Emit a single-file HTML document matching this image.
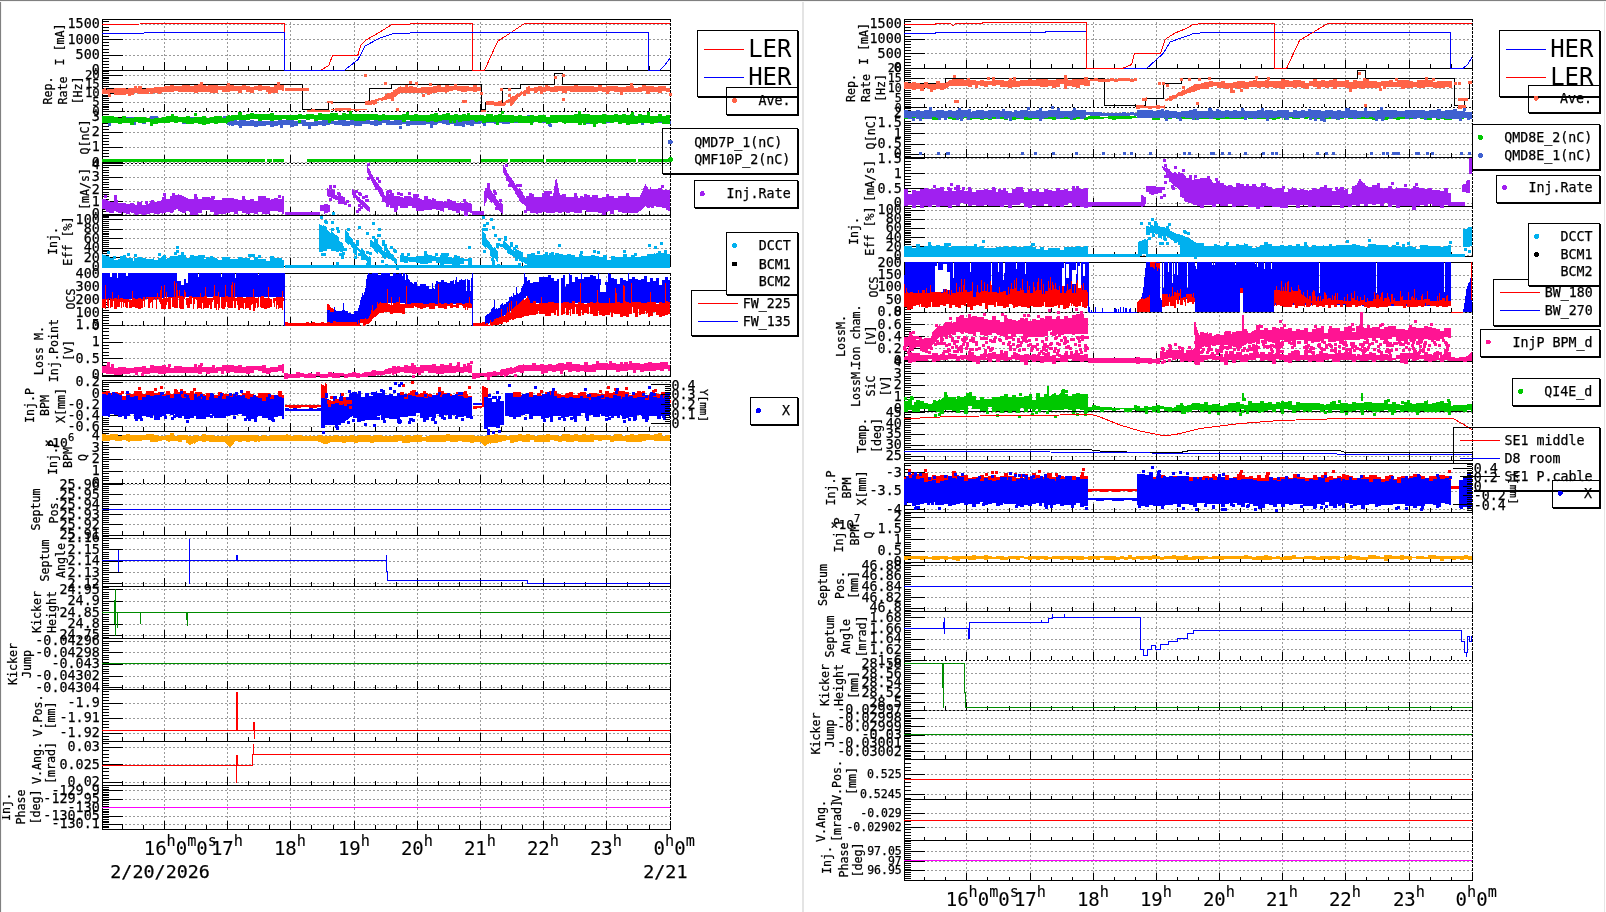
<!DOCTYPE html><html><head><meta charset="utf-8"><title>Injection monitor</title><style>html,body{margin:0;padding:0;background:#fff;overflow:hidden}svg{display:block}text{shape-rendering:auto;stroke:#000;stroke-width:0.25px}</style></head><body><svg width="1606" height="912" viewBox="0 0 1606 912" shape-rendering="crispEdges" style="will-change:transform"><rect width="1606" height="912" fill="#fff"/>
<path d="M103 24.5H670M103 39.5H670M103 55.5H670M164.5 20V70M227.5 20V70M290.5 20V70M354.5 20V70M417.5 20V70M480.5 20V70M543.5 20V70M606.5 20V70" stroke="#9a9a9a" stroke-dasharray="2 2" stroke-dashoffset="2" fill="none"/>
<path d="M103 75.5H670M103 84.5H670M103 93.5H670M103 102.5H670M164.5 71V111M227.5 71V111M290.5 71V111M354.5 71V111M417.5 71V111M480.5 71V111M543.5 71V111M606.5 71V111" stroke="#9a9a9a" stroke-dasharray="2 2" stroke-dashoffset="2" fill="none"/>
<path d="M103 117.5H670M103 132.5H670M103 147.5H670M103 162.5H670M164.5 112V163M227.5 112V163M290.5 112V163M354.5 112V163M417.5 112V163M480.5 112V163M543.5 112V163M606.5 112V163" stroke="#9a9a9a" stroke-dasharray="2 2" stroke-dashoffset="2" fill="none"/>
<path d="M103 165.5H670M103 177.5H670M103 189.5H670M103 201.5H670M103 214.5H670M164.5 164V215M227.5 164V215M290.5 164V215M354.5 164V215M417.5 164V215M480.5 164V215M543.5 164V215M606.5 164V215" stroke="#9a9a9a" stroke-dasharray="2 2" stroke-dashoffset="2" fill="none"/>
<path d="M103 219.5H670M103 229.5H670M103 238.5H670M103 248.5H670M103 257.5H670M164.5 216V266M227.5 216V266M290.5 216V266M354.5 216V266M417.5 216V266M480.5 216V266M543.5 216V266M606.5 216V266" stroke="#9a9a9a" stroke-dasharray="2 2" stroke-dashoffset="2" fill="none"/>
<path d="M103 273.5H670M103 286.5H670M103 299.5H670M103 312.5H670M164.5 274V325M227.5 274V325M290.5 274V325M354.5 274V325M417.5 274V325M480.5 274V325M543.5 274V325M606.5 274V325" stroke="#9a9a9a" stroke-dasharray="2 2" stroke-dashoffset="2" fill="none"/>
<path d="M103 325.5H670M103 342.5H670M103 358.5H670M103 375.5H670M164.5 326V376M227.5 326V376M290.5 326V376M354.5 326V376M417.5 326V376M480.5 326V376M543.5 326V376M606.5 326V376" stroke="#9a9a9a" stroke-dasharray="2 2" stroke-dashoffset="2" fill="none"/>
<path d="M103 382.5H670M103 393.5H670M103 404.5H670M103 415.5H670M103 426.5H670M164.5 381V431M227.5 381V431M290.5 381V431M354.5 381V431M417.5 381V431M480.5 381V431M543.5 381V431M606.5 381V431" stroke="#9a9a9a" stroke-dasharray="2 2" stroke-dashoffset="2" fill="none"/>
<path d="M103 435.5H670M103 447.5H670M103 459.5H670M103 471.5H670M164.5 432V483M227.5 432V483M290.5 432V483M354.5 432V483M417.5 432V483M480.5 432V483M543.5 432V483M606.5 432V483" stroke="#9a9a9a" stroke-dasharray="2 2" stroke-dashoffset="2" fill="none"/>
<path d="M103 484.5H670M103 494.5H670M103 504.5H670M103 514.5H670M103 524.5H670M164.5 484V535M227.5 484V535M290.5 484V535M354.5 484V535M417.5 484V535M480.5 484V535M543.5 484V535M606.5 484V535" stroke="#9a9a9a" stroke-dasharray="2 2" stroke-dashoffset="2" fill="none"/>
<path d="M103 538.5H670M103 549.5H670M103 561.5H670M103 572.5H670M103 583.5H670M164.5 536V586M227.5 536V586M290.5 536V586M354.5 536V586M417.5 536V586M480.5 536V586M543.5 536V586M606.5 536V586" stroke="#9a9a9a" stroke-dasharray="2 2" stroke-dashoffset="2" fill="none"/>
<path d="M103 589.5H670M103 601.5H670M103 612.5H670M103 624.5H670M103 635.5H670M164.5 587V638M227.5 587V638M290.5 587V638M354.5 587V638M417.5 587V638M480.5 587V638M543.5 587V638M606.5 587V638" stroke="#9a9a9a" stroke-dasharray="2 2" stroke-dashoffset="2" fill="none"/>
<path d="M103 641.5H670M103 652.5H670M103 664.5H670M103 676.5H670M103 687.5H670M164.5 639V689M227.5 639V689M290.5 639V689M354.5 639V689M417.5 639V689M480.5 639V689M543.5 639V689M606.5 639V689" stroke="#9a9a9a" stroke-dasharray="2 2" stroke-dashoffset="2" fill="none"/>
<path d="M103 703.5H670M103 718.5H670M103 733.5H670M164.5 690V741M227.5 690V741M290.5 690V741M354.5 690V741M417.5 690V741M480.5 690V741M543.5 690V741M606.5 690V741" stroke="#9a9a9a" stroke-dasharray="2 2" stroke-dashoffset="2" fill="none"/>
<path d="M103 747.5H670M103 764.5H670M103 782.5H670M164.5 742V785M227.5 742V785M290.5 742V785M354.5 742V785M417.5 742V785M480.5 742V785M543.5 742V785M606.5 742V785" stroke="#9a9a9a" stroke-dasharray="2 2" stroke-dashoffset="2" fill="none"/>
<path d="M103 790.5H670M103 799.5H670M103 807.5H670M103 816.5H670M103 824.5H670M164.5 786V829M227.5 786V829M290.5 786V829M354.5 786V829M417.5 786V829M480.5 786V829M543.5 786V829M606.5 786V829" stroke="#9a9a9a" stroke-dasharray="2 2" stroke-dashoffset="2" fill="none"/>
<path d="M905 24.5H1472M905 39.5H1472M905 53.5H1472M966.5 20V68M1030.5 20V68M1093.5 20V68M1156.5 20V68M1219.5 20V68M1282.5 20V68M1345.5 20V68M1409.5 20V68" stroke="#9a9a9a" stroke-dasharray="2 2" stroke-dashoffset="2" fill="none"/>
<path d="M905 68.5H1472M905 78.5H1472M905 88.5H1472M905 98.5H1472M966.5 69V107M1030.5 69V107M1093.5 69V107M1156.5 69V107M1219.5 69V107M1282.5 69V107M1345.5 69V107M1409.5 69V107" stroke="#9a9a9a" stroke-dasharray="2 2" stroke-dashoffset="2" fill="none"/>
<path d="M905 112.5H1472M905 123.5H1472M905 133.5H1472M905 144.5H1472M905 154.5H1472M966.5 108V157M1030.5 108V157M1093.5 108V157M1156.5 108V157M1219.5 108V157M1282.5 108V157M1345.5 108V157M1409.5 108V157" stroke="#9a9a9a" stroke-dasharray="2 2" stroke-dashoffset="2" fill="none"/>
<path d="M905 158.5H1472M905 173.5H1472M905 188.5H1472M905 203.5H1472M966.5 158V206M1030.5 158V206M1093.5 158V206M1156.5 158V206M1219.5 158V206M1282.5 158V206M1345.5 158V206M1409.5 158V206" stroke="#9a9a9a" stroke-dasharray="2 2" stroke-dashoffset="2" fill="none"/>
<path d="M905 210.5H1472M905 219.5H1472M905 228.5H1472M905 237.5H1472M905 246.5H1472M905 255.5H1472M966.5 207V256M1030.5 207V256M1093.5 207V256M1156.5 207V256M1219.5 207V256M1282.5 207V256M1345.5 207V256M1409.5 207V256" stroke="#9a9a9a" stroke-dasharray="2 2" stroke-dashoffset="2" fill="none"/>
<path d="M905 262.5H1472M905 275.5H1472M905 287.5H1472M905 299.5H1472M966.5 263V312M1030.5 263V312M1093.5 263V312M1156.5 263V312M1219.5 263V312M1282.5 263V312M1345.5 263V312M1409.5 263V312" stroke="#9a9a9a" stroke-dasharray="2 2" stroke-dashoffset="2" fill="none"/>
<path d="M905 312.5H1472M905 324.5H1472M905 336.5H1472M905 348.5H1472M905 360.5H1472M966.5 313V361M1030.5 313V361M1093.5 313V361M1156.5 313V361M1219.5 313V361M1282.5 313V361M1345.5 313V361M1409.5 313V361" stroke="#9a9a9a" stroke-dasharray="2 2" stroke-dashoffset="2" fill="none"/>
<path d="M905 361.5H1472M905 373.5H1472M905 385.5H1472M905 397.5H1472M905 408.5H1472M966.5 362V411M1030.5 362V411M1093.5 362V411M1156.5 362V411M1219.5 362V411M1282.5 362V411M1345.5 362V411M1409.5 362V411" stroke="#9a9a9a" stroke-dasharray="2 2" stroke-dashoffset="2" fill="none"/>
<path d="M905 412.5H1472M905 423.5H1472M905 434.5H1472M905 445.5H1472M905 456.5H1472M966.5 412V460M1030.5 412V460M1093.5 412V460M1156.5 412V460M1219.5 412V460M1282.5 412V460M1345.5 412V460M1409.5 412V460" stroke="#9a9a9a" stroke-dasharray="2 2" stroke-dashoffset="2" fill="none"/>
<path d="M905 472.5H1472M905 491.5H1472M905 509.5H1472M966.5 464V512M1030.5 464V512M1093.5 464V512M1156.5 464V512M1219.5 464V512M1282.5 464V512M1345.5 464V512M1409.5 464V512" stroke="#9a9a9a" stroke-dasharray="2 2" stroke-dashoffset="2" fill="none"/>
<path d="M905 517.5H1472M905 528.5H1472M905 539.5H1472M905 551.5H1472M966.5 513V562M1030.5 513V562M1093.5 513V562M1156.5 513V562M1219.5 513V562M1282.5 513V562M1345.5 513V562M1409.5 513V562" stroke="#9a9a9a" stroke-dasharray="2 2" stroke-dashoffset="2" fill="none"/>
<path d="M905 565.5H1472M905 576.5H1472M905 586.5H1472M905 597.5H1472M905 608.5H1472M966.5 563V611M1030.5 563V611M1093.5 563V611M1156.5 563V611M1219.5 563V611M1282.5 563V611M1345.5 563V611M1409.5 563V611" stroke="#9a9a9a" stroke-dasharray="2 2" stroke-dashoffset="2" fill="none"/>
<path d="M905 617.5H1472M905 628.5H1472M905 639.5H1472M905 649.5H1472M966.5 612V660M1030.5 612V660M1093.5 612V660M1156.5 612V660M1219.5 612V660M1282.5 612V660M1345.5 612V660M1409.5 612V660" stroke="#9a9a9a" stroke-dasharray="2 2" stroke-dashoffset="2" fill="none"/>
<path d="M905 663.5H1472M905 673.5H1472M905 683.5H1472M905 693.5H1472M905 702.5H1472M966.5 661V710M1030.5 661V710M1093.5 661V710M1156.5 661V710M1219.5 661V710M1282.5 661V710M1345.5 661V710M1409.5 661V710" stroke="#9a9a9a" stroke-dasharray="2 2" stroke-dashoffset="2" fill="none"/>
<path d="M905 710.5H1472M905 718.5H1472M905 726.5H1472M905 735.5H1472M905 743.5H1472M905 751.5H1472M966.5 711V759M1030.5 711V759M1093.5 711V759M1156.5 711V759M1219.5 711V759M1282.5 711V759M1345.5 711V759M1409.5 711V759" stroke="#9a9a9a" stroke-dasharray="2 2" stroke-dashoffset="2" fill="none"/>
<path d="M905 774.5H1472M905 794.5H1472M966.5 760V799M1030.5 760V799M1093.5 760V799M1156.5 760V799M1219.5 760V799M1282.5 760V799M1345.5 760V799M1409.5 760V799" stroke="#9a9a9a" stroke-dasharray="2 2" stroke-dashoffset="2" fill="none"/>
<path d="M905 813.5H1472M905 827.5H1472M966.5 800V840M1030.5 800V840M1093.5 800V840M1156.5 800V840M1219.5 800V840M1282.5 800V840M1345.5 800V840M1409.5 800V840" stroke="#9a9a9a" stroke-dasharray="2 2" stroke-dashoffset="2" fill="none"/>
<path d="M905 851.5H1472M905 861.5H1472M905 870.5H1472M966.5 841V880M1030.5 841V880M1093.5 841V880M1156.5 841V880M1219.5 841V880M1282.5 841V880M1345.5 841V880M1409.5 841V880" stroke="#9a9a9a" stroke-dasharray="2 2" stroke-dashoffset="2" fill="none"/>
<path d="M102.5 19V71M102 19.5H671M103 24.5h20M103 39.5h20M103 55.5h20M103 70.5h20M103 70.5h6M103 67.5h6M103 64.5h6M103 61.5h6M103 58.5h6M103 55.5h6M103 52.5h6M103 49.5h6M103 45.5h6M103 42.5h6M103 39.5h6M103 36.5h6M103 33.5h6M103 30.5h6M103 27.5h6M103 24.5h6M103 21.5h6M122.5 70v-4M143.5 70v-4M164.5 70v-8M185.5 70v-4M206.5 70v-4M227.5 70v-8M248.5 70v-4M269.5 70v-4M290.5 70v-8M311.5 70v-4M333.5 70v-4M354.5 70v-8M375.5 70v-4M396.5 70v-4M417.5 70v-8M438.5 70v-4M459.5 70v-4M480.5 70v-8M501.5 70v-4M522.5 70v-4M543.5 70v-8M564.5 70v-4M585.5 70v-4M606.5 70v-8M627.5 70v-4M649.5 70v-4M670.5 70v-8" stroke="#000" fill="none"/>
<path d="M102 70.5H671" stroke="#000" fill="none"/>
<path d="M670.5 19V71" stroke="#000" stroke-dasharray="3 1" fill="none"/>
<g font-family="'DejaVu Sans Mono','Liberation Mono',monospace" font-size="13.4" text-anchor="end"><text x="99.8" y="28.4">1500</text><text x="99.8" y="43.7">1000</text><text x="99.8" y="59.1">500</text><text x="99.8" y="74.4">0</text></g>
<g font-family="'DejaVu Sans Mono','Liberation Mono',monospace" font-size="11.7" text-anchor="middle"><text transform="translate(64.3 44.5) rotate(-90)">I [mA]</text></g>
<path d="M102.5 70V112M102 70.5H671M103 75.5h20M103 84.5h20M103 93.5h20M103 102.5h20M103 111.5h20M103 111.5h6M103 109.5h6M103 107.5h6M103 106.5h6M103 104.5h6M103 102.5h6M103 100.5h6M103 98.5h6M103 96.5h6M103 95.5h6M103 93.5h6M103 91.5h6M103 89.5h6M103 88.5h6M103 86.5h6M103 84.5h6M103 82.5h6M103 80.5h6M103 78.5h6M103 77.5h6M103 75.5h6M103 73.5h6M103 71.5h6M103 70.5h6M122.5 111v-3M143.5 111v-3M164.5 111v-7M185.5 111v-3M206.5 111v-3M227.5 111v-7M248.5 111v-3M269.5 111v-3M290.5 111v-7M311.5 111v-3M333.5 111v-3M354.5 111v-7M375.5 111v-3M396.5 111v-3M417.5 111v-7M438.5 111v-3M459.5 111v-3M480.5 111v-7M501.5 111v-3M522.5 111v-3M543.5 111v-7M564.5 111v-3M585.5 111v-3M606.5 111v-7M627.5 111v-3M649.5 111v-3M670.5 111v-7" stroke="#000" fill="none"/>
<path d="M103 111.5H671" stroke="#000" stroke-dasharray="2 2" fill="none"/>
<path d="M102 111.5H123" stroke="#000" fill="none"/>
<path d="M670.5 70V112" stroke="#000" stroke-dasharray="3 1" fill="none"/>
<g font-family="'DejaVu Sans Mono','Liberation Mono',monospace" font-size="12.4" text-anchor="end"><text x="99.8" y="79.0">20</text><text x="99.8" y="88.0">15</text><text x="99.8" y="97.0">10</text><text x="99.8" y="106.0">5</text><text x="99.8" y="115.0">0</text></g>
<g font-family="'DejaVu Sans Mono','Liberation Mono',monospace" font-size="11.7" text-anchor="middle"><text transform="translate(52.3 90.5) rotate(-90)">Rep.</text><text transform="translate(67.3 90.5) rotate(-90)">Rate</text><text transform="translate(82.0 90.5) rotate(-90)">[Hz]</text></g>
<path d="M102.5 111V164M103 117.5h20M103 132.5h20M103 147.5h20M103 162.5h20M103 162.5h6M103 159.5h6M103 156.5h6M103 153.5h6M103 150.5h6M103 147.5h6M103 144.5h6M103 141.5h6M103 138.5h6M103 135.5h6M103 132.5h6M103 129.5h6M103 126.5h6M103 123.5h6M103 120.5h6M103 117.5h6M103 114.5h6M103 111.5h6M122.5 163v-4M143.5 163v-4M164.5 163v-8M185.5 163v-4M206.5 163v-4M227.5 163v-8M248.5 163v-4M269.5 163v-4M290.5 163v-8M311.5 163v-4M333.5 163v-4M354.5 163v-8M375.5 163v-4M396.5 163v-4M417.5 163v-8M438.5 163v-4M459.5 163v-4M480.5 163v-8M501.5 163v-4M522.5 163v-4M543.5 163v-8M564.5 163v-4M585.5 163v-4M606.5 163v-8M627.5 163v-4M649.5 163v-4M670.5 163v-8" stroke="#000" fill="none"/>
<path d="M103 163.5H671" stroke="#000" stroke-dasharray="2 2" fill="none"/>
<path d="M102 163.5H123" stroke="#000" fill="none"/>
<path d="M670.5 111V164" stroke="#000" stroke-dasharray="3 1" fill="none"/>
<g font-family="'DejaVu Sans Mono','Liberation Mono',monospace" font-size="13.4" text-anchor="end"><text x="99.8" y="121.2">3</text><text x="99.8" y="136.3">2</text><text x="99.8" y="151.4">1</text><text x="99.8" y="166.5">0</text></g>
<g font-family="'DejaVu Sans Mono','Liberation Mono',monospace" font-size="11.7" text-anchor="middle"><text transform="translate(88.5 137.0) rotate(-90)">Q[nC]</text></g>
<path d="M102.5 163V216M103 165.5h20M103 177.5h20M103 189.5h20M103 201.5h20M103 214.5h20M103 214.5h6M103 211.5h6M103 209.5h6M103 206.5h6M103 204.5h6M103 201.5h6M103 199.5h6M103 196.5h6M103 194.5h6M103 192.5h6M103 189.5h6M103 187.5h6M103 184.5h6M103 182.5h6M103 179.5h6M103 177.5h6M103 175.5h6M103 172.5h6M103 170.5h6M103 167.5h6M103 165.5h6M122.5 215v-4M143.5 215v-4M164.5 215v-8M185.5 215v-4M206.5 215v-4M227.5 215v-8M248.5 215v-4M269.5 215v-4M290.5 215v-8M311.5 215v-4M333.5 215v-4M354.5 215v-8M375.5 215v-4M396.5 215v-4M417.5 215v-8M438.5 215v-4M459.5 215v-4M480.5 215v-8M501.5 215v-4M522.5 215v-4M543.5 215v-8M564.5 215v-4M585.5 215v-4M606.5 215v-8M627.5 215v-4M649.5 215v-4M670.5 215v-8" stroke="#000" fill="none"/>
<path d="M102 215.5H671" stroke="#000" fill="none"/>
<path d="M670.5 163V216" stroke="#000" stroke-dasharray="3 1" fill="none"/>
<g font-family="'DejaVu Sans Mono','Liberation Mono',monospace" font-size="13.4" text-anchor="end"><text x="99.8" y="169.2">4</text><text x="99.8" y="181.4">3</text><text x="99.8" y="193.6">2</text><text x="99.8" y="205.7">1</text><text x="99.8" y="217.9">0</text></g>
<g font-family="'DejaVu Sans Mono','Liberation Mono',monospace" font-size="11.7" text-anchor="middle"><text transform="translate(88.5 189.0) rotate(-90)">[mA/s]</text></g>
<path d="M102.5 215V267M102 215.5H671M103 219.5h20M103 229.5h20M103 238.5h20M103 248.5h20M103 257.5h20M103 266.5h20M103 266.5h6M103 265.5h6M103 263.5h6M103 261.5h6M103 259.5h6M103 257.5h6M103 255.5h6M103 253.5h6M103 251.5h6M103 250.5h6M103 248.5h6M103 246.5h6M103 244.5h6M103 242.5h6M103 240.5h6M103 238.5h6M103 236.5h6M103 234.5h6M103 233.5h6M103 231.5h6M103 229.5h6M103 227.5h6M103 225.5h6M103 223.5h6M103 221.5h6M103 219.5h6M103 217.5h6M103 216.5h6M122.5 266v-4M143.5 266v-4M164.5 266v-8M185.5 266v-4M206.5 266v-4M227.5 266v-8M248.5 266v-4M269.5 266v-4M290.5 266v-8M311.5 266v-4M333.5 266v-4M354.5 266v-8M375.5 266v-4M396.5 266v-4M417.5 266v-8M438.5 266v-4M459.5 266v-4M480.5 266v-8M501.5 266v-4M522.5 266v-4M543.5 266v-8M564.5 266v-4M585.5 266v-4M606.5 266v-8M627.5 266v-4M649.5 266v-4M670.5 266v-8" stroke="#000" fill="none"/>
<path d="M102 266.5H671" stroke="#000" fill="none"/>
<path d="M670.5 215V267" stroke="#000" stroke-dasharray="3 1" fill="none"/>
<g font-family="'DejaVu Sans Mono','Liberation Mono',monospace" font-size="13.4" text-anchor="end"><text x="99.8" y="223.7">100</text><text x="99.8" y="233.1">80</text><text x="99.8" y="242.6">60</text><text x="99.8" y="252.0">40</text><text x="99.8" y="261.5">20</text><text x="99.8" y="270.9">0</text></g>
<g font-family="'DejaVu Sans Mono','Liberation Mono',monospace" font-size="11.7" text-anchor="middle"><text transform="translate(57.0 241.0) rotate(-90)">Inj.</text><text transform="translate(72.0 241.0) rotate(-90)">Eff [%]</text></g>
<path d="M102.5 273V326M102 273.5H671M103 273.5h20M103 286.5h20M103 299.5h20M103 312.5h20M103 325.5h20M103 325.5h6M103 323.5h6M103 320.5h6M103 317.5h6M103 315.5h6M103 312.5h6M103 310.5h6M103 307.5h6M103 304.5h6M103 302.5h6M103 299.5h6M103 297.5h6M103 294.5h6M103 291.5h6M103 289.5h6M103 286.5h6M103 284.5h6M103 281.5h6M103 278.5h6M103 276.5h6M103 273.5h6M122.5 325v-4M143.5 325v-4M164.5 325v-8M185.5 325v-4M206.5 325v-4M227.5 325v-8M248.5 325v-4M269.5 325v-4M290.5 325v-8M311.5 325v-4M333.5 325v-4M354.5 325v-8M375.5 325v-4M396.5 325v-4M417.5 325v-8M438.5 325v-4M459.5 325v-4M480.5 325v-8M501.5 325v-4M522.5 325v-4M543.5 325v-8M564.5 325v-4M585.5 325v-4M606.5 325v-8M627.5 325v-4M649.5 325v-4M670.5 325v-8" stroke="#000" fill="none"/>
<path d="M103 325.5H671" stroke="#000" stroke-dasharray="2 2" fill="none"/>
<path d="M102 325.5H123" stroke="#000" fill="none"/>
<path d="M670.5 273V326" stroke="#000" stroke-dasharray="3 1" fill="none"/>
<g font-family="'DejaVu Sans Mono','Liberation Mono',monospace" font-size="13.4" text-anchor="end"><text x="99.8" y="277.7">400</text><text x="99.8" y="290.7">300</text><text x="99.8" y="303.6">200</text><text x="99.8" y="316.6">100</text><text x="99.8" y="329.6">0</text></g>
<g font-family="'DejaVu Sans Mono','Liberation Mono',monospace" font-size="11.7" text-anchor="middle"><text transform="translate(75.0 299.0) rotate(-90)">OCS</text></g>
<path d="M102.5 325V377M103 325.5h20M103 342.5h20M103 358.5h20M103 375.5h20M103 375.5h6M103 372.5h6M103 368.5h6M103 365.5h6M103 362.5h6M103 358.5h6M103 355.5h6M103 352.5h6M103 348.5h6M103 345.5h6M103 342.5h6M103 338.5h6M103 335.5h6M103 331.5h6M103 328.5h6M103 325.5h6M122.5 376v-4M143.5 376v-4M164.5 376v-8M185.5 376v-4M206.5 376v-4M227.5 376v-8M248.5 376v-4M269.5 376v-4M290.5 376v-8M311.5 376v-4M333.5 376v-4M354.5 376v-8M375.5 376v-4M396.5 376v-4M417.5 376v-8M438.5 376v-4M459.5 376v-4M480.5 376v-8M501.5 376v-4M522.5 376v-4M543.5 376v-8M564.5 376v-4M585.5 376v-4M606.5 376v-8M627.5 376v-4M649.5 376v-4M670.5 376v-8" stroke="#000" fill="none"/>
<path d="M102 376.5H671" stroke="#000" fill="none"/>
<path d="M670.5 325V377" stroke="#000" stroke-dasharray="3 1" fill="none"/>
<g font-family="'DejaVu Sans Mono','Liberation Mono',monospace" font-size="13.4" text-anchor="end"><text x="99.8" y="329.1">1.5</text><text x="99.8" y="345.9">1</text><text x="99.8" y="362.6">0.5</text><text x="99.8" y="379.4">0</text></g>
<g font-family="'DejaVu Sans Mono','Liberation Mono',monospace" font-size="11.7" text-anchor="middle"><text transform="translate(42.5 350.5) rotate(-90)">Loss M.</text><text transform="translate(57.5 350.5) rotate(-90)">Inj.Point</text><text transform="translate(72.5 350.5) rotate(-90)">[V]</text></g>
<path d="M102.5 380V432M102 380.5H671M103 382.5h20M103 393.5h20M103 404.5h20M103 415.5h20M103 426.5h20M103 431.5h6M103 429.5h6M103 426.5h6M103 424.5h6M103 422.5h6M103 420.5h6M103 418.5h6M103 415.5h6M103 413.5h6M103 411.5h6M103 409.5h6M103 406.5h6M103 404.5h6M103 402.5h6M103 400.5h6M103 398.5h6M103 395.5h6M103 393.5h6M103 391.5h6M103 389.5h6M103 386.5h6M103 384.5h6M103 382.5h6M103 380.5h6M122.5 431v-4M143.5 431v-4M164.5 431v-8M185.5 431v-4M206.5 431v-4M227.5 431v-8M248.5 431v-4M269.5 431v-4M290.5 431v-8M311.5 431v-4M333.5 431v-4M354.5 431v-8M375.5 431v-4M396.5 431v-4M417.5 431v-8M438.5 431v-4M459.5 431v-4M480.5 431v-8M501.5 431v-4M522.5 431v-4M543.5 431v-8M564.5 431v-4M585.5 431v-4M606.5 431v-8M627.5 431v-4M649.5 431v-4M670.5 431v-8" stroke="#000" fill="none"/>
<path d="M102 431.5H671" stroke="#000" fill="none"/>
<path d="M670.5 380V432" stroke="#000" stroke-dasharray="3 1" fill="none"/>
<g font-family="'DejaVu Sans Mono','Liberation Mono',monospace" font-size="13.4" text-anchor="end"><text x="99.8" y="386.4">0.2</text><text x="99.8" y="397.5">0</text><text x="99.8" y="408.6">-0.2</text><text x="99.8" y="419.7">-0.4</text><text x="99.8" y="430.8">-0.6</text></g>
<g font-family="'DejaVu Sans Mono','Liberation Mono',monospace" font-size="11.7" text-anchor="middle"><text transform="translate(33.8 405.5) rotate(-90)">Inj.P</text><text transform="translate(49.3 405.5) rotate(-90)">BPM</text><text transform="translate(64.8 405.5) rotate(-90)">X[mm]</text></g>
<path d="M102.5 431V484M102 431.5H671M103 435.5h20M103 447.5h20M103 459.5h20M103 471.5h20M103 483.5h20M103 483.5h6M103 480.5h6M103 478.5h6M103 476.5h6M103 473.5h6M103 471.5h6M103 468.5h6M103 466.5h6M103 464.5h6M103 461.5h6M103 459.5h6M103 457.5h6M103 454.5h6M103 452.5h6M103 449.5h6M103 447.5h6M103 445.5h6M103 442.5h6M103 440.5h6M103 438.5h6M103 435.5h6M103 433.5h6M122.5 483v-4M143.5 483v-4M164.5 483v-8M185.5 483v-4M206.5 483v-4M227.5 483v-8M248.5 483v-4M269.5 483v-4M290.5 483v-8M311.5 483v-4M333.5 483v-4M354.5 483v-8M375.5 483v-4M396.5 483v-4M417.5 483v-8M438.5 483v-4M459.5 483v-4M480.5 483v-8M501.5 483v-4M522.5 483v-4M543.5 483v-8M564.5 483v-4M585.5 483v-4M606.5 483v-8M627.5 483v-4M649.5 483v-4M670.5 483v-8" stroke="#000" fill="none"/>
<path d="M103 483.5H671" stroke="#000" stroke-dasharray="2 2" fill="none"/>
<path d="M102 483.5H123" stroke="#000" fill="none"/>
<path d="M670.5 431V484" stroke="#000" stroke-dasharray="3 1" fill="none"/>
<g font-family="'DejaVu Sans Mono','Liberation Mono',monospace" font-size="13.4" text-anchor="end"><text x="99.8" y="439.6">4</text><text x="99.8" y="451.5">3</text><text x="99.8" y="463.4">2</text><text x="99.8" y="475.2">1</text><text x="99.8" y="487.1">0</text></g>
<g font-family="'DejaVu Sans Mono','Liberation Mono',monospace" font-size="11.7" text-anchor="middle"><text transform="translate(56.5 457.5) rotate(-90)">Inj.P</text><text transform="translate(72.3 457.5) rotate(-90)">BPM</text><text transform="translate(87.0 457.5) rotate(-90)">Q</text></g>
<path d="M102.5 483V536M103 484.5h20M103 494.5h20M103 504.5h20M103 514.5h20M103 524.5h20M103 535.5h20M103 535.5h6M103 533.5h6M103 531.5h6M103 529.5h6M103 527.5h6M103 524.5h6M103 522.5h6M103 520.5h6M103 518.5h6M103 516.5h6M103 514.5h6M103 512.5h6M103 510.5h6M103 508.5h6M103 506.5h6M103 504.5h6M103 502.5h6M103 500.5h6M103 498.5h6M103 496.5h6M103 494.5h6M103 492.5h6M103 490.5h6M103 488.5h6M103 486.5h6M103 484.5h6M122.5 535v-4M143.5 535v-4M164.5 535v-8M185.5 535v-4M206.5 535v-4M227.5 535v-8M248.5 535v-4M269.5 535v-4M290.5 535v-8M311.5 535v-4M333.5 535v-4M354.5 535v-8M375.5 535v-4M396.5 535v-4M417.5 535v-8M438.5 535v-4M459.5 535v-4M480.5 535v-8M501.5 535v-4M522.5 535v-4M543.5 535v-8M564.5 535v-4M585.5 535v-4M606.5 535v-8M627.5 535v-4M649.5 535v-4M670.5 535v-8" stroke="#000" fill="none"/>
<path d="M102 535.5H671" stroke="#000" fill="none"/>
<path d="M670.5 483V536" stroke="#000" stroke-dasharray="3 1" fill="none"/>
<g font-family="'DejaVu Sans Mono','Liberation Mono',monospace" font-size="13.4" text-anchor="end"><text x="99.8" y="488.5">25.96</text><text x="99.8" y="498.6">25.95</text><text x="99.8" y="508.7">25.94</text><text x="99.8" y="518.8">25.93</text><text x="99.8" y="528.9">25.92</text><text x="99.8" y="539.0">25.91</text></g>
<g font-family="'DejaVu Sans Mono','Liberation Mono',monospace" font-size="11.7" text-anchor="middle"><text transform="translate(40.0 509.5) rotate(-90)">Septum</text><text transform="translate(57.5 509.5) rotate(-90)">Pos.</text></g>
<path d="M102.5 535V587M102 535.5H671M103 538.5h20M103 549.5h20M103 561.5h20M103 572.5h20M103 583.5h20M103 586.5h6M103 583.5h6M103 581.5h6M103 579.5h6M103 577.5h6M103 574.5h6M103 572.5h6M103 570.5h6M103 568.5h6M103 565.5h6M103 563.5h6M103 561.5h6M103 558.5h6M103 556.5h6M103 554.5h6M103 552.5h6M103 549.5h6M103 547.5h6M103 545.5h6M103 543.5h6M103 540.5h6M103 538.5h6M103 536.5h6M122.5 586v-4M143.5 586v-4M164.5 586v-8M185.5 586v-4M206.5 586v-4M227.5 586v-8M248.5 586v-4M269.5 586v-4M290.5 586v-8M311.5 586v-4M333.5 586v-4M354.5 586v-8M375.5 586v-4M396.5 586v-4M417.5 586v-8M438.5 586v-4M459.5 586v-4M480.5 586v-8M501.5 586v-4M522.5 586v-4M543.5 586v-8M564.5 586v-4M585.5 586v-4M606.5 586v-8M627.5 586v-4M649.5 586v-4M670.5 586v-8" stroke="#000" fill="none"/>
<path d="M102 586.5H671" stroke="#000" fill="none"/>
<path d="M670.5 535V587" stroke="#000" stroke-dasharray="3 1" fill="none"/>
<g font-family="'DejaVu Sans Mono','Liberation Mono',monospace" font-size="13.4" text-anchor="end"><text x="99.8" y="542.4">2.16</text><text x="99.8" y="553.8">2.15</text><text x="99.8" y="565.1">2.14</text><text x="99.8" y="576.5">2.13</text><text x="99.8" y="587.8">2.12</text></g>
<g font-family="'DejaVu Sans Mono','Liberation Mono',monospace" font-size="11.7" text-anchor="middle"><text transform="translate(48.5 560.5) rotate(-90)">Septum</text><text transform="translate(64.5 560.5) rotate(-90)">Angle</text></g>
<path d="M102.5 586V639M102 586.5H671M103 589.5h20M103 601.5h20M103 612.5h20M103 624.5h20M103 635.5h20M103 637.5h6M103 635.5h6M103 633.5h6M103 630.5h6M103 628.5h6M103 626.5h6M103 624.5h6M103 621.5h6M103 619.5h6M103 617.5h6M103 614.5h6M103 612.5h6M103 610.5h6M103 608.5h6M103 605.5h6M103 603.5h6M103 601.5h6M103 598.5h6M103 596.5h6M103 594.5h6M103 592.5h6M103 589.5h6M103 587.5h6M122.5 638v-4M143.5 638v-4M164.5 638v-8M185.5 638v-4M206.5 638v-4M227.5 638v-8M248.5 638v-4M269.5 638v-4M290.5 638v-8M311.5 638v-4M333.5 638v-4M354.5 638v-8M375.5 638v-4M396.5 638v-4M417.5 638v-8M438.5 638v-4M459.5 638v-4M480.5 638v-8M501.5 638v-4M522.5 638v-4M543.5 638v-8M564.5 638v-4M585.5 638v-4M606.5 638v-8M627.5 638v-4M649.5 638v-4M670.5 638v-8" stroke="#000" fill="none"/>
<path d="M102 638.5H671" stroke="#000" fill="none"/>
<path d="M670.5 586V639" stroke="#000" stroke-dasharray="3 1" fill="none"/>
<g font-family="'DejaVu Sans Mono','Liberation Mono',monospace" font-size="13.4" text-anchor="end"><text x="99.8" y="593.7">24.95</text><text x="99.8" y="605.1">24.9</text><text x="99.8" y="616.5">24.85</text><text x="99.8" y="627.9">24.8</text><text x="99.8" y="639.3">24.75</text></g>
<g font-family="'DejaVu Sans Mono','Liberation Mono',monospace" font-size="11.7" text-anchor="middle"><text transform="translate(41.3 612.0) rotate(-90)">Kicker</text><text transform="translate(56.0 612.0) rotate(-90)">Height</text></g>
<path d="M102.5 638V690M102 638.5H671M103 641.5h20M103 652.5h20M103 664.5h20M103 676.5h20M103 687.5h20M103 687.5h6M103 685.5h6M103 683.5h6M103 680.5h6M103 678.5h6M103 676.5h6M103 673.5h6M103 671.5h6M103 669.5h6M103 666.5h6M103 664.5h6M103 662.5h6M103 659.5h6M103 657.5h6M103 655.5h6M103 652.5h6M103 650.5h6M103 648.5h6M103 645.5h6M103 643.5h6M103 641.5h6M103 638.5h6M122.5 689v-4M143.5 689v-4M164.5 689v-8M185.5 689v-4M206.5 689v-4M227.5 689v-8M248.5 689v-4M269.5 689v-4M290.5 689v-8M311.5 689v-4M333.5 689v-4M354.5 689v-8M375.5 689v-4M396.5 689v-4M417.5 689v-8M438.5 689v-4M459.5 689v-4M480.5 689v-8M501.5 689v-4M522.5 689v-4M543.5 689v-8M564.5 689v-4M585.5 689v-4M606.5 689v-8M627.5 689v-4M649.5 689v-4M670.5 689v-8" stroke="#000" fill="none"/>
<path d="M102 689.5H671" stroke="#000" fill="none"/>
<path d="M670.5 638V690" stroke="#000" stroke-dasharray="3 1" fill="none"/>
<g font-family="'DejaVu Sans Mono','Liberation Mono',monospace" font-size="13.4" text-anchor="end"><text x="99.8" y="645.0">-0.04296</text><text x="99.8" y="656.7">-0.04298</text><text x="99.8" y="668.3">-0.043</text><text x="99.8" y="680.0">-0.04302</text><text x="99.8" y="691.7">-0.04304</text></g>
<g font-family="'DejaVu Sans Mono','Liberation Mono',monospace" font-size="11.7" text-anchor="middle"><text transform="translate(17.2 664.0) rotate(-90)">Kicker</text><text transform="translate(30.5 664.0) rotate(-90)">Jump</text></g>
<path d="M102.5 689V742M102 689.5H671M103 703.5h20M103 718.5h20M103 733.5h20M103 739.5h6M103 736.5h6M103 733.5h6M103 730.5h6M103 727.5h6M103 724.5h6M103 721.5h6M103 718.5h6M103 715.5h6M103 712.5h6M103 709.5h6M103 706.5h6M103 703.5h6M103 700.5h6M103 697.5h6M103 694.5h6M103 691.5h6M122.5 741v-4M143.5 741v-4M164.5 741v-8M185.5 741v-4M206.5 741v-4M227.5 741v-8M248.5 741v-4M269.5 741v-4M290.5 741v-8M311.5 741v-4M333.5 741v-4M354.5 741v-8M375.5 741v-4M396.5 741v-4M417.5 741v-8M438.5 741v-4M459.5 741v-4M480.5 741v-8M501.5 741v-4M522.5 741v-4M543.5 741v-8M564.5 741v-4M585.5 741v-4M606.5 741v-8M627.5 741v-4M649.5 741v-4M670.5 741v-8" stroke="#000" fill="none"/>
<path d="M102 741.5H671" stroke="#000" fill="none"/>
<path d="M670.5 689V742" stroke="#000" stroke-dasharray="3 1" fill="none"/>
<g font-family="'DejaVu Sans Mono','Liberation Mono',monospace" font-size="13.4" text-anchor="end"><text x="99.8" y="707.3">-1.9</text><text x="99.8" y="722.1">-1.91</text><text x="99.8" y="737.0">-1.92</text></g>
<g font-family="'DejaVu Sans Mono','Liberation Mono',monospace" font-size="11.7" text-anchor="middle"><text transform="translate(41.8 715.5) rotate(-90)">V.Pos.</text><text transform="translate(55.3 715.5) rotate(-90)">[mm]</text></g>
<path d="M102.5 741V786M102 741.5H671M103 747.5h20M103 764.5h20M103 782.5h20M103 785.5h6M103 782.5h6M103 778.5h6M103 775.5h6M103 771.5h6M103 768.5h6M103 764.5h6M103 761.5h6M103 757.5h6M103 754.5h6M103 750.5h6M103 747.5h6M103 743.5h6M122.5 785v-4M143.5 785v-4M164.5 785v-8M185.5 785v-4M206.5 785v-4M227.5 785v-8M248.5 785v-4M269.5 785v-4M290.5 785v-8M311.5 785v-4M333.5 785v-4M354.5 785v-8M375.5 785v-4M396.5 785v-4M417.5 785v-8M438.5 785v-4M459.5 785v-4M480.5 785v-8M501.5 785v-4M522.5 785v-4M543.5 785v-8M564.5 785v-4M585.5 785v-4M606.5 785v-8M627.5 785v-4M649.5 785v-4M670.5 785v-8" stroke="#000" fill="none"/>
<path d="M102 785.5H671" stroke="#000" fill="none"/>
<path d="M670.5 741V786" stroke="#000" stroke-dasharray="3 1" fill="none"/>
<g font-family="'DejaVu Sans Mono','Liberation Mono',monospace" font-size="13.4" text-anchor="end"><text x="99.8" y="751.2">0.03</text><text x="99.8" y="768.7">0.025</text><text x="99.8" y="786.2">0.02</text></g>
<g font-family="'DejaVu Sans Mono','Liberation Mono',monospace" font-size="11.7" text-anchor="middle"><text transform="translate(40.5 763.0) rotate(-90)">V.Ang.</text><text transform="translate(55.3 763.0) rotate(-90)">[mrad]</text></g>
<path d="M102.5 785V830M102 785.5H671M103 790.5h20M103 799.5h20M103 807.5h20M103 816.5h20M103 824.5h20M103 829.5h6M103 827.5h6M103 826.5h6M103 824.5h6M103 822.5h6M103 821.5h6M103 819.5h6M103 817.5h6M103 816.5h6M103 814.5h6M103 812.5h6M103 811.5h6M103 809.5h6M103 807.5h6M103 806.5h6M103 804.5h6M103 802.5h6M103 800.5h6M103 799.5h6M103 797.5h6M103 795.5h6M103 794.5h6M103 792.5h6M103 790.5h6M103 789.5h6M103 787.5h6M103 785.5h6M122.5 829v-4M143.5 829v-4M164.5 829v-8M185.5 829v-4M206.5 829v-4M227.5 829v-8M248.5 829v-4M269.5 829v-4M290.5 829v-8M311.5 829v-4M333.5 829v-4M354.5 829v-8M375.5 829v-4M396.5 829v-4M417.5 829v-8M438.5 829v-4M459.5 829v-4M480.5 829v-8M501.5 829v-4M522.5 829v-4M543.5 829v-8M564.5 829v-4M585.5 829v-4M606.5 829v-8M627.5 829v-4M649.5 829v-4M670.5 829v-8" stroke="#000" fill="none"/>
<path d="M102 829.5H671" stroke="#000" fill="none"/>
<path d="M670.5 785V830" stroke="#000" stroke-dasharray="3 1" fill="none"/>
<g font-family="'DejaVu Sans Mono','Liberation Mono',monospace" font-size="13.4" text-anchor="end"><text x="99.8" y="794.8">-129.9</text><text x="99.8" y="803.2">-129.95</text><text x="99.8" y="811.6">-130</text><text x="99.8" y="820.0">-130.05</text><text x="99.8" y="828.4">-130.1</text></g>
<g font-family="'DejaVu Sans Mono','Liberation Mono',monospace" font-size="11.7" text-anchor="middle"><text transform="translate(10.0 807.0) rotate(-90)">Inj.</text><text transform="translate(25.3 807.0) rotate(-90)">Phase</text><text transform="translate(40.0 807.0) rotate(-90)">[deg]</text></g>
<path d="M904.5 19V69M904 19.5H1473M905 24.5h20M905 39.5h20M905 53.5h20M905 68.5h20M905 68.5h6M905 65.5h6M905 62.5h6M905 59.5h6M905 56.5h6M905 53.5h6M905 50.5h6M905 47.5h6M905 44.5h6M905 41.5h6M905 39.5h6M905 36.5h6M905 33.5h6M905 30.5h6M905 27.5h6M905 24.5h6M905 21.5h6M924.5 68v-4M945.5 68v-4M966.5 68v-8M987.5 68v-4M1009.5 68v-4M1030.5 68v-8M1051.5 68v-4M1072.5 68v-4M1093.5 68v-8M1114.5 68v-4M1135.5 68v-4M1156.5 68v-8M1177.5 68v-4M1198.5 68v-4M1219.5 68v-8M1240.5 68v-4M1261.5 68v-4M1282.5 68v-8M1303.5 68v-4M1324.5 68v-4M1345.5 68v-8M1366.5 68v-4M1388.5 68v-4M1409.5 68v-8M1430.5 68v-4M1451.5 68v-4M1472.5 68v-8" stroke="#000" fill="none"/>
<path d="M904 68.5H1473" stroke="#000" fill="none"/>
<path d="M1472.5 19V69" stroke="#000" stroke-dasharray="3 1" fill="none"/>
<g font-family="'DejaVu Sans Mono','Liberation Mono',monospace" font-size="13.4" text-anchor="end"><text x="901.8" y="28.2">1500</text><text x="901.8" y="42.9">1000</text><text x="901.8" y="57.7">500</text><text x="901.8" y="72.4">0</text></g>
<g font-family="'DejaVu Sans Mono','Liberation Mono',monospace" font-size="11.7" text-anchor="middle"><text transform="translate(867.5 44.0) rotate(-90)">I [mA]</text></g>
<path d="M904.5 68V108M904 68.5H1473M905 68.5h20M905 78.5h20M905 88.5h20M905 98.5h20M905 106.5h6M905 104.5h6M905 102.5h6M905 100.5h6M905 98.5h6M905 96.5h6M905 94.5h6M905 92.5h6M905 90.5h6M905 88.5h6M905 86.5h6M905 84.5h6M905 82.5h6M905 80.5h6M905 78.5h6M905 76.5h6M905 74.5h6M905 72.5h6M905 70.5h6M905 68.5h6M924.5 107v-3M945.5 107v-3M966.5 107v-7M987.5 107v-3M1009.5 107v-3M1030.5 107v-7M1051.5 107v-3M1072.5 107v-3M1093.5 107v-7M1114.5 107v-3M1135.5 107v-3M1156.5 107v-7M1177.5 107v-3M1198.5 107v-3M1219.5 107v-7M1240.5 107v-3M1261.5 107v-3M1282.5 107v-7M1303.5 107v-3M1324.5 107v-3M1345.5 107v-7M1366.5 107v-3M1388.5 107v-3M1409.5 107v-7M1430.5 107v-3M1451.5 107v-3M1472.5 107v-7" stroke="#000" fill="none"/>
<path d="M905 107.5H1473" stroke="#000" stroke-dasharray="2 2" fill="none"/>
<path d="M904 107.5H925" stroke="#000" fill="none"/>
<path d="M1472.5 68V108" stroke="#000" stroke-dasharray="3 1" fill="none"/>
<g font-family="'DejaVu Sans Mono','Liberation Mono',monospace" font-size="11.6" text-anchor="end"><text x="901.8" y="72.3">20</text><text x="901.8" y="82.2">15</text><text x="901.8" y="92.0">10</text><text x="901.8" y="101.9">5</text><text x="901.8" y="111.8">0</text></g>
<g font-family="'DejaVu Sans Mono','Liberation Mono',monospace" font-size="11.7" text-anchor="middle"><text transform="translate(854.8 88.0) rotate(-90)">Rep.</text><text transform="translate(869.8 88.0) rotate(-90)">Rate</text><text transform="translate(884.8 88.0) rotate(-90)">[Hz]</text></g>
<path d="M904.5 107V158M905 112.5h20M905 123.5h20M905 133.5h20M905 144.5h20M905 154.5h20M905 156.5h6M905 154.5h6M905 152.5h6M905 150.5h6M905 148.5h6M905 146.5h6M905 144.5h6M905 141.5h6M905 139.5h6M905 137.5h6M905 135.5h6M905 133.5h6M905 131.5h6M905 129.5h6M905 127.5h6M905 125.5h6M905 123.5h6M905 121.5h6M905 118.5h6M905 116.5h6M905 114.5h6M905 112.5h6M905 110.5h6M905 108.5h6M924.5 157v-4M945.5 157v-4M966.5 157v-8M987.5 157v-4M1009.5 157v-4M1030.5 157v-8M1051.5 157v-4M1072.5 157v-4M1093.5 157v-8M1114.5 157v-4M1135.5 157v-4M1156.5 157v-8M1177.5 157v-4M1198.5 157v-4M1219.5 157v-8M1240.5 157v-4M1261.5 157v-4M1282.5 157v-8M1303.5 157v-4M1324.5 157v-4M1345.5 157v-8M1366.5 157v-4M1388.5 157v-4M1409.5 157v-8M1430.5 157v-4M1451.5 157v-4M1472.5 157v-8" stroke="#000" fill="none"/>
<path d="M904 157.5H1473" stroke="#000" fill="none"/>
<path d="M1472.5 107V158" stroke="#000" stroke-dasharray="3 1" fill="none"/>
<g font-family="'DejaVu Sans Mono','Liberation Mono',monospace" font-size="13.4" text-anchor="end"><text x="901.8" y="116.6">2</text><text x="901.8" y="127.0">1.5</text><text x="901.8" y="137.5">1</text><text x="901.8" y="148.0">0.5</text><text x="901.8" y="158.4">0</text></g>
<g font-family="'DejaVu Sans Mono','Liberation Mono',monospace" font-size="11.7" text-anchor="middle"><text transform="translate(875.0 131.8) rotate(-90)">Q[nC]</text></g>
<path d="M904.5 157V207M904 157.5H1473M905 158.5h20M905 173.5h20M905 188.5h20M905 203.5h20M905 206.5h6M905 203.5h6M905 200.5h6M905 197.5h6M905 194.5h6M905 191.5h6M905 188.5h6M905 185.5h6M905 182.5h6M905 179.5h6M905 176.5h6M905 173.5h6M905 170.5h6M905 167.5h6M905 164.5h6M905 161.5h6M905 158.5h6M924.5 206v-4M945.5 206v-4M966.5 206v-8M987.5 206v-4M1009.5 206v-4M1030.5 206v-8M1051.5 206v-4M1072.5 206v-4M1093.5 206v-8M1114.5 206v-4M1135.5 206v-4M1156.5 206v-8M1177.5 206v-4M1198.5 206v-4M1219.5 206v-8M1240.5 206v-4M1261.5 206v-4M1282.5 206v-8M1303.5 206v-4M1324.5 206v-4M1345.5 206v-8M1366.5 206v-4M1388.5 206v-4M1409.5 206v-8M1430.5 206v-4M1451.5 206v-4M1472.5 206v-8" stroke="#000" fill="none"/>
<path d="M904 206.5H1473" stroke="#000" fill="none"/>
<path d="M1472.5 157V207" stroke="#000" stroke-dasharray="3 1" fill="none"/>
<g font-family="'DejaVu Sans Mono','Liberation Mono',monospace" font-size="13.4" text-anchor="end"><text x="901.8" y="162.7">1.5</text><text x="901.8" y="177.6">1</text><text x="901.8" y="192.5">0.5</text><text x="901.8" y="207.4">0</text></g>
<g font-family="'DejaVu Sans Mono','Liberation Mono',monospace" font-size="11.7" text-anchor="middle"><text transform="translate(873.8 181.0) rotate(-90)">[mA/s]</text></g>
<path d="M904.5 206V257M904 206.5H1473M905 210.5h20M905 219.5h20M905 228.5h20M905 237.5h20M905 246.5h20M905 255.5h20M905 255.5h6M905 253.5h6M905 251.5h6M905 250.5h6M905 248.5h6M905 246.5h6M905 244.5h6M905 242.5h6M905 241.5h6M905 239.5h6M905 237.5h6M905 235.5h6M905 233.5h6M905 232.5h6M905 230.5h6M905 228.5h6M905 226.5h6M905 224.5h6M905 223.5h6M905 221.5h6M905 219.5h6M905 217.5h6M905 215.5h6M905 214.5h6M905 212.5h6M905 210.5h6M905 208.5h6M905 206.5h6M924.5 256v-4M945.5 256v-4M966.5 256v-8M987.5 256v-4M1009.5 256v-4M1030.5 256v-8M1051.5 256v-4M1072.5 256v-4M1093.5 256v-8M1114.5 256v-4M1135.5 256v-4M1156.5 256v-8M1177.5 256v-4M1198.5 256v-4M1219.5 256v-8M1240.5 256v-4M1261.5 256v-4M1282.5 256v-8M1303.5 256v-4M1324.5 256v-4M1345.5 256v-8M1366.5 256v-4M1388.5 256v-4M1409.5 256v-8M1430.5 256v-4M1451.5 256v-4M1472.5 256v-8" stroke="#000" fill="none"/>
<path d="M904 256.5H1473" stroke="#000" fill="none"/>
<path d="M1472.5 206V257" stroke="#000" stroke-dasharray="3 1" fill="none"/>
<g font-family="'DejaVu Sans Mono','Liberation Mono',monospace" font-size="13.4" text-anchor="end"><text x="901.8" y="214.4">100</text><text x="901.8" y="223.4">80</text><text x="901.8" y="232.4">60</text><text x="901.8" y="241.5">40</text><text x="901.8" y="250.5">20</text><text x="901.8" y="259.5">0</text></g>
<g font-family="'DejaVu Sans Mono','Liberation Mono',monospace" font-size="11.7" text-anchor="middle"><text transform="translate(858.0 231.0) rotate(-90)">Inj.</text><text transform="translate(874.0 231.0) rotate(-90)">Eff [%]</text></g>
<path d="M904.5 262V313M904 262.5H1473M905 262.5h20M905 275.5h20M905 287.5h20M905 299.5h20M905 312.5h20M905 312.5h6M905 309.5h6M905 307.5h6M905 304.5h6M905 302.5h6M905 299.5h6M905 297.5h6M905 294.5h6M905 292.5h6M905 289.5h6M905 287.5h6M905 284.5h6M905 282.5h6M905 280.5h6M905 277.5h6M905 275.5h6M905 272.5h6M905 270.5h6M905 267.5h6M905 265.5h6M905 262.5h6M924.5 312v-4M945.5 312v-4M966.5 312v-8M987.5 312v-4M1009.5 312v-4M1030.5 312v-8M1051.5 312v-4M1072.5 312v-4M1093.5 312v-8M1114.5 312v-4M1135.5 312v-4M1156.5 312v-8M1177.5 312v-4M1198.5 312v-4M1219.5 312v-8M1240.5 312v-4M1261.5 312v-4M1282.5 312v-8M1303.5 312v-4M1324.5 312v-4M1345.5 312v-8M1366.5 312v-4M1388.5 312v-4M1409.5 312v-8M1430.5 312v-4M1451.5 312v-4M1472.5 312v-8" stroke="#000" fill="none"/>
<path d="M905 312.5H1473" stroke="#000" stroke-dasharray="2 2" fill="none"/>
<path d="M904 312.5H925" stroke="#000" fill="none"/>
<path d="M1472.5 262V313" stroke="#000" stroke-dasharray="3 1" fill="none"/>
<g font-family="'DejaVu Sans Mono','Liberation Mono',monospace" font-size="13.4" text-anchor="end"><text x="901.8" y="266.7">200</text><text x="901.8" y="279.0">150</text><text x="901.8" y="291.3">100</text><text x="901.8" y="303.6">50</text><text x="901.8" y="315.9">0</text></g>
<g font-family="'DejaVu Sans Mono','Liberation Mono',monospace" font-size="11.7" text-anchor="middle"><text transform="translate(877.5 287.0) rotate(-90)">OCS</text></g>
<path d="M904.5 312V362M905 312.5h20M905 324.5h20M905 336.5h20M905 348.5h20M905 360.5h20M905 360.5h6M905 358.5h6M905 356.5h6M905 353.5h6M905 351.5h6M905 348.5h6M905 346.5h6M905 344.5h6M905 341.5h6M905 339.5h6M905 336.5h6M905 334.5h6M905 331.5h6M905 329.5h6M905 327.5h6M905 324.5h6M905 322.5h6M905 319.5h6M905 317.5h6M905 314.5h6M905 312.5h6M924.5 361v-4M945.5 361v-4M966.5 361v-8M987.5 361v-4M1009.5 361v-4M1030.5 361v-8M1051.5 361v-4M1072.5 361v-4M1093.5 361v-8M1114.5 361v-4M1135.5 361v-4M1156.5 361v-8M1177.5 361v-4M1198.5 361v-4M1219.5 361v-8M1240.5 361v-4M1261.5 361v-4M1282.5 361v-8M1303.5 361v-4M1324.5 361v-4M1345.5 361v-8M1366.5 361v-4M1388.5 361v-4M1409.5 361v-8M1430.5 361v-4M1451.5 361v-4M1472.5 361v-8" stroke="#000" fill="none"/>
<path d="M904 361.5H1473" stroke="#000" fill="none"/>
<path d="M1472.5 312V362" stroke="#000" stroke-dasharray="3 1" fill="none"/>
<g font-family="'DejaVu Sans Mono','Liberation Mono',monospace" font-size="13.4" text-anchor="end"><text x="901.8" y="316.4">0.8</text><text x="901.8" y="328.5">0.6</text><text x="901.8" y="340.6">0.4</text><text x="901.8" y="352.8">0.2</text><text x="901.8" y="364.9">0</text></g>
<g font-family="'DejaVu Sans Mono','Liberation Mono',monospace" font-size="11.7" text-anchor="middle"><text transform="translate(845.3 336.0) rotate(-90)">LossM.</text><text transform="translate(860.3 336.0) rotate(-90)">Ion cham.</text><text transform="translate(874.5 336.0) rotate(-90)">[V]</text></g>
<path d="M904.5 361V412M904 361.5H1473M905 361.5h20M905 373.5h20M905 385.5h20M905 397.5h20M905 408.5h20M905 411.5h6M905 408.5h6M905 406.5h6M905 404.5h6M905 401.5h6M905 399.5h6M905 397.5h6M905 394.5h6M905 392.5h6M905 390.5h6M905 387.5h6M905 385.5h6M905 383.5h6M905 380.5h6M905 378.5h6M905 376.5h6M905 373.5h6M905 371.5h6M905 368.5h6M905 366.5h6M905 364.5h6M905 361.5h6M924.5 411v-4M945.5 411v-4M966.5 411v-8M987.5 411v-4M1009.5 411v-4M1030.5 411v-8M1051.5 411v-4M1072.5 411v-4M1093.5 411v-8M1114.5 411v-4M1135.5 411v-4M1156.5 411v-8M1177.5 411v-4M1198.5 411v-4M1219.5 411v-8M1240.5 411v-4M1261.5 411v-4M1282.5 411v-8M1303.5 411v-4M1324.5 411v-4M1345.5 411v-8M1366.5 411v-4M1388.5 411v-4M1409.5 411v-8M1430.5 411v-4M1451.5 411v-4M1472.5 411v-8" stroke="#000" fill="none"/>
<path d="M904 411.5H1473" stroke="#000" fill="none"/>
<path d="M1472.5 361V412" stroke="#000" stroke-dasharray="3 1" fill="none"/>
<g font-family="'DejaVu Sans Mono','Liberation Mono',monospace" font-size="13.4" text-anchor="end"><text x="901.8" y="365.8">4</text><text x="901.8" y="377.6">3</text><text x="901.8" y="389.4">2</text><text x="901.8" y="401.1">1</text><text x="901.8" y="412.9">0</text></g>
<g font-family="'DejaVu Sans Mono','Liberation Mono',monospace" font-size="11.7" text-anchor="middle"><text transform="translate(860.3 386.0) rotate(-90)">LossM.</text><text transform="translate(875.3 386.0) rotate(-90)">SiC</text><text transform="translate(890.3 386.0) rotate(-90)">[V]</text></g>
<path d="M904.5 411V461M904 411.5H1473M905 412.5h20M905 423.5h20M905 434.5h20M905 445.5h20M905 456.5h20M905 460.5h6M905 458.5h6M905 456.5h6M905 454.5h6M905 451.5h6M905 449.5h6M905 447.5h6M905 445.5h6M905 443.5h6M905 440.5h6M905 438.5h6M905 436.5h6M905 434.5h6M905 432.5h6M905 430.5h6M905 427.5h6M905 425.5h6M905 423.5h6M905 421.5h6M905 419.5h6M905 417.5h6M905 414.5h6M905 412.5h6M924.5 460v-4M945.5 460v-4M966.5 460v-8M987.5 460v-4M1009.5 460v-4M1030.5 460v-8M1051.5 460v-4M1072.5 460v-4M1093.5 460v-8M1114.5 460v-4M1135.5 460v-4M1156.5 460v-8M1177.5 460v-4M1198.5 460v-4M1219.5 460v-8M1240.5 460v-4M1261.5 460v-4M1282.5 460v-8M1303.5 460v-4M1324.5 460v-4M1345.5 460v-8M1366.5 460v-4M1388.5 460v-4M1409.5 460v-8M1430.5 460v-4M1451.5 460v-4M1472.5 460v-8" stroke="#000" fill="none"/>
<path d="M904 460.5H1473" stroke="#000" fill="none"/>
<path d="M1472.5 411V461" stroke="#000" stroke-dasharray="3 1" fill="none"/>
<g font-family="'DejaVu Sans Mono','Liberation Mono',monospace" font-size="13.4" text-anchor="end"><text x="901.8" y="416.6">45</text><text x="901.8" y="427.5">40</text><text x="901.8" y="438.4">35</text><text x="901.8" y="449.2">30</text><text x="901.8" y="460.1">25</text></g>
<g font-family="'DejaVu Sans Mono','Liberation Mono',monospace" font-size="11.7" text-anchor="middle"><text transform="translate(865.5 435.5) rotate(-90)">Temp.</text><text transform="translate(880.8 435.5) rotate(-90)">[deg]</text></g>
<path d="M904.5 463V513M904 463.5H1473M905 472.5h20M905 491.5h20M905 509.5h20M905 509.5h6M905 505.5h6M905 502.5h6M905 498.5h6M905 494.5h6M905 491.5h6M905 487.5h6M905 483.5h6M905 480.5h6M905 476.5h6M905 472.5h6M905 469.5h6M905 465.5h6M924.5 512v-4M945.5 512v-4M966.5 512v-8M987.5 512v-4M1009.5 512v-4M1030.5 512v-8M1051.5 512v-4M1072.5 512v-4M1093.5 512v-8M1114.5 512v-4M1135.5 512v-4M1156.5 512v-8M1177.5 512v-4M1198.5 512v-4M1219.5 512v-8M1240.5 512v-4M1261.5 512v-4M1282.5 512v-8M1303.5 512v-4M1324.5 512v-4M1345.5 512v-8M1366.5 512v-4M1388.5 512v-4M1409.5 512v-8M1430.5 512v-4M1451.5 512v-4M1472.5 512v-8" stroke="#000" fill="none"/>
<path d="M904 512.5H1473" stroke="#000" fill="none"/>
<path d="M1472.5 463V513" stroke="#000" stroke-dasharray="3 1" fill="none"/>
<g font-family="'DejaVu Sans Mono','Liberation Mono',monospace" font-size="13.4" text-anchor="end"><text x="901.8" y="476.7">-3</text><text x="901.8" y="495.1">-3.5</text><text x="901.8" y="513.5">-4</text></g>
<g font-family="'DejaVu Sans Mono','Liberation Mono',monospace" font-size="11.7" text-anchor="middle"><text transform="translate(835.0 488.0) rotate(-90)">Inj.P</text><text transform="translate(850.5 488.0) rotate(-90)">BPM</text><text transform="translate(866.0 488.0) rotate(-90)">X[mm]</text></g>
<path d="M904.5 512V563M904 512.5H1473M905 517.5h20M905 528.5h20M905 539.5h20M905 551.5h20M905 562.5h20M905 562.5h6M905 559.5h6M905 557.5h6M905 555.5h6M905 553.5h6M905 551.5h6M905 548.5h6M905 546.5h6M905 544.5h6M905 542.5h6M905 539.5h6M905 537.5h6M905 535.5h6M905 533.5h6M905 530.5h6M905 528.5h6M905 526.5h6M905 524.5h6M905 521.5h6M905 519.5h6M905 517.5h6M905 515.5h6M905 513.5h6M924.5 562v-4M945.5 562v-4M966.5 562v-8M987.5 562v-4M1009.5 562v-4M1030.5 562v-8M1051.5 562v-4M1072.5 562v-4M1093.5 562v-8M1114.5 562v-4M1135.5 562v-4M1156.5 562v-8M1177.5 562v-4M1198.5 562v-4M1219.5 562v-8M1240.5 562v-4M1261.5 562v-4M1282.5 562v-8M1303.5 562v-4M1324.5 562v-4M1345.5 562v-8M1366.5 562v-4M1388.5 562v-4M1409.5 562v-8M1430.5 562v-4M1451.5 562v-4M1472.5 562v-8" stroke="#000" fill="none"/>
<path d="M904 562.5H1473" stroke="#000" fill="none"/>
<path d="M1472.5 512V563" stroke="#000" stroke-dasharray="3 1" fill="none"/>
<g font-family="'DejaVu Sans Mono','Liberation Mono',monospace" font-size="13.4" text-anchor="end"><text x="901.8" y="521.4">2</text><text x="901.8" y="532.6">1.5</text><text x="901.8" y="543.8">1</text><text x="901.8" y="554.9">0.5</text><text x="901.8" y="566.1">0</text></g>
<g font-family="'DejaVu Sans Mono','Liberation Mono',monospace" font-size="11.7" text-anchor="middle"><text transform="translate(842.5 535.0) rotate(-90)">Inj.P</text><text transform="translate(858.5 535.0) rotate(-90)">BPM</text><text transform="translate(873.0 535.0) rotate(-90)">Q</text></g>
<path d="M904.5 562V612M904 562.5H1473M905 565.5h20M905 576.5h20M905 586.5h20M905 597.5h20M905 608.5h20M905 610.5h6M905 608.5h6M905 606.5h6M905 604.5h6M905 601.5h6M905 599.5h6M905 597.5h6M905 595.5h6M905 593.5h6M905 591.5h6M905 589.5h6M905 586.5h6M905 584.5h6M905 582.5h6M905 580.5h6M905 578.5h6M905 576.5h6M905 574.5h6M905 572.5h6M905 569.5h6M905 567.5h6M905 565.5h6M905 563.5h6M924.5 611v-4M945.5 611v-4M966.5 611v-8M987.5 611v-4M1009.5 611v-4M1030.5 611v-8M1051.5 611v-4M1072.5 611v-4M1093.5 611v-8M1114.5 611v-4M1135.5 611v-4M1156.5 611v-8M1177.5 611v-4M1198.5 611v-4M1219.5 611v-8M1240.5 611v-4M1261.5 611v-4M1282.5 611v-8M1303.5 611v-4M1324.5 611v-4M1345.5 611v-8M1366.5 611v-4M1388.5 611v-4M1409.5 611v-8M1430.5 611v-4M1451.5 611v-4M1472.5 611v-8" stroke="#000" fill="none"/>
<path d="M904 611.5H1473" stroke="#000" fill="none"/>
<path d="M1472.5 562V612" stroke="#000" stroke-dasharray="3 1" fill="none"/>
<g font-family="'DejaVu Sans Mono','Liberation Mono',monospace" font-size="13.4" text-anchor="end"><text x="901.8" y="569.5">46.88</text><text x="901.8" y="580.2">46.86</text><text x="901.8" y="590.9">46.84</text><text x="901.8" y="601.6">46.82</text><text x="901.8" y="612.3">46.8</text></g>
<g font-family="'DejaVu Sans Mono','Liberation Mono',monospace" font-size="11.7" text-anchor="middle"><text transform="translate(827.0 585.0) rotate(-90)">Septum</text><text transform="translate(843.5 585.0) rotate(-90)">Pos.</text><text transform="translate(858.0 585.0) rotate(-90)">[mm]</text></g>
<path d="M904.5 611V661M904 611.5H1473M905 617.5h20M905 628.5h20M905 639.5h20M905 649.5h20M905 660.5h20M905 660.5h6M905 658.5h6M905 656.5h6M905 654.5h6M905 652.5h6M905 649.5h6M905 647.5h6M905 645.5h6M905 643.5h6M905 641.5h6M905 639.5h6M905 637.5h6M905 634.5h6M905 632.5h6M905 630.5h6M905 628.5h6M905 626.5h6M905 624.5h6M905 622.5h6M905 620.5h6M905 617.5h6M905 615.5h6M905 613.5h6M905 611.5h6M924.5 660v-4M945.5 660v-4M966.5 660v-8M987.5 660v-4M1009.5 660v-4M1030.5 660v-8M1051.5 660v-4M1072.5 660v-4M1093.5 660v-8M1114.5 660v-4M1135.5 660v-4M1156.5 660v-8M1177.5 660v-4M1198.5 660v-4M1219.5 660v-8M1240.5 660v-4M1261.5 660v-4M1282.5 660v-8M1303.5 660v-4M1324.5 660v-4M1345.5 660v-8M1366.5 660v-4M1388.5 660v-4M1409.5 660v-8M1430.5 660v-4M1451.5 660v-4M1472.5 660v-8" stroke="#000" fill="none"/>
<path d="M905 660.5H1473" stroke="#000" stroke-dasharray="2 2" fill="none"/>
<path d="M904 660.5H925" stroke="#000" fill="none"/>
<path d="M1472.5 611V661" stroke="#000" stroke-dasharray="3 1" fill="none"/>
<g font-family="'DejaVu Sans Mono','Liberation Mono',monospace" font-size="13.4" text-anchor="end"><text x="901.8" y="621.8">1.68</text><text x="901.8" y="632.5">1.66</text><text x="901.8" y="643.1">1.64</text><text x="901.8" y="653.8">1.62</text><text x="901.8" y="664.5">1.6</text></g>
<g font-family="'DejaVu Sans Mono','Liberation Mono',monospace" font-size="11.7" text-anchor="middle"><text transform="translate(834.0 636.5) rotate(-90)">Septum</text><text transform="translate(849.8 636.5) rotate(-90)">Angle</text><text transform="translate(866.0 636.5) rotate(-90)">[mrad]</text></g>
<path d="M904.5 660V711M905 663.5h20M905 673.5h20M905 683.5h20M905 693.5h20M905 702.5h20M905 710.5h6M905 708.5h6M905 706.5h6M905 704.5h6M905 702.5h6M905 700.5h6M905 698.5h6M905 696.5h6M905 695.5h6M905 693.5h6M905 691.5h6M905 689.5h6M905 687.5h6M905 685.5h6M905 683.5h6M905 681.5h6M905 679.5h6M905 677.5h6M905 675.5h6M905 673.5h6M905 671.5h6M905 669.5h6M905 667.5h6M905 665.5h6M905 663.5h6M905 661.5h6M905 660.5h6M924.5 710v-4M945.5 710v-4M966.5 710v-8M987.5 710v-4M1009.5 710v-4M1030.5 710v-8M1051.5 710v-4M1072.5 710v-4M1093.5 710v-8M1114.5 710v-4M1135.5 710v-4M1156.5 710v-8M1177.5 710v-4M1198.5 710v-4M1219.5 710v-8M1240.5 710v-4M1261.5 710v-4M1282.5 710v-8M1303.5 710v-4M1324.5 710v-4M1345.5 710v-8M1366.5 710v-4M1388.5 710v-4M1409.5 710v-8M1430.5 710v-4M1451.5 710v-4M1472.5 710v-8" stroke="#000" fill="none"/>
<path d="M905 710.5H1473" stroke="#000" stroke-dasharray="2 2" fill="none"/>
<path d="M904 710.5H925" stroke="#000" fill="none"/>
<path d="M1472.5 660V711" stroke="#000" stroke-dasharray="3 1" fill="none"/>
<g font-family="'DejaVu Sans Mono','Liberation Mono',monospace" font-size="13.4" text-anchor="end"><text x="901.8" y="667.8">28.58</text><text x="901.8" y="677.5">28.56</text><text x="901.8" y="687.2">28.54</text><text x="901.8" y="697.0">28.52</text><text x="901.8" y="706.7">28.5</text></g>
<g font-family="'DejaVu Sans Mono','Liberation Mono',monospace" font-size="11.7" text-anchor="middle"><text transform="translate(828.8 685.0) rotate(-90)">Kicker</text><text transform="translate(842.5 685.0) rotate(-90)">Height</text><text transform="translate(858.0 685.0) rotate(-90)">[mm]</text></g>
<path d="M904.5 710V760M905 710.5h20M905 718.5h20M905 726.5h20M905 735.5h20M905 743.5h20M905 751.5h20M905 759.5h6M905 758.5h6M905 756.5h6M905 755.5h6M905 753.5h6M905 751.5h6M905 750.5h6M905 748.5h6M905 746.5h6M905 745.5h6M905 743.5h6M905 741.5h6M905 740.5h6M905 738.5h6M905 736.5h6M905 735.5h6M905 733.5h6M905 731.5h6M905 730.5h6M905 728.5h6M905 726.5h6M905 725.5h6M905 723.5h6M905 721.5h6M905 720.5h6M905 718.5h6M905 716.5h6M905 715.5h6M905 713.5h6M905 711.5h6M905 710.5h6M924.5 759v-4M945.5 759v-4M966.5 759v-8M987.5 759v-4M1009.5 759v-4M1030.5 759v-8M1051.5 759v-4M1072.5 759v-4M1093.5 759v-8M1114.5 759v-4M1135.5 759v-4M1156.5 759v-8M1177.5 759v-4M1198.5 759v-4M1219.5 759v-8M1240.5 759v-4M1261.5 759v-4M1282.5 759v-8M1303.5 759v-4M1324.5 759v-4M1345.5 759v-8M1366.5 759v-4M1388.5 759v-4M1409.5 759v-8M1430.5 759v-4M1451.5 759v-4M1472.5 759v-8" stroke="#000" fill="none"/>
<path d="M904 759.5H1473" stroke="#000" fill="none"/>
<path d="M1472.5 710V760" stroke="#000" stroke-dasharray="3 1" fill="none"/>
<g font-family="'DejaVu Sans Mono','Liberation Mono',monospace" font-size="13.4" text-anchor="end"><text x="901.8" y="714.1">-0.02997</text><text x="901.8" y="722.4">-0.02998</text><text x="901.8" y="730.7">-0.02999</text><text x="901.8" y="739.0">-0.03</text><text x="901.8" y="747.3">-0.03001</text><text x="901.8" y="755.6">-0.03002</text></g>
<g font-family="'DejaVu Sans Mono','Liberation Mono',monospace" font-size="11.7" text-anchor="middle"><text transform="translate(820.0 733.5) rotate(-90)">Kicker</text><text transform="translate(833.5 733.5) rotate(-90)">Jump</text></g>
<path d="M904.5 759V800M904 759.5H1473M905 774.5h20M905 794.5h20M905 798.5h6M905 794.5h6M905 790.5h6M905 786.5h6M905 782.5h6M905 778.5h6M905 774.5h6M905 770.5h6M905 767.5h6M905 763.5h6M905 759.5h6M924.5 799v-3M945.5 799v-3M966.5 799v-7M987.5 799v-3M1009.5 799v-3M1030.5 799v-7M1051.5 799v-3M1072.5 799v-3M1093.5 799v-7M1114.5 799v-3M1135.5 799v-3M1156.5 799v-7M1177.5 799v-3M1198.5 799v-3M1219.5 799v-7M1240.5 799v-3M1261.5 799v-3M1282.5 799v-7M1303.5 799v-3M1324.5 799v-3M1345.5 799v-7M1366.5 799v-3M1388.5 799v-3M1409.5 799v-7M1430.5 799v-3M1451.5 799v-3M1472.5 799v-7" stroke="#000" fill="none"/>
<path d="M904 799.5H1473" stroke="#000" fill="none"/>
<path d="M1472.5 759V800" stroke="#000" stroke-dasharray="3 1" fill="none"/>
<g font-family="'DejaVu Sans Mono','Liberation Mono',monospace" font-size="11.6" text-anchor="end"><text x="901.8" y="778.3">0.525</text><text x="901.8" y="797.9">0.5245</text></g>
<g font-family="'DejaVu Sans Mono','Liberation Mono',monospace" font-size="11.7" text-anchor="middle"><text transform="translate(840.5 781.0) rotate(-90)">V.Pos.</text><text transform="translate(856.0 781.0) rotate(-90)">[mm]</text></g>
<path d="M904.5 799V841M904 799.5H1473M905 813.5h20M905 827.5h20M905 838.5h6M905 835.5h6M905 832.5h6M905 829.5h6M905 827.5h6M905 824.5h6M905 821.5h6M905 818.5h6M905 815.5h6M905 813.5h6M905 810.5h6M905 807.5h6M905 804.5h6M905 801.5h6M905 799.5h6M924.5 840v-3M945.5 840v-3M966.5 840v-7M987.5 840v-3M1009.5 840v-3M1030.5 840v-7M1051.5 840v-3M1072.5 840v-3M1093.5 840v-7M1114.5 840v-3M1135.5 840v-3M1156.5 840v-7M1177.5 840v-3M1198.5 840v-3M1219.5 840v-7M1240.5 840v-3M1261.5 840v-3M1282.5 840v-7M1303.5 840v-3M1324.5 840v-3M1345.5 840v-7M1366.5 840v-3M1388.5 840v-3M1409.5 840v-7M1430.5 840v-3M1451.5 840v-3M1472.5 840v-7" stroke="#000" fill="none"/>
<path d="M904 840.5H1473" stroke="#000" fill="none"/>
<path d="M1472.5 799V841" stroke="#000" stroke-dasharray="3 1" fill="none"/>
<g font-family="'DejaVu Sans Mono','Liberation Mono',monospace" font-size="11.5" text-anchor="end"><text x="901.8" y="816.5">-0.029</text><text x="901.8" y="830.5">-0.02902</text></g>
<g font-family="'DejaVu Sans Mono','Liberation Mono',monospace" font-size="11.7" text-anchor="middle"><text transform="translate(825.0 821.0) rotate(-90)">V.Ang.</text><text transform="translate(841.0 821.0) rotate(-90)">[mrad]</text></g>
<path d="M904.5 840V881M904 840.5H1473M905 851.5h20M905 861.5h20M905 870.5h20M905 880.5h6M905 878.5h6M905 876.5h6M905 874.5h6M905 872.5h6M905 870.5h6M905 869.5h6M905 867.5h6M905 865.5h6M905 863.5h6M905 861.5h6M905 859.5h6M905 857.5h6M905 855.5h6M905 853.5h6M905 851.5h6M905 849.5h6M905 847.5h6M905 845.5h6M905 843.5h6M905 841.5h6M924.5 880v-3M945.5 880v-3M966.5 880v-7M987.5 880v-3M1009.5 880v-3M1030.5 880v-7M1051.5 880v-3M1072.5 880v-3M1093.5 880v-7M1114.5 880v-3M1135.5 880v-3M1156.5 880v-7M1177.5 880v-3M1198.5 880v-3M1219.5 880v-7M1240.5 880v-3M1261.5 880v-3M1282.5 880v-7M1303.5 880v-3M1324.5 880v-3M1345.5 880v-7M1366.5 880v-3M1388.5 880v-3M1409.5 880v-7M1430.5 880v-3M1451.5 880v-3M1472.5 880v-7" stroke="#000" fill="none"/>
<path d="M904 880.5H1473" stroke="#000" fill="none"/>
<path d="M1472.5 840V881" stroke="#000" stroke-dasharray="3 1" fill="none"/>
<g font-family="'DejaVu Sans Mono','Liberation Mono',monospace" font-size="11.5" text-anchor="end"><text x="901.8" y="854.7">97.05</text><text x="901.8" y="864.5">97</text><text x="901.8" y="874.3">96.95</text></g>
<g font-family="'DejaVu Sans Mono','Liberation Mono',monospace" font-size="11.7" text-anchor="middle"><text transform="translate(831.0 860.0) rotate(-90)">Inj.</text><text transform="translate(847.5 860.0) rotate(-90)">Phase</text><text transform="translate(862.0 860.0) rotate(-90)">[deg]</text></g>
<path d="M102.0 24.5 115.0 24.3 140.0 24.0 175.0 23.8 182.0 23.5 284.5 23.5 284.5 70.0 321.4 70.0 328.8 65.4 332.6 55.2 357.8 55.2 361.0 45.0 366.0 40.0 372.0 36.5 380.0 32.0 391.4 24.8 395.0 24.2 436.0 23.7 472.5 23.5 472.5 70.0 484.6 70.0 497.7 41.2 510.8 32.7 523.8 24.0 530.0 23.5 670.0 23.5" stroke="#ff0000" stroke-width="1" fill="none"/>
<path d="M102.0 33.7 140.0 33.5 145.0 32.9 160.0 32.5 284.5 32.5 284.5 70.0 344.7 70.0 357.8 59.8 365.3 45.8 380.0 38.0 393.3 33.7 400.0 33.2 436.0 32.5 648.4 32.5 648.4 70.0 660.2 70.0 665.0 65.0 670.0 58.0" stroke="#0000ff" stroke-width="1" fill="none"/>
<path d="M102.0 88.5 164.5 88.5 164.5 84.5 302.3 84.5 302.3 109.5 328.3 109.5 328.3 102.5 369.0 102.5 369.0 88.5 391.0 88.5 391.0 84.5 481.7 84.5 481.7 109.5 485.4 109.5 485.4 102.5 502.2 102.5 502.2 88.5 520.9 88.5 520.9 84.5 554.5 84.5 554.5 73.5 562.0 73.5 562.0 84.5 670.0 84.5" stroke="#000" stroke-width="1" fill="none"/>
<path d="M102.5 89V94M103.5 89V94M104.5 88V94M105.5 88V94M106.5 90V94M107.5 89V94M108.5 89V94M109.5 89V94M110.5 89V93M111.5 89V93M112.5 89V93M113.5 89V93M114.5 88V95M115.5 88V95M116.5 88V95M117.5 88V95M118.5 88V95M119.5 88V95M120.5 88V95M121.5 88V95M122.5 88V95M123.5 88V95M124.5 88V95M125.5 88V95M126.5 89V94M127.5 89V94M128.5 88V94M129.5 88V94M130.5 88V95M131.5 88V95M132.5 88V95M133.5 88V95M134.5 89V93M135.5 89V93M136.5 88V93M137.5 88V93M138.5 86V94M139.5 86V94M140.5 86V94M141.5 86V94M142.5 89V94M143.5 89V94M144.5 89V94M145.5 89V94M146.5 88V92M147.5 88V92M148.5 88V92M149.5 88V92M150.5 88V94M151.5 88V94M152.5 88V94M153.5 88V93M154.5 87V93M155.5 87V93M156.5 87V93M157.5 87V93M158.5 87V94M159.5 87V94M160.5 87V94M161.5 87V93M162.5 87V92M163.5 87V92M164.5 86V92M165.5 86V92M166.5 86V92M167.5 86V92M168.5 86V92M169.5 86V92M170.5 85V92M171.5 85V92M172.5 85V92M173.5 85V92M174.5 86V91M175.5 86V91M176.5 86V91M177.5 86V91M178.5 86V92M179.5 86V92M180.5 86V92M181.5 86V92M182.5 85V92M183.5 85V92M184.5 85V92M185.5 85V92M186.5 85V92M187.5 85V92M188.5 85V92M189.5 85V92M190.5 86V92M191.5 86V92M192.5 86V92M193.5 86V92M194.5 85V93M195.5 85V93M196.5 85V93M197.5 85V93M198.5 84V92M199.5 84V92M200.5 84V92M201.5 84V92M202.5 85V92M203.5 85V92M204.5 85V92M205.5 85V92M206.5 86V92M207.5 86V92M208.5 85V92M209.5 85V92M210.5 85V93M211.5 85V93M212.5 85V93M213.5 85V93M214.5 85V93M215.5 85V93M216.5 85V93M217.5 85V93M218.5 86V90M219.5 86V90M220.5 86V90M221.5 86V90M222.5 86V92M223.5 86V92M224.5 86V92M225.5 86V92M226.5 85V92M227.5 85V92M228.5 85V92M229.5 85V92M230.5 85V91M231.5 85V91M232.5 85V91M233.5 85V91M234.5 86V91M235.5 86V91M236.5 86V91M237.5 86V91M238.5 86V93M239.5 86V93M240.5 86V93M241.5 86V93M242.5 85V90M243.5 85V90M244.5 85V90M245.5 85V90M246.5 86V92M247.5 86V92M248.5 86V92M249.5 86V92M250.5 87V93M251.5 87V93M252.5 87V93M253.5 87V93M254.5 86V90M255.5 86V90M256.5 86V90M257.5 86V90M258.5 85V91M259.5 85V91M260.5 85V91M261.5 85V91M262.5 86V90M263.5 86V90M264.5 86V90M265.5 86V90M266.5 86V92M267.5 86V92M268.5 86V92M269.5 86V92M270.5 87V93M271.5 87V93M272.5 87V93M273.5 87V93M274.5 85V93M275.5 85V93M276.5 85V93M277.5 85V93M278.5 85V90M279.5 85V90M280.5 85V90M281.5 85V90M282.5 85V91M283.5 85V91" stroke="#ff6347" fill="none"/>
<path d="M268 91h3v3h-3zM227 83h3v3h-3zM134 86h3v3h-3zM128 93h3v3h-3zM200 82h3v3h-3zM108 94h3v3h-3zM277 82h3v3h-3zM146 91h3v3h-3z" fill="#ff6347"/>
<path d="M285.5 88V91M286.5 88V91M287.5 88V91M288.5 88V91M289.5 88V91M290.5 88V91M291.5 88V91M292.5 88V91M293.5 88V91M294.5 88V91M295.5 88V91M296.5 88V91M297.5 88V91M298.5 88V91M299.5 88V91M300.5 88V91M301.5 88V91M302.5 88V91M303.5 88V91M304.5 88V91M305.5 88V91M306.5 88V91M307.5 88V91M308.5 88V91" stroke="#ff6347" fill="none"/>
<path d="M307.5 110V112M308.5 110V112M309.5 110V112M310.5 110V112M311.5 109V112M312.5 109V112M313.5 109V112M314.5 109V112M315.5 110V112M316.5 110V112M317.5 110V112M318.5 110V112M319.5 110V112M320.5 110V112M321.5 110V112M322.5 110V112M323.5 110V112M324.5 110V112M325.5 110V112M326.5 110V112M327.5 110V112M328.5 110V112M329.5 110V112" stroke="#ff6347" fill="none"/>
<path d="M331.5 109V110M332.5 109V110M333.5 109V110M334.5 109V110M335.5 108V111M336.5 108V111M337.5 108V111M338.5 108V111M339.5 108V111M340.5 108V111M341.5 108V111M342.5 108V111M343.5 108V110M344.5 108V110M345.5 108V110M346.5 108V110M347.5 108V111M348.5 108V111M349.5 108V111M350.5 108V111M351.5 109V110M352.5 109V110M353.5 109V110M354.5 109V110M355.5 109V111M356.5 109V111M357.5 109V111M358.5 109V111M359.5 109V110M360.5 109V110M361.5 109V110M362.5 109V110M363.5 109V110M364.5 109V110M365.5 109V110M366.5 109V110" stroke="#ff6347" fill="none"/>
<path d="M327.5 101V103M328.5 101V103M329.5 101V103M330.5 101V103M331.5 101V104M332.5 101V104" stroke="#ff6347" fill="none"/>
<path d="M365.5 101V105M366.5 101V105M367.5 101V105M368.5 100V105M369.5 101V105M370.5 101V105M371.5 100V105M372.5 100V104M373.5 100V105M374.5 100V105M375.5 99V104M376.5 99V104M377.5 99V101M378.5 98V101M379.5 98V100M380.5 98V100M381.5 98V101M382.5 97V101M383.5 97V100M384.5 96V100M385.5 94V100M386.5 94V100M387.5 93V99M388.5 93V99M389.5 93V99M390.5 93V99M391.5 92V98M392.5 92V98M393.5 90V98M394.5 90V97M395.5 89V97M396.5 89V96M397.5 88V95M398.5 87V94M399.5 87V94M400.5 86V93M401.5 87V93M402.5 87V93M403.5 87V93M404.5 87V93M405.5 87V93M406.5 87V93M407.5 87V93M408.5 87V93M409.5 86V93M410.5 86V93M411.5 86V93M412.5 86V93M413.5 87V93M414.5 87V93M415.5 87V93M416.5 87V93M417.5 88V93M418.5 88V93M419.5 88V93M420.5 88V93M421.5 87V93M422.5 87V93M423.5 87V93M424.5 87V93M425.5 87V93M426.5 87V93M427.5 87V93M428.5 87V93M429.5 87V94M430.5 87V94M431.5 87V94M432.5 87V93M433.5 86V93M434.5 86V93M435.5 86V93M436.5 86V93M437.5 85V92M438.5 85V92M439.5 85V92M440.5 85V92M441.5 87V92M442.5 87V92M443.5 87V92M444.5 87V92M445.5 85V93M446.5 85V93M447.5 85V92M448.5 85V92M449.5 86V91M450.5 86V91M451.5 86V91M452.5 86V91M453.5 86V90M454.5 86V90M455.5 86V90M456.5 86V90M457.5 86V91M458.5 86V91M459.5 86V91M460.5 86V91M461.5 86V92M462.5 86V92M463.5 86V92M464.5 86V92M465.5 86V92M466.5 86V92M467.5 86V91M468.5 86V91M469.5 87V91M470.5 87V91M471.5 87V91M472.5 87V91M473.5 85V92M474.5 85V92M475.5 85V92M476.5 85V92M477.5 87V91M478.5 87V91M479.5 87V91M480.5 87V91" stroke="#ff6347" fill="none"/>
<path d="M422 94h3v3h-3zM454 84h3v3h-3zM391 98h3v3h-3zM405 85h3v3h-3zM409 81h3v3h-3zM415 82h3v3h-3zM422 94h3v3h-3zM427 92h3v3h-3zM429 83h3v3h-3zM480 92h3v3h-3z" fill="#ff6347"/>
<path d="M481.5 110V112M482.5 110V112M483.5 110V112M484.5 110V112M485.5 110V112" stroke="#ff6347" fill="none"/>
<path d="M486.5 101V105M487.5 101V105M488.5 101V105M489.5 101V105M490.5 101V105M491.5 101V105M492.5 101V105M493.5 101V105M494.5 102V106M495.5 102V106M496.5 102V106M497.5 102V106M498.5 101V106M499.5 101V106M500.5 101V106M501.5 100V106M502.5 103V106M503.5 102V106M504.5 102V106M505.5 101V105M506.5 100V103M507.5 100V103M508.5 99V103M509.5 99V102M510.5 97V106M511.5 97V106M512.5 96V105M513.5 96V104M514.5 96V102M515.5 95V101M516.5 94V100M517.5 93V99M518.5 94V97M519.5 93V97M520.5 92V96M521.5 91V95M522.5 92V94M523.5 91V94M524.5 90V93M525.5 90V93M526.5 87V93M527.5 87V92M528.5 86V92M529.5 86V92M530.5 88V91M531.5 88V91M532.5 88V91M533.5 88V91M534.5 87V93M535.5 87V93M536.5 87V93M537.5 87V92M538.5 86V91M539.5 86V91M540.5 86V91M541.5 86V91M542.5 87V92M543.5 87V92M544.5 87V92M545.5 87V92M546.5 86V91M547.5 86V91M548.5 86V91M549.5 86V91M550.5 87V92M551.5 87V92M552.5 87V92M553.5 87V92M554.5 86V92M555.5 86V92M556.5 86V92M557.5 86V92M558.5 86V91M559.5 86V91M560.5 86V91M561.5 86V91M562.5 86V93M563.5 86V93M564.5 86V93M565.5 86V93M566.5 86V91M567.5 86V91M568.5 86V91M569.5 86V91M570.5 86V92M571.5 86V92M572.5 86V92M573.5 86V92M574.5 85V92M575.5 85V92M576.5 85V92M577.5 85V92M578.5 86V92M579.5 86V92M580.5 86V92M581.5 86V92M582.5 86V92M583.5 86V92M584.5 86V92M585.5 86V92M586.5 86V92M587.5 86V92M588.5 86V92M589.5 86V92M590.5 86V92M591.5 86V92M592.5 86V92M593.5 86V92M594.5 87V92M595.5 87V92M596.5 87V92M597.5 87V92M598.5 85V91M599.5 85V91M600.5 85V91M601.5 85V91M602.5 87V92M603.5 87V92M604.5 87V92M605.5 87V92M606.5 86V92M607.5 86V92M608.5 86V92M609.5 86V92M610.5 86V91M611.5 86V91M612.5 86V91M613.5 86V91M614.5 86V92M615.5 86V92M616.5 86V92M617.5 86V92M618.5 87V92M619.5 87V92M620.5 87V92M621.5 87V92M622.5 87V92M623.5 87V92M624.5 87V92M625.5 87V92M626.5 86V92M627.5 86V92M628.5 86V92M629.5 86V92M630.5 86V92M631.5 86V92M632.5 86V92M633.5 86V92M634.5 88V92M635.5 88V92M636.5 88V92M637.5 88V92M638.5 87V92M639.5 87V92M640.5 87V92M641.5 87V92M642.5 85V91M643.5 85V91M644.5 85V91M645.5 85V91M646.5 86V94M647.5 86V94M648.5 86V94M649.5 86V94M650.5 86V92M651.5 86V92M652.5 86V92M653.5 86V92M654.5 87V92M655.5 87V92M656.5 87V92M657.5 87V92M658.5 86V93M659.5 86V93M660.5 86V93M661.5 86V93M662.5 86V91M663.5 86V91M664.5 86V91M665.5 86V91M666.5 88V92M667.5 88V92M668.5 88V92M669.5 88V92" stroke="#ff6347" fill="none"/>
<path d="M630 83h3v3h-3zM527 91h3v3h-3zM620 91h3v3h-3zM545 85h3v3h-3zM508 94h3v3h-3zM606 91h3v3h-3zM669 93h3v3h-3zM540 91h3v3h-3zM620 92h3v3h-3zM523 93h3v3h-3z" fill="#ff6347"/>
<path d="M554 76h3v3h-3zM562 74h3v3h-3zM564 90h3v3h-3zM562 98h3v3h-3zM500 88h3v3h-3zM508 88h3v3h-3zM462 100h3v3h-3zM464 100h3v3h-3zM364 74h3v3h-3zM384 82h3v3h-3zM396 108h3v3h-3z" fill="#ff6347"/>
<path d="M102.5 118V123M103.5 118V123M104.5 118V123M105.5 118V123M106.5 119V123M107.5 119V123M108.5 119V123M109.5 119V123M110.5 116V122M111.5 116V122M112.5 116V122M113.5 116V122M114.5 119V121M115.5 119V121M116.5 119V121M117.5 119V121M118.5 118V122M119.5 118V122M120.5 118V122M121.5 118V122M122.5 117V122M123.5 117V122M124.5 117V122M125.5 117V122M126.5 117V123M127.5 117V123M128.5 117V123M129.5 117V123M130.5 117V122M131.5 117V122M132.5 117V122M133.5 117V122M134.5 117V122M135.5 117V122M136.5 117V122M137.5 117V122M138.5 118V123M139.5 118V123M140.5 118V123M141.5 118V123M142.5 118V124M143.5 118V124M144.5 118V124M145.5 118V124M146.5 118V122M147.5 118V122M148.5 118V122M149.5 118V122M150.5 116V124M151.5 116V124M152.5 116V124M153.5 116V124M154.5 116V122M155.5 116V122M156.5 116V122M157.5 116V122M158.5 119V122M159.5 119V122M160.5 119V122M161.5 119V122M162.5 119V123M163.5 119V123M164.5 119V123M165.5 119V123M166.5 120V123M167.5 120V123M168.5 120V123M169.5 120V123M170.5 119V122M171.5 119V122M172.5 119V122M173.5 119V122M174.5 117V123M175.5 117V123M176.5 117V123M177.5 117V123M178.5 119V122M179.5 119V122M180.5 119V122M181.5 119V122M182.5 118V124M183.5 118V124M184.5 118V124M185.5 118V124M186.5 118V123M187.5 118V123M188.5 118V123M189.5 118V123M190.5 117V122M191.5 117V122M192.5 117V122M193.5 117V122M194.5 118V123M195.5 118V123M196.5 118V123M197.5 118V123M198.5 118V123M199.5 118V123M200.5 118V123M201.5 118V123M202.5 119V123M203.5 119V123M204.5 119V123M205.5 119V123M206.5 118V123M207.5 118V123M208.5 118V123M209.5 118V123M210.5 119V122M211.5 119V122M212.5 119V122M213.5 119V122M214.5 117V123M215.5 117V123M216.5 117V123M217.5 117V123M218.5 118V123M219.5 118V123M220.5 118V123M221.5 118V123M222.5 118V123M223.5 118V123M224.5 118V123M225.5 118V123M226.5 118V124M227.5 118V125M228.5 118V125M229.5 119V126M230.5 119V125M231.5 119V126M232.5 120V126M233.5 120V126M234.5 121V125M235.5 121V125M236.5 121V125M237.5 121V125M238.5 121V126M239.5 121V126M240.5 121V126M241.5 121V126M242.5 120V126M243.5 120V126M244.5 120V126M245.5 120V126M246.5 121V126M247.5 121V126M248.5 121V126M249.5 121V126M250.5 120V126M251.5 120V126M252.5 120V126M253.5 120V126M254.5 121V127M255.5 121V127M256.5 121V127M257.5 121V127M258.5 120V126M259.5 120V126M260.5 120V126M261.5 120V126M262.5 121V126M263.5 121V126M264.5 121V126M265.5 121V126M266.5 121V125M267.5 121V125M268.5 121V125M269.5 121V125M270.5 120V127M271.5 120V127M272.5 120V127M273.5 120V127M274.5 121V126M275.5 121V126M276.5 121V126M277.5 121V126M278.5 120V125M279.5 120V125M280.5 120V125M281.5 120V125M282.5 120V125M283.5 120V125M284.5 120V125M285.5 120V125M286.5 119V125M287.5 119V125M288.5 119V125M289.5 119V125M290.5 120V127M291.5 120V127M292.5 120V127M293.5 120V127M294.5 121V126M295.5 121V126M296.5 121V126M297.5 121V126M298.5 120V124M299.5 120V124M300.5 120V124M301.5 120V124M302.5 120V126M303.5 120V126M304.5 120V126M305.5 120V126M306.5 122V126M307.5 122V126M308.5 122V126M309.5 122V126M310.5 122V126M311.5 122V126M312.5 122V126M313.5 122V126M314.5 120V126M315.5 120V126M316.5 120V126M317.5 120V126M318.5 121V125M319.5 121V125M320.5 121V125M321.5 121V125M322.5 119V126M323.5 119V126M324.5 119V126M325.5 119V126M326.5 120V125M327.5 120V125M328.5 120V125M329.5 120V125M330.5 120V124M331.5 120V124M332.5 120V124M333.5 120V124M334.5 121V125M335.5 121V125M336.5 121V125M337.5 121V125M338.5 120V125M339.5 120V125M340.5 120V125M341.5 120V125M342.5 120V126M343.5 120V126M344.5 120V126M345.5 120V126M346.5 121V126M347.5 121V126M348.5 121V126M349.5 121V126M350.5 120V125M351.5 120V125M352.5 120V125M353.5 120V125M354.5 120V126M355.5 120V126M356.5 120V126M357.5 120V126M358.5 121V126M359.5 121V126M360.5 121V126M361.5 121V126M362.5 121V124M363.5 121V124M364.5 121V124M365.5 121V124M366.5 120V124M367.5 120V124M368.5 120V124M369.5 120V124M370.5 121V125M371.5 121V125M372.5 121V125M373.5 121V125M374.5 120V126M375.5 120V126M376.5 120V126M377.5 120V126M378.5 120V125M379.5 120V125M380.5 120V125M381.5 120V125M382.5 120V123M383.5 120V123M384.5 120V123M385.5 120V123M386.5 120V125M387.5 120V125M388.5 120V125M389.5 120V125M390.5 121V125M391.5 121V125M392.5 121V125M393.5 121V125M394.5 120V125M395.5 120V125M396.5 120V125M397.5 120V125M398.5 120V125M399.5 120V125M400.5 120V125M401.5 120V125M402.5 120V124M403.5 120V124M404.5 120V124M405.5 120V124M406.5 121V126M407.5 121V126M408.5 121V126M409.5 121V126M410.5 121V125M411.5 121V125M412.5 121V125M413.5 121V125M414.5 120V125M415.5 120V125M416.5 120V125M417.5 120V125M418.5 120V125M419.5 120V125M420.5 120V125M421.5 120V125M422.5 120V125M423.5 120V125M424.5 120V125M425.5 120V125M426.5 119V124M427.5 119V124M428.5 119V124M429.5 119V124M430.5 121V125M431.5 121V125M432.5 121V125M433.5 121V125M434.5 121V125M435.5 121V125M436.5 121V125M437.5 121V124M438.5 120V123M439.5 120V123M440.5 120V123M441.5 120V123M442.5 120V124M443.5 120V124M444.5 120V124M445.5 120V124M446.5 120V125M447.5 120V125M448.5 120V125M449.5 120V125M450.5 121V124M451.5 121V124M452.5 121V124M453.5 121V124M454.5 120V126M455.5 120V126M456.5 120V126M457.5 120V126M458.5 119V126M459.5 119V126M460.5 119V126M461.5 119V126M462.5 118V124M463.5 118V124M464.5 118V124M465.5 118V124M466.5 120V125M467.5 120V125M468.5 120V125M469.5 120V125M470.5 119V126M471.5 119V126M472.5 119V126M473.5 119V126M474.5 119V124M475.5 119V124M476.5 119V124M477.5 119V124M478.5 120V124M479.5 120V124M480.5 120V124M481.5 120V123M482.5 120V124M483.5 120V124M484.5 120V124M485.5 120V124M486.5 118V123M487.5 118V123M488.5 118V123M489.5 118V123M490.5 119V123M491.5 119V123M492.5 119V123M493.5 119V123M494.5 119V124M495.5 119V124M496.5 119V124M497.5 119V124M498.5 120V123M499.5 120V123M500.5 120V123M501.5 120V123M502.5 118V124M503.5 118V124M504.5 118V124M505.5 118V124M506.5 119V124M507.5 119V124M508.5 119V124M509.5 119V124M510.5 119V123M511.5 119V123M512.5 119V123M513.5 119V123M514.5 120V123M515.5 120V123M516.5 119V123M517.5 119V123M518.5 117V122M519.5 117V122M520.5 117V122M521.5 117V122M522.5 116V122M523.5 116V122M524.5 116V122M525.5 116V122M526.5 117V122M527.5 117V122M528.5 117V122M529.5 117V122M530.5 118V123M531.5 118V123M532.5 118V123M533.5 118V123M534.5 119V122M535.5 119V122M536.5 119V122M537.5 119V122M538.5 119V123M539.5 119V123M540.5 119V123M541.5 119V123M542.5 118V123M543.5 118V123M544.5 118V123M545.5 118V123M546.5 117V123M547.5 117V123M548.5 117V123M549.5 117V123M550.5 119V122M551.5 119V122M552.5 119V122M553.5 119V122M554.5 118V122M555.5 118V122M556.5 118V122M557.5 118V122M558.5 118V122M559.5 118V122M560.5 118V122M561.5 118V122M562.5 118V123M563.5 118V123M564.5 118V123M565.5 118V123M566.5 119V123M567.5 119V123M568.5 119V123M569.5 119V123M570.5 117V122M571.5 117V122M572.5 117V122M573.5 117V122M574.5 117V122M575.5 117V122M576.5 117V122M577.5 117V122M578.5 118V123M579.5 118V123M580.5 118V123M581.5 118V123M582.5 118V123M583.5 118V123M584.5 118V123M585.5 118V123M586.5 117V124M587.5 117V124M588.5 117V124M589.5 117V124M590.5 117V122M591.5 117V122M592.5 117V122M593.5 117V122M594.5 118V122M595.5 118V122M596.5 118V122M597.5 118V122M598.5 119V122M599.5 119V122M600.5 119V122M601.5 119V122M602.5 119V123M603.5 119V123M604.5 119V123M605.5 119V123M606.5 119V123M607.5 119V123M608.5 119V123M609.5 119V123M610.5 119V122M611.5 119V122M612.5 119V122M613.5 119V122M614.5 116V122M615.5 116V122M616.5 116V122M617.5 116V122M618.5 117V123M619.5 117V123M620.5 117V123M621.5 117V123M622.5 117V123M623.5 117V123M624.5 117V123M625.5 117V123M626.5 117V122M627.5 117V122M628.5 117V122M629.5 117V122M630.5 117V122M631.5 117V122M632.5 117V122M633.5 117V122M634.5 118V123M635.5 118V123M636.5 118V123M637.5 118V123M638.5 117V123M639.5 117V123M640.5 117V123M641.5 117V123M642.5 118V123M643.5 118V123M644.5 118V123M645.5 118V123M646.5 116V122M647.5 116V122M648.5 116V122M649.5 116V122M650.5 117V122M651.5 117V122M652.5 117V122M653.5 117V122M654.5 119V121M655.5 119V121M656.5 119V121M657.5 119V121M658.5 118V123M659.5 118V123M660.5 118V123M661.5 118V123M662.5 118V123M663.5 118V123M664.5 118V123M665.5 118V123M666.5 119V121M667.5 119V121M668.5 119V121M669.5 119V121" stroke="#3f60d0" fill="none"/>
<path d="M430 125h3v3h-3zM549 124h3v3h-3zM483 123h3v3h-3zM548 123h3v3h-3zM668 121h3v3h-3zM641 122h3v3h-3zM239 119h3v3h-3zM108 123h3v3h-3zM578 116h3v3h-3zM600 116h3v3h-3zM171 115h3v3h-3zM308 126h3v3h-3zM428 116h3v3h-3zM482 117h3v3h-3zM133 122h3v3h-3zM632 115h3v3h-3zM527 115h3v3h-3zM234 119h3v3h-3zM280 125h3v3h-3zM239 125h3v3h-3zM462 124h3v3h-3zM223 116h3v3h-3zM619 115h3v3h-3zM399 126h3v3h-3zM636 116h3v3h-3z" fill="#3f60d0"/>
<path d="M102.5 116V123M103.5 116V123M104.5 116V123M105.5 116V123M106.5 116V123M107.5 116V123M108.5 116V123M109.5 116V123M110.5 116V123M111.5 116V123M112.5 116V123M113.5 116V123M114.5 117V123M115.5 117V123M116.5 117V123M117.5 117V123M118.5 118V124M119.5 118V124M120.5 118V124M121.5 118V124M122.5 116V123M123.5 116V123M124.5 116V123M125.5 116V123M126.5 118V123M127.5 118V123M128.5 118V123M129.5 118V123M130.5 118V125M131.5 118V125M132.5 118V125M133.5 118V125M134.5 117V122M135.5 117V122M136.5 117V122M137.5 117V122M138.5 117V123M139.5 117V123M140.5 117V123M141.5 117V123M142.5 117V123M143.5 117V123M144.5 117V123M145.5 117V123M146.5 118V122M147.5 118V122M148.5 118V122M149.5 118V122M150.5 119V124M151.5 119V124M152.5 119V124M153.5 119V124M154.5 118V124M155.5 118V124M156.5 118V124M157.5 118V124M158.5 118V123M159.5 118V123M160.5 118V123M161.5 118V123M162.5 117V123M163.5 117V123M164.5 117V123M165.5 117V123M166.5 116V123M167.5 116V123M168.5 116V123M169.5 116V123M170.5 116V122M171.5 116V122M172.5 116V122M173.5 116V122M174.5 116V123M175.5 116V123M176.5 116V123M177.5 116V123M178.5 117V122M179.5 117V122M180.5 117V122M181.5 117V122M182.5 117V123M183.5 117V123M184.5 117V123M185.5 117V123M186.5 116V124M187.5 116V124M188.5 116V124M189.5 116V124M190.5 118V124M191.5 118V124M192.5 118V124M193.5 118V124M194.5 117V123M195.5 117V123M196.5 117V123M197.5 117V123M198.5 117V124M199.5 117V124M200.5 117V124M201.5 117V124M202.5 116V125M203.5 116V125M204.5 116V125M205.5 116V125M206.5 118V124M207.5 118V124M208.5 118V124M209.5 118V124M210.5 117V123M211.5 117V123M212.5 117V123M213.5 117V123M214.5 116V124M215.5 116V124M216.5 116V124M217.5 116V124M218.5 116V123M219.5 116V123M220.5 116V123M221.5 116V123M222.5 118V123M223.5 118V123M224.5 118V123M225.5 118V123M226.5 116V124M227.5 116V123M228.5 115V122M229.5 115V122M230.5 116V121M231.5 115V121M232.5 115V121M233.5 115V121M234.5 115V120M235.5 115V120M236.5 115V120M237.5 115V120M238.5 112V120M239.5 112V120M240.5 112V120M241.5 112V120M242.5 115V120M243.5 115V120M244.5 115V120M245.5 115V120M246.5 114V120M247.5 114V120M248.5 114V120M249.5 114V120M250.5 113V119M251.5 113V119M252.5 113V119M253.5 113V119M254.5 114V119M255.5 114V119M256.5 114V119M257.5 114V119M258.5 114V121M259.5 114V121M260.5 114V121M261.5 114V121M262.5 114V120M263.5 114V120M264.5 114V120M265.5 114V120M266.5 114V120M267.5 114V120M268.5 114V120M269.5 114V120M270.5 113V121M271.5 113V121M272.5 113V121M273.5 113V121M274.5 115V120M275.5 115V120M276.5 115V120M277.5 115V120M278.5 115V120M279.5 115V120M280.5 115V120M281.5 115V120M282.5 115V119M283.5 115V119M284.5 115V119M285.5 115V119M286.5 115V120M287.5 115V120M288.5 115V120M289.5 115V120M290.5 115V120M291.5 115V120M292.5 115V120M293.5 115V120M294.5 115V120M295.5 115V120M296.5 115V120M297.5 115V120M298.5 114V119M299.5 114V119M300.5 114V119M301.5 114V119M302.5 115V119M303.5 115V119M304.5 115V119M305.5 115V119M306.5 114V120M307.5 114V120M308.5 114V120M309.5 114V120M310.5 114V119M311.5 114V119M312.5 114V119M313.5 114V119M314.5 115V121M315.5 115V121M316.5 115V121M317.5 115V121M318.5 113V120M319.5 113V120M320.5 113V120M321.5 113V120M322.5 114V120M323.5 114V120M324.5 114V120M325.5 114V120M326.5 114V120M327.5 114V120M328.5 114V120M329.5 114V120M330.5 113V121M331.5 113V121M332.5 113V121M333.5 113V121M334.5 113V120M335.5 113V120M336.5 113V120M337.5 113V120M338.5 115V120M339.5 115V120M340.5 115V120M341.5 115V120M342.5 113V120M343.5 113V120M344.5 113V120M345.5 113V120M346.5 114V120M347.5 114V120M348.5 114V120M349.5 114V120M350.5 114V120M351.5 114V120M352.5 114V120M353.5 114V120M354.5 114V121M355.5 114V121M356.5 114V121M357.5 114V121M358.5 114V121M359.5 114V121M360.5 114V121M361.5 114V121M362.5 114V121M363.5 114V121M364.5 114V121M365.5 114V121M366.5 114V120M367.5 114V120M368.5 114V120M369.5 114V120M370.5 114V120M371.5 114V120M372.5 114V120M373.5 114V120M374.5 114V120M375.5 114V120M376.5 114V120M377.5 114V120M378.5 115V121M379.5 115V121M380.5 115V121M381.5 115V121M382.5 114V120M383.5 114V120M384.5 114V120M385.5 115V120M386.5 115V120M387.5 115V120M388.5 115V120M389.5 115V120M390.5 115V120M391.5 115V120M392.5 115V120M393.5 115V120M394.5 115V120M395.5 115V120M396.5 115V120M397.5 115V120M398.5 115V120M399.5 115V120M400.5 115V120M401.5 115V120M402.5 114V122M403.5 114V122M404.5 114V122M405.5 114V122M406.5 115V120M407.5 115V120M408.5 115V120M409.5 115V120M410.5 115V121M411.5 115V121M412.5 115V121M413.5 115V121M414.5 114V121M415.5 114V121M416.5 114V121M417.5 114V121M418.5 115V121M419.5 115V121M420.5 115V121M421.5 115V121M422.5 115V121M423.5 115V121M424.5 115V121M425.5 115V121M426.5 115V122M427.5 115V122M428.5 115V122M429.5 115V122M430.5 114V121M431.5 114V121M432.5 114V121M433.5 114V121M434.5 113V122M435.5 113V122M436.5 113V122M437.5 113V122M438.5 115V121M439.5 115V121M440.5 115V121M441.5 115V121M442.5 114V120M443.5 114V120M444.5 114V120M445.5 114V120M446.5 113V120M447.5 113V120M448.5 113V120M449.5 113V120M450.5 115V121M451.5 115V121M452.5 115V121M453.5 115V121M454.5 114V120M455.5 114V120M456.5 114V120M457.5 114V120M458.5 115V122M459.5 115V122M460.5 115V122M461.5 115V122M462.5 114V121M463.5 114V121M464.5 114V121M465.5 114V121M466.5 115V121M467.5 115V121M468.5 115V121M469.5 115V121M470.5 115V120M471.5 115V120M472.5 115V120M473.5 115V120M474.5 115V121M475.5 115V122M476.5 115V122M477.5 115V122M478.5 115V121M479.5 115V121M480.5 115V121M481.5 115V121M482.5 115V123M483.5 115V123M484.5 116V123M485.5 116V123M486.5 114V122M487.5 114V122M488.5 114V122M489.5 114V122M490.5 116V122M491.5 116V122M492.5 116V122M493.5 116V122M494.5 115V122M495.5 115V122M496.5 115V122M497.5 115V122M498.5 114V122M499.5 114V122M500.5 114V122M501.5 114V122M502.5 115V122M503.5 115V122M504.5 115V122M505.5 115V122M506.5 115V122M507.5 115V122M508.5 115V122M509.5 115V122M510.5 115V123M511.5 115V123M512.5 115V123M513.5 115V123M514.5 116V122M515.5 116V122M516.5 116V122M517.5 116V122M518.5 115V123M519.5 115V123M520.5 115V123M521.5 115V123M522.5 116V123M523.5 116V123M524.5 116V123M525.5 116V123M526.5 116V123M527.5 116V123M528.5 116V123M529.5 116V123M530.5 115V122M531.5 115V122M532.5 115V122M533.5 115V122M534.5 116V122M535.5 116V122M536.5 116V122M537.5 116V122M538.5 115V123M539.5 115V123M540.5 115V123M541.5 115V123M542.5 115V122M543.5 115V122M544.5 115V122M545.5 115V122M546.5 117V124M547.5 117V124M548.5 117V124M549.5 117V124M550.5 115V123M551.5 115V123M552.5 115V123M553.5 115V123M554.5 115V123M555.5 115V123M556.5 115V123M557.5 115V123M558.5 115V122M559.5 115V122M560.5 115V122M561.5 115V122M562.5 115V123M563.5 115V123M564.5 115V124M565.5 115V124M566.5 115V123M567.5 115V123M568.5 115V123M569.5 115V123M570.5 115V123M571.5 115V123M572.5 115V123M573.5 115V123M574.5 114V123M575.5 114V123M576.5 114V123M577.5 114V123M578.5 114V125M579.5 114V125M580.5 114V125M581.5 114V125M582.5 114V123M583.5 114V123M584.5 114V123M585.5 114V123M586.5 114V123M587.5 114V123M588.5 114V123M589.5 114V123M590.5 115V124M591.5 115V124M592.5 115V124M593.5 115V124M594.5 115V124M595.5 115V124M596.5 115V124M597.5 115V124M598.5 115V123M599.5 115V123M600.5 115V123M601.5 115V123M602.5 114V124M603.5 114V124M604.5 114V124M605.5 114V124M606.5 115V122M607.5 115V122M608.5 115V122M609.5 115V122M610.5 115V123M611.5 115V123M612.5 115V123M613.5 115V123M614.5 114V122M615.5 114V122M616.5 114V122M617.5 114V122M618.5 115V124M619.5 115V124M620.5 115V124M621.5 115V124M622.5 114V123M623.5 114V123M624.5 114V123M625.5 114V123M626.5 115V125M627.5 115V125M628.5 115V125M629.5 115V125M630.5 114V124M631.5 114V124M632.5 114V124M633.5 114V124M634.5 116V124M635.5 116V124M636.5 116V124M637.5 116V124M638.5 114V123M639.5 114V123M640.5 114V123M641.5 114V123M642.5 115V123M643.5 115V123M644.5 115V123M645.5 115V123M646.5 115V123M647.5 115V123M648.5 115V123M649.5 115V123M650.5 116V124M651.5 116V124M652.5 116V124M653.5 116V124M654.5 116V123M655.5 116V123M656.5 116V123M657.5 116V123M658.5 114V122M659.5 114V122M660.5 114V122M661.5 114V122M662.5 116V124M663.5 116V124M664.5 116V124M665.5 116V124M666.5 115V124M667.5 115V124M668.5 115V124M669.5 115V124" stroke="#00c800" fill="none"/>
<path d="M501 111h3v3h-3zM593 124h3v3h-3zM647 112h3v3h-3zM453 120h3v3h-3zM449 120h3v3h-3zM150 123h3v3h-3zM349 111h3v3h-3zM583 122h3v3h-3zM298 120h3v3h-3zM496 122h3v3h-3zM171 114h3v3h-3zM631 112h3v3h-3zM406 112h3v3h-3zM194 113h3v3h-3zM328 120h3v3h-3zM490 114h3v3h-3zM578 111h3v3h-3zM467 113h3v3h-3zM530 122h3v3h-3zM349 111h3v3h-3z" fill="#00c800"/>
<path d="M102.5 159V162M103.5 159V162M104.5 159V162M105.5 159V162M106.5 159V162M107.5 159V162M108.5 159V162M109.5 159V162M110.5 159V162M111.5 159V162M112.5 159V162M113.5 159V162M114.5 159V162M115.5 159V162M116.5 159V162M117.5 159V162M118.5 159V162M119.5 159V162M120.5 159V162M121.5 159V162M122.5 159V162M123.5 159V162M124.5 159V162M125.5 159V162M126.5 159V162M127.5 159V162M128.5 159V162M129.5 159V162M130.5 159V162M131.5 159V162M132.5 159V162M133.5 159V162M134.5 159V162M135.5 159V162M136.5 159V162M137.5 159V162M138.5 159V162M139.5 159V162M140.5 159V162M141.5 159V162M142.5 159V162M143.5 159V162M144.5 159V162M145.5 159V162M146.5 159V162M147.5 159V162M148.5 159V162M149.5 159V162M150.5 159V162M151.5 159V162M152.5 159V162M153.5 159V162M154.5 159V162M155.5 159V162M156.5 159V162M157.5 159V162M158.5 159V162M159.5 159V162M160.5 159V162M161.5 159V162M162.5 159V162M163.5 159V162M164.5 159V162M165.5 159V162M166.5 159V162M167.5 159V162M168.5 159V162M169.5 159V162M170.5 159V162M171.5 159V162M172.5 159V162M173.5 159V162M174.5 159V162M175.5 159V162M176.5 159V162M177.5 159V162M178.5 159V162M179.5 159V162M180.5 159V162M181.5 159V162M182.5 159V162M183.5 159V162M184.5 159V162M185.5 159V162M186.5 159V162M187.5 159V162M188.5 159V162M189.5 159V162M190.5 159V162M191.5 159V162M192.5 159V162M193.5 159V162M194.5 159V162M195.5 159V162M196.5 159V162M197.5 159V162M198.5 159V162M199.5 159V162M200.5 159V162M201.5 159V162M202.5 159V162M203.5 159V162M204.5 159V162M205.5 159V162M206.5 159V162M207.5 159V162M208.5 159V162M209.5 159V162M210.5 159V162M211.5 159V162M212.5 159V162M213.5 159V162M214.5 159V162M215.5 159V162M216.5 159V162M217.5 159V162M218.5 159V162M219.5 159V162M220.5 159V162M221.5 159V162M222.5 159V162M223.5 159V162M224.5 159V162M225.5 159V162M226.5 159V162M227.5 159V162M228.5 159V162M229.5 159V162M230.5 159V162M231.5 159V162M232.5 159V162M233.5 159V162M234.5 159V162M235.5 159V162M236.5 159V162M237.5 159V162M238.5 159V162M239.5 159V162M240.5 159V162M241.5 159V162M242.5 159V162M243.5 159V162M244.5 159V162M245.5 159V162M246.5 159V162M247.5 159V162M248.5 159V162M249.5 159V162M250.5 159V162M251.5 159V162M252.5 159V162M253.5 159V162M254.5 159V162M255.5 159V162M256.5 159V162M257.5 159V162M258.5 159V162M259.5 159V162M260.5 159V162M261.5 159V162M262.5 159V162M263.5 159V162M264.5 159V162" stroke="#00c800" fill="none"/>
<path d="M267.5 159V162M268.5 159V162M269.5 159V162M270.5 159V162M271.5 159V162" stroke="#00c800" fill="none"/>
<path d="M273.5 159V162M274.5 159V162M275.5 159V162M276.5 159V162M277.5 159V162M278.5 159V162M279.5 159V162M280.5 159V162M281.5 159V162M282.5 159V162M283.5 159V162" stroke="#00c800" fill="none"/>
<path d="M307.5 159V162M308.5 159V162M309.5 159V162M310.5 159V162M311.5 159V162M312.5 159V162M313.5 159V162M314.5 159V162M315.5 159V162M316.5 159V162M317.5 159V162M318.5 159V162M319.5 159V162M320.5 159V162M321.5 159V162M322.5 159V162M323.5 159V162M324.5 159V162M325.5 159V162M326.5 159V162M327.5 159V162M328.5 159V162M329.5 159V162M330.5 159V162M331.5 159V162M332.5 159V162M333.5 159V162M334.5 159V162M335.5 159V162M336.5 159V162M337.5 159V162M338.5 159V162M339.5 159V162M340.5 159V162M341.5 159V162M342.5 159V162M343.5 159V162M344.5 159V162M345.5 159V162M346.5 159V162M347.5 159V162M348.5 159V162M349.5 159V162M350.5 159V162M351.5 159V162M352.5 159V162M353.5 159V162M354.5 159V162M355.5 159V162M356.5 159V162M357.5 159V162M358.5 159V162M359.5 159V162M360.5 159V162M361.5 159V162M362.5 159V162M363.5 159V162M364.5 159V162M365.5 159V162M366.5 159V162M367.5 159V162M368.5 159V162M369.5 159V162M370.5 159V162M371.5 159V162M372.5 159V162M373.5 159V162M374.5 159V162M375.5 159V162M376.5 159V162M377.5 159V162M378.5 159V162M379.5 159V162M380.5 159V162M381.5 159V162M382.5 159V162M383.5 159V162M384.5 159V162M385.5 159V162M386.5 159V162M387.5 159V162M388.5 159V162M389.5 159V162M390.5 159V162M391.5 159V162M392.5 159V162M393.5 159V162M394.5 159V162M395.5 159V162M396.5 159V162M397.5 159V162M398.5 159V162M399.5 159V162M400.5 159V162M401.5 159V162M402.5 159V162M403.5 159V162M404.5 159V162M405.5 159V162M406.5 159V162M407.5 159V162M408.5 159V162M409.5 159V162M410.5 159V162M411.5 159V162M412.5 159V162M413.5 159V162M414.5 159V162M415.5 159V162M416.5 159V162M417.5 159V162M418.5 159V162M419.5 159V162M420.5 159V162M421.5 159V162M422.5 159V162M423.5 159V162M424.5 159V162M425.5 159V162M426.5 159V162M427.5 159V162M428.5 159V162M429.5 159V162M430.5 159V162M431.5 159V162M432.5 159V162M433.5 159V162M434.5 159V162M435.5 159V162M436.5 159V162M437.5 159V162M438.5 159V162M439.5 159V162M440.5 159V162M441.5 159V162M442.5 159V162M443.5 159V162M444.5 159V162M445.5 159V162M446.5 159V162M447.5 159V162M448.5 159V162M449.5 159V162M450.5 159V162M451.5 159V162M452.5 159V162M453.5 159V162M454.5 159V162M455.5 159V162M456.5 159V162M457.5 159V162M458.5 159V162M459.5 159V162M460.5 159V162M461.5 159V162M462.5 159V162M463.5 159V162M464.5 159V162M465.5 159V162M466.5 159V162M467.5 159V162M468.5 159V162M469.5 159V162M470.5 159V162" stroke="#00c800" fill="none"/>
<path d="M481.5 159V162M482.5 159V162M483.5 159V162M484.5 159V162M485.5 159V162M486.5 159V162M487.5 159V162M488.5 159V162M489.5 159V162M490.5 159V162M491.5 159V162M492.5 159V162M493.5 159V162M494.5 159V162M495.5 159V162M496.5 159V162M497.5 159V162M498.5 159V162M499.5 159V162M500.5 159V162M501.5 159V162M502.5 159V162M503.5 159V162M504.5 159V162M505.5 159V162M506.5 159V162M507.5 159V162" stroke="#00c800" fill="none"/>
<path d="M510.5 159V162M511.5 159V162M512.5 159V162M513.5 159V162M514.5 159V162M515.5 159V162M516.5 159V162M517.5 159V162M518.5 159V162M519.5 159V162M520.5 159V162M521.5 159V162M522.5 159V162M523.5 159V162M524.5 159V162M525.5 159V162M526.5 159V162M527.5 159V162M528.5 159V162M529.5 159V162M530.5 159V162M531.5 159V162M532.5 159V162M533.5 159V162M534.5 159V162M535.5 159V162M536.5 159V162M537.5 159V162M538.5 159V162M539.5 159V162M540.5 159V162M541.5 159V162M542.5 159V162M543.5 159V162" stroke="#00c800" fill="none"/>
<path d="M546.5 159V162M547.5 159V162M548.5 159V162M549.5 159V162M550.5 159V162M551.5 159V162M552.5 159V162M553.5 159V162M554.5 159V162M555.5 159V162M556.5 159V162M557.5 159V162M558.5 159V162M559.5 159V162M560.5 159V162M561.5 159V162M562.5 159V162M563.5 159V162M564.5 159V162M565.5 159V162M566.5 159V162M567.5 159V162M568.5 159V162M569.5 159V162M570.5 159V162M571.5 159V162M572.5 159V162M573.5 159V162M574.5 159V162M575.5 159V162M576.5 159V162M577.5 159V162M578.5 159V162M579.5 159V162M580.5 159V162M581.5 159V162M582.5 159V162M583.5 159V162M584.5 159V162M585.5 159V162M586.5 159V162M587.5 159V162M588.5 159V162M589.5 159V162M590.5 159V162M591.5 159V162M592.5 159V162M593.5 159V162M594.5 159V162M595.5 159V162M596.5 159V162M597.5 159V162M598.5 159V162M599.5 159V162M600.5 159V162M601.5 159V162M602.5 159V162M603.5 159V162M604.5 159V162M605.5 159V162M606.5 159V162M607.5 159V162M608.5 159V162M609.5 159V162M610.5 159V162M611.5 159V162M612.5 159V162M613.5 159V162M614.5 159V162M615.5 159V162M616.5 159V162M617.5 159V162M618.5 159V162M619.5 159V162M620.5 159V162M621.5 159V162M622.5 159V162M623.5 159V162M624.5 159V162M625.5 159V162M626.5 159V162M627.5 159V162M628.5 159V162M629.5 159V162M630.5 159V162M631.5 159V162M632.5 159V162M633.5 159V162M634.5 159V162M635.5 159V162" stroke="#00c800" fill="none"/>
<path d="M638.5 159V162M639.5 159V162M640.5 159V162M641.5 159V162M642.5 159V162M643.5 159V162M644.5 159V162M645.5 159V162M646.5 159V162M647.5 159V162M648.5 159V162M649.5 159V162M650.5 159V162M651.5 159V162M652.5 159V162M653.5 159V162M654.5 159V162M655.5 159V162M656.5 159V162M657.5 159V162M658.5 159V162M659.5 159V162M660.5 159V162M661.5 159V162M662.5 159V162M663.5 159V162M664.5 159V162M665.5 159V162M666.5 159V162M667.5 159V162M668.5 159V162M669.5 159V162" stroke="#00c800" fill="none"/>
<path d="M102.5 199V209M103.5 199V209M104.5 199V209M105.5 199V210M106.5 200V212M107.5 200V212M108.5 201V212M109.5 201V213M110.5 202V213M111.5 202V213M112.5 202V213M113.5 202V213M114.5 200V211M115.5 200V211M116.5 200V212M117.5 200V212M118.5 203V213M119.5 203V213M120.5 203V213M121.5 203V214M122.5 203V212M123.5 203V213M124.5 203V213M125.5 203V213M126.5 204V214M127.5 204V214M128.5 204V214M129.5 204V214M130.5 203V212M131.5 203V213M132.5 203V213M133.5 203V213M134.5 204V214M135.5 205V215M136.5 205V215M137.5 205V215M138.5 202V214M139.5 202V214M140.5 202V214M141.5 201V214M142.5 205V215M143.5 205V215M144.5 205V215M145.5 205V215M146.5 204V214M147.5 204V214M148.5 204V214M149.5 203V214M150.5 201V213M151.5 200V213M152.5 200V213M153.5 200V213M154.5 202V214M155.5 202V214M156.5 202V214M157.5 201V214M158.5 201V214M159.5 201V214M160.5 201V213M161.5 200V213M162.5 197V214M163.5 197V213M164.5 196V213M165.5 196V213M166.5 199V212M167.5 199V212M168.5 199V212M169.5 199V212M170.5 196V213M171.5 196V213M172.5 196V213M173.5 196V212M174.5 196V210M175.5 195V210M176.5 195V209M177.5 195V209M178.5 194V211M179.5 195V211M180.5 195V212M181.5 195V212M182.5 196V213M183.5 196V213M184.5 197V213M185.5 197V213M186.5 198V211M187.5 198V211M188.5 199V211M189.5 199V212M190.5 199V215M191.5 199V215M192.5 199V215M193.5 199V215M194.5 197V215M195.5 197V215M196.5 197V215M197.5 197V215M198.5 199V213M199.5 199V213M200.5 199V213M201.5 199V213M202.5 197V210M203.5 197V210M204.5 197V210M205.5 197V210M206.5 197V210M207.5 197V210M208.5 197V210M209.5 197V210M210.5 198V212M211.5 198V212M212.5 198V212M213.5 198V212M214.5 200V215M215.5 200V215M216.5 200V215M217.5 200V215M218.5 200V214M219.5 200V214M220.5 200V214M221.5 200V214M222.5 198V214M223.5 198V214M224.5 198V214M225.5 198V214M226.5 198V213M227.5 198V213M228.5 198V213M229.5 198V213M230.5 198V212M231.5 198V212M232.5 198V212M233.5 198V212M234.5 199V214M235.5 199V214M236.5 199V214M237.5 199V214M238.5 200V211M239.5 200V211M240.5 200V211M241.5 200V211M242.5 199V213M243.5 199V213M244.5 199V213M245.5 199V213M246.5 200V214M247.5 200V214M248.5 200V214M249.5 200V214M250.5 199V213M251.5 199V213M252.5 199V213M253.5 199V213M254.5 201V214M255.5 201V214M256.5 201V214M257.5 201V214M258.5 196V212M259.5 196V212M260.5 196V212M261.5 196V212M262.5 196V214M263.5 196V214M264.5 196V214M265.5 196V214M266.5 198V214M267.5 198V214M268.5 198V214M269.5 198V214M270.5 200V211M271.5 199V211M272.5 199V211M273.5 199V211M274.5 198V211M275.5 198V211M276.5 198V211M277.5 198V211M278.5 199V212M279.5 199V212M280.5 199V212M281.5 199V212M282.5 196V214M283.5 196V214" stroke="#a020f0" fill="none"/>
<path d="M194 194h3v3h-3zM242 196h3v3h-3zM212 196h3v3h-3zM114 195h3v3h-3zM137 202h3v3h-3zM114 198h3v3h-3zM163 193h3v3h-3zM104 195h3v3h-3zM278 195h3v3h-3zM145 201h3v3h-3zM211 196h3v3h-3zM172 193h3v3h-3z" fill="#a020f0"/>
<path d="M285.5 212V215M286.5 212V215M287.5 212V215M288.5 212V215M289.5 212V215M290.5 212V215M291.5 212V215M292.5 212V215M293.5 212V215M294.5 212V215M295.5 212V215M296.5 212V215M297.5 212V215M298.5 212V215M299.5 212V215M300.5 212V215M301.5 212V215M302.5 212V215M303.5 212V215M304.5 212V215M305.5 212V215M306.5 212V215M307.5 212V215M308.5 212V215M309.5 212V215M310.5 212V215M311.5 212V215M312.5 212V215M313.5 212V215M314.5 212V215M315.5 212V215M316.5 212V215M317.5 212V215M318.5 212V215M319.5 212V215" stroke="#a020f0" fill="none"/>
<path d="M320.5 205V211M321.5 205V211M322.5 205V211M323.5 205V211M324.5 204V214M325.5 204V213M326.5 204V213M327.5 204V213M328.5 205V212M329.5 205V212" stroke="#a020f0" fill="none"/>
<path d="M327.5 188V196M328.5 189V197M329.5 189V197M330.5 190V197M331.5 189V198M332.5 189V198M333.5 190V199M334.5 190V199M335.5 195V200M336.5 195V200M337.5 196V200M338.5 196V201M339.5 195V200M340.5 195V201M341.5 196V201M342.5 196V201M343.5 197V203M344.5 197V203" stroke="#a020f0" fill="none"/>
<path d="M333 185h3v3h-3zM340 201h3v3h-3zM338 193h3v3h-3zM329 185h3v3h-3zM329 198h3v3h-3zM339 200h3v3h-3zM338 201h3v3h-3zM342 201h3v3h-3zM329 186h3v3h-3zM337 192h3v3h-3z" fill="#a020f0"/>
<path d="M352.5 189V195M353.5 190V196M354.5 191V197M355.5 192V198M356.5 195V200M357.5 196V201M358.5 197V202M359.5 197V203M360.5 199V205M361.5 200V205M362.5 200V206M363.5 201V207M364.5 202V208M365.5 203V209M366.5 204V210M367.5 205V211M368.5 206V211M369.5 207V212" stroke="#a020f0" fill="none"/>
<path d="M365 199h3v3h-3zM358 192h3v3h-3zM359 193h3v3h-3zM362 196h3v3h-3zM353 195h3v3h-3zM358 208h3v3h-3zM365 195h3v3h-3zM355 190h3v3h-3zM366 199h3v3h-3zM358 204h3v3h-3z" fill="#a020f0"/>
<path d="M367.5 166V173M368.5 168V175M369.5 169V177M370.5 171V179M371.5 174V181M372.5 175V183M373.5 177V185M374.5 179V187M375.5 180V188M376.5 182V189M377.5 183V190M378.5 184V192M379.5 186V194M380.5 187V196M381.5 188V197M382.5 190V198M383.5 192V200" stroke="#a020f0" fill="none"/>
<path d="M367 177h3v3h-3zM378 180h3v3h-3zM367 163h3v3h-3zM375 187h3v3h-3zM376 177h3v3h-3zM367 163h3v3h-3z" fill="#a020f0"/>
<path d="M382.5 195V202M383.5 195V202M384.5 195V202M385.5 196V203M386.5 194V204M387.5 194V204M388.5 194V204M389.5 194V205M390.5 193V208M391.5 193V208M392.5 193V208M393.5 193V208M394.5 196V210M395.5 196V210M396.5 196V210M397.5 196V210M398.5 196V206M399.5 196V206" stroke="#a020f0" fill="none"/>
<path d="M397 192h3v3h-3zM386 191h3v3h-3zM387 190h3v3h-3zM394 209h3v3h-3zM386 204h3v3h-3zM389 190h3v3h-3z" fill="#a020f0"/>
<path d="M344 202h3v3h-3zM348 204h3v3h-3zM346 200h3v3h-3zM356 210h3v3h-3zM360 206h3v3h-3z" fill="#a020f0"/>
<path d="M400.5 197V208M401.5 197V208M402.5 197V208M403.5 198V208M404.5 196V208M405.5 196V208M406.5 196V208M407.5 196V208M408.5 196V206M409.5 196V206M410.5 196V206M411.5 197V206M412.5 198V208M413.5 198V208M414.5 198V208M415.5 198V208M416.5 197V211M417.5 197V211M418.5 198V211M419.5 198V211M420.5 199V211M421.5 199V211M422.5 200V211M423.5 200V211M424.5 196V210M425.5 196V210M426.5 196V210M427.5 196V210M428.5 199V210M429.5 199V210M430.5 199V210M431.5 200V210M432.5 198V209M433.5 198V209M434.5 199V209M435.5 199V209M436.5 201V210M437.5 201V210M438.5 201V210M439.5 201V210M440.5 201V211M441.5 201V211M442.5 201V211M443.5 202V212M444.5 201V208M445.5 201V208M446.5 202V208M447.5 202V208M448.5 200V210M449.5 200V210M450.5 200V210M451.5 200V210M452.5 201V211M453.5 201V211M454.5 201V211M455.5 201V211M456.5 203V213M457.5 203V213M458.5 203V213M459.5 203V213M460.5 202V210M461.5 203V211M462.5 203V211M463.5 203V211M464.5 201V216M465.5 202V216M466.5 202V216M467.5 202V216M468.5 203V212M469.5 203V212M470.5 203V213M471.5 204V213" stroke="#a020f0" fill="none"/>
<path d="M400 193h3v3h-3zM463 199h3v3h-3zM408 192h3v3h-3zM414 194h3v3h-3zM447 199h3v3h-3zM413 194h3v3h-3zM416 194h3v3h-3zM413 195h3v3h-3z" fill="#a020f0"/>
<path d="M472.5 211V215M473.5 211V215M474.5 211V215M475.5 211V215M476.5 211V215M477.5 211V215M478.5 211V215M479.5 211V215M480.5 211V215M481.5 211V215M482.5 211V215M483.5 211V215" stroke="#a020f0" fill="none"/>
<path d="M484.5 194V206M485.5 192V203M486.5 190V201M487.5 188V198M488.5 188V199M489.5 189V200M490.5 190V202M491.5 191V203M492.5 193V202M493.5 194V203M494.5 195V205M495.5 196V206M496.5 199V207M497.5 200V209M498.5 201V210M499.5 203V211M500.5 202V212M501.5 203V213M502.5 204V214" stroke="#a020f0" fill="none"/>
<path d="M487 183h3v3h-3zM484 191h3v3h-3zM487 186h3v3h-3zM499 199h3v3h-3zM493 190h3v3h-3zM494 192h3v3h-3zM485 188h3v3h-3zM495 207h3v3h-3z" fill="#a020f0"/>
<path d="M503.5 165V173M504.5 167V175M505.5 168V176M506.5 170V178M507.5 173V180M508.5 174V182M509.5 176V184M510.5 177V185M511.5 178V187M512.5 180V188M513.5 181V190M514.5 183V191M515.5 185V194M516.5 186V195M517.5 188V197M518.5 189V198M519.5 188V201M520.5 189V202M521.5 191V203M522.5 192V204M523.5 195V204M524.5 196V205M525.5 198V206" stroke="#a020f0" fill="none"/>
<path d="M508 184h3v3h-3zM516 184h3v3h-3zM519 184h3v3h-3zM506 178h3v3h-3zM505 164h3v3h-3zM524 210h3v3h-3z" fill="#a020f0"/>
<path d="M526.5 196V211M527.5 196V211M528.5 196V211M529.5 196V211M530.5 194V213M531.5 194V213M532.5 194V213M533.5 194V213M534.5 197V213M535.5 197V213M536.5 197V214M537.5 197V214M538.5 197V213M539.5 197V213M540.5 197V213M541.5 197V213M542.5 193V212M543.5 193V212M544.5 193V212M545.5 193V212M546.5 194V213M547.5 194V213M548.5 194V213M549.5 194V213M550.5 196V213M551.5 196V213M552.5 196V213M553.5 193V213M554.5 186V213M555.5 180V212M556.5 179V212M557.5 183V212M558.5 188V213M559.5 193V213M560.5 195V213M561.5 195V213M562.5 194V212M563.5 194V212M564.5 194V212M565.5 194V212M566.5 197V213M567.5 197V213M568.5 197V213M569.5 197V213M570.5 197V212M571.5 197V212M572.5 197V212M573.5 197V212M574.5 196V213M575.5 196V213M576.5 196V213M577.5 196V213M578.5 198V213M579.5 198V213M580.5 198V213M581.5 198V213M582.5 197V210M583.5 197V210M584.5 197V210M585.5 197V210M586.5 195V212M587.5 195V212M588.5 195V212M589.5 195V212M590.5 197V212M591.5 197V212M592.5 197V212M593.5 197V212M594.5 195V212M595.5 195V212M596.5 195V212M597.5 195V212M598.5 198V213M599.5 198V213M600.5 198V213M601.5 198V213M602.5 197V215M603.5 197V215M604.5 197V215M605.5 197V215M606.5 197V212M607.5 197V212M608.5 197V211M609.5 196V211M610.5 196V214M611.5 196V214M612.5 196V214M613.5 196V214M614.5 198V210M615.5 198V210M616.5 198V210M617.5 198V210M618.5 196V212M619.5 196V212M620.5 196V212M621.5 196V212M622.5 196V213M623.5 196V213M624.5 196V213M625.5 196V213M626.5 196V213M627.5 196V213M628.5 196V213M629.5 196V213M630.5 197V213M631.5 197V213M632.5 197V213M633.5 197V213M634.5 197V213M635.5 197V213M636.5 197V213M637.5 197V213M638.5 197V212M639.5 197V211M640.5 195V211M641.5 193V210M642.5 191V209M643.5 188V208M644.5 186V207M645.5 184V206M646.5 186V207M647.5 187V208M648.5 189V208M649.5 190V208M650.5 187V207M651.5 189V208M652.5 189V208M653.5 189V208M654.5 189V206M655.5 189V206M656.5 189V207M657.5 189V207M658.5 188V207M659.5 188V207M660.5 188V207M661.5 188V207M662.5 190V208M663.5 190V208M664.5 190V208M665.5 189V208M666.5 190V210M667.5 190V210M668.5 190V211M669.5 190V211" stroke="#a020f0" fill="none"/>
<path d="M544 191h3v3h-3zM606 194h3v3h-3zM584 194h3v3h-3zM584 194h3v3h-3zM574 193h3v3h-3zM529 193h3v3h-3zM626 193h3v3h-3zM592 195h3v3h-3zM661 185h3v3h-3zM547 191h3v3h-3zM549 191h3v3h-3zM580 196h3v3h-3z" fill="#a020f0"/>
<path d="M102.5 254V268M103.5 255V268M104.5 255V268M105.5 255V268M106.5 256V268M107.5 256V268M108.5 256V268M109.5 257V268M110.5 258V268M111.5 258V268M112.5 258V268M113.5 259V268M114.5 260V268M115.5 260V268M116.5 260V268M117.5 260V268M118.5 259V268M119.5 259V268M120.5 258V268M121.5 258V268M122.5 258V268M123.5 257V268M124.5 257V268M125.5 257V268M126.5 258V268M127.5 258V268M128.5 258V268M129.5 258V268M130.5 261V268M131.5 261V268M132.5 261V268M133.5 261V268M134.5 258V268M135.5 258V268M136.5 258V268M137.5 258V268M138.5 257V268M139.5 257V268M140.5 257V268M141.5 257V268M142.5 258V268M143.5 258V268M144.5 258V268M145.5 258V268M146.5 259V268M147.5 259V268M148.5 259V268M149.5 259V268M150.5 259V268M151.5 259V268M152.5 259V268M153.5 258V268M154.5 260V268M155.5 260V268M156.5 260V268M157.5 260V268M158.5 258V268M159.5 258V268M160.5 258V268M161.5 257V268M162.5 256V268M163.5 255V268M164.5 255V268M165.5 255V268M166.5 259V268M167.5 258V268M168.5 258V268M169.5 258V268M170.5 256V268M171.5 256V268M172.5 256V268M173.5 256V268M174.5 256V268M175.5 256V268M176.5 256V268M177.5 256V268M178.5 255V268M179.5 255V268M180.5 255V268M181.5 255V268M182.5 255V268M183.5 255V268M184.5 255V268M185.5 255V268M186.5 258V268M187.5 258V268M188.5 258V268M189.5 258V268M190.5 255V268M191.5 255V268M192.5 255V268M193.5 255V268M194.5 256V268M195.5 256V268M196.5 256V268M197.5 256V268M198.5 255V268M199.5 255V268M200.5 255V268M201.5 255V268M202.5 258V268M203.5 258V268M204.5 259V268M205.5 259V268M206.5 257V268M207.5 257V268M208.5 257V268M209.5 258V268M210.5 256V268M211.5 256V268M212.5 256V268M213.5 257V268M214.5 258V268M215.5 258V268M216.5 258V268M217.5 259V268M218.5 260V268M219.5 260V268M220.5 260V268M221.5 260V268M222.5 257V268M223.5 257V268M224.5 257V268M225.5 257V268M226.5 257V268M227.5 257V268M228.5 257V268M229.5 257V268M230.5 259V268M231.5 259V268M232.5 259V268M233.5 259V268M234.5 259V268M235.5 259V268M236.5 259V268M237.5 259V268M238.5 257V268M239.5 257V268M240.5 257V268M241.5 257V268M242.5 258V268M243.5 258V268M244.5 258V268M245.5 258V268M246.5 258V268M247.5 258V268M248.5 258V268M249.5 258V268M250.5 260V268M251.5 260V268M252.5 260V268M253.5 260V268M254.5 257V268M255.5 257V268M256.5 257V268M257.5 257V268M258.5 259V268M259.5 259V268M260.5 259V268M261.5 259V268M262.5 259V268M263.5 259V268M264.5 259V268M265.5 259V268M266.5 261V268M267.5 261V268M268.5 261V268M269.5 261V268M270.5 256V268M271.5 256V268M272.5 256V268M273.5 256V268M274.5 258V268M275.5 258V268M276.5 258V268M277.5 258V268M278.5 258V268M279.5 258V268M280.5 258V268M281.5 258V268M282.5 260V268M283.5 260V268" stroke="#00b0ee" fill="none"/>
<path d="M130 258h3v3h-3zM181 252h3v3h-3zM258 255h3v3h-3zM107 251h3v3h-3zM113 256h3v3h-3zM202 255h3v3h-3zM123 255h3v3h-3zM158 253h3v3h-3zM120 256h3v3h-3zM127 253h3v3h-3z" fill="#00b0ee"/>
<path d="M176 246h3v3h-3zM176 250h3v3h-3zM174 252h3v3h-3zM134 254h3v3h-3zM248 254h3v3h-3zM250 254h3v3h-3zM252 254h3v3h-3z" fill="#00b0ee"/>
<path d="M285.5 265V268M286.5 265V268M287.5 265V268M288.5 265V268M289.5 265V268M290.5 265V268M291.5 265V268M292.5 265V268M293.5 265V268M294.5 265V268M295.5 265V268M296.5 265V268M297.5 265V268M298.5 265V268M299.5 265V268M300.5 265V268M301.5 265V268M302.5 265V268M303.5 265V268M304.5 265V268M305.5 265V268M306.5 265V268M307.5 265V268M308.5 265V268M309.5 265V268M310.5 265V268M311.5 265V268M312.5 265V268M313.5 265V268M314.5 265V268M315.5 265V268M316.5 265V268M317.5 265V268M318.5 265V268M319.5 265V268" stroke="#00b0ee" fill="none"/>
<path d="M319.5 224V252M320.5 225V252M321.5 225V252M322.5 226V252M323.5 225V251M324.5 226V251M325.5 226V251M326.5 227V251M327.5 230V249M328.5 231V249M329.5 232V249M330.5 233V249M331.5 231V251M332.5 232V251M333.5 233V251M334.5 234V251M335.5 235V251M336.5 235V252M337.5 236V252M338.5 237V252M339.5 241V251M340.5 242V252M341.5 242V252M342.5 243V252M343.5 246V251" stroke="#00b0ee" fill="none"/>
<path d="M342 252h3v3h-3zM341 256h3v3h-3zM325 221h3v3h-3zM321 253h3v3h-3zM336 262h3v3h-3zM331 221h3v3h-3zM337 230h3v3h-3zM341 253h3v3h-3zM323 253h3v3h-3zM339 253h3v3h-3zM336 227h3v3h-3zM331 228h3v3h-3z" fill="#00b0ee"/>
<path d="M345.5 230V242M346.5 231V243M347.5 232V244M348.5 233V245M349.5 236V244M350.5 237V245M351.5 238V247M352.5 239V248M353.5 242V253M354.5 243V254M355.5 244V255M356.5 245V256M357.5 247V250M358.5 248V251M359.5 249V252M360.5 250V253M361.5 248V257M362.5 249V258M363.5 250V259M364.5 251V260M365.5 254V260M366.5 255V261M367.5 256V262M368.5 257V262M369.5 256V264M370.5 257V265" stroke="#00b0ee" fill="none"/>
<path d="M358 253h3v3h-3zM366 263h3v3h-3zM356 243h3v3h-3zM366 251h3v3h-3zM361 257h3v3h-3zM369 252h3v3h-3zM367 262h3v3h-3zM356 240h3v3h-3zM354 256h3v3h-3zM347 228h3v3h-3z" fill="#00b0ee"/>
<path d="M370.5 240V247M371.5 240V247M372.5 241V248M373.5 242V249M374.5 237V251M375.5 238V252M376.5 239V253M377.5 239V254M378.5 244V252M379.5 245V253M380.5 246V254M381.5 247V255M382.5 250V257M383.5 251V258M384.5 251V259M385.5 252V259M386.5 249V257M387.5 249V258M388.5 250V259M389.5 251V259M390.5 253V259M391.5 254V260M392.5 254V261M393.5 255V261M394.5 258V263M395.5 258V264M396.5 259V264" stroke="#00b0ee" fill="none"/>
<path d="M396 267h3v3h-3zM385 248h3v3h-3zM384 248h3v3h-3zM384 246h3v3h-3zM393 249h3v3h-3zM385 264h3v3h-3zM372 236h3v3h-3zM382 243h3v3h-3zM381 260h3v3h-3zM377 234h3v3h-3z" fill="#00b0ee"/>
<path d="M320.5 265V268M321.5 265V268M322.5 265V268M323.5 265V268M324.5 265V268M325.5 265V268M326.5 265V268M327.5 265V268M328.5 265V268M329.5 265V268M330.5 265V268M331.5 265V268M332.5 265V268M333.5 265V268M334.5 265V268M335.5 265V268M336.5 265V268M337.5 265V268M338.5 265V268M339.5 265V268M340.5 265V268M341.5 265V268M342.5 265V268M343.5 265V268M344.5 265V268M345.5 265V268M346.5 265V268M347.5 265V268M348.5 265V268M349.5 265V268M350.5 265V268M351.5 265V268M352.5 265V268M353.5 265V268M354.5 265V268M355.5 265V268M356.5 265V268M357.5 265V268M358.5 265V268M359.5 265V268M360.5 265V268M361.5 265V268M362.5 265V268M363.5 265V268M364.5 265V268M365.5 265V268M366.5 265V268M367.5 265V268M368.5 265V268M369.5 265V268M370.5 265V268M371.5 265V268M372.5 265V268M373.5 265V268M374.5 265V268M375.5 265V268M376.5 265V268M377.5 265V268M378.5 265V268M379.5 265V268M380.5 265V268M381.5 265V268M382.5 265V268M383.5 265V268M384.5 265V268M385.5 265V268M386.5 265V268M387.5 265V268M388.5 265V268M389.5 265V268M390.5 265V268M391.5 265V268M392.5 265V268M393.5 265V268M394.5 265V268M395.5 265V268M396.5 265V268M397.5 265V268M398.5 265V268M399.5 265V268" stroke="#00b0ee" fill="none"/>
<path d="M320 216h3v3h-3zM324 220h3v3h-3zM332 212h3v3h-3zM344 248h3v3h-3zM358 226h3v3h-3zM366 232h3v3h-3zM372 222h3v3h-3zM378 234h3v3h-3zM382 240h3v3h-3zM384 244h3v3h-3zM390 246h3v3h-3zM394 250h3v3h-3zM378 228h3v3h-3zM336 244h3v3h-3zM340 248h3v3h-3z" fill="#00b0ee"/>
<path d="M400.5 255V262M401.5 255V262M402.5 255V262M403.5 255V262M404.5 256V263M405.5 256V263M406.5 256V263M407.5 256V263M408.5 257V261M409.5 257V262M410.5 257V262M411.5 257V262M412.5 257V262M413.5 257V262M414.5 257V262M415.5 257V262M416.5 256V263M417.5 256V263M418.5 256V263M419.5 256V263M420.5 256V264M421.5 256V264M422.5 256V264M423.5 256V264M424.5 254V264M425.5 254V264M426.5 254V264M427.5 254V264M428.5 255V263M429.5 255V263M430.5 255V263M431.5 255V263M432.5 256V261M433.5 256V261M434.5 256V261M435.5 256V261M436.5 257V263M437.5 257V263M438.5 257V263M439.5 257V263M440.5 255V265M441.5 255V265M442.5 255V265M443.5 255V265M444.5 255V264M445.5 255V264M446.5 255V264M447.5 255V264M448.5 257V264M449.5 257V264M450.5 257V264M451.5 257V264M452.5 258V266M453.5 258V266M454.5 258V266M455.5 258V266M456.5 256V266M457.5 256V266M458.5 256V266M459.5 256V266M460.5 258V264M461.5 258V264M462.5 258V264M463.5 258V264M464.5 259V261M465.5 259V261M466.5 259V261M467.5 259V261M468.5 258V265M469.5 258V265M470.5 258V265M471.5 258V265" stroke="#00b0ee" fill="none"/>
<path d="M441 253h3v3h-3zM424 251h3v3h-3zM407 253h3v3h-3zM401 253h3v3h-3zM424 252h3v3h-3zM444 253h3v3h-3zM435 253h3v3h-3zM446 253h3v3h-3zM454 255h3v3h-3zM442 253h3v3h-3z" fill="#00b0ee"/>
<path d="M400.5 265V268M401.5 265V268M402.5 265V268M403.5 265V268M404.5 265V268M405.5 265V268M406.5 265V268M407.5 265V268M408.5 265V268M409.5 265V268M410.5 265V268M411.5 265V268M412.5 265V268M413.5 265V268M414.5 265V268M415.5 265V268M416.5 265V268M417.5 265V268M418.5 265V268M419.5 265V268M420.5 265V268M421.5 265V268M422.5 265V268M423.5 265V268M424.5 265V268M425.5 265V268M426.5 265V268M427.5 265V268M428.5 265V268M429.5 265V268M430.5 265V268M431.5 265V268M432.5 265V268M433.5 265V268M434.5 265V268M435.5 265V268M436.5 265V268M437.5 265V268M438.5 265V268M439.5 265V268M440.5 265V268M441.5 265V268M442.5 265V268M443.5 265V268M444.5 265V268M445.5 265V268M446.5 265V268M447.5 265V268M448.5 265V268M449.5 265V268M450.5 265V268M451.5 265V268M452.5 265V268M453.5 265V268M454.5 265V268M455.5 265V268M456.5 265V268M457.5 265V268M458.5 265V268M459.5 265V268M460.5 265V268M461.5 265V268M462.5 265V268M463.5 265V268M464.5 265V268M465.5 265V268M466.5 265V268M467.5 265V268M468.5 265V268M469.5 265V268M470.5 265V268M471.5 265V268" stroke="#00b0ee" fill="none"/>
<path d="M472.5 265V268M473.5 265V268M474.5 265V268M475.5 265V268M476.5 265V268M477.5 265V268M478.5 265V268M479.5 265V268M480.5 265V268M481.5 265V268M482.5 265V268M483.5 265V268" stroke="#00b0ee" fill="none"/>
<path d="M482.5 231V245M483.5 232V246M484.5 233V247M485.5 234V248M486.5 239V247M487.5 240V248M488.5 241V249M489.5 242V250M490.5 244V256M491.5 245V257M492.5 247V258M493.5 248V260M494.5 247V258M495.5 248V259M496.5 250V261M497.5 251V262" stroke="#00b0ee" fill="none"/>
<path d="M497 264h3v3h-3zM483 228h3v3h-3zM485 228h3v3h-3zM483 224h3v3h-3zM492 260h3v3h-3zM496 243h3v3h-3zM483 250h3v3h-3zM492 262h3v3h-3zM497 243h3v3h-3zM482 228h3v3h-3zM491 258h3v3h-3zM496 245h3v3h-3z" fill="#00b0ee"/>
<path d="M503.5 241V248M504.5 241V249M505.5 242V250M506.5 243V250M507.5 244V253M508.5 245V254M509.5 246V254M510.5 246V255M511.5 249V255M512.5 250V256M513.5 250V257M514.5 251V257M515.5 248V258M516.5 249V258M517.5 250V259M518.5 250V259M519.5 251V261M520.5 251V261M521.5 252V262M522.5 252V263M523.5 257V262M524.5 257V263M525.5 258V264M526.5 258V264" stroke="#00b0ee" fill="none"/>
<path d="M510 242h3v3h-3zM515 245h3v3h-3zM504 236h3v3h-3zM515 258h3v3h-3zM518 263h3v3h-3zM526 265h3v3h-3zM513 247h3v3h-3zM504 238h3v3h-3z" fill="#00b0ee"/>
<path d="M482 216h3v3h-3zM486 222h3v3h-3zM490 218h3v3h-3zM492 226h3v3h-3zM494 234h3v3h-3zM498 238h3v3h-3zM500 244h3v3h-3zM510 244h3v3h-3zM468 246h3v3h-3zM558 244h3v3h-3zM648 244h3v3h-3zM654 246h3v3h-3zM660 242h3v3h-3z" fill="#00b0ee"/>
<path d="M484.5 265V268M485.5 265V268M486.5 265V268M487.5 265V268M488.5 265V268M489.5 265V268M490.5 265V268M491.5 265V268M492.5 265V268M493.5 265V268M494.5 265V268M495.5 265V268M496.5 265V268M497.5 265V268M498.5 265V268M499.5 265V268M500.5 265V268M501.5 265V268M502.5 265V268M503.5 265V268M504.5 265V268M505.5 265V268M506.5 265V268M507.5 265V268M508.5 265V268M509.5 265V268M510.5 265V268M511.5 265V268M512.5 265V268M513.5 265V268M514.5 265V268M515.5 265V268M516.5 265V268M517.5 265V268M518.5 265V268M519.5 265V268M520.5 266V268M521.5 266V268M522.5 266V268M523.5 266V268M524.5 265V268M525.5 265V268M526.5 265V268" stroke="#00b0ee" fill="none"/>
<path d="M527.5 254V268M528.5 254V268M529.5 254V268M530.5 254V268M531.5 253V268M532.5 253V268M533.5 253V268M534.5 253V268M535.5 255V268M536.5 255V268M537.5 255V268M538.5 255V268M539.5 255V268M540.5 255V268M541.5 255V268M542.5 255V268M543.5 254V268M544.5 254V268M545.5 254V268M546.5 254V268M547.5 255V268M548.5 255V268M549.5 255V268M550.5 255V268M551.5 255V268M552.5 255V268M553.5 255V268M554.5 255V268M555.5 253V268M556.5 253V268M557.5 253V268M558.5 253V268M559.5 254V268M560.5 254V268M561.5 254V268M562.5 254V268M563.5 255V268M564.5 255V268M565.5 255V268M566.5 255V268M567.5 254V268M568.5 254V268M569.5 254V268M570.5 254V268M571.5 255V268M572.5 255V268M573.5 255V268M574.5 255V268M575.5 257V268M576.5 257V268M577.5 257V268M578.5 257V268M579.5 254V268M580.5 254V268M581.5 254V268M582.5 255V268M583.5 256V268M584.5 256V268M585.5 256V268M586.5 256V268M587.5 256V268M588.5 256V268M589.5 256V268M590.5 256V268M591.5 255V268M592.5 255V268M593.5 255V268M594.5 255V268M595.5 256V268M596.5 256V268M597.5 256V268M598.5 256V268M599.5 257V268M600.5 257V268M601.5 257V268M602.5 257V268M603.5 255V268M604.5 255V268M605.5 255V268M606.5 255V268M607.5 260V268M608.5 260V268M609.5 260V268M610.5 260V268M611.5 256V268M612.5 256V268M613.5 256V268M614.5 256V268M615.5 257V268M616.5 257V268M617.5 257V268M618.5 257V268M619.5 257V268M620.5 257V268M621.5 257V268M622.5 257V268M623.5 254V268M624.5 254V268M625.5 254V268M626.5 254V268M627.5 257V268M628.5 257V268M629.5 257V268M630.5 257V268M631.5 255V268M632.5 255V268M633.5 255V268M634.5 255V268M635.5 257V268M636.5 257V268M637.5 257V268M638.5 257V268M639.5 257V268M640.5 257V268M641.5 256V268M642.5 256V268M643.5 256V268M644.5 256V268M645.5 256V268M646.5 256V268M647.5 254V268M648.5 254V268M649.5 254V268M650.5 254V268M651.5 254V268M652.5 254V268M653.5 254V268M654.5 253V268M655.5 254V268M656.5 253V268M657.5 253V268M658.5 253V268M659.5 254V268M660.5 254V268M661.5 253V268M662.5 253V268M663.5 253V268M664.5 253V268M665.5 253V268M666.5 253V268M667.5 254V268M668.5 254V268M669.5 254V268" stroke="#00b0ee" fill="none"/>
<path d="M623 250h3v3h-3zM550 253h3v3h-3zM545 252h3v3h-3zM634 253h3v3h-3zM580 251h3v3h-3zM537 251h3v3h-3zM597 251h3v3h-3zM658 251h3v3h-3zM664 250h3v3h-3zM593 250h3v3h-3zM551 252h3v3h-3zM549 253h3v3h-3z" fill="#00b0ee"/>
<path d="M102.5 273V299M103.5 273V299M104.5 273V299M105.5 273V299M106.5 273V299M107.5 273V299M108.5 273V299M109.5 273V299M110.5 276V299M111.5 273V299M112.5 273V299M113.5 273V299M114.5 273V299M115.5 273V299M116.5 273V299M117.5 273V299M118.5 273V299M119.5 273V299M120.5 273V299M121.5 273V299M122.5 273V299M123.5 273V299M124.5 273V299M125.5 273V299M126.5 273V299M127.5 273V299M128.5 273V299M129.5 273V299M130.5 273V299M131.5 273V299M132.5 273V299M133.5 273V299M134.5 273V299M135.5 273V299M136.5 273V299M137.5 273V299M138.5 273V299M139.5 273V299M140.5 273V299M141.5 273V299M142.5 273V299M143.5 273V299M144.5 273V299M145.5 273V299M146.5 273V299M147.5 273V299M148.5 273V299M149.5 273V299M150.5 273V299M151.5 273V299M152.5 273V299M153.5 273V299M154.5 273V299M155.5 273V299M156.5 273V299M157.5 273V299M158.5 273V299M159.5 273V299M160.5 273V299M161.5 273V298M162.5 273V298M163.5 273V298M164.5 273V297M165.5 273V297M166.5 273V297M167.5 273V297M168.5 273V297M169.5 273V297M170.5 273V297M171.5 273V297M172.5 273V297M173.5 273V297M174.5 273V297M175.5 273V297M176.5 273V297M177.5 273V297M178.5 273V297M179.5 273V297M180.5 273V297M181.5 273V297M182.5 273V297M183.5 273V297M184.5 273V297M185.5 273V297M186.5 278V297M187.5 273V297M188.5 273V297M189.5 273V297M190.5 273V297M191.5 273V297M192.5 273V297M193.5 273V297M194.5 273V297M195.5 273V297M196.5 273V297M197.5 273V297M198.5 277V297M199.5 273V297M200.5 273V297M201.5 273V297M202.5 273V297M203.5 273V297M204.5 273V297M205.5 273V297M206.5 273V297M207.5 273V297M208.5 273V297M209.5 273V297M210.5 273V297M211.5 273V297M212.5 273V297M213.5 273V297M214.5 273V297M215.5 273V297M216.5 273V297M217.5 273V297M218.5 273V297M219.5 273V297M220.5 273V297M221.5 277V297M222.5 273V297M223.5 273V297M224.5 273V297M225.5 273V297M226.5 273V297M227.5 273V297M228.5 273V297M229.5 273V297M230.5 273V297M231.5 273V297M232.5 273V297M233.5 273V297M234.5 273V297M235.5 278V297M236.5 273V297M237.5 273V297M238.5 273V297M239.5 273V297M240.5 273V297M241.5 273V297M242.5 273V297M243.5 273V297M244.5 273V297M245.5 273V297M246.5 273V297M247.5 273V297M248.5 273V297M249.5 273V297M250.5 273V297M251.5 273V297M252.5 273V297M253.5 273V297M254.5 273V297M255.5 273V297M256.5 273V297M257.5 273V297M258.5 275V297M259.5 273V297M260.5 273V297M261.5 273V297M262.5 273V297M263.5 273V297M264.5 273V297M265.5 273V297M266.5 273V297M267.5 273V297M268.5 273V297M269.5 273V297M270.5 273V297M271.5 273V297M272.5 273V297M273.5 273V297M274.5 273V297M275.5 273V297M276.5 273V297M277.5 273V297M278.5 273V297M279.5 273V297M280.5 273V297M281.5 273V297M282.5 273V297M283.5 273V297" stroke="#0000ff" fill="none"/>
<path d="M102.5 299V308M103.5 299V308M104.5 299V308M105.5 285V309M106.5 299V300M107.5 299V306M108.5 298V308M109.5 298V298M110.5 298V308M111.5 299V307M112.5 292V307M113.5 299V301M114.5 298V309M115.5 298V309M116.5 298V309M117.5 299V307M118.5 295V307M119.5 299V307M120.5 298V302M121.5 298V308M122.5 298V302M123.5 299V307M124.5 299V303M125.5 299V307M126.5 299V308M127.5 299V308M128.5 299V302M129.5 300V308M130.5 300V308M131.5 300V308M132.5 291V307M133.5 298V307M134.5 298V307M135.5 299V308M136.5 299V308M137.5 299V308M138.5 298V309M139.5 298V309M140.5 298V309M141.5 299V308M142.5 299V308M157.5 293V297M160.5 290V304M161.5 286V309M162.5 299V309M163.5 298V309M164.5 285V309M165.5 298V309M166.5 292V305M167.5 298V302M168.5 297V309M169.5 297V309M170.5 297V309M171.5 297V298M172.5 297V307M173.5 297V307M174.5 281V308M175.5 297V308M176.5 283V308M177.5 282V308M178.5 296V298M179.5 282V308M180.5 296V309M181.5 296V309M182.5 296V309M183.5 297V309M184.5 286V299M185.5 292V297M186.5 298V305M187.5 298V308M188.5 298V308M189.5 296V308M190.5 296V304M191.5 296V304M192.5 297V298M193.5 297V309M194.5 297V304M195.5 297V299M196.5 297V300M197.5 297V309M198.5 297V308M199.5 297V308M200.5 293V308M201.5 297V309M202.5 297V303M203.5 297V309M204.5 296V308M205.5 287V308M206.5 296V308M207.5 298V308M208.5 298V308M209.5 298V305M210.5 298V309M211.5 298V309M212.5 298V302M213.5 296V300M214.5 285V308M215.5 296V308M216.5 296V310M217.5 296V304M218.5 292V310M219.5 297V308M221.5 297V308M222.5 297V309M223.5 297V309M224.5 297V309M225.5 285V307M226.5 296V302M227.5 296V307M228.5 297V308M229.5 297V308M230.5 297V308M231.5 285V308M232.5 282V308M233.5 297V301M234.5 283V308M235.5 298V308M236.5 298V301M237.5 297V305M238.5 297V310M239.5 297V310M240.5 297V308M241.5 297V308M242.5 297V308M243.5 298V309M244.5 298V303M245.5 298V309M246.5 297V308M247.5 297V308M248.5 297V308M249.5 297V310M250.5 297V310M251.5 297V305M252.5 297V304M253.5 289V311M254.5 297V311M255.5 298V308M256.5 298V303M257.5 298V308M258.5 297V307M259.5 297V297M260.5 297V307M261.5 296V308M262.5 296V308M263.5 296V308M264.5 298V309M265.5 298V309M266.5 298V309M267.5 298V308M268.5 287V308M269.5 298V308M270.5 299V307M271.5 299V307M273.5 298V303M274.5 298V307M275.5 298V301M276.5 297V309M277.5 297V305M278.5 297V309M279.5 297V308M280.5 297V308M281.5 297V308M282.5 291V310M283.5 298V301" stroke="#ff0000" fill="none"/>
<path d="M177.5 277V290M178.5 278V290M179.5 279V290M180.5 282V290M181.5 283V290M182.5 283V290M183.5 283V290M184.5 282V290M185.5 281V290M186.5 277V290M187.5 276V290" stroke="#0000ff" fill="none"/>
<path d="M177 273h4v8h-4z M181 273h3v12h-3z M184 273h4v6h-4z M186 273h2v10h-2z M110 273h2v4h-2z M117 273h1v5h-1z M126 273h2v3h-2z" fill="#fff"/>
<path d="M143.5 297V301M144.5 297V307M145.5 297V297M146.5 297V299M147.5 297V298M148.5 297V308M149.5 297V308M150.5 297V303M151.5 297V302M152.5 297V308M153.5 297V300M154.5 297V298M155.5 297V300M156.5 297V309M157.5 297V298M158.5 297V299M159.5 297V302M160.5 297V302" stroke="#ff0000" fill="none"/>
<path d="M284.5 273V326" stroke="#0000ff" fill="none"/>
<path d="M285.5 322V326M286.5 322V326M287.5 322V326M288.5 323V326M289.5 323V326M290.5 323V326M291.5 323V326M292.5 323V326M293.5 323V326M294.5 323V326M295.5 323V326M296.5 323V326M297.5 323V326M298.5 323V326M299.5 323V326M300.5 323V326M301.5 323V326M302.5 323V326M303.5 323V326M304.5 323V326M305.5 323V326M306.5 322V326M307.5 322V326M308.5 322V326M309.5 323V326M310.5 323V326M311.5 323V326M312.5 322V326M313.5 322V326M314.5 322V326M315.5 323V326M316.5 323V326M317.5 323V326M318.5 323V326M319.5 323V326M320.5 323V326M321.5 322V326M322.5 322V326M323.5 322V326M324.5 323V326M325.5 323V326M326.5 323V326" stroke="#ff0000" fill="none"/>
<path d="M327.5 307V326M328.5 307V326M329.5 307V326M330.5 310V326M331.5 310V326M332.5 310V326M333.5 310V326M334.5 307V326M335.5 310V326M336.5 311V326M337.5 311V326M338.5 311V326M339.5 311V326M340.5 311V326M341.5 311V326M342.5 310V326M343.5 303V326M344.5 310V326M345.5 311V326M346.5 311V326M347.5 311V326M348.5 313V326M349.5 313V326M350.5 313V326M351.5 314V326M352.5 314V326M353.5 314V326M354.5 311V326M355.5 311V326M356.5 311V326" stroke="#0000ff" fill="none"/>
<path d="M327.5 322V326M328.5 322V326M329.5 322V326M330.5 323V326M331.5 323V326M332.5 323V326M333.5 321V326M334.5 321V326M335.5 321V326M336.5 322V326M337.5 322V326M338.5 322V326M339.5 322V326M340.5 322V326M341.5 322V326M342.5 322V326M343.5 322V326M344.5 322V326M345.5 322V326M346.5 322V326M347.5 322V326M348.5 322V326M349.5 322V326M350.5 322V326M351.5 322V326M352.5 322V326M353.5 322V326M354.5 322V326M355.5 322V326M356.5 322V326" stroke="#ff0000" fill="none"/>
<path d="M327.5 304V310M328.5 304V310M329.5 305V310M330.5 307V312M331.5 308V312M332.5 308V312M333.5 309V312" stroke="#ff0000" fill="none"/>
<path d="M357.5 311V325M358.5 308V325M359.5 305V324M360.5 300V323M361.5 297V323M362.5 293V322M363.5 295V321M364.5 292V321M365.5 288V320M366.5 279V320M367.5 275V319M368.5 273V318M369.5 274V317M370.5 274V316M371.5 274V315M372.5 273V313M373.5 273V312M374.5 273V310M375.5 273V309M376.5 273V308M377.5 273V306M378.5 275V305M379.5 275V304M380.5 275V303M381.5 273V303M382.5 273V303M383.5 273V303M384.5 273V303M385.5 273V303M386.5 273V303M387.5 273V303M388.5 273V303M389.5 273V303M390.5 276V303M391.5 276V303M392.5 276V303M393.5 273V303M394.5 273V303M395.5 273V303M396.5 274V303M397.5 274V303M398.5 274V303M399.5 273V303M400.5 273V303M401.5 274V303M402.5 276V303M403.5 273V303M404.5 273V303" stroke="#0000ff" fill="none"/>
<path d="M357.5 324V326M358.5 320V326M359.5 323V326M360.5 319V323M361.5 319V323M362.5 319V323M363.5 319V326M364.5 319V326M365.5 318V325M366.5 319V324M367.5 319V324M368.5 318V324M369.5 316V323M370.5 314V322M371.5 310V321M372.5 305V319M373.5 311V318M374.5 310V317M375.5 309V317M376.5 308V316M377.5 302V315M378.5 304V314M379.5 303V313M380.5 302V313M381.5 303V313M382.5 303V313M383.5 303V313M384.5 303V312M385.5 303V312M386.5 303V312M387.5 289V312M388.5 304V312M389.5 304V312M390.5 305V314M391.5 297V314M392.5 305V314M393.5 303V313M394.5 303V313M395.5 303V313M396.5 302V313M397.5 302V313M398.5 302V313M399.5 297V313M400.5 304V313M401.5 304V313M402.5 304V314M403.5 304V314M404.5 304V314" stroke="#ff0000" fill="none"/>
<path d="M405.5 280V304M406.5 274V304M407.5 275V304M408.5 279V304M409.5 280V304M410.5 282V304M411.5 282V304M412.5 283V304M413.5 284V304M414.5 282V304M415.5 282V304M416.5 282V304M417.5 286V304M418.5 286V304M419.5 286V304M420.5 284V304M421.5 284V304M422.5 284V304M423.5 284V304M424.5 284V304M425.5 284V304M426.5 286V304M427.5 286V304M428.5 286V304M429.5 289V304M430.5 289V304M431.5 289V304M432.5 283V304M433.5 288V304M434.5 289V304M435.5 284V304M436.5 281V304M437.5 281V304M438.5 282V304M439.5 282V304M440.5 282V304M441.5 280V304M442.5 280V304M443.5 280V304M444.5 282V304M445.5 282V304M446.5 282V304M447.5 283V304M448.5 283V304M449.5 283V304M450.5 281V304M451.5 281V304M452.5 281V304M453.5 280V304M454.5 284V304M455.5 280V304M456.5 277V304M457.5 282V304M458.5 282V304M459.5 280V304M460.5 280V304M461.5 279V304M462.5 280V304M463.5 280V304M464.5 280V304M465.5 279V304M466.5 291V304M467.5 279V304M468.5 280V304M469.5 280V304M470.5 291V304M471.5 278V304" stroke="#0000ff" fill="none"/>
<path d="M405.5 304V308M406.5 286V308M407.5 304V308M408.5 304V308M409.5 304V308M410.5 304V308M411.5 303V308M412.5 303V308M413.5 303V308M414.5 303V306M415.5 303V307M416.5 303V307M417.5 303V308M418.5 303V308M419.5 303V308M420.5 303V309M421.5 303V309M422.5 303V309M423.5 304V308M424.5 304V308M425.5 304V308M426.5 304V307M427.5 304V307M428.5 304V307M429.5 303V309M430.5 303V309M431.5 303V309M432.5 303V309M433.5 303V309M434.5 303V309M435.5 304V306M436.5 304V306M437.5 304V306M438.5 284V308M439.5 303V308M440.5 303V308M441.5 304V308M442.5 304V308M443.5 304V308M444.5 303V309M445.5 303V309M446.5 303V309M447.5 304V306M448.5 304V306M449.5 304V306M450.5 303V308M451.5 303V308M452.5 303V308M453.5 305V307M454.5 305V307M455.5 305V307M456.5 303V308M457.5 303V308M458.5 303V308M459.5 303V305M460.5 303V305M461.5 303V305M462.5 304V306M463.5 304V308M464.5 304V308M465.5 303V310M466.5 303V307M467.5 303V310M468.5 303V308M469.5 297V308M470.5 303V308M471.5 304V308" stroke="#ff0000" fill="none"/>
<path d="M472.5 273V326" stroke="#0000ff" fill="none"/>
<path d="M473.5 323V326M474.5 323V326M475.5 323V326M476.5 323V326M477.5 323V326M478.5 323V326M479.5 323V326M480.5 323V326M481.5 323V326M482.5 322V326M483.5 322V326M484.5 322V326" stroke="#ff0000" fill="none"/>
<path d="M485.5 316V325M486.5 315V325M487.5 314V324M488.5 314V324M489.5 313V323M490.5 312V323M491.5 309V322M492.5 308V322M493.5 307V321M494.5 300V321M495.5 309V320M496.5 308V320M497.5 309V319M498.5 308V318M499.5 308V318M500.5 305V317M501.5 304V317M502.5 303V316M503.5 305V316M504.5 304V315M505.5 304V315M506.5 302V314M507.5 302V313M508.5 301V312M509.5 297V312M510.5 297V311M511.5 296V310M512.5 297V309M513.5 293V308M514.5 295V308M515.5 295V307M516.5 287V306M517.5 293V305M518.5 294V304M519.5 293V304M520.5 292V302M521.5 288V302M522.5 286V300M523.5 284V300M524.5 273V298M525.5 277V298M526.5 277V296M527.5 281V297M528.5 280V299M529.5 280V301" stroke="#0000ff" fill="none"/>
<path d="M485.5 324V326M486.5 323V326M487.5 323V326M488.5 325V326M489.5 325V326M490.5 320V325M491.5 322V326M492.5 322V326M493.5 321V325M494.5 319V325M495.5 319V325M496.5 318V325M497.5 318V325M498.5 318V325M499.5 317V324M500.5 317V324M501.5 309V324M502.5 316V324M503.5 316V322M504.5 316V322M505.5 315V322M506.5 313V323M507.5 307V322M508.5 312V322M509.5 303V320M510.5 313V320M511.5 301V319M512.5 309V320M513.5 308V320M514.5 307V319M515.5 306V319M516.5 301V318M517.5 305V318M518.5 304V318M519.5 303V318M520.5 302V318M521.5 301V318M522.5 300V317M523.5 299V317M524.5 300V316M525.5 299V316M526.5 298V316M527.5 296V316M528.5 298V316M529.5 300V315" stroke="#ff0000" fill="none"/>
<path d="M530.5 283V303M531.5 283V303M532.5 283V303M533.5 282V303M534.5 282V303M535.5 282V303M536.5 282V303M537.5 282V303M538.5 282V303M539.5 277V303M540.5 277V303M541.5 277V303M542.5 277V303M543.5 277V303M544.5 277V303M545.5 277V303M546.5 277V303M547.5 277V303M548.5 275V303M549.5 275V303M550.5 275V303M551.5 278V303M552.5 278V303M553.5 278V303M554.5 281V303M555.5 281V303M556.5 281V303M557.5 279V303M558.5 279V303M559.5 279V303M560.5 278V303M561.5 278V303M562.5 278V303M563.5 275V303M564.5 275V303M565.5 287V303M566.5 284V303M567.5 284V303M568.5 284V303M569.5 273V303M570.5 275V303M571.5 275V303M572.5 282V303M573.5 282V303M574.5 282V303M575.5 277V303M576.5 277V303M577.5 277V303M578.5 279V303M579.5 279V303M580.5 279V303M581.5 273V303M582.5 279V303M583.5 279V303M584.5 277V303M585.5 277V303M586.5 277V303M587.5 277V303M588.5 277V303M589.5 277V303M590.5 275V303M591.5 275V303M592.5 275V303M593.5 276V303M594.5 276V303M595.5 276V303M596.5 279V303M597.5 279V303M598.5 273V303M599.5 279V303M600.5 279V303M601.5 279V303M602.5 281V303M603.5 281V303M604.5 281V303M605.5 282V303M606.5 282V303M607.5 282V303M608.5 273V303M609.5 274V303M610.5 274V303M611.5 278V303M612.5 278V303M613.5 278V303M614.5 279V303M615.5 279V303M616.5 279V303M617.5 284V303M618.5 284V303M619.5 284V303M620.5 278V303M621.5 278V303M622.5 278V303M623.5 280V303M624.5 280V303M625.5 280V303M626.5 281V303M627.5 281V303M628.5 273V303M629.5 279V303M630.5 279V303M631.5 279V303M632.5 277V303M633.5 277V303M634.5 277V303M635.5 279V303M636.5 279V303M637.5 279V303M638.5 280V303M639.5 280V303M640.5 280V303M641.5 279V303M642.5 279V303M643.5 279V303M644.5 276V303M645.5 276V303M646.5 276V303M647.5 282V303M648.5 282V303M649.5 282V303M650.5 278V303M651.5 278V303M652.5 278V303M653.5 281V303M654.5 281V303M655.5 281V303M656.5 278V303M657.5 278V303M658.5 278V303M659.5 285V303M660.5 285V303M661.5 285V303M662.5 280V303M663.5 280V303M664.5 280V303M665.5 277V303M666.5 277V303M667.5 277V303M668.5 280V303M669.5 280V303" stroke="#0000ff" fill="none"/>
<path d="M530.5 303V315M531.5 303V315M532.5 303V315M533.5 301V315M534.5 301V315M535.5 301V315M536.5 304V314M537.5 304V314M538.5 304V311M539.5 303V314M540.5 303V314M541.5 297V314M542.5 303V314M543.5 303V314M544.5 303V314M545.5 303V316M546.5 303V316M547.5 303V316M548.5 302V316M549.5 302V316M550.5 302V316M551.5 302V313M552.5 302V313M553.5 302V313M554.5 303V315M555.5 303V315M556.5 303V310M557.5 303V316M558.5 303V316M559.5 303V316M560.5 303V315M561.5 303V315M562.5 303V315M563.5 302V314M564.5 302V314M565.5 302V308M566.5 302V315M567.5 302V315M568.5 302V315M569.5 303V310M570.5 303V316M571.5 303V309M572.5 301V314M573.5 301V314M574.5 301V314M575.5 304V307M576.5 304V314M577.5 304V314M578.5 302V316M579.5 302V316M580.5 283V316M581.5 303V310M582.5 303V315M583.5 303V315M584.5 304V313M585.5 304V313M586.5 304V313M587.5 303V314M588.5 303V314M589.5 303V307M590.5 302V314M591.5 302V314M592.5 302V314M593.5 303V316M594.5 303V316M595.5 303V316M596.5 302V316M597.5 290V316M598.5 302V311M599.5 303V315M600.5 303V315M601.5 303V315M602.5 303V316M603.5 303V316M604.5 303V316M605.5 303V315M606.5 303V315M607.5 303V315M608.5 303V315M609.5 298V315M610.5 303V312M611.5 303V317M612.5 303V317M613.5 303V313M614.5 303V314M615.5 288V314M616.5 293V314M617.5 302V314M618.5 302V314M619.5 302V314M620.5 303V317M621.5 303V317M622.5 303V317M623.5 285V316M624.5 286V316M625.5 301V316M626.5 302V317M627.5 302V317M628.5 302V317M629.5 303V314M630.5 303V314M631.5 283V314M632.5 302V307M633.5 302V313M634.5 302V313M635.5 302V317M636.5 302V317M637.5 302V317M638.5 302V309M639.5 302V315M640.5 302V315M641.5 303V314M642.5 303V314M643.5 303V314M644.5 303V314M645.5 303V311M646.5 303V314M647.5 302V313M648.5 302V317M649.5 302V317M650.5 292V316M651.5 302V316M652.5 302V316M653.5 302V312M654.5 302V312M655.5 302V312M656.5 304V315M657.5 304V315M658.5 304V315M659.5 302V317M660.5 302V317M661.5 302V317M662.5 303V316M663.5 303V316M664.5 303V316M665.5 283V315M666.5 301V315M667.5 301V315M668.5 302V314M669.5 302V314" stroke="#ff0000" fill="none"/>
<path d="M559 277h2v40h-2z M600 285h6v7h-6z M601 279h4v6h-4z" fill="#fff"/>
<path d="M102.5 366V373M103.5 366V373M104.5 366V373M105.5 366V373M106.5 365V374M107.5 365V374M108.5 365V374M109.5 365V374M110.5 367V374M111.5 367V374M112.5 367V374M113.5 367V374M114.5 368V375M115.5 368V375M116.5 368V375M117.5 368V375M118.5 367V375M119.5 367V375M120.5 367V375M121.5 367V375M122.5 367V374M123.5 367V374M124.5 367V374M125.5 367V374M126.5 368V374M127.5 368V374M128.5 368V374M129.5 368V374M130.5 368V373M131.5 368V373M132.5 368V373M133.5 368V373M134.5 367V373M135.5 367V373M136.5 367V373M137.5 367V373M138.5 367V372M139.5 367V372M140.5 367V372M141.5 367V372M142.5 366V374M143.5 366V374M144.5 366V374M145.5 366V374M146.5 368V374M147.5 368V374M148.5 368V374M149.5 368V374M150.5 365V373M151.5 365V373M152.5 365V373M153.5 365V373M154.5 366V373M155.5 366V373M156.5 366V373M157.5 366V373M158.5 366V374M159.5 366V374M160.5 366V374M161.5 366V374M162.5 365V374M163.5 365V374M164.5 365V374M165.5 365V374M166.5 367V373M167.5 367V373M168.5 367V373M169.5 367V373M170.5 368V373M171.5 368V373M172.5 368V373M173.5 368V373M174.5 366V373M175.5 366V373M176.5 366V373M177.5 366V373M178.5 366V373M179.5 366V373M180.5 366V373M181.5 366V373M182.5 367V373M183.5 367V373M184.5 367V373M185.5 367V373M186.5 367V373M187.5 367V373M188.5 367V373M189.5 367V373M190.5 367V373M191.5 367V373M192.5 367V373M193.5 367V373M194.5 367V373M195.5 367V373M196.5 367V373M197.5 367V373M198.5 365V374M199.5 365V374M200.5 365V374M201.5 365V374M202.5 367V372M203.5 367V372M204.5 367V372M205.5 367V372M206.5 367V374M207.5 367V374M208.5 367V374M209.5 367V374M210.5 367V373M211.5 367V373M212.5 367V373M213.5 367V373M214.5 368V373M215.5 368V373M216.5 367V373M217.5 367V373M218.5 367V371M219.5 367V371M220.5 367V371M221.5 367V371M222.5 365V371M223.5 365V371M224.5 365V371M225.5 365V371M226.5 365V373M227.5 365V373M228.5 365V373M229.5 365V373M230.5 365V372M231.5 365V372M232.5 365V372M233.5 365V372M234.5 366V373M235.5 366V373M236.5 366V373M237.5 366V373M238.5 365V373M239.5 365V373M240.5 365V373M241.5 365V373M242.5 367V373M243.5 367V373M244.5 367V373M245.5 367V373M246.5 366V374M247.5 366V374M248.5 366V374M249.5 366V374M250.5 366V373M251.5 366V373M252.5 366V373M253.5 366V373M254.5 366V370M255.5 366V370M256.5 366V370M257.5 366V370M258.5 366V371M259.5 366V371M260.5 366V371M261.5 366V371M262.5 365V373M263.5 365V373M264.5 365V373M265.5 365V373M266.5 368V374M267.5 368V374M268.5 368V374M269.5 368V374M270.5 367V373M271.5 367V372M272.5 367V372M273.5 367V372M274.5 367V372M275.5 367V372M276.5 367V372M277.5 367V372M278.5 365V371M279.5 365V371M280.5 365V371M281.5 365V371M282.5 364V373M283.5 364V373" stroke="#ff1493" fill="none"/>
<path d="M194 364h3v3h-3zM168 364h3v3h-3zM135 372h3v3h-3zM212 365h3v3h-3zM200 363h3v3h-3zM212 365h3v3h-3zM141 373h3v3h-3zM111 364h3v3h-3zM221 371h3v3h-3zM107 362h3v3h-3z" fill="#ff1493"/>
<path d="M284.5 373V379M285.5 373V379M286.5 373V379M287.5 373V379M288.5 374V378M289.5 374V378M290.5 374V378M291.5 374V378M292.5 374V378M293.5 374V378M294.5 374V378M295.5 374V378M296.5 372V378M297.5 372V378M298.5 372V378M299.5 372V378M300.5 373V377M301.5 373V377M302.5 373V377M303.5 373V377M304.5 374V378M305.5 374V378M306.5 374V378M307.5 374V378M308.5 373V378M309.5 373V378M310.5 373V378M311.5 373V378M312.5 374V378M313.5 374V378M314.5 374V378M315.5 374V378M316.5 372V376M317.5 372V376M318.5 372V376M319.5 372V376M320.5 374V378M321.5 374V378M322.5 374V378M323.5 374V378M324.5 374V378M325.5 374V378M326.5 374V378M327.5 374V378M328.5 372V377M329.5 372V377M330.5 372V377M331.5 372V377M332.5 373V378M333.5 373V378M334.5 373V378M335.5 373V378M336.5 373V378M337.5 373V378M338.5 373V378M339.5 373V378M340.5 373V376M341.5 373V376M342.5 373V376M343.5 373V376M344.5 374V378M345.5 374V378M346.5 374V378M347.5 374V378M348.5 373V377M349.5 373V377M350.5 373V377M351.5 373V377M352.5 372V377M353.5 372V377M354.5 372V377M355.5 372V377M356.5 373V378M357.5 373V378M358.5 373V378M359.5 373V378M360.5 374V377M361.5 374V377M362.5 373V377M363.5 373V377M364.5 372V377M365.5 372V377M366.5 372V377M367.5 372V377M368.5 372V376M369.5 372V376M370.5 372V376M371.5 371V376M372.5 370V376M373.5 370V376M374.5 370V376M375.5 370V376M376.5 371V375M377.5 371V375M378.5 371V375M379.5 371V375M380.5 371V376M381.5 371V375M382.5 371V375M383.5 371V375M384.5 370V375M385.5 369V374M386.5 369V374M387.5 369V374M388.5 368V374M389.5 368V374M390.5 368V374M391.5 368V373M392.5 366V375M393.5 366V375M394.5 366V374M395.5 366V374M396.5 367V374M397.5 366V373M398.5 366V373M399.5 366V373" stroke="#ff1493" fill="none"/>
<path d="M400.5 367V372M401.5 367V372M402.5 367V372M403.5 367V372M404.5 365V373M405.5 365V373M406.5 365V373M407.5 365V373M408.5 366V373M409.5 366V373M410.5 366V373M411.5 366V373M412.5 365V374M413.5 365V374M414.5 365V374M415.5 365V374M416.5 367V373M417.5 367V373M418.5 367V373M419.5 367V373M420.5 365V373M421.5 365V373M422.5 365V373M423.5 365V373M424.5 365V371M425.5 365V371M426.5 365V371M427.5 365V371M428.5 365V373M429.5 365V373M430.5 365V373M431.5 365V373M432.5 364V373M433.5 364V373M434.5 364V373M435.5 364V373M436.5 366V374M437.5 366V374M438.5 366V374M439.5 366V374M440.5 364V374M441.5 364V374M442.5 364V374M443.5 364V374M444.5 365V373M445.5 365V373M446.5 365V373M447.5 365V373M448.5 365V373M449.5 365V373M450.5 365V373M451.5 365V373M452.5 366V373M453.5 366V373M454.5 366V373M455.5 366V373M456.5 365V372M457.5 365V372M458.5 365V372M459.5 365V372M460.5 367V373M461.5 367V373M462.5 367V373M463.5 367V373M464.5 366V372M465.5 366V372M466.5 366V372M467.5 366V372M468.5 365V373M469.5 365V373M470.5 365V373M471.5 365V373" stroke="#ff1493" fill="none"/>
<path d="M467 363h3v3h-3zM470 361h3v3h-3zM412 375h3v3h-3zM449 363h3v3h-3zM463 364h3v3h-3zM457 362h3v3h-3zM418 372h3v3h-3zM411 363h3v3h-3z" fill="#ff1493"/>
<path d="M472.5 373V379M473.5 373V379M474.5 373V379M475.5 373V379M476.5 373V378M477.5 373V378M478.5 373V378M479.5 373V378M480.5 373V376M481.5 373V376M482.5 373V376M483.5 373V376M484.5 373V377M485.5 373V377M486.5 373V377M487.5 372V377M488.5 372V378M489.5 372V377M490.5 372V377M491.5 372V377M492.5 372V376M493.5 371V376M494.5 371V376M495.5 371V376M496.5 372V376M497.5 372V375M498.5 372V375M499.5 372V375M500.5 370V376M501.5 369V376M502.5 369V376M503.5 369V375M504.5 369V377M505.5 369V377M506.5 368V376M507.5 368V376M508.5 368V375M509.5 368V374M510.5 367V374M511.5 367V374M512.5 368V374M513.5 368V373M514.5 367V373M515.5 367V373M516.5 366V372M517.5 366V372M518.5 365V372M519.5 365V372M520.5 365V373M521.5 365V373M522.5 365V373M523.5 364V373M524.5 365V371M525.5 365V371M526.5 365V371M527.5 365V371M528.5 365V371M529.5 365V371M530.5 365V371M531.5 365V371M532.5 363V371M533.5 363V371M534.5 363V371M535.5 363V371M536.5 365V371M537.5 365V371M538.5 365V371M539.5 365V371M540.5 364V371M541.5 364V371M542.5 364V371M543.5 364V371M544.5 365V373M545.5 365V373M546.5 365V373M547.5 365V373M548.5 364V371M549.5 364V371M550.5 364V371M551.5 364V371M552.5 365V372M553.5 365V372M554.5 365V372M555.5 365V372M556.5 364V371M557.5 364V371M558.5 363V371M559.5 363V371M560.5 363V371M561.5 363V371M562.5 363V371M563.5 363V371M564.5 364V370M565.5 364V370M566.5 364V370M567.5 364V370M568.5 365V372M569.5 365V372M570.5 365V372M571.5 365V372M572.5 364V371M573.5 364V371M574.5 364V371M575.5 364V371M576.5 364V372M577.5 364V372M578.5 364V372M579.5 364V372M580.5 365V371M581.5 365V371M582.5 365V371M583.5 365V371M584.5 362V372M585.5 362V372M586.5 362V372M587.5 362V372M588.5 365V372M589.5 365V372M590.5 365V372M591.5 365V372M592.5 364V372M593.5 364V372M594.5 364V372M595.5 364V372M596.5 363V370M597.5 363V370M598.5 363V370M599.5 363V370M600.5 363V370M601.5 363V370M602.5 363V370M603.5 363V370M604.5 363V370M605.5 363V370M606.5 363V370M607.5 363V370M608.5 364V370M609.5 364V370M610.5 364V370M611.5 364V370M612.5 363V370M613.5 363V370M614.5 363V370M615.5 363V370M616.5 364V372M617.5 364V372M618.5 364V372M619.5 364V372M620.5 364V371M621.5 364V371M622.5 364V371M623.5 364V371M624.5 362V371M625.5 362V371M626.5 362V371M627.5 362V371M628.5 364V370M629.5 364V370M630.5 364V370M631.5 364V370M632.5 363V370M633.5 363V370M634.5 363V370M635.5 363V370M636.5 363V370M637.5 363V370M638.5 363V370M639.5 363V370M640.5 364V372M641.5 364V372M642.5 364V372M643.5 364V372M644.5 363V371M645.5 363V371M646.5 363V371M647.5 363V371M648.5 362V371M649.5 362V371M650.5 362V371M651.5 362V371M652.5 363V371M653.5 363V371M654.5 363V371M655.5 363V371M656.5 363V370M657.5 363V370M658.5 363V370M659.5 363V370M660.5 362V371M661.5 362V371M662.5 362V371M663.5 362V371M664.5 362V369M665.5 362V369M666.5 362V369M667.5 362V369M668.5 365V371M669.5 365V371" stroke="#ff1493" fill="none"/>
<path d="M569 363h3v3h-3zM541 371h3v3h-3zM566 362h3v3h-3zM620 362h3v3h-3zM514 374h3v3h-3zM487 377h3v3h-3zM569 362h3v3h-3zM633 370h3v3h-3zM629 361h3v3h-3zM609 361h3v3h-3zM596 361h3v3h-3zM560 371h3v3h-3z" fill="#ff1493"/>
<path d="M102.5 392V399M103.5 392V399M104.5 392V399M105.5 392V399M106.5 391V403M107.5 391V403M108.5 391V403M109.5 391V403M110.5 393V401M111.5 393V401M112.5 393V401M113.5 393V401M114.5 392V400M115.5 392V400M116.5 392V400M117.5 392V400M118.5 393V401M119.5 393V401M120.5 393V401M121.5 393V401M122.5 396V400M123.5 396V400M124.5 396V400M125.5 396V400M126.5 393V402M127.5 393V402M128.5 393V402M129.5 393V402M130.5 394V400M131.5 394V400M132.5 394V400M133.5 394V400M134.5 391V404M135.5 391V404M136.5 391V404M137.5 391V404M138.5 391V402M139.5 391V402M140.5 391V402M141.5 391V402M142.5 394V401M143.5 394V401M144.5 394V401M145.5 394V401M146.5 391V401M147.5 391V401M148.5 391V401M149.5 391V401M150.5 391V400M151.5 391V400M152.5 391V400M153.5 391V400M154.5 393V402M155.5 393V402M156.5 393V402M157.5 393V402M158.5 392V403M159.5 392V403M160.5 392V403M161.5 392V403M162.5 394V399M163.5 394V399M164.5 394V399M165.5 394V399M166.5 391V402M167.5 391V402M168.5 391V402M169.5 391V402M170.5 394V403M171.5 394V403M172.5 394V403M173.5 394V403M174.5 389V403M175.5 389V403M176.5 389V403M177.5 390V403M178.5 392V401M179.5 392V401M180.5 392V401M181.5 392V401M182.5 391V401M183.5 391V401M184.5 391V401M185.5 391V401M186.5 393V402M187.5 393V402M188.5 393V402M189.5 393V402M190.5 391V403M191.5 391V403M192.5 391V403M193.5 391V403M194.5 394V403M195.5 394V403M196.5 394V403M197.5 394V403M198.5 392V402M199.5 392V402M200.5 392V402M201.5 392V402M202.5 394V402M203.5 394V402M204.5 394V402M205.5 395V402M206.5 393V401M207.5 393V401M208.5 393V401M209.5 393V401M210.5 395V400M211.5 395V400M212.5 395V400M213.5 395V400M214.5 395V403M215.5 395V403M216.5 395V403M217.5 395V403M218.5 392V401M219.5 392V401M220.5 392V401M221.5 392V401M222.5 393V402M223.5 393V402M224.5 394V402M225.5 394V402M226.5 394V406M227.5 394V406M228.5 394V406M229.5 394V406M230.5 394V400M231.5 394V400M232.5 394V400M233.5 394V400M234.5 395V404M235.5 395V404M236.5 395V404M237.5 395V404M238.5 395V401M239.5 395V401M240.5 395V401M241.5 395V401M242.5 393V402M243.5 393V402M244.5 393V402M245.5 393V402M246.5 391V401M247.5 391V401M248.5 391V401M249.5 391V401M250.5 394V402M251.5 394V402M252.5 394V402M253.5 394V402M254.5 396V403M255.5 396V403M256.5 396V403M257.5 396V403M258.5 393V403M259.5 393V403M260.5 393V403M261.5 393V403M262.5 393V405M263.5 393V405M264.5 393V405M265.5 393V405M266.5 393V401M267.5 393V401M268.5 393V401M269.5 393V401M270.5 395V404M271.5 395V404M272.5 395V404M273.5 395V404M274.5 396V402M275.5 396V402M276.5 396V402M277.5 396V402M278.5 391V401M279.5 391V401M280.5 391V401M281.5 391V401M282.5 395V402M283.5 395V402" stroke="#ff0000" fill="none"/>
<path d="M195 402h3v3h-3zM112 401h3v3h-3zM190 403h3v3h-3zM244 402h3v3h-3zM182 402h3v3h-3zM213 399h3v3h-3zM125 401h3v3h-3zM235 403h3v3h-3zM154 388h3v3h-3zM232 401h3v3h-3zM195 392h3v3h-3zM231 400h3v3h-3zM160 386h3v3h-3zM180 389h3v3h-3zM158 403h3v3h-3zM138 387h3v3h-3zM155 403h3v3h-3zM193 388h3v3h-3zM215 404h3v3h-3zM121 391h3v3h-3z" fill="#ff0000"/>
<path d="M102.5 394V416M103.5 394V416M104.5 394V416M105.5 394V416M106.5 397V416M107.5 397V416M108.5 397V417M109.5 397V417M110.5 395V414M111.5 395V414M112.5 395V414M113.5 395V414M114.5 396V415M115.5 396V415M116.5 396V415M117.5 396V415M118.5 395V417M119.5 395V417M120.5 395V417M121.5 395V417M122.5 400V416M123.5 400V416M124.5 400V416M125.5 400V416M126.5 395V416M127.5 395V416M128.5 395V416M129.5 395V416M130.5 397V414M131.5 397V414M132.5 397V414M133.5 397V414M134.5 396V419M135.5 396V419M136.5 396V419M137.5 396V419M138.5 400V419M139.5 400V419M140.5 400V419M141.5 400V419M142.5 397V416M143.5 397V416M144.5 397V416M145.5 397V416M146.5 395V417M147.5 395V417M148.5 395V417M149.5 395V417M150.5 396V415M151.5 396V415M152.5 396V415M153.5 396V415M154.5 395V418M155.5 395V418M156.5 395V418M157.5 395V418M158.5 395V417M159.5 395V417M160.5 395V417M161.5 395V417M162.5 396V416M163.5 396V416M164.5 396V416M165.5 396V416M166.5 395V414M167.5 395V414M168.5 395V414M169.5 395V414M170.5 398V415M171.5 398V415M172.5 398V415M173.5 398V415M174.5 394V414M175.5 394V414M176.5 394V414M177.5 394V414M178.5 397V418M179.5 397V418M180.5 397V418M181.5 397V418M182.5 398V416M183.5 398V416M184.5 398V416M185.5 398V416M186.5 398V419M187.5 398V419M188.5 398V419M189.5 398V419M190.5 400V418M191.5 400V418M192.5 400V418M193.5 400V418M194.5 397V416M195.5 397V416M196.5 397V416M197.5 397V416M198.5 399V419M199.5 399V419M200.5 399V419M201.5 399V419M202.5 396V419M203.5 396V419M204.5 396V419M205.5 396V419M206.5 400V417M207.5 400V417M208.5 400V417M209.5 400V417M210.5 393V414M211.5 393V414M212.5 393V414M213.5 394V414M214.5 398V418M215.5 398V418M216.5 398V418M217.5 398V418M218.5 396V418M219.5 396V418M220.5 396V418M221.5 396V418M222.5 399V418M223.5 399V418M224.5 399V418M225.5 399V418M226.5 396V416M227.5 396V416M228.5 396V416M229.5 396V416M230.5 397V415M231.5 397V415M232.5 397V415M233.5 397V415M234.5 398V415M235.5 398V415M236.5 398V415M237.5 398V415M238.5 396V414M239.5 396V414M240.5 396V414M241.5 396V414M242.5 398V416M243.5 398V416M244.5 398V416M245.5 398V416M246.5 398V419M247.5 399V419M248.5 399V419M249.5 399V419M250.5 397V419M251.5 397V419M252.5 397V419M253.5 397V419M254.5 397V417M255.5 397V417M256.5 397V417M257.5 397V417M258.5 398V416M259.5 398V416M260.5 398V416M261.5 398V416M262.5 401V418M263.5 401V418M264.5 401V418M265.5 401V418M266.5 397V418M267.5 397V418M268.5 397V418M269.5 397V418M270.5 399V418M271.5 399V418M272.5 399V418M273.5 399V418M274.5 395V417M275.5 395V417M276.5 395V417M277.5 395V417M278.5 396V416M279.5 397V416M280.5 397V416M281.5 397V416M282.5 398V419M283.5 398V419" stroke="#0000ff" fill="none"/>
<path d="M234 396h3v3h-3zM154 417h3v3h-3zM106 395h3v3h-3zM140 418h3v3h-3zM254 417h3v3h-3zM253 395h3v3h-3zM229 393h3v3h-3zM271 418h3v3h-3zM272 419h3v3h-3zM233 394h3v3h-3zM108 393h3v3h-3zM210 415h3v3h-3zM268 394h3v3h-3zM194 394h3v3h-3zM173 415h3v3h-3zM184 416h3v3h-3zM254 419h3v3h-3zM184 394h3v3h-3zM268 417h3v3h-3zM164 416h3v3h-3zM161 392h3v3h-3zM126 391h3v3h-3zM124 416h3v3h-3zM157 417h3v3h-3zM209 397h3v3h-3zM248 418h3v3h-3zM180 391h3v3h-3zM175 414h3v3h-3zM186 395h3v3h-3zM200 394h3v3h-3zM220 393h3v3h-3zM135 418h3v3h-3zM196 416h3v3h-3zM233 416h3v3h-3zM244 418h3v3h-3zM178 394h3v3h-3zM237 395h3v3h-3zM112 392h3v3h-3zM240 390h3v3h-3zM198 396h3v3h-3zM150 415h3v3h-3zM171 417h3v3h-3zM235 392h3v3h-3zM186 420h3v3h-3zM108 395h3v3h-3zM160 392h3v3h-3zM114 393h3v3h-3zM212 413h3v3h-3zM116 394h3v3h-3zM242 395h3v3h-3z" fill="#0000ff"/>
<path d="M285.5 405V407M286.5 405V407M287.5 405V407M288.5 405V407M289.5 405V408M290.5 405V408M291.5 405V408M292.5 405V408M293.5 405V408M294.5 405V408M295.5 405V408M296.5 405V408M297.5 405V408M298.5 405V408M299.5 405V408M300.5 405V408M301.5 405V407M302.5 405V407M303.5 405V407M304.5 405V407M305.5 405V407M306.5 405V407M307.5 405V407M308.5 405V407M309.5 405V408M310.5 405V408M311.5 405V408M312.5 405V408M313.5 405V408M314.5 405V408M315.5 405V408M316.5 405V408M317.5 405V407M318.5 405V407M319.5 405V407M320.5 405V407" stroke="#ff0000" fill="none"/>
<path d="M285.5 408V411M286.5 408V411M287.5 408V411M288.5 408V411M289.5 409V411M290.5 409V411M291.5 409V411M292.5 409V411M293.5 408V411M294.5 408V411M295.5 408V411M296.5 408V411M297.5 409V411M298.5 409V411M299.5 409V411M300.5 409V411M301.5 409V411M302.5 409V411M303.5 409V411M304.5 409V411M305.5 409V411M306.5 409V411M307.5 409V411M308.5 409V411M309.5 408V411M310.5 408V411M311.5 408V411M312.5 408V411M313.5 409V411M314.5 409V411M315.5 409V411M316.5 409V411M317.5 408V411M318.5 408V411M319.5 408V411M320.5 408V411" stroke="#0000ff" fill="none"/>
<path d="M321.5 384V411M322.5 385V410M323.5 385V409M324.5 386V408M325.5 383V406M326.5 384V405" stroke="#ff0000" fill="none"/>
<path d="M321.5 398V428M322.5 398V428M323.5 398V428M324.5 398V428M325.5 399V425M326.5 399V425M327.5 399V425M328.5 399V425M329.5 401V425M330.5 401V425M331.5 401V425M332.5 401V425M333.5 396V425M334.5 396V425M335.5 396V425M336.5 396V425M337.5 399V425M338.5 400V425M339.5 400V425M340.5 400V425M341.5 402V423M342.5 403V423M343.5 403V423M344.5 403V423M345.5 401V421M346.5 400V420M347.5 399V420M348.5 398V419M349.5 394V418M350.5 393V417M351.5 393V417M352.5 392V416M353.5 392V418M354.5 392V418M355.5 392V418M356.5 392V418M357.5 394V422M358.5 394V422M359.5 394V422M360.5 394V422M361.5 397V421M362.5 397V421M363.5 397V421M364.5 397V421M365.5 393V420M366.5 393V420M367.5 393V420M368.5 393V420M369.5 396V420M370.5 396V420M371.5 396V420M372.5 396V420M373.5 392V420M374.5 392V420M375.5 392V420M376.5 391V420M377.5 393V416M378.5 393V416M379.5 393V416M380.5 393V415M381.5 393V420M382.5 393V420M383.5 393V420M384.5 393V420M385.5 395V418M386.5 395V418M387.5 395V418M388.5 395V418M389.5 394V419M390.5 394V419M391.5 394V419M392.5 394V419M393.5 396V419M394.5 396V419M395.5 396V419M396.5 396V419M397.5 393V420M398.5 393V420M399.5 393V420" stroke="#0000ff" fill="none"/>
<path d="M339 397h3v3h-3zM336 427h3v3h-3zM352 419h3v3h-3zM340 393h3v3h-3zM382 390h3v3h-3zM348 390h3v3h-3zM325 395h3v3h-3zM340 398h3v3h-3zM346 397h3v3h-3zM347 421h3v3h-3zM336 426h3v3h-3zM340 396h3v3h-3zM399 420h3v3h-3zM398 421h3v3h-3zM373 424h3v3h-3zM398 419h3v3h-3zM358 391h3v3h-3zM322 431h3v3h-3zM389 387h3v3h-3zM393 390h3v3h-3zM325 393h3v3h-3zM380 389h3v3h-3zM377 417h3v3h-3zM335 425h3v3h-3zM335 425h3v3h-3zM344 401h3v3h-3zM397 420h3v3h-3zM371 392h3v3h-3zM383 420h3v3h-3zM364 423h3v3h-3z" fill="#0000ff"/>
<path d="M327.5 400V404M328.5 400V404M329.5 400V404M330.5 400V404M331.5 401V404M332.5 401V404M333.5 401V404M334.5 401V404M335.5 399V403M336.5 399V403M337.5 399V403M338.5 399V403M339.5 401V405M340.5 401V405M341.5 401V405M342.5 401V405M343.5 400V404M344.5 400V404M345.5 400V404M346.5 400V404M347.5 400V404M348.5 400V404M349.5 400V404M350.5 400V404M351.5 400V404" stroke="#ff0000" fill="none"/>
<path d="M341 393h3v3h-3zM343 397h3v3h-3zM344 403h3v3h-3zM330 396h3v3h-3zM349 406h3v3h-3zM328 404h3v3h-3z" fill="#ff0000"/>
<path d="M400.5 392V398M401.5 392V398M402.5 392V398M403.5 392V398M404.5 394V403M405.5 394V403M406.5 394V403M407.5 394V403M408.5 393V403M409.5 393V403M410.5 393V403M411.5 393V403M412.5 390V401M413.5 390V401M414.5 390V401M415.5 390V401M416.5 394V400M417.5 394V400M418.5 394V400M419.5 394V400M420.5 393V401M421.5 393V401M422.5 393V402M423.5 393V402M424.5 393V403M425.5 393V403M426.5 393V403M427.5 393V403M428.5 394V403M429.5 394V403M430.5 394V403M431.5 394V403M432.5 395V402M433.5 395V402M434.5 395V402M435.5 395V402M436.5 393V402M437.5 393V402M438.5 393V402M439.5 394V402M440.5 391V400M441.5 391V400M442.5 391V400M443.5 391V400M444.5 393V400M445.5 393V400M446.5 393V400M447.5 393V400M448.5 394V401M449.5 394V401M450.5 394V401M451.5 394V401M452.5 395V405M453.5 395V405M454.5 395V405M455.5 395V405M456.5 392V403M457.5 392V403M458.5 392V403M459.5 392V403M460.5 392V403M461.5 392V403M462.5 392V403M463.5 392V403M464.5 394V403M465.5 394V403M466.5 394V403M467.5 394V403M468.5 396V405M469.5 396V405M470.5 396V405M471.5 396V405" stroke="#ff0000" fill="none"/>
<path d="M464 391h3v3h-3zM433 409h3v3h-3zM411 381h3v3h-3zM400 398h3v3h-3zM468 386h3v3h-3zM410 391h3v3h-3zM405 405h3v3h-3zM402 384h3v3h-3zM438 390h3v3h-3zM438 387h3v3h-3zM423 391h3v3h-3zM434 404h3v3h-3zM423 401h3v3h-3zM417 400h3v3h-3zM468 408h3v3h-3z" fill="#ff0000"/>
<path d="M400.5 395V417M401.5 395V417M402.5 395V417M403.5 395V417M404.5 399V417M405.5 399V417M406.5 399V417M407.5 399V417M408.5 395V416M409.5 395V416M410.5 395V416M411.5 395V416M412.5 396V416M413.5 396V416M414.5 396V416M415.5 396V416M416.5 397V413M417.5 397V413M418.5 397V413M419.5 397V413M420.5 397V418M421.5 397V418M422.5 397V418M423.5 397V418M424.5 398V418M425.5 398V418M426.5 398V418M427.5 398V418M428.5 396V417M429.5 397V417M430.5 397V417M431.5 397V417M432.5 398V418M433.5 398V418M434.5 398V418M435.5 398V418M436.5 395V414M437.5 395V414M438.5 395V414M439.5 395V414M440.5 397V417M441.5 397V417M442.5 397V417M443.5 397V417M444.5 397V415M445.5 397V415M446.5 397V415M447.5 397V415M448.5 396V419M449.5 396V419M450.5 396V419M451.5 396V419M452.5 397V415M453.5 397V415M454.5 397V415M455.5 397V415M456.5 395V417M457.5 396V417M458.5 396V417M459.5 396V417M460.5 396V417M461.5 396V417M462.5 396V417M463.5 397V417M464.5 398V416M465.5 398V416M466.5 398V416M467.5 398V416M468.5 397V416M469.5 397V416M470.5 397V416M471.5 397V416" stroke="#0000ff" fill="none"/>
<path d="M469 415h3v3h-3zM424 394h3v3h-3zM434 421h3v3h-3zM410 418h3v3h-3zM452 395h3v3h-3zM435 395h3v3h-3zM466 415h3v3h-3zM455 394h3v3h-3zM458 392h3v3h-3zM439 414h3v3h-3zM412 419h3v3h-3zM442 395h3v3h-3zM408 421h3v3h-3zM460 392h3v3h-3zM441 416h3v3h-3zM438 392h3v3h-3zM426 417h3v3h-3zM423 419h3v3h-3zM423 418h3v3h-3zM432 418h3v3h-3zM455 416h3v3h-3zM447 393h3v3h-3zM432 395h3v3h-3zM461 418h3v3h-3zM443 394h3v3h-3zM455 395h3v3h-3zM445 394h3v3h-3zM404 394h3v3h-3zM470 416h3v3h-3zM434 396h3v3h-3zM470 416h3v3h-3zM431 418h3v3h-3zM443 417h3v3h-3zM415 392h3v3h-3zM409 418h3v3h-3z" fill="#0000ff"/>
<path d="M473.5 406V409M474.5 406V409M475.5 406V409M476.5 406V409M477.5 406V408M478.5 406V408M479.5 406V408M480.5 406V408M481.5 406V408" stroke="#ff0000" fill="none"/>
<path d="M473.5 403V405M474.5 403V405M475.5 403V405M476.5 403V405M477.5 403V405M478.5 403V405M479.5 403V405M480.5 403V405M481.5 403V405" stroke="#0000ff" fill="none"/>
<path d="M482.5 386V407M483.5 386V407M484.5 387V406M485.5 387V406M486.5 388V403M487.5 388V403" stroke="#ff0000" fill="none"/>
<path d="M484.5 397V429M485.5 397V429M486.5 397V429M487.5 397V429M488.5 398V427M489.5 398V427M490.5 398V427M491.5 398V427M492.5 402V427M493.5 402V427M494.5 402V427M495.5 402V427M496.5 399V428M497.5 399V428M498.5 399V428M499.5 399V428M500.5 401V425M501.5 401V425M502.5 401V425M503.5 401V425" stroke="#0000ff" fill="none"/>
<path d="M492 431h3v3h-3zM498 396h3v3h-3zM488 394h3v3h-3zM494 396h3v3h-3zM492 396h3v3h-3zM487 429h3v3h-3zM487 432h3v3h-3zM496 391h3v3h-3zM488 394h3v3h-3zM498 430h3v3h-3z" fill="#0000ff"/>
<path d="M505.5 394V402M506.5 394V402M507.5 394V402M508.5 394V402M509.5 393V403M510.5 393V403M511.5 393V403M512.5 393V403M513.5 392V401M514.5 392V401M515.5 392V401M516.5 392V401M517.5 392V402M518.5 392V402M519.5 392V402M520.5 392V402M521.5 395V402M522.5 395V402M523.5 395V402M524.5 395V402M525.5 395V404M526.5 395V404M527.5 395V404M528.5 395V404M529.5 392V402M530.5 392V402M531.5 392V402M532.5 392V402M533.5 395V403M534.5 395V403M535.5 395V403M536.5 395V403M537.5 393V402M538.5 393V402M539.5 393V402M540.5 393V402M541.5 395V399M542.5 395V399M543.5 395V399M544.5 395V399M545.5 392V402M546.5 392V402M547.5 392V402M548.5 392V402M549.5 394V400M550.5 394V400M551.5 394V400M552.5 394V400M553.5 391V402M554.5 391V402M555.5 391V402M556.5 391V402M557.5 394V404M558.5 394V404M559.5 394V404M560.5 394V404M561.5 395V404M562.5 395V404M563.5 395V404M564.5 395V404M565.5 394V399M566.5 393V399M567.5 393V399M568.5 393V399M569.5 392V402M570.5 392V402M571.5 392V402M572.5 392V402M573.5 395V401M574.5 395V401M575.5 395V401M576.5 395V401M577.5 395V400M578.5 395V400M579.5 395V400M580.5 395V400M581.5 394V402M582.5 394V402M583.5 394V402M584.5 394V402M585.5 395V402M586.5 395V402M587.5 395V402M588.5 395V402M589.5 393V402M590.5 393V402M591.5 393V402M592.5 393V402M593.5 393V403M594.5 393V403M595.5 393V403M596.5 393V403M597.5 394V402M598.5 394V402M599.5 394V402M600.5 394V402M601.5 394V403M602.5 394V403M603.5 394V403M604.5 394V403M605.5 391V401M606.5 391V401M607.5 391V401M608.5 391V401M609.5 393V399M610.5 393V399M611.5 393V399M612.5 393V399M613.5 392V401M614.5 392V401M615.5 392V401M616.5 392V401M617.5 391V401M618.5 391V401M619.5 391V401M620.5 391V401M621.5 391V400M622.5 391V400M623.5 391V400M624.5 391V400M625.5 392V400M626.5 392V400M627.5 392V400M628.5 392V400M629.5 395V400M630.5 395V400M631.5 395V400M632.5 395V400M633.5 393V400M634.5 393V400M635.5 393V399M636.5 393V399M637.5 391V400M638.5 391V400M639.5 391V400M640.5 391V400M641.5 392V400M642.5 391V400M643.5 391V400M644.5 391V400M645.5 395V401M646.5 395V401M647.5 395V401M648.5 395V401M649.5 394V400M650.5 394V400M651.5 394V400M652.5 394V400M653.5 393V401M654.5 393V401M655.5 393V401M656.5 393V401M657.5 394V404M658.5 394V404M659.5 394V404M660.5 394V404M661.5 392V399M662.5 392V399M663.5 392V399M664.5 392V399M665.5 393V400M666.5 393V400M667.5 393V400M668.5 393V400M669.5 394V399" stroke="#ff0000" fill="none"/>
<path d="M668 400h3v3h-3zM652 390h3v3h-3zM613 401h3v3h-3zM578 393h3v3h-3zM599 390h3v3h-3zM654 389h3v3h-3zM549 391h3v3h-3zM625 387h3v3h-3zM667 403h3v3h-3zM583 392h3v3h-3zM610 398h3v3h-3zM550 392h3v3h-3zM614 388h3v3h-3zM574 403h3v3h-3zM629 401h3v3h-3zM540 390h3v3h-3zM568 400h3v3h-3zM607 386h3v3h-3zM580 392h3v3h-3zM588 401h3v3h-3z" fill="#ff0000"/>
<path d="M505.5 393V416M506.5 393V416M507.5 393V416M508.5 393V416M509.5 393V417M510.5 393V417M511.5 393V417M512.5 393V417M513.5 397V417M514.5 397V417M515.5 397V417M516.5 397V417M517.5 397V417M518.5 397V417M519.5 397V417M520.5 397V417M521.5 396V415M522.5 396V415M523.5 396V415M524.5 396V415M525.5 396V414M526.5 396V414M527.5 396V414M528.5 396V414M529.5 397V419M530.5 397V419M531.5 397V419M532.5 397V419M533.5 395V416M534.5 395V416M535.5 395V416M536.5 395V416M537.5 396V416M538.5 396V416M539.5 396V416M540.5 396V416M541.5 396V419M542.5 396V419M543.5 396V419M544.5 396V419M545.5 394V418M546.5 394V418M547.5 394V418M548.5 394V418M549.5 395V417M550.5 395V417M551.5 395V417M552.5 395V417M553.5 396V416M554.5 396V416M555.5 396V416M556.5 396V416M557.5 398V416M558.5 398V416M559.5 398V416M560.5 398V416M561.5 397V418M562.5 397V418M563.5 397V418M564.5 397V418M565.5 398V417M566.5 398V417M567.5 398V417M568.5 398V417M569.5 397V416M570.5 397V416M571.5 397V416M572.5 397V416M573.5 398V419M574.5 398V419M575.5 398V419M576.5 398V419M577.5 398V416M578.5 398V416M579.5 398V416M580.5 398V416M581.5 398V413M582.5 398V413M583.5 398V413M584.5 398V413M585.5 398V418M586.5 398V418M587.5 398V418M588.5 398V418M589.5 400V415M590.5 400V415M591.5 400V415M592.5 400V415M593.5 397V417M594.5 397V417M595.5 397V417M596.5 397V417M597.5 396V414M598.5 396V414M599.5 396V414M600.5 396V414M601.5 399V416M602.5 399V416M603.5 399V416M604.5 399V416M605.5 397V417M606.5 397V417M607.5 397V417M608.5 397V417M609.5 398V416M610.5 398V416M611.5 398V416M612.5 398V416M613.5 395V416M614.5 395V416M615.5 395V416M616.5 395V416M617.5 396V416M618.5 396V415M619.5 396V415M620.5 396V415M621.5 399V416M622.5 399V416M623.5 399V416M624.5 399V416M625.5 397V419M626.5 397V418M627.5 397V418M628.5 397V418M629.5 396V417M630.5 396V417M631.5 396V417M632.5 396V417M633.5 398V418M634.5 398V418M635.5 398V418M636.5 398V418M637.5 397V415M638.5 397V415M639.5 397V415M640.5 397V415M641.5 397V416M642.5 397V416M643.5 397V416M644.5 397V416M645.5 400V420M646.5 400V420M647.5 400V420M648.5 400V420M649.5 395V416M650.5 395V416M651.5 395V416M652.5 395V416M653.5 397V416M654.5 397V416M655.5 397V416M656.5 397V416M657.5 398V419M658.5 398V419M659.5 398V419M660.5 398V419M661.5 398V416M662.5 398V416M663.5 398V416M664.5 398V416M665.5 396V415M666.5 396V415M667.5 396V415M668.5 396V415M669.5 398V417" stroke="#0000ff" fill="none"/>
<path d="M551 393h3v3h-3zM622 397h3v3h-3zM525 394h3v3h-3zM643 416h3v3h-3zM665 393h3v3h-3zM543 419h3v3h-3zM542 394h3v3h-3zM570 417h3v3h-3zM625 394h3v3h-3zM608 417h3v3h-3zM622 416h3v3h-3zM628 418h3v3h-3zM597 414h3v3h-3zM586 418h3v3h-3zM650 392h3v3h-3zM526 393h3v3h-3zM645 419h3v3h-3zM605 418h3v3h-3zM633 418h3v3h-3zM645 395h3v3h-3zM563 418h3v3h-3zM623 420h3v3h-3zM591 397h3v3h-3zM513 416h3v3h-3zM664 396h3v3h-3zM617 415h3v3h-3zM663 417h3v3h-3zM588 394h3v3h-3zM611 415h3v3h-3zM587 394h3v3h-3zM632 392h3v3h-3zM653 393h3v3h-3zM667 393h3v3h-3zM524 417h3v3h-3zM580 396h3v3h-3zM634 417h3v3h-3zM550 417h3v3h-3zM574 419h3v3h-3zM642 416h3v3h-3zM522 394h3v3h-3zM550 419h3v3h-3zM547 392h3v3h-3zM551 391h3v3h-3zM601 395h3v3h-3zM662 415h3v3h-3zM642 393h3v3h-3zM663 415h3v3h-3zM558 417h3v3h-3zM660 395h3v3h-3zM615 391h3v3h-3z" fill="#0000ff"/>
<path d="M398 384h3v3h-3zM394 382h3v3h-3zM508 384h3v3h-3zM534 386h3v3h-3zM552 388h3v3h-3zM584 388h3v3h-3zM616 388h3v3h-3zM648 386h3v3h-3zM400 382h3v3h-3z" fill="#0000ff"/>
<path d="M102.5 434V441M103.5 434V441M104.5 434V441M105.5 434V441M106.5 435V441M107.5 435V441M108.5 435V441M109.5 435V441M110.5 434V440M111.5 434V440M112.5 434V440M113.5 434V440M114.5 434V440M115.5 434V441M116.5 434V441M117.5 434V441M118.5 436V441M119.5 436V441M120.5 436V441M121.5 436V441M122.5 435V440M123.5 435V440M124.5 435V440M125.5 435V440M126.5 434V441M127.5 434V441M128.5 434V442M129.5 434V442M130.5 435V441M131.5 435V441M132.5 435V441M133.5 435V441M134.5 435V441M135.5 435V441M136.5 435V441M137.5 435V441M138.5 435V441M139.5 435V441M140.5 435V441M141.5 435V441M142.5 435V440M143.5 435V440M144.5 435V440M145.5 435V440M146.5 434V440M147.5 434V440M148.5 434V440M149.5 434V440M150.5 434V442M151.5 434V442M152.5 434V442M153.5 434V442M154.5 435V442M155.5 435V442M156.5 435V442M157.5 435V442M158.5 436V441M159.5 436V441M160.5 436V441M161.5 436V441M162.5 436V440M163.5 436V440M164.5 436V440M165.5 436V440M166.5 435V441M167.5 435V441M168.5 435V442M169.5 435V442M170.5 433V441M171.5 433V441M172.5 433V441M173.5 433V441M174.5 436V441M175.5 436V441M176.5 436V441M177.5 436V441M178.5 435V442M179.5 435V442M180.5 435V442M181.5 435V442M182.5 435V440M183.5 435V440M184.5 435V440M185.5 435V440M186.5 435V443M187.5 435V443M188.5 436V444M189.5 436V445M190.5 436V445M191.5 436V444M192.5 436V444M193.5 436V443M194.5 435V444M195.5 435V443M196.5 435V442M197.5 435V442M198.5 436V441M199.5 436V441M200.5 436V441M201.5 436V441M202.5 434V442M203.5 434V442M204.5 434V442M205.5 434V442M206.5 435V441M207.5 435V441M208.5 435V441M209.5 435V442M210.5 435V442M211.5 435V442M212.5 435V442M213.5 435V442M214.5 436V442M215.5 436V442M216.5 436V442M217.5 436V442M218.5 436V442M219.5 436V442M220.5 436V442M221.5 436V442M222.5 436V442M223.5 436V442M224.5 436V442M225.5 436V443M226.5 436V444M227.5 436V445M228.5 436V446M229.5 436V447M230.5 435V447M231.5 435V446M232.5 435V445M233.5 435V444M234.5 435V442M235.5 435V441M236.5 435V441M237.5 435V441M238.5 435V442M239.5 435V442M240.5 435V442M241.5 435V442M242.5 435V441M243.5 435V441M244.5 435V441M245.5 435V441M246.5 435V442M247.5 435V442M248.5 435V442M249.5 435V442M250.5 435V441M251.5 435V441M252.5 435V441M253.5 435V441M254.5 435V442M255.5 435V442M256.5 435V442M257.5 435V441M258.5 436V442M259.5 436V442M260.5 436V441M261.5 436V441M262.5 435V441M263.5 435V441M264.5 435V441M265.5 435V441M266.5 436V441M267.5 436V441M268.5 436V441M269.5 436V441M270.5 435V441M271.5 435V441M272.5 435V441M273.5 435V441M274.5 435V441M275.5 435V441M276.5 435V441M277.5 435V441M278.5 435V441M279.5 435V441M280.5 435V441M281.5 435V441M282.5 435V441M283.5 435V441M284.5 435V441M285.5 435V441M286.5 434V441M287.5 434V441M288.5 435V441M289.5 435V441M290.5 435V441M291.5 436V441M292.5 436V441M293.5 436V441M294.5 435V441M295.5 435V441M296.5 435V441M297.5 435V441M298.5 435V441M299.5 435V441M300.5 435V441M301.5 435V441M302.5 436V441M303.5 436V441M304.5 436V441M305.5 436V441M306.5 436V441M307.5 436V441M308.5 436V441M309.5 436V441M310.5 435V441M311.5 436V441M312.5 436V441M313.5 436V441M314.5 436V441M315.5 436V441M316.5 436V441M317.5 436V441M318.5 435V442M319.5 435V442M320.5 435V442M321.5 435V443M322.5 436V443M323.5 436V444M324.5 436V444M325.5 436V444M326.5 436V444M327.5 436V444M328.5 436V443M329.5 436V443M330.5 436V442M331.5 436V442M332.5 436V442M333.5 436V442M334.5 435V442M335.5 435V442M336.5 435V442M337.5 435V442M338.5 436V442M339.5 436V442M340.5 436V442M341.5 436V442M342.5 436V443M343.5 436V443M344.5 436V443M345.5 436V443M346.5 436V442M347.5 436V442M348.5 436V442M349.5 436V442M350.5 435V442M351.5 435V442M352.5 435V442M353.5 435V442M354.5 436V443M355.5 436V443M356.5 436V443M357.5 436V443M358.5 435V442M359.5 435V442M360.5 435V442M361.5 435V442M362.5 435V442M363.5 435V442M364.5 435V442M365.5 435V442M366.5 435V442M367.5 435V442M368.5 435V442M369.5 435V442M370.5 436V443M371.5 436V443M372.5 436V443M373.5 436V443M374.5 435V442M375.5 435V442M376.5 435V442M377.5 435V442M378.5 435V442M379.5 435V442M380.5 435V442M381.5 435V442M382.5 436V442M383.5 436V442M384.5 436V442M385.5 436V442M386.5 436V442M387.5 436V442M388.5 436V442M389.5 436V442M390.5 436V442M391.5 436V442M392.5 436V442M393.5 436V442M394.5 435V442M395.5 435V442M396.5 435V442M397.5 435V442M398.5 435V441M399.5 435V441M400.5 435V441M401.5 435V441M402.5 436V443M403.5 436V443M404.5 436V443M405.5 436V443M406.5 435V443M407.5 435V443M408.5 435V443M409.5 435V443M410.5 436V442M411.5 436V442M412.5 436V442M413.5 436V442M414.5 435V442M415.5 435V442M416.5 435V442M417.5 435V442M418.5 435V442M419.5 435V442M420.5 435V442M421.5 435V442M422.5 437V441M423.5 437V441M424.5 437V441M425.5 437V441M426.5 436V442M427.5 436V442M428.5 436V442M429.5 436V442M430.5 435V442M431.5 435V442M432.5 435V442M433.5 435V442M434.5 435V442M435.5 435V442M436.5 435V442M437.5 435V442M438.5 435V442M439.5 435V442M440.5 435V442M441.5 435V442M442.5 435V442M443.5 435V442M444.5 435V442M445.5 435V442M446.5 434V441M447.5 434V441M448.5 434V441M449.5 434V441M450.5 435V442M451.5 435V442M452.5 435V442M453.5 435V442M454.5 435V442M455.5 435V442M456.5 435V442M457.5 435V442M458.5 435V441M459.5 435V441M460.5 435V441M461.5 435V441M462.5 435V442M463.5 435V442M464.5 435V442M465.5 435V442M466.5 435V442M467.5 435V442M468.5 435V442M469.5 435V442M470.5 435V443M471.5 435V443M472.5 435V443M473.5 435V443M474.5 436V442M475.5 436V442M476.5 436V442M477.5 436V442M478.5 436V442M479.5 436V442M480.5 436V442M481.5 436V443M482.5 436V444M483.5 436V445M484.5 436V446M485.5 436V446M486.5 436V445M487.5 435V444M488.5 435V444M489.5 435V443M490.5 435V444M491.5 435V443M492.5 435V443M493.5 435V443M494.5 434V443M495.5 434V443M496.5 434V443M497.5 434V443M498.5 435V442M499.5 435V442M500.5 435V442M501.5 435V442M502.5 435V441M503.5 435V441M504.5 435V441M505.5 435V441M506.5 436V440M507.5 436V440M508.5 436V440M509.5 436V440M510.5 435V443M511.5 435V443M512.5 435V443M513.5 435V443M514.5 435V442M515.5 435V442M516.5 435V442M517.5 435V442M518.5 434V441M519.5 434V441M520.5 434V441M521.5 434V441M522.5 435V442M523.5 435V442M524.5 435V442M525.5 435V442M526.5 434V442M527.5 434V442M528.5 434V442M529.5 434V442M530.5 435V440M531.5 435V440M532.5 435V440M533.5 435V440M534.5 436V442M535.5 436V442M536.5 436V442M537.5 436V442M538.5 435V442M539.5 435V442M540.5 435V442M541.5 435V442M542.5 435V442M543.5 435V442M544.5 435V442M545.5 435V442M546.5 434V442M547.5 434V442M548.5 434V442M549.5 434V442M550.5 435V440M551.5 435V440M552.5 435V440M553.5 435V440M554.5 435V441M555.5 435V441M556.5 435V441M557.5 435V441M558.5 436V442M559.5 436V442M560.5 436V442M561.5 436V442M562.5 434V441M563.5 434V441M564.5 434V441M565.5 434V441M566.5 434V442M567.5 434V442M568.5 434V442M569.5 434V442M570.5 435V442M571.5 435V442M572.5 435V442M573.5 435V442M574.5 434V441M575.5 434V441M576.5 434V441M577.5 434V441M578.5 435V442M579.5 435V442M580.5 435V442M581.5 435V442M582.5 434V442M583.5 434V442M584.5 434V442M585.5 434V442M586.5 435V442M587.5 435V442M588.5 435V442M589.5 435V442M590.5 434V442M591.5 434V442M592.5 434V442M593.5 434V442M594.5 435V440M595.5 435V440M596.5 435V440M597.5 435V440M598.5 435V441M599.5 435V441M600.5 435V441M601.5 435V441M602.5 435V440M603.5 435V440M604.5 435V440M605.5 435V440M606.5 435V440M607.5 435V440M608.5 435V440M609.5 435V440M610.5 436V442M611.5 436V442M612.5 436V442M613.5 436V442M614.5 434V441M615.5 434V441M616.5 434V441M617.5 434V441M618.5 434V441M619.5 434V441M620.5 434V441M621.5 434V441M622.5 436V441M623.5 436V441M624.5 436V441M625.5 436V441M626.5 435V442M627.5 435V442M628.5 435V442M629.5 435V442M630.5 434V442M631.5 434V442M632.5 434V442M633.5 434V442M634.5 435V442M635.5 435V442M636.5 435V442M637.5 435V442M638.5 434V442M639.5 434V442M640.5 434V442M641.5 434V442M642.5 434V441M643.5 434V441M644.5 434V441M645.5 434V441M646.5 434V440M647.5 434V440M648.5 434V440M649.5 434V440M650.5 435V440M651.5 435V440M652.5 435V440M653.5 435V440M654.5 434V441M655.5 434V441M656.5 434V441M657.5 434V441M658.5 433V441M659.5 433V441M660.5 433V441M661.5 433V441M662.5 436V441M663.5 436V441M664.5 436V441M665.5 436V441M666.5 435V441M667.5 435V441M668.5 435V441M669.5 435V441" stroke="#ffa500" fill="none"/>
<path d="M102.0 509.5 670.0 509.5" stroke="#0000ff" stroke-width="1" fill="none"/>
<path d="M102.0 560.5 386.4 560.5 386.4 571.5 387.7 571.5 387.7 580.5 527.6 580.5 527.6 583.5 670.0 583.5" stroke="#0000ff" stroke-width="1" fill="none"/>
<path d="M118.5 549.5 118.5 572.0" stroke="#0000ff" stroke-width="1.5" fill="none"/>
<path d="M189.5 538.5 189.5 583.5" stroke="#0000ff" stroke-width="1.2" fill="none"/>
<path d="M189.0 538.5 189.0 560.0" stroke="#0000ff" stroke-width="1" fill="none"/>
<path d="M236.5 555.0 236.5 560.5" stroke="#0000ff" stroke-width="2" fill="none"/>
<path d="M386.5 555.0 386.5 571.0" stroke="#0000ff" stroke-width="1" fill="none"/>
<path d="M102.0 612.5 670.0 612.5" stroke="#008c00" stroke-width="1" fill="none"/>
<path d="M115.5 589.0 115.5 636.0" stroke="#008c00" stroke-width="1" fill="none"/>
<path d="M114.5 600.0 114.5 624.0" stroke="#008c00" stroke-width="1" fill="none"/>
<path d="M117.5 612.0 117.5 628.0" stroke="#008c00" stroke-width="1" fill="none"/>
<path d="M140.5 612.0 140.5 623.5" stroke="#008c00" stroke-width="1" fill="none"/>
<path d="M187.5 612.0 187.5 625.5" stroke="#008c00" stroke-width="1" fill="none"/>
<path d="M186.5 612.0 186.5 620.0" stroke="#008c00" stroke-width="1" fill="none"/>
<path d="M102.0 663.5 670.0 663.5" stroke="#008c00" stroke-width="1" fill="none"/>
<path d="M102.0 730.5 670.0 730.5" stroke="#ff0000" stroke-width="1" fill="none"/>
<path d="M237.0 692.0 237.0 730.5" stroke="#ff0000" stroke-width="2" fill="none"/>
<path d="M254.5 730.0 254.5 739.0" stroke="#ff0000" stroke-width="1" fill="none"/>
<path d="M254.0 722.0 254.0 731.0" stroke="#ff0000" stroke-width="2" fill="none"/>
<path d="M102.0 765.5 252.5 765.5 252.5 754.5 670.0 754.5" stroke="#ff0000" stroke-width="1" fill="none"/>
<path d="M237.0 755.0 237.0 765.0" stroke="#ff0000" stroke-width="2" fill="none"/>
<path d="M236.5 765.0 236.5 783.0" stroke="#ff0000" stroke-width="1" fill="none"/>
<path d="M253.5 744.0 253.5 754.5" stroke="#ff0000" stroke-width="1" fill="none"/>
<path d="M102.0 807.5 670.0 807.5" stroke="#ff00ff" stroke-width="1" fill="none"/>
<path d="M904.0 33.5 935.5 33.5 935.5 32.5 1045.7 32.5 1045.7 31.5 1086.3 31.5 1086.3 68.5 1146.6 68.5 1163.4 53.3 1170.0 42.0 1193.3 33.7 1200.0 33.0 1240.0 32.5 1450.9 32.5 1450.9 68.5 1463.0 68.5 1468.0 64.0 1472.0 57.0" stroke="#0000ff" stroke-width="1" fill="none"/>
<path d="M904.0 24.3 935.5 24.3 935.5 23.5 950.0 23.5 953.0 25.5 956.0 23.5 982.2 23.5 982.2 22.5 1086.3 22.5 1086.3 68.5 1122.3 68.5 1131.6 64.5 1134.5 53.5 1160.6 53.5 1165.3 39.3 1175.0 33.0 1185.0 29.0 1193.3 24.5 1200.0 23.8 1274.3 23.5 1274.3 68.5 1286.5 68.5 1299.6 40.2 1312.6 32.7 1327.6 23.5 1472.0 23.5" stroke="#ff0000" stroke-width="1" fill="none"/>
<path d="M904.0 83.5 945.8 83.5 945.8 78.5 1104.6 78.5 1104.6 105.5 1145.7 105.5 1145.7 98.5 1163.4 98.5 1163.4 83.5 1181.2 83.5 1181.2 78.5 1357.5 78.5 1357.5 70.5 1365.5 70.5 1365.5 78.5 1454.6 78.5 1454.6 105.5 1464.0 105.5 1464.0 98.5 1469.2 98.5 1469.2 83.5 1472.0 83.5" stroke="#000" stroke-width="1" fill="none"/>
<path d="M904.5 82V89M905.5 82V89M906.5 82V89M907.5 82V89M908.5 83V89M909.5 83V89M910.5 83V89M911.5 83V89M912.5 82V90M913.5 82V90M914.5 82V90M915.5 82V90M916.5 83V89M917.5 83V89M918.5 83V89M919.5 83V89M920.5 84V91M921.5 84V91M922.5 84V91M923.5 84V91M924.5 82V88M925.5 82V88M926.5 82V88M927.5 82V88M928.5 84V89M929.5 84V89M930.5 84V89M931.5 84V89M932.5 84V90M933.5 84V90M934.5 84V90M935.5 84V90M936.5 81V89M937.5 81V89M938.5 81V89M939.5 81V89M940.5 83V90M941.5 83V90M942.5 83V90M943.5 83V90M944.5 83V89M945.5 83V89M946.5 82V88M947.5 82V88M948.5 81V87M949.5 80V86M950.5 80V86M951.5 80V86M952.5 79V86M953.5 79V86M954.5 79V86M955.5 79V86M956.5 79V86M957.5 79V86M958.5 79V86M959.5 79V86M960.5 79V86M961.5 79V86M962.5 79V86M963.5 79V86M964.5 80V86M965.5 80V86M966.5 80V86M967.5 80V86M968.5 80V87M969.5 80V87M970.5 80V87M971.5 80V87M972.5 80V85M973.5 80V85M974.5 80V85M975.5 80V85M976.5 81V85M977.5 81V85M978.5 81V85M979.5 81V85M980.5 80V86M981.5 80V86M982.5 80V86M983.5 80V86M984.5 81V87M985.5 81V87M986.5 81V87M987.5 81V87M988.5 81V85M989.5 81V85M990.5 81V85M991.5 81V85M992.5 80V86M993.5 80V86M994.5 80V86M995.5 80V86M996.5 80V85M997.5 80V85M998.5 80V85M999.5 80V85M1000.5 80V87M1001.5 80V87M1002.5 80V87M1003.5 80V87M1004.5 81V87M1005.5 81V87M1006.5 81V87M1007.5 81V87M1008.5 80V88M1009.5 80V88M1010.5 80V88M1011.5 80V88M1012.5 80V87M1013.5 80V87M1014.5 80V87M1015.5 80V87M1016.5 81V87M1017.5 81V87M1018.5 81V87M1019.5 81V87M1020.5 80V86M1021.5 80V86M1022.5 80V86M1023.5 80V86M1024.5 80V86M1025.5 80V86M1026.5 80V86M1027.5 80V86M1028.5 79V86M1029.5 79V86M1030.5 79V86M1031.5 79V86M1032.5 80V86M1033.5 80V86M1034.5 80V86M1035.5 80V86M1036.5 79V86M1037.5 79V86M1038.5 79V86M1039.5 79V86M1040.5 79V87M1041.5 79V87M1042.5 79V87M1043.5 79V87M1044.5 79V87M1045.5 79V87M1046.5 79V87M1047.5 79V87M1048.5 80V86M1049.5 80V86M1050.5 80V86M1051.5 80V86M1052.5 80V88M1053.5 80V88M1054.5 80V88M1055.5 80V88M1056.5 79V87M1057.5 79V87M1058.5 79V87M1059.5 79V87M1060.5 79V84M1061.5 79V84M1062.5 79V84M1063.5 79V84M1064.5 78V86M1065.5 78V86M1066.5 78V86M1067.5 78V86M1068.5 80V86M1069.5 80V86M1070.5 80V86M1071.5 80V86M1072.5 79V87M1073.5 79V87M1074.5 79V87M1075.5 79V87M1076.5 79V88M1077.5 79V88M1078.5 79V88M1079.5 79V88M1080.5 79V85M1081.5 79V85M1082.5 79V85M1083.5 79V85M1084.5 77V86M1085.5 77V86M1086.5 77V86M1087.5 77V86M1088.5 80V86M1089.5 80V86" stroke="#ff6347" fill="none"/>
<path d="M1064 86h3v3h-3zM975 85h3v3h-3zM1064 75h3v3h-3zM992 77h3v3h-3zM930 89h3v3h-3zM987 77h3v3h-3zM953 75h3v3h-3zM1013 77h3v3h-3zM967 78h3v3h-3zM1009 78h3v3h-3z" fill="#ff6347"/>
<path d="M1090.5 79V81M1091.5 79V81M1092.5 79V81M1093.5 79V81M1094.5 78V81M1095.5 78V81M1096.5 78V81M1097.5 78V81M1098.5 79V82M1099.5 79V82M1100.5 79V82M1101.5 79V82M1102.5 79V82M1103.5 79V82M1104.5 79V82M1105.5 79V82M1106.5 79V82M1107.5 79V82M1108.5 79V82M1109.5 79V82M1110.5 78V81M1111.5 78V81M1112.5 78V81M1113.5 78V81M1114.5 79V82M1115.5 79V82M1116.5 79V82M1117.5 79V82M1118.5 78V81M1119.5 78V81M1120.5 78V81M1121.5 78V81M1122.5 78V81M1123.5 78V81M1124.5 78V81M1125.5 78V81M1126.5 78V81M1127.5 78V81M1128.5 78V81M1129.5 78V81M1130.5 79V82M1131.5 79V82M1132.5 79V82M1133.5 79V82M1134.5 78V81M1135.5 78V81M1136.5 78V81" stroke="#ff6347" fill="none"/>
<path d="M1136.5 105V109M1137.5 105V109M1138.5 105V109M1139.5 105V109M1140.5 105V108M1141.5 105V108M1142.5 105V108M1143.5 105V108M1144.5 106V108M1145.5 106V108M1146.5 106V108M1147.5 106V108M1148.5 106V109M1149.5 106V109M1150.5 106V109M1151.5 106V109M1152.5 106V108M1153.5 106V108M1154.5 106V108M1155.5 106V108M1156.5 105V109M1157.5 105V109M1158.5 105V109M1159.5 105V109M1160.5 106V108M1161.5 106V108M1162.5 106V108M1163.5 106V108M1164.5 105V109" stroke="#ff6347" fill="none"/>
<path d="M1142.5 98V101M1143.5 98V101M1144.5 98V101M1145.5 98V101M1146.5 97V101" stroke="#ff6347" fill="none"/>
<path d="M1165.5 99V101M1166.5 99V101M1167.5 98V101M1168.5 98V100M1169.5 96V101M1170.5 96V101M1171.5 96V101M1172.5 95V100M1173.5 95V99M1174.5 95V99M1175.5 95V98M1176.5 94V98M1177.5 93V97M1178.5 92V96M1179.5 92V96M1180.5 92V96M1181.5 91V96M1182.5 90V96M1183.5 90V95M1184.5 89V95M1185.5 90V94M1186.5 89V94M1187.5 89V93M1188.5 88V93M1189.5 87V93M1190.5 87V93M1191.5 86V92M1192.5 86V92M1193.5 85V92M1194.5 84V92M1195.5 84V91M1196.5 84V91M1197.5 84V90M1198.5 84V90M1199.5 84V90M1200.5 84V89M1201.5 83V89M1202.5 83V89M1203.5 83V89M1204.5 82V89M1205.5 82V89M1206.5 82V89M1207.5 82V89M1208.5 82V89M1209.5 81V87M1210.5 81V87M1211.5 81V87M1212.5 81V87M1213.5 82V86M1214.5 82V86M1215.5 82V86M1216.5 82V86M1217.5 82V88M1218.5 82V88M1219.5 82V88M1220.5 82V88M1221.5 81V88M1222.5 81V88M1223.5 81V88M1224.5 81V88M1225.5 83V89M1226.5 83V89M1227.5 83V89M1228.5 83V89M1229.5 83V88M1230.5 83V88M1231.5 83V88M1232.5 83V88M1233.5 82V88M1234.5 82V88M1235.5 82V88M1236.5 82V88M1237.5 81V89M1238.5 81V89M1239.5 81V89M1240.5 81V89M1241.5 81V88M1242.5 81V88M1243.5 81V88M1244.5 81V88M1245.5 82V89M1246.5 82V89M1247.5 82V89M1248.5 82V89M1249.5 81V87M1250.5 81V87M1251.5 81V87M1252.5 81V87M1253.5 80V87M1254.5 80V87M1255.5 80V87M1256.5 79V87M1257.5 81V88M1258.5 81V88M1259.5 81V88M1260.5 81V88M1261.5 81V87M1262.5 81V87M1263.5 81V87M1264.5 81V87M1265.5 80V88M1266.5 80V88M1267.5 80V88M1268.5 80V88M1269.5 81V87M1270.5 81V87M1271.5 81V87M1272.5 81V87M1273.5 81V88M1274.5 81V88M1275.5 81V88M1276.5 81V88M1277.5 81V88M1278.5 81V88M1279.5 81V88M1280.5 81V88M1281.5 79V89M1282.5 79V89M1283.5 79V89M1284.5 79V89M1285.5 80V87M1286.5 80V87M1287.5 80V87M1288.5 80V87M1289.5 81V87M1290.5 81V87M1291.5 81V87M1292.5 81V87M1293.5 80V88M1294.5 80V88M1295.5 80V88M1296.5 80V88M1297.5 80V87M1298.5 80V87M1299.5 80V87M1300.5 80V87M1301.5 81V88M1302.5 81V88M1303.5 81V88M1304.5 81V88M1305.5 83V89M1306.5 83V89M1307.5 83V89M1308.5 83V89M1309.5 81V86M1310.5 81V86M1311.5 81V86M1312.5 81V86M1313.5 79V87M1314.5 79V87M1315.5 79V87M1316.5 79V87M1317.5 81V89M1318.5 81V89M1319.5 81V89M1320.5 81V89M1321.5 80V87M1322.5 80V87M1323.5 80V87M1324.5 80V87M1325.5 81V88M1326.5 81V88M1327.5 81V88M1328.5 81V88M1329.5 80V87M1330.5 80V87M1331.5 80V87M1332.5 80V87M1333.5 79V89M1334.5 79V89M1335.5 79V89M1336.5 79V89M1337.5 81V87M1338.5 81V87M1339.5 81V87M1340.5 81V87M1341.5 81V87M1342.5 81V87M1343.5 81V87M1344.5 81V87M1345.5 80V88M1346.5 80V88M1347.5 80V88M1348.5 80V88M1349.5 82V89M1350.5 82V89M1351.5 82V89M1352.5 82V89M1353.5 80V89M1354.5 80V89M1355.5 80V89M1356.5 80V89M1357.5 81V88M1358.5 81V88M1359.5 81V88M1360.5 81V88M1361.5 81V89M1362.5 81V89M1363.5 81V89M1364.5 81V89M1365.5 79V88M1366.5 79V88M1367.5 79V88M1368.5 79V88M1369.5 81V88M1370.5 81V88M1371.5 81V88M1372.5 81V88M1373.5 81V88M1374.5 81V88M1375.5 81V88M1376.5 81V88M1377.5 82V88M1378.5 82V88M1379.5 82V88M1380.5 82V88M1381.5 81V86M1382.5 81V86M1383.5 81V86M1384.5 81V86M1385.5 81V87M1386.5 81V87M1387.5 81V87M1388.5 81V87M1389.5 80V87M1390.5 80V87M1391.5 80V87M1392.5 80V87M1393.5 82V87M1394.5 82V87M1395.5 82V87M1396.5 82V87M1397.5 80V87M1398.5 80V87M1399.5 80V87M1400.5 80V87M1401.5 80V89M1402.5 80V89M1403.5 80V89M1404.5 80V89M1405.5 80V88M1406.5 80V88M1407.5 80V88M1408.5 80V88M1409.5 81V88M1410.5 81V88M1411.5 81V88M1412.5 81V88M1413.5 82V87M1414.5 82V87M1415.5 82V87M1416.5 82V87M1417.5 80V88M1418.5 80V88M1419.5 80V88M1420.5 80V88M1421.5 80V88M1422.5 80V88M1423.5 80V88M1424.5 80V88M1425.5 80V87M1426.5 80V87M1427.5 80V87M1428.5 80V87M1429.5 80V87M1430.5 80V87M1431.5 80V87M1432.5 80V87M1433.5 82V88M1434.5 82V88M1435.5 82V88M1436.5 82V88M1437.5 81V88M1438.5 81V88M1439.5 81V88M1440.5 81V88M1441.5 81V88M1442.5 81V88M1443.5 81V88M1444.5 81V88M1445.5 81V87M1446.5 81V87M1447.5 81V87M1448.5 81V87M1449.5 81V88M1450.5 81V88M1451.5 81V88" stroke="#ff6347" fill="none"/>
<path d="M1230 88h3v3h-3zM1432 78h3v3h-3zM1425 77h3v3h-3zM1379 88h3v3h-3zM1182 86h3v3h-3zM1395 78h3v3h-3zM1240 89h3v3h-3zM1383 86h3v3h-3zM1363 78h3v3h-3zM1255 76h3v3h-3zM1349 89h3v3h-3zM1267 77h3v3h-3z" fill="#ff6347"/>
<path d="M1158 82h3v3h-3zM1162 82h3v3h-3zM1166 84h3v3h-3zM1180 78h3v3h-3zM1188 78h3v3h-3zM1198 78h3v3h-3zM1208 77h3v3h-3zM1230 90h3v3h-3zM1232 90h3v3h-3zM1196 102h3v3h-3zM1358 72h3v3h-3zM1364 104h3v3h-3zM954 100h3v3h-3zM956 100h3v3h-3zM1454 82h3v3h-3zM1458 82h3v3h-3z" fill="#ff6347"/>
<path d="M1458.5 98V101M1459.5 98V101M1460.5 98V101M1461.5 98V101M1462.5 98V101M1463.5 98V101M1464.5 98V101M1465.5 98V101M1466.5 98V101M1467.5 98V101" stroke="#ff6347" fill="none"/>
<path d="M1458.5 105V109M1459.5 105V109M1460.5 105V109M1461.5 105V109M1462.5 105V108M1463.5 105V108M1464.5 105V108M1465.5 105V108" stroke="#ff6347" fill="none"/>
<path d="M1468.5 81V84M1469.5 81V84M1470.5 81V84M1471.5 81V84" stroke="#ff6347" fill="none"/>
<path d="M904.5 116V119M905.5 116V119M906.5 116V119M907.5 116V119M908.5 116V119M909.5 116V119M910.5 116V119M911.5 116V119M912.5 116V118M913.5 116V118M914.5 116V118M915.5 116V118M916.5 116V119M917.5 116V119M918.5 116V119M919.5 116V119M920.5 116V119M921.5 116V119M922.5 116V119M923.5 116V119M924.5 116V119M925.5 116V119M926.5 116V119M927.5 116V119M928.5 116V119M929.5 116V119M930.5 116V119M931.5 116V119M932.5 116V120M933.5 116V120M934.5 116V120M935.5 116V120M936.5 115V120M937.5 115V120M938.5 115V120M939.5 115V120M940.5 116V117M941.5 116V117M942.5 116V117M943.5 116V117M944.5 116V118M945.5 116V118M946.5 116V118M947.5 116V118M948.5 116V119M949.5 116V119M950.5 116V119M951.5 116V119M952.5 116V120M953.5 116V120M954.5 116V120M955.5 116V120M956.5 116V119M957.5 116V119M958.5 116V119M959.5 116V119M960.5 115V119M961.5 115V119M962.5 115V119M963.5 115V119M964.5 116V118M965.5 116V118M966.5 116V118M967.5 116V118M968.5 116V120M969.5 116V120M970.5 116V120M971.5 116V120M972.5 117V119M973.5 117V119M974.5 117V119M975.5 117V119M976.5 115V119M977.5 115V119M978.5 115V119M979.5 115V119M980.5 116V120M981.5 116V120M982.5 116V120M983.5 116V120M984.5 117V119M985.5 117V119M986.5 117V119M987.5 117V119M988.5 116V120M989.5 116V120M990.5 116V120M991.5 116V120M992.5 116V119M993.5 116V119M994.5 116V119M995.5 116V119M996.5 116V119M997.5 116V119M998.5 116V119M999.5 116V119M1000.5 116V119M1001.5 116V119M1002.5 116V119M1003.5 116V119M1004.5 115V120M1005.5 115V120M1006.5 115V120M1007.5 115V120M1008.5 116V118M1009.5 116V118M1010.5 116V118M1011.5 116V118M1012.5 116V120M1013.5 116V120M1014.5 116V120M1015.5 116V120M1016.5 115V119M1017.5 115V119M1018.5 115V119M1019.5 115V119M1020.5 116V119M1021.5 116V119M1022.5 116V119M1023.5 116V119M1024.5 116V120M1025.5 116V120M1026.5 116V120M1027.5 116V120M1028.5 116V120M1029.5 116V120M1030.5 116V120M1031.5 116V120M1032.5 116V119M1033.5 116V119M1034.5 116V119M1035.5 116V119M1036.5 116V119M1037.5 116V119M1038.5 116V119M1039.5 116V119M1040.5 116V119M1041.5 116V119M1042.5 116V119M1043.5 116V119M1044.5 116V119M1045.5 116V119M1046.5 116V119M1047.5 116V119M1048.5 117V119M1049.5 117V119M1050.5 117V119M1051.5 117V119M1052.5 115V120M1053.5 115V120M1054.5 115V120M1055.5 115V120M1056.5 116V118M1057.5 116V118M1058.5 116V118M1059.5 116V118M1060.5 115V119M1061.5 115V119M1062.5 115V119M1063.5 115V119M1064.5 116V119M1065.5 116V119M1066.5 116V119M1067.5 116V119M1068.5 116V119M1069.5 116V119M1070.5 116V119M1071.5 116V119M1072.5 116V120M1073.5 116V120M1074.5 116V120M1075.5 116V120M1076.5 116V119M1077.5 116V119M1078.5 116V119M1079.5 116V119M1080.5 116V119M1081.5 116V119M1082.5 116V119M1083.5 116V119M1084.5 117V120M1085.5 117V120M1086.5 117V120M1087.5 117V120M1088.5 116V119M1089.5 116V119M1090.5 116V119M1091.5 116V119M1092.5 114V119M1093.5 114V119M1094.5 114V119M1095.5 114V119M1096.5 116V119M1097.5 116V119M1098.5 116V119M1099.5 116V119M1100.5 117V119M1101.5 117V119M1102.5 117V119M1103.5 117V119M1104.5 117V118M1105.5 117V118M1106.5 117V118M1107.5 117V118M1108.5 116V119M1109.5 116V119M1110.5 116V119M1111.5 116V119M1112.5 116V120M1113.5 116V120M1114.5 116V120M1115.5 116V120M1116.5 116V119M1117.5 116V119M1118.5 116V119M1119.5 116V119M1120.5 115V119M1121.5 115V119M1122.5 115V119M1123.5 115V119M1124.5 116V119M1125.5 116V119M1126.5 116V119M1127.5 116V119M1128.5 116V119M1129.5 116V119M1130.5 116V119M1131.5 116V119M1132.5 116V118M1133.5 116V118M1134.5 116V118M1135.5 116V118M1136.5 117V118M1137.5 117V118M1138.5 117V118M1139.5 117V118M1140.5 116V118M1141.5 116V118M1142.5 116V118M1143.5 116V118M1144.5 116V118M1145.5 116V118M1146.5 116V118M1147.5 116V118M1148.5 116V118M1149.5 116V118M1150.5 116V118M1151.5 116V118M1152.5 117V120M1153.5 117V120M1154.5 117V120M1155.5 117V120M1156.5 116V120M1157.5 116V120M1158.5 116V120M1159.5 116V120M1160.5 115V118M1161.5 115V118M1162.5 115V118M1163.5 115V118M1164.5 116V119M1165.5 116V119M1166.5 116V119M1167.5 116V119M1168.5 117V119M1169.5 117V119M1170.5 117V119M1171.5 117V119M1172.5 116V118M1173.5 116V118M1174.5 116V118M1175.5 116V118M1176.5 116V119M1177.5 116V119M1178.5 116V119M1179.5 116V119M1180.5 116V119M1181.5 116V119M1182.5 116V119M1183.5 116V119M1184.5 116V119M1185.5 116V119M1186.5 116V119M1187.5 116V119M1188.5 116V119M1189.5 116V119M1190.5 116V119M1191.5 116V119M1192.5 116V120M1193.5 116V120M1194.5 116V120M1195.5 116V120M1196.5 116V119M1197.5 116V119M1198.5 116V119M1199.5 116V119M1200.5 117V119M1201.5 117V119M1202.5 117V119M1203.5 117V119M1204.5 116V119M1205.5 116V119M1206.5 116V119M1207.5 116V119M1208.5 116V119M1209.5 116V119M1210.5 116V119M1211.5 116V119M1212.5 116V119M1213.5 116V119M1214.5 116V119M1215.5 116V119M1216.5 116V120M1217.5 116V120M1218.5 116V120M1219.5 116V120M1220.5 117V119M1221.5 117V119M1222.5 117V119M1223.5 117V119M1224.5 116V119M1225.5 116V119M1226.5 116V119M1227.5 116V119M1228.5 116V119M1229.5 116V119M1230.5 116V119M1231.5 116V119M1232.5 116V119M1233.5 116V119M1234.5 116V119M1235.5 116V119M1236.5 116V119M1237.5 116V119M1238.5 116V119M1239.5 116V119M1240.5 116V119M1241.5 116V119M1242.5 116V119M1243.5 116V119M1244.5 116V118M1245.5 116V118M1246.5 116V118M1247.5 116V118M1248.5 116V119M1249.5 116V119M1250.5 116V119M1251.5 116V119M1252.5 116V119M1253.5 116V119M1254.5 116V119M1255.5 116V119M1256.5 117V119M1257.5 117V119M1258.5 117V119M1259.5 117V119M1260.5 116V119M1261.5 116V119M1262.5 116V119M1263.5 116V119M1264.5 116V119M1265.5 116V119M1266.5 116V119M1267.5 116V119M1268.5 117V119M1269.5 117V119M1270.5 117V119M1271.5 117V119M1272.5 115V120M1273.5 115V120M1274.5 115V120M1275.5 115V120M1276.5 116V119M1277.5 116V119M1278.5 116V119M1279.5 116V119M1280.5 117V118M1281.5 117V118M1282.5 117V118M1283.5 117V118M1284.5 116V120M1285.5 116V120M1286.5 116V120M1287.5 116V120M1288.5 116V118M1289.5 116V118M1290.5 116V118M1291.5 116V118M1292.5 115V119M1293.5 115V119M1294.5 115V119M1295.5 115V119M1296.5 117V119M1297.5 117V119M1298.5 117V119M1299.5 117V119M1300.5 115V118M1301.5 115V118M1302.5 115V118M1303.5 115V118M1304.5 116V119M1305.5 116V119M1306.5 116V119M1307.5 116V119M1308.5 116V118M1309.5 116V118M1310.5 116V118M1311.5 116V118M1312.5 115V119M1313.5 115V119M1314.5 115V119M1315.5 115V119M1316.5 116V119M1317.5 116V119M1318.5 116V119M1319.5 116V119M1320.5 116V118M1321.5 116V118M1322.5 116V118M1323.5 116V118M1324.5 116V119M1325.5 116V119M1326.5 116V119M1327.5 116V119M1328.5 116V119M1329.5 116V119M1330.5 116V119M1331.5 116V119M1332.5 116V118M1333.5 116V118M1334.5 116V118M1335.5 116V118M1336.5 116V120M1337.5 116V120M1338.5 116V120M1339.5 116V120M1340.5 116V119M1341.5 116V119M1342.5 116V119M1343.5 116V119M1344.5 117V118M1345.5 117V118M1346.5 117V118M1347.5 117V118M1348.5 117V119M1349.5 117V119M1350.5 117V119M1351.5 117V119M1352.5 117V119M1353.5 117V119M1354.5 117V119M1355.5 117V119M1356.5 117V119M1357.5 117V119M1358.5 117V119M1359.5 117V119M1360.5 116V119M1361.5 116V119M1362.5 116V119M1363.5 116V119M1364.5 116V119M1365.5 116V119M1366.5 116V119M1367.5 116V119M1368.5 116V119M1369.5 116V119M1370.5 116V119M1371.5 116V119M1372.5 116V120M1373.5 116V120M1374.5 116V120M1375.5 116V120M1376.5 116V119M1377.5 116V119M1378.5 116V119M1379.5 116V119M1380.5 116V119M1381.5 116V119M1382.5 116V119M1383.5 116V119M1384.5 116V120M1385.5 116V120M1386.5 116V120M1387.5 116V120M1388.5 116V119M1389.5 116V119M1390.5 116V119M1391.5 116V119M1392.5 117V119M1393.5 117V119M1394.5 117V119M1395.5 117V119M1396.5 116V120M1397.5 116V120M1398.5 116V120M1399.5 116V120M1400.5 116V119M1401.5 116V119M1402.5 116V119M1403.5 116V119M1404.5 116V119M1405.5 116V119M1406.5 116V119M1407.5 116V119M1408.5 116V119M1409.5 116V119M1410.5 116V119M1411.5 116V119M1412.5 115V119M1413.5 115V119M1414.5 115V119M1415.5 115V119M1416.5 116V118M1417.5 116V118M1418.5 116V118M1419.5 116V118M1420.5 117V119M1421.5 117V119M1422.5 117V119M1423.5 117V119M1424.5 115V120M1425.5 115V120M1426.5 115V120M1427.5 115V120M1428.5 116V120M1429.5 116V120M1430.5 116V120M1431.5 116V120M1432.5 116V118M1433.5 116V118M1434.5 116V118M1435.5 116V118M1436.5 116V120M1437.5 116V120M1438.5 116V120M1439.5 116V120M1440.5 116V119M1441.5 116V119M1442.5 116V119M1443.5 116V119M1444.5 116V120M1445.5 116V120M1446.5 116V120M1447.5 116V120M1448.5 116V120M1449.5 116V120M1450.5 116V120M1451.5 116V120M1452.5 116V119M1453.5 116V119M1454.5 116V119M1455.5 116V119M1456.5 116V118M1457.5 116V118M1458.5 116V118M1459.5 116V118M1460.5 117V119M1461.5 117V119M1462.5 117V119M1463.5 117V119M1464.5 115V118M1465.5 115V118M1466.5 115V118M1467.5 115V118M1468.5 116V119M1469.5 116V119M1470.5 116V119M1471.5 116V119" stroke="#00c800" fill="none"/>
<path d="M904.5 110V118M905.5 110V118M906.5 110V118M907.5 110V118M908.5 111V119M909.5 111V119M910.5 111V119M911.5 111V119M912.5 111V117M913.5 111V117M914.5 111V117M915.5 111V117M916.5 110V119M917.5 110V119M918.5 110V119M919.5 110V119M920.5 111V118M921.5 111V118M922.5 111V118M923.5 111V118M924.5 110V119M925.5 110V119M926.5 110V119M927.5 110V119M928.5 110V119M929.5 110V119M930.5 110V119M931.5 110V119M932.5 111V117M933.5 111V117M934.5 111V117M935.5 111V117M936.5 110V118M937.5 110V118M938.5 110V118M939.5 110V118M940.5 110V118M941.5 110V118M942.5 110V118M943.5 110V118M944.5 111V118M945.5 111V118M946.5 111V118M947.5 111V118M948.5 110V117M949.5 110V117M950.5 110V117M951.5 110V117M952.5 111V118M953.5 111V118M954.5 111V118M955.5 111V118M956.5 110V118M957.5 110V118M958.5 110V118M959.5 110V118M960.5 110V118M961.5 110V118M962.5 110V118M963.5 110V118M964.5 110V117M965.5 110V117M966.5 110V117M967.5 110V117M968.5 112V118M969.5 112V118M970.5 112V118M971.5 112V118M972.5 111V118M973.5 111V118M974.5 111V118M975.5 111V118M976.5 110V118M977.5 110V118M978.5 110V118M979.5 110V118M980.5 110V119M981.5 110V119M982.5 110V119M983.5 110V119M984.5 111V118M985.5 111V118M986.5 111V118M987.5 111V118M988.5 110V119M989.5 110V119M990.5 110V119M991.5 110V119M992.5 110V117M993.5 110V117M994.5 110V117M995.5 110V117M996.5 110V119M997.5 110V119M998.5 110V119M999.5 110V119M1000.5 111V117M1001.5 111V117M1002.5 111V117M1003.5 111V117M1004.5 111V119M1005.5 111V119M1006.5 111V119M1007.5 111V119M1008.5 111V118M1009.5 111V118M1010.5 111V118M1011.5 111V118M1012.5 112V117M1013.5 112V117M1014.5 112V117M1015.5 112V117M1016.5 111V118M1017.5 111V118M1018.5 111V118M1019.5 111V118M1020.5 110V119M1021.5 110V119M1022.5 110V119M1023.5 110V119M1024.5 110V117M1025.5 110V117M1026.5 110V117M1027.5 110V117M1028.5 111V118M1029.5 111V118M1030.5 111V118M1031.5 111V118M1032.5 111V118M1033.5 111V118M1034.5 111V118M1035.5 111V118M1036.5 110V118M1037.5 110V118M1038.5 110V118M1039.5 110V118M1040.5 111V119M1041.5 111V119M1042.5 111V119M1043.5 111V119M1044.5 111V118M1045.5 111V118M1046.5 111V118M1047.5 111V118M1048.5 110V117M1049.5 110V117M1050.5 110V117M1051.5 110V117M1052.5 110V117M1053.5 110V117M1054.5 110V117M1055.5 110V117M1056.5 110V119M1057.5 110V119M1058.5 110V119M1059.5 110V119M1060.5 111V118M1061.5 111V118M1062.5 111V118M1063.5 111V118M1064.5 111V117M1065.5 111V117M1066.5 111V117M1067.5 111V117M1068.5 111V118M1069.5 111V118M1070.5 111V118M1071.5 111V118M1072.5 110V118M1073.5 110V118M1074.5 110V118M1075.5 110V118M1076.5 110V117M1077.5 110V117M1078.5 110V117M1079.5 110V117M1080.5 110V119M1081.5 110V119M1082.5 110V119M1083.5 110V119M1084.5 110V118M1085.5 110V118" stroke="#3f60d0" fill="none"/>
<path d="M960 118h3v3h-3zM929 107h3v3h-3zM958 108h3v3h-3zM944 117h3v3h-3zM938 117h3v3h-3zM1027 107h3v3h-3zM1070 117h3v3h-3zM919 118h3v3h-3zM1014 110h3v3h-3zM956 117h3v3h-3zM912 118h3v3h-3zM967 117h3v3h-3zM1009 118h3v3h-3zM1039 118h3v3h-3zM1057 108h3v3h-3zM1073 108h3v3h-3zM968 109h3v3h-3zM1039 108h3v3h-3zM1002 109h3v3h-3zM1051 106h3v3h-3z" fill="#3f60d0"/>
<path d="M1086.5 112V115M1087.5 112V115M1088.5 112V115M1089.5 112V115M1090.5 112V116M1091.5 112V116M1092.5 112V116M1093.5 112V116M1094.5 112V116M1095.5 112V116M1096.5 112V116M1097.5 112V116M1098.5 112V116M1099.5 112V116M1100.5 112V116M1101.5 112V116M1102.5 113V116M1103.5 113V116M1104.5 113V116M1105.5 113V116M1106.5 113V116M1107.5 113V116M1108.5 113V116M1109.5 113V116M1110.5 113V116M1111.5 113V116M1112.5 113V116M1113.5 113V116M1114.5 113V116M1115.5 113V116M1116.5 113V116M1117.5 113V116M1118.5 113V116M1119.5 113V116M1120.5 113V116M1121.5 113V116M1122.5 112V116M1123.5 112V116M1124.5 112V116M1125.5 112V116M1126.5 113V116M1127.5 113V116M1128.5 113V116M1129.5 113V116M1130.5 112V115M1131.5 112V115M1132.5 112V115M1133.5 112V115M1134.5 113V116M1135.5 113V116M1136.5 113V116" stroke="#3f60d0" fill="none"/>
<path d="M1137.5 110V118M1138.5 110V118M1139.5 110V118M1140.5 110V118M1141.5 110V118M1142.5 110V118M1143.5 110V118M1144.5 110V118M1145.5 110V118M1146.5 110V118M1147.5 110V118M1148.5 110V118M1149.5 110V118M1150.5 110V118M1151.5 110V118M1152.5 110V118M1153.5 111V118M1154.5 111V118M1155.5 111V118M1156.5 111V118M1157.5 110V118M1158.5 110V118M1159.5 110V118M1160.5 110V118M1161.5 111V118M1162.5 111V118M1163.5 111V118M1164.5 111V118M1165.5 110V118M1166.5 110V118M1167.5 110V118M1168.5 110V118M1169.5 111V118M1170.5 111V118M1171.5 111V118M1172.5 111V118M1173.5 111V118M1174.5 111V118M1175.5 111V118M1176.5 111V118M1177.5 112V119M1178.5 112V119M1179.5 112V119M1180.5 112V119M1181.5 111V117M1182.5 111V117M1183.5 111V117M1184.5 111V117M1185.5 111V118M1186.5 111V118M1187.5 111V118M1188.5 111V118M1189.5 110V118M1190.5 110V118M1191.5 110V118M1192.5 110V118M1193.5 109V118M1194.5 109V118M1195.5 109V118M1196.5 109V118M1197.5 111V118M1198.5 111V118M1199.5 111V118M1200.5 111V118M1201.5 111V118M1202.5 111V118M1203.5 111V118M1204.5 111V118M1205.5 111V118M1206.5 111V118M1207.5 111V118M1208.5 111V118M1209.5 110V119M1210.5 110V119M1211.5 110V119M1212.5 110V119M1213.5 111V118M1214.5 111V118M1215.5 111V118M1216.5 111V118M1217.5 110V118M1218.5 110V118M1219.5 110V118M1220.5 110V118M1221.5 111V118M1222.5 111V118M1223.5 111V118M1224.5 111V118M1225.5 110V117M1226.5 110V117M1227.5 110V117M1228.5 110V117M1229.5 111V118M1230.5 111V118M1231.5 111V118M1232.5 111V118M1233.5 110V118M1234.5 110V118M1235.5 110V118M1236.5 110V118M1237.5 111V118M1238.5 111V118M1239.5 111V118M1240.5 111V118M1241.5 110V117M1242.5 110V117M1243.5 110V117M1244.5 110V117M1245.5 111V118M1246.5 111V118M1247.5 111V118M1248.5 111V118M1249.5 111V118M1250.5 111V118M1251.5 111V118M1252.5 111V118M1253.5 111V119M1254.5 111V119M1255.5 111V119M1256.5 111V119M1257.5 110V118M1258.5 110V118M1259.5 110V118M1260.5 110V118M1261.5 111V118M1262.5 111V118M1263.5 111V118M1264.5 111V118M1265.5 110V118M1266.5 110V118M1267.5 110V118M1268.5 110V118M1269.5 110V118M1270.5 110V118M1271.5 110V118M1272.5 110V118M1273.5 111V118M1274.5 111V118M1275.5 111V118M1276.5 111V118M1277.5 110V117M1278.5 110V117M1279.5 110V117M1280.5 110V117M1281.5 110V118M1282.5 110V118M1283.5 110V118M1284.5 110V118M1285.5 110V120M1286.5 110V120M1287.5 110V120M1288.5 110V120M1289.5 112V117M1290.5 112V117M1291.5 112V117M1292.5 112V117M1293.5 110V118M1294.5 110V118M1295.5 110V118M1296.5 110V118M1297.5 111V118M1298.5 111V118M1299.5 111V118M1300.5 111V118M1301.5 110V118M1302.5 110V118M1303.5 110V118M1304.5 110V118M1305.5 111V117M1306.5 111V117M1307.5 111V117M1308.5 111V117M1309.5 110V118M1310.5 110V118M1311.5 110V118M1312.5 110V118M1313.5 110V118M1314.5 110V118M1315.5 110V118M1316.5 110V118M1317.5 110V118M1318.5 110V118M1319.5 110V118M1320.5 110V118M1321.5 111V119M1322.5 111V119M1323.5 111V119M1324.5 111V119M1325.5 110V118M1326.5 110V118M1327.5 110V118M1328.5 110V118M1329.5 110V117M1330.5 110V117M1331.5 110V117M1332.5 110V117M1333.5 111V119M1334.5 111V119M1335.5 111V119M1336.5 111V119M1337.5 110V118M1338.5 110V118M1339.5 110V118M1340.5 110V118M1341.5 111V118M1342.5 111V118M1343.5 111V118M1344.5 111V118M1345.5 110V118M1346.5 110V118M1347.5 110V118M1348.5 110V118M1349.5 110V118M1350.5 110V118M1351.5 110V118M1352.5 110V118M1353.5 110V119M1354.5 110V119M1355.5 110V119M1356.5 110V119M1357.5 111V118M1358.5 111V118M1359.5 111V118M1360.5 111V118M1361.5 111V117M1362.5 111V117M1363.5 111V117M1364.5 111V117M1365.5 111V118M1366.5 111V118M1367.5 111V118M1368.5 111V118M1369.5 111V117M1370.5 111V117M1371.5 111V117M1372.5 111V117M1373.5 111V118M1374.5 111V118M1375.5 111V118M1376.5 111V118M1377.5 110V119M1378.5 110V119M1379.5 110V119M1380.5 110V119M1381.5 110V119M1382.5 110V119M1383.5 110V119M1384.5 110V119M1385.5 110V117M1386.5 110V117M1387.5 110V117M1388.5 110V117M1389.5 110V119M1390.5 110V119M1391.5 110V119M1392.5 110V119M1393.5 110V118M1394.5 110V118M1395.5 110V118M1396.5 110V118M1397.5 111V117M1398.5 111V117M1399.5 111V117M1400.5 111V117M1401.5 111V117M1402.5 111V117M1403.5 111V117M1404.5 111V117M1405.5 110V119M1406.5 110V119M1407.5 110V119M1408.5 110V119M1409.5 110V118M1410.5 110V118M1411.5 110V118M1412.5 110V118M1413.5 110V119M1414.5 110V119M1415.5 110V119M1416.5 110V119M1417.5 110V118M1418.5 110V118M1419.5 110V118M1420.5 110V118M1421.5 110V118M1422.5 110V118M1423.5 110V118M1424.5 110V118M1425.5 111V118M1426.5 111V118M1427.5 111V118M1428.5 111V118M1429.5 110V118M1430.5 110V118M1431.5 110V118M1432.5 110V118M1433.5 110V118M1434.5 110V118M1435.5 110V118M1436.5 110V118M1437.5 109V119M1438.5 109V119M1439.5 109V119M1440.5 109V119M1441.5 111V118M1442.5 111V118M1443.5 111V118M1444.5 111V118M1445.5 110V119M1446.5 110V119M1447.5 110V119M1448.5 110V119M1449.5 110V119M1450.5 110V119M1451.5 110V119M1452.5 110V119M1453.5 109V119M1454.5 109V119M1455.5 109V119M1456.5 109V119M1457.5 111V119M1458.5 111V119M1459.5 111V119M1460.5 111V119M1461.5 111V118M1462.5 111V118M1463.5 111V118M1464.5 111V118M1465.5 112V118M1466.5 112V118M1467.5 112V118M1468.5 112V118M1469.5 112V119M1470.5 112V119M1471.5 112V119" stroke="#3f60d0" fill="none"/>
<path d="M1179 118h3v3h-3zM1241 108h3v3h-3zM1331 116h3v3h-3zM1320 118h3v3h-3zM1308 109h3v3h-3zM1179 118h3v3h-3zM1459 118h3v3h-3zM1380 107h3v3h-3zM1337 117h3v3h-3zM1345 108h3v3h-3zM1196 117h3v3h-3zM1266 118h3v3h-3zM1161 109h3v3h-3zM1323 119h3v3h-3zM1314 118h3v3h-3zM1309 117h3v3h-3zM1364 108h3v3h-3zM1424 117h3v3h-3zM1209 108h3v3h-3zM1375 118h3v3h-3zM1192 117h3v3h-3zM1347 108h3v3h-3zM1244 117h3v3h-3zM1261 108h3v3h-3zM1165 118h3v3h-3zM1463 108h3v3h-3zM1467 117h3v3h-3zM1381 118h3v3h-3zM1208 108h3v3h-3zM1216 109h3v3h-3z" fill="#3f60d0"/>
<path d="M1244 152h3v3h-3zM1149 152h3v3h-3zM1468 152h3v3h-3zM1034 152h3v3h-3zM1275 152h3v3h-3zM1415 152h3v3h-3zM1130 152h3v3h-3zM1316 152h3v3h-3zM1102 152h3v3h-3zM1426 152h3v3h-3zM1221 152h3v3h-3zM937 152h3v3h-3zM1052 152h3v3h-3zM1183 152h3v3h-3zM1228 152h3v3h-3zM1075 152h3v3h-3zM1417 152h3v3h-3zM1386 152h3v3h-3zM1415 152h3v3h-3zM1431 152h3v3h-3zM1397 152h3v3h-3zM919 152h3v3h-3zM1460 152h3v3h-3zM1021 152h3v3h-3zM1271 152h3v3h-3zM947 152h3v3h-3zM1210 152h3v3h-3zM1262 152h3v3h-3zM946 152h3v3h-3zM1123 152h3v3h-3zM1332 152h3v3h-3zM1392 152h3v3h-3zM1382 152h3v3h-3zM1102 152h3v3h-3zM1212 152h3v3h-3zM1394 152h3v3h-3zM1188 152h3v3h-3zM1325 152h3v3h-3zM1130 152h3v3h-3zM1370 152h3v3h-3z" fill="#3f60d0"/>
<path d="M904.5 189V206M905.5 189V206M906.5 189V206M907.5 189V206M908.5 194V205M909.5 194V205M910.5 194V205M911.5 194V205M912.5 190V208M913.5 190V208M914.5 190V208M915.5 190V208M916.5 191V205M917.5 191V205M918.5 191V205M919.5 191V205M920.5 189V208M921.5 189V208M922.5 189V208M923.5 189V208M924.5 188V206M925.5 188V206M926.5 188V206M927.5 188V206M928.5 189V207M929.5 189V207M930.5 189V207M931.5 189V207M932.5 189V205M933.5 189V205M934.5 189V205M935.5 189V205M936.5 188V207M937.5 188V207M938.5 188V207M939.5 188V207M940.5 187V206M941.5 187V206M942.5 187V206M943.5 187V206M944.5 191V206M945.5 191V206M946.5 191V206M947.5 191V206M948.5 188V208M949.5 188V208M950.5 188V208M951.5 188V208M952.5 191V205M953.5 191V205M954.5 191V205M955.5 191V205M956.5 185V206M957.5 185V206M958.5 185V206M959.5 185V206M960.5 190V203M961.5 190V203M962.5 190V203M963.5 190V203M964.5 191V204M965.5 191V204M966.5 191V204M967.5 191V204M968.5 189V206M969.5 189V206M970.5 189V206M971.5 189V206M972.5 192V205M973.5 192V205M974.5 192V205M975.5 192V205M976.5 190V206M977.5 190V206M978.5 190V206M979.5 190V206M980.5 190V206M981.5 190V206M982.5 190V206M983.5 190V206M984.5 189V205M985.5 189V205M986.5 189V205M987.5 189V205M988.5 190V206M989.5 190V206M990.5 190V206M991.5 190V206M992.5 187V206M993.5 187V206M994.5 187V206M995.5 188V206M996.5 192V206M997.5 192V206M998.5 192V206M999.5 192V206M1000.5 190V207M1001.5 190V207M1002.5 190V207M1003.5 190V207M1004.5 191V205M1005.5 191V205M1006.5 191V205M1007.5 191V205M1008.5 193V208M1009.5 193V208M1010.5 193V208M1011.5 193V208M1012.5 189V205M1013.5 189V205M1014.5 189V205M1015.5 189V205M1016.5 187V205M1017.5 187V205M1018.5 187V205M1019.5 187V205M1020.5 190V203M1021.5 190V203M1022.5 190V203M1023.5 190V203M1024.5 192V207M1025.5 192V207M1026.5 192V207M1027.5 192V207M1028.5 189V208M1029.5 189V208M1030.5 189V208M1031.5 189V208M1032.5 191V205M1033.5 191V205M1034.5 191V205M1035.5 191V205M1036.5 192V206M1037.5 192V206M1038.5 192V206M1039.5 192V206M1040.5 192V206M1041.5 192V206M1042.5 192V206M1043.5 192V206M1044.5 189V204M1045.5 189V204M1046.5 189V204M1047.5 189V204M1048.5 190V206M1049.5 190V206M1050.5 190V206M1051.5 190V206M1052.5 191V207M1053.5 191V207M1054.5 191V207M1055.5 191V207M1056.5 188V206M1057.5 188V206M1058.5 188V206M1059.5 188V206M1060.5 190V207M1061.5 190V207M1062.5 190V207M1063.5 190V207M1064.5 189V205M1065.5 189V205M1066.5 189V205M1067.5 189V205M1068.5 191V203M1069.5 191V203M1070.5 191V203M1071.5 191V203M1072.5 189V207M1073.5 189V207M1074.5 189V207M1075.5 189V207M1076.5 188V206M1077.5 188V206M1078.5 188V206M1079.5 188V206M1080.5 189V207M1081.5 189V207M1082.5 189V207M1083.5 189V207M1084.5 188V208M1085.5 188V208M1086.5 188V208M1087.5 188V208" stroke="#a020f0" fill="none"/>
<path d="M954 187h3v3h-3zM1036 189h3v3h-3zM1003 188h3v3h-3zM1076 186h3v3h-3zM962 187h3v3h-3zM933 185h3v3h-3zM1020 187h3v3h-3zM950 183h3v3h-3zM968 187h3v3h-3zM947 187h3v3h-3zM1072 186h3v3h-3zM998 189h3v3h-3z" fill="#a020f0"/>
<path d="M1088.5 202V207M1089.5 202V207M1090.5 202V207M1091.5 202V207M1092.5 202V206M1093.5 202V206M1094.5 202V206M1095.5 202V206M1096.5 202V206M1097.5 202V206M1098.5 202V206M1099.5 202V206M1100.5 202V206M1101.5 202V206M1102.5 202V206M1103.5 202V206M1104.5 202V206M1105.5 202V206M1106.5 202V206M1107.5 202V206M1108.5 202V206M1109.5 202V206M1110.5 202V206M1111.5 202V206M1112.5 202V206M1113.5 202V206M1114.5 202V206M1115.5 202V206M1116.5 202V206M1117.5 202V206M1118.5 202V206M1119.5 202V206M1120.5 202V206M1121.5 202V206M1122.5 202V206M1123.5 202V206M1124.5 202V206M1125.5 202V206M1126.5 202V206M1127.5 202V206M1128.5 202V206M1129.5 202V206M1130.5 202V206M1131.5 202V206M1132.5 202V206M1133.5 202V206M1134.5 202V206M1135.5 202V206M1136.5 202V206M1137.5 202V206M1138.5 202V206M1139.5 202V206M1140.5 202V206" stroke="#a020f0" fill="none"/>
<path d="M1141.5 195V207M1142.5 195V207M1143.5 196V206M1144.5 197V206M1145.5 197V204" stroke="#a020f0" fill="none"/>
<path d="M1146.5 186V192M1147.5 186V192M1148.5 186V192M1149.5 186V192M1150.5 186V192M1151.5 186V192M1152.5 186V192M1153.5 186V192M1154.5 186V194M1155.5 186V194M1156.5 187V194M1157.5 187V194M1158.5 187V193M1159.5 187V193M1160.5 187V193M1161.5 187V193M1162.5 187V190M1163.5 187V190M1164.5 187V190" stroke="#a020f0" fill="none"/>
<path d="M1160 196h3v3h-3zM1149 191h3v3h-3zM1149 191h3v3h-3zM1163 194h3v3h-3zM1164 181h3v3h-3zM1151 192h3v3h-3z" fill="#a020f0"/>
<path d="M1162.5 166V168M1163.5 167V170M1164.5 167V171M1165.5 168V172M1166.5 167V175M1167.5 168V176M1168.5 169V178M1169.5 169V179M1170.5 171V182M1171.5 172V183M1172.5 173V184M1173.5 173V185M1174.5 172V186M1175.5 172V187M1176.5 173V187M1177.5 174V188M1178.5 172V189M1179.5 172V190M1180.5 173V191M1181.5 173V192M1182.5 174V190M1183.5 174V191M1184.5 175V192M1185.5 176V192M1186.5 178V196M1187.5 178V197M1188.5 178V197M1189.5 179V198M1190.5 179V199M1191.5 179V199M1192.5 180V200M1193.5 180V200M1194.5 178V196M1195.5 179V197M1196.5 179V198M1197.5 179V198M1198.5 183V202M1199.5 183V203" stroke="#a020f0" fill="none"/>
<path d="M1164 175h3v3h-3zM1163 159h3v3h-3zM1171 185h3v3h-3zM1183 190h3v3h-3zM1169 179h3v3h-3zM1194 175h3v3h-3zM1182 169h3v3h-3zM1187 197h3v3h-3zM1190 199h3v3h-3zM1164 164h3v3h-3zM1174 166h3v3h-3zM1181 192h3v3h-3zM1172 187h3v3h-3zM1186 196h3v3h-3zM1165 175h3v3h-3z" fill="#a020f0"/>
<path d="M1180.5 176V197M1181.5 176V197M1182.5 177V198M1183.5 177V198M1184.5 179V201M1185.5 179V202M1186.5 179V202M1187.5 179V202M1188.5 178V203M1189.5 178V203M1190.5 178V203M1191.5 178V203M1192.5 181V204M1193.5 182V205M1194.5 182V205M1195.5 182V205M1196.5 179V205M1197.5 179V206M1198.5 179V206M1199.5 179V206M1200.5 178V208M1201.5 178V208M1202.5 178V208M1203.5 178V208M1204.5 178V205M1205.5 178V205M1206.5 178V205M1207.5 179V205M1208.5 179V205M1209.5 179V205M1210.5 179V205M1211.5 180V205M1212.5 182V207M1213.5 183V207M1214.5 183V207M1215.5 183V207M1216.5 181V204M1217.5 181V204M1218.5 181V204M1219.5 181V204M1220.5 183V206M1221.5 183V206M1222.5 183V206M1223.5 183V206M1224.5 185V206M1225.5 185V206M1226.5 186V206M1227.5 186V206M1228.5 185V204M1229.5 185V204M1230.5 185V204M1231.5 185V204M1232.5 186V207M1233.5 187V207M1234.5 187V207M1235.5 187V207M1236.5 183V206M1237.5 183V206M1238.5 183V206M1239.5 183V206M1240.5 184V206M1241.5 184V206M1242.5 184V206M1243.5 184V206M1244.5 186V205M1245.5 186V205M1246.5 186V205M1247.5 187V205M1248.5 186V207M1249.5 186V207M1250.5 186V207M1251.5 186V207M1252.5 184V207M1253.5 184V207M1254.5 184V207M1255.5 184V207M1256.5 186V209M1257.5 187V209M1258.5 187V209M1259.5 187V209M1260.5 186V207M1261.5 186V207M1262.5 186V207M1263.5 187V207M1264.5 186V206M1265.5 186V206M1266.5 186V206M1267.5 186V206M1268.5 187V206M1269.5 187V206M1270.5 187V206M1271.5 187V206M1272.5 189V207M1273.5 189V207M1274.5 189V207M1275.5 189V207M1276.5 188V207M1277.5 188V207M1278.5 188V207M1279.5 188V207M1280.5 188V208M1281.5 188V208M1282.5 188V208M1283.5 188V208M1284.5 192V208M1285.5 192V208M1286.5 192V208M1287.5 192V208M1288.5 189V205M1289.5 189V205M1290.5 189V205M1291.5 189V205M1292.5 187V205M1293.5 188V205M1294.5 188V205M1295.5 188V205M1296.5 189V208M1297.5 190V208M1298.5 190V208M1299.5 190V208M1300.5 189V205M1301.5 189V205M1302.5 189V205M1303.5 189V205M1304.5 190V205M1305.5 190V205M1306.5 190V205M1307.5 190V205M1308.5 191V207M1309.5 190V207M1310.5 190V207M1311.5 190V207M1312.5 188V206M1313.5 188V206M1314.5 188V206M1315.5 188V206M1316.5 189V207M1317.5 189V207M1318.5 189V207M1319.5 189V207M1320.5 187V206M1321.5 187V206M1322.5 187V206M1323.5 187V206M1324.5 188V206M1325.5 188V206M1326.5 188V206M1327.5 188V206M1328.5 188V206M1329.5 188V206M1330.5 188V206M1331.5 188V206M1332.5 191V205M1333.5 191V205M1334.5 191V205M1335.5 191V205M1336.5 189V205M1337.5 189V205M1338.5 189V205M1339.5 189V205M1340.5 187V208M1341.5 187V208M1342.5 187V208M1343.5 187V208M1344.5 190V206M1345.5 189V206M1346.5 189V206M1347.5 189V206M1348.5 194V207M1349.5 194V207M1350.5 194V207M1351.5 193V207M1352.5 186V205M1353.5 186V205M1354.5 186V205M1355.5 185V205M1356.5 185V206M1357.5 183V206M1358.5 181V206M1359.5 179V206M1360.5 179V204M1361.5 181V204M1362.5 182V204M1363.5 183V204M1364.5 183V206M1365.5 185V206M1366.5 186V206M1367.5 186V206M1368.5 187V204M1369.5 187V204M1370.5 187V204M1371.5 187V204M1372.5 185V205M1373.5 185V205M1374.5 185V205M1375.5 185V205M1376.5 185V204M1377.5 185V204M1378.5 185V204M1379.5 185V204M1380.5 188V206M1381.5 188V206M1382.5 188V206M1383.5 189V206M1384.5 188V203M1385.5 188V203M1386.5 188V203M1387.5 188V203M1388.5 186V207M1389.5 186V207M1390.5 186V207M1391.5 186V207M1392.5 189V205M1393.5 189V205M1394.5 189V205M1395.5 189V205M1396.5 187V208M1397.5 188V208M1398.5 188V208M1399.5 188V208M1400.5 188V206M1401.5 188V206M1402.5 188V206M1403.5 188V206M1404.5 188V206M1405.5 188V206M1406.5 188V206M1407.5 188V206M1408.5 189V206M1409.5 189V206M1410.5 189V206M1411.5 189V206M1412.5 188V210M1413.5 188V210M1414.5 188V210M1415.5 188V210M1416.5 187V206M1417.5 187V206M1418.5 187V206M1419.5 188V206M1420.5 188V205M1421.5 188V205M1422.5 188V205M1423.5 188V205M1424.5 189V206M1425.5 189V206M1426.5 189V206M1427.5 189V206M1428.5 188V204M1429.5 188V204M1430.5 188V204M1431.5 188V204M1432.5 190V206M1433.5 190V206M1434.5 190V206M1435.5 190V206M1436.5 190V206M1437.5 190V206M1438.5 190V206M1439.5 190V206M1440.5 191V208M1441.5 191V208M1442.5 191V208M1443.5 191V208M1444.5 188V205M1445.5 188V205M1446.5 188V205M1447.5 188V205M1448.5 193V206M1449.5 193V206M1450.5 193V206" stroke="#a020f0" fill="none"/>
<path d="M1207 176h3v3h-3zM1246 184h3v3h-3zM1404 184h3v3h-3zM1282 186h3v3h-3zM1324 185h3v3h-3zM1215 178h3v3h-3zM1377 183h3v3h-3zM1415 183h3v3h-3zM1180 173h3v3h-3zM1261 183h3v3h-3zM1263 183h3v3h-3zM1391 182h3v3h-3zM1189 175h3v3h-3zM1413 186h3v3h-3zM1335 187h3v3h-3z" fill="#a020f0"/>
<path d="M1451.5 202V206M1452.5 202V206M1453.5 202V206M1454.5 202V206M1455.5 202V206M1456.5 202V206M1457.5 202V206M1458.5 202V206M1459.5 202V206M1460.5 202V206M1461.5 202V206M1462.5 202V206M1463.5 202V206M1464.5 202V206" stroke="#a020f0" fill="none"/>
<path d="M1462.5 185V192M1463.5 184V192M1464.5 184V192M1465.5 184V192M1466.5 181V193M1467.5 180V193M1468.5 180V193M1469.5 180V193" stroke="#a020f0" fill="none"/>
<path d="M1469.5 158V174M1470.5 158V174M1471.5 158V174" stroke="#a020f0" fill="none"/>
<path d="M904.5 246V257M905.5 246V257M906.5 246V257M907.5 246V257M908.5 246V257M909.5 246V257M910.5 246V257M911.5 246V257M912.5 248V257M913.5 248V257M914.5 248V257M915.5 248V257M916.5 244V257M917.5 244V257M918.5 244V257M919.5 244V257M920.5 247V257M921.5 247V257M922.5 247V257M923.5 247V257M924.5 246V257M925.5 246V257M926.5 246V257M927.5 246V257M928.5 245V257M929.5 245V257M930.5 245V257M931.5 245V257M932.5 246V257M933.5 246V257M934.5 246V257M935.5 246V257M936.5 245V257M937.5 245V257M938.5 245V257M939.5 245V257M940.5 246V257M941.5 246V257M942.5 246V257M943.5 246V257M944.5 243V257M945.5 243V257M946.5 243V257M947.5 243V257M948.5 247V257M949.5 247V257M950.5 247V257M951.5 247V257M952.5 246V257M953.5 246V257M954.5 246V257M955.5 246V257M956.5 246V257M957.5 246V257M958.5 246V257M959.5 246V257M960.5 246V257M961.5 246V257M962.5 246V257M963.5 246V257M964.5 246V257M965.5 246V257M966.5 246V257M967.5 246V257M968.5 246V257M969.5 246V257M970.5 246V257M971.5 246V257M972.5 246V257M973.5 246V257M974.5 246V257M975.5 246V257M976.5 247V257M977.5 247V257M978.5 247V257M979.5 247V257M980.5 246V257M981.5 246V257M982.5 246V257M983.5 246V257M984.5 248V257M985.5 248V257M986.5 248V257M987.5 248V257M988.5 248V257M989.5 248V257M990.5 248V257M991.5 248V257M992.5 248V257M993.5 248V257M994.5 248V257M995.5 248V257M996.5 247V257M997.5 247V257M998.5 247V257M999.5 247V257M1000.5 247V257M1001.5 247V257M1002.5 247V257M1003.5 247V257M1004.5 246V257M1005.5 246V257M1006.5 246V257M1007.5 246V257M1008.5 247V257M1009.5 247V257M1010.5 247V257M1011.5 247V257M1012.5 246V257M1013.5 246V257M1014.5 246V257M1015.5 246V257M1016.5 247V257M1017.5 247V257M1018.5 247V257M1019.5 247V257M1020.5 247V257M1021.5 247V257M1022.5 247V257M1023.5 247V257M1024.5 246V257M1025.5 246V257M1026.5 246V257M1027.5 246V257M1028.5 246V257M1029.5 246V257M1030.5 246V257M1031.5 246V257M1032.5 247V257M1033.5 247V257M1034.5 247V257M1035.5 247V257M1036.5 249V257M1037.5 249V257M1038.5 249V257M1039.5 249V257M1040.5 247V257M1041.5 247V257M1042.5 247V257M1043.5 247V257M1044.5 250V257M1045.5 250V257M1046.5 250V257M1047.5 250V257M1048.5 248V257M1049.5 248V257M1050.5 248V257M1051.5 248V257M1052.5 248V257M1053.5 248V257M1054.5 248V257M1055.5 248V257M1056.5 248V257M1057.5 248V257M1058.5 248V257M1059.5 248V257M1060.5 250V257M1061.5 250V257M1062.5 250V257M1063.5 250V257M1064.5 247V257M1065.5 247V257M1066.5 247V257M1067.5 247V257M1068.5 247V257M1069.5 247V257M1070.5 247V257M1071.5 247V257M1072.5 247V257M1073.5 247V257M1074.5 247V257M1075.5 247V257M1076.5 246V257M1077.5 246V257M1078.5 246V257M1079.5 246V257M1080.5 247V257M1081.5 247V257M1082.5 247V257M1083.5 247V257M1084.5 246V257M1085.5 246V257M1086.5 246V257M1087.5 246V257" stroke="#00b0ee" fill="none"/>
<path d="M974 244h3v3h-3zM948 243h3v3h-3zM1032 243h3v3h-3zM982 240h3v3h-3zM1031 243h3v3h-3zM928 242h3v3h-3z" fill="#00b0ee"/>
<path d="M1088.5 254V257M1089.5 254V257M1090.5 254V257M1091.5 254V257M1092.5 254V257M1093.5 254V257M1094.5 254V257M1095.5 254V257M1096.5 254V257M1097.5 254V257M1098.5 254V257M1099.5 254V257M1100.5 254V257M1101.5 254V257M1102.5 254V257M1103.5 254V257M1104.5 254V257M1105.5 254V257M1106.5 254V257M1107.5 254V257M1108.5 254V257M1109.5 254V257M1110.5 254V257M1111.5 254V257M1112.5 254V257M1113.5 254V257M1114.5 254V257M1115.5 254V257M1116.5 254V257M1117.5 254V257M1118.5 254V257M1119.5 254V257M1120.5 254V257M1121.5 254V257M1122.5 254V257M1123.5 254V257M1124.5 254V257M1125.5 254V257M1126.5 254V257M1127.5 254V257M1128.5 254V257M1129.5 254V257M1130.5 254V257M1131.5 254V257M1132.5 254V257M1133.5 254V257M1134.5 254V257M1135.5 254V257M1136.5 254V257M1137.5 254V257M1138.5 254V257M1139.5 254V257" stroke="#00b0ee" fill="none"/>
<path d="M1138.5 242V256M1139.5 241V256M1140.5 241V256M1141.5 241V256M1142.5 240V254M1143.5 240V254M1144.5 239V254M1145.5 239V254M1146.5 240V257M1147.5 239V257" stroke="#00b0ee" fill="none"/>
<path d="M1146.5 226V235M1147.5 226V235M1148.5 226V235M1149.5 227V235M1150.5 225V233M1151.5 225V233M1152.5 225V234M1153.5 226V234M1154.5 223V233M1155.5 223V234M1156.5 223V234M1157.5 223V234M1158.5 226V238M1159.5 226V238M1160.5 227V238M1161.5 227V239M1162.5 227V236M1163.5 227V237M1164.5 227V237M1165.5 228V238M1166.5 228V236M1167.5 228V237M1168.5 229V237M1169.5 229V238M1170.5 231V239M1171.5 231V240M1172.5 232V240M1173.5 232V241M1174.5 233V240M1175.5 233V241M1176.5 234V241M1177.5 234V242M1178.5 234V245M1179.5 234V245M1180.5 235V246M1181.5 235V246M1182.5 235V246M1183.5 236V246M1184.5 236V247M1185.5 237V247M1186.5 237V250M1187.5 237V250M1188.5 238V251M1189.5 238V251M1190.5 239V252M1191.5 240V252M1192.5 240V252M1193.5 241V252M1194.5 242V250M1195.5 242V251M1196.5 243V251M1197.5 243V251M1198.5 243V253M1199.5 243V253" stroke="#00b0ee" fill="none"/>
<path d="M1164 238h3v3h-3zM1194 256h3v3h-3zM1184 250h3v3h-3zM1163 237h3v3h-3zM1148 237h3v3h-3zM1151 218h3v3h-3zM1159 242h3v3h-3zM1152 234h3v3h-3zM1166 226h3v3h-3zM1168 223h3v3h-3zM1174 240h3v3h-3zM1183 230h3v3h-3zM1148 222h3v3h-3zM1166 242h3v3h-3zM1192 251h3v3h-3zM1161 242h3v3h-3zM1184 231h3v3h-3zM1187 232h3v3h-3zM1159 242h3v3h-3zM1154 221h3v3h-3z" fill="#00b0ee"/>
<path d="M1148.5 254V257M1149.5 254V257M1150.5 254V257M1151.5 254V257M1152.5 254V257M1153.5 254V257M1154.5 254V257M1155.5 254V257M1156.5 254V257M1157.5 254V257M1158.5 254V257M1159.5 254V257M1160.5 254V257M1161.5 254V257M1162.5 254V257M1163.5 254V257M1164.5 254V257M1165.5 254V257M1166.5 254V257M1167.5 254V257M1168.5 254V257M1169.5 254V257M1170.5 254V257M1171.5 254V257M1172.5 254V257M1173.5 254V257M1174.5 254V257M1175.5 254V257M1176.5 254V257M1177.5 254V257M1178.5 254V257M1179.5 254V257M1180.5 254V257M1181.5 254V257M1182.5 254V257M1183.5 254V257M1184.5 254V257M1185.5 254V257M1186.5 254V257M1187.5 254V257M1188.5 254V257M1189.5 254V257M1190.5 254V257M1191.5 254V257M1192.5 254V257M1193.5 254V257M1194.5 254V257M1195.5 254V257M1196.5 254V257M1197.5 254V257M1198.5 254V257M1199.5 254V257" stroke="#00b0ee" fill="none"/>
<path d="M1180.5 241V257M1181.5 241V257M1182.5 241V257M1183.5 241V257M1184.5 240V257M1185.5 240V257M1186.5 240V257M1187.5 240V257M1188.5 244V257M1189.5 244V257M1190.5 244V257M1191.5 244V257M1192.5 242V257M1193.5 242V257M1194.5 242V257M1195.5 243V257M1196.5 243V257M1197.5 243V257M1198.5 243V257M1199.5 244V257M1200.5 243V257M1201.5 243V257M1202.5 243V257M1203.5 243V257M1204.5 246V257M1205.5 246V257M1206.5 246V257M1207.5 246V257M1208.5 246V257M1209.5 246V257M1210.5 246V257M1211.5 246V257M1212.5 246V257M1213.5 246V257M1214.5 246V257M1215.5 246V257M1216.5 245V257M1217.5 245V257M1218.5 245V257M1219.5 245V257M1220.5 246V257M1221.5 246V257M1222.5 246V257M1223.5 246V257M1224.5 245V257M1225.5 245V257M1226.5 245V257M1227.5 245V257M1228.5 246V257M1229.5 246V257M1230.5 246V257M1231.5 246V257M1232.5 246V257M1233.5 246V257M1234.5 246V257M1235.5 246V257M1236.5 244V257M1237.5 244V257M1238.5 244V257M1239.5 245V257M1240.5 245V257M1241.5 245V257M1242.5 245V257M1243.5 245V257M1244.5 243V257M1245.5 244V257M1246.5 244V257M1247.5 244V257M1248.5 246V257M1249.5 246V257M1250.5 246V257M1251.5 246V257M1252.5 248V257M1253.5 248V257M1254.5 248V257M1255.5 248V257M1256.5 247V257M1257.5 247V257M1258.5 247V257M1259.5 247V257M1260.5 245V257M1261.5 245V257M1262.5 245V257M1263.5 245V257M1264.5 242V257M1265.5 242V257M1266.5 242V257M1267.5 242V257M1268.5 244V257M1269.5 244V257M1270.5 244V257M1271.5 244V257M1272.5 246V257M1273.5 246V257M1274.5 246V257M1275.5 246V257M1276.5 246V257M1277.5 246V257M1278.5 246V257M1279.5 246V257M1280.5 245V257M1281.5 245V257M1282.5 245V257M1283.5 245V257M1284.5 246V257M1285.5 246V257M1286.5 246V257M1287.5 246V257M1288.5 245V257M1289.5 245V257M1290.5 245V257M1291.5 245V257M1292.5 246V257M1293.5 246V257M1294.5 246V257M1295.5 246V257M1296.5 244V257M1297.5 244V257M1298.5 244V257M1299.5 244V257M1300.5 246V257M1301.5 246V257M1302.5 246V257M1303.5 246V257M1304.5 245V257M1305.5 245V257M1306.5 245V257M1307.5 245V257M1308.5 247V257M1309.5 247V257M1310.5 247V257M1311.5 247V257M1312.5 245V257M1313.5 245V257M1314.5 245V257M1315.5 245V257M1316.5 246V257M1317.5 246V257M1318.5 246V257M1319.5 246V257M1320.5 246V257M1321.5 246V257M1322.5 246V257M1323.5 245V257M1324.5 246V257M1325.5 246V257M1326.5 246V257M1327.5 246V257M1328.5 246V257M1329.5 246V257M1330.5 246V257M1331.5 246V257M1332.5 246V257M1333.5 246V257M1334.5 246V257M1335.5 246V257M1336.5 245V257M1337.5 245V257M1338.5 245V257M1339.5 245V257M1340.5 245V257M1341.5 245V257M1342.5 245V257M1343.5 245V257M1344.5 245V257M1345.5 245V257M1346.5 245V257M1347.5 245V257M1348.5 245V257M1349.5 245V257M1350.5 245V257M1351.5 245V257M1352.5 244V257M1353.5 244V257M1354.5 244V257M1355.5 244V257M1356.5 245V257M1357.5 245V257M1358.5 245V257M1359.5 245V257M1360.5 246V257M1361.5 246V257M1362.5 246V257M1363.5 246V257M1364.5 247V257M1365.5 247V257M1366.5 247V257M1367.5 247V257M1368.5 244V257M1369.5 244V257M1370.5 244V257M1371.5 244V257M1372.5 244V257M1373.5 244V257M1374.5 244V257M1375.5 244V257M1376.5 245V257M1377.5 245V257M1378.5 245V257M1379.5 245V257M1380.5 245V257M1381.5 245V257M1382.5 245V257M1383.5 245V257M1384.5 245V257M1385.5 245V257M1386.5 245V257M1387.5 245V257M1388.5 247V257M1389.5 247V257M1390.5 247V257M1391.5 247V257M1392.5 245V257M1393.5 245V257M1394.5 245V257M1395.5 245V257M1396.5 246V257M1397.5 246V257M1398.5 246V257M1399.5 246V257M1400.5 247V257M1401.5 247V257M1402.5 247V257M1403.5 247V257M1404.5 247V257M1405.5 247V257M1406.5 247V257M1407.5 247V257M1408.5 246V257M1409.5 246V257M1410.5 246V257M1411.5 246V257M1412.5 247V257M1413.5 247V257M1414.5 247V257M1415.5 247V257M1416.5 249V257M1417.5 249V257M1418.5 249V257M1419.5 249V257M1420.5 245V257M1421.5 245V257M1422.5 245V257M1423.5 245V257M1424.5 245V257M1425.5 245V257M1426.5 245V257M1427.5 245V257M1428.5 246V257M1429.5 246V257M1430.5 246V257M1431.5 246V257M1432.5 246V257M1433.5 246V257M1434.5 246V257M1435.5 246V257M1436.5 246V257M1437.5 246V257M1438.5 246V257M1439.5 246V257M1440.5 247V257M1441.5 247V257M1442.5 247V257M1443.5 247V257M1444.5 246V257M1445.5 246V257M1446.5 246V257M1447.5 246V257M1448.5 245V257M1449.5 245V257M1450.5 245V257" stroke="#00b0ee" fill="none"/>
<path d="M1226 242h3v3h-3zM1407 242h3v3h-3zM1346 240h3v3h-3zM1449 241h3v3h-3zM1304 242h3v3h-3zM1402 244h3v3h-3zM1368 239h3v3h-3zM1214 244h3v3h-3zM1396 242h3v3h-3zM1329 244h3v3h-3z" fill="#00b0ee"/>
<path d="M1451.5 254V257M1452.5 254V257M1453.5 254V257M1454.5 254V257M1455.5 254V257M1456.5 254V257M1457.5 254V257M1458.5 254V257M1459.5 254V257M1460.5 254V257M1461.5 254V257M1462.5 254V257M1463.5 254V257M1464.5 254V257" stroke="#00b0ee" fill="none"/>
<path d="M1463.5 229V247M1464.5 229V247M1465.5 229V247M1466.5 229V247M1467.5 228V247M1468.5 227V247M1469.5 227V247M1470.5 227V246M1471.5 227V246" stroke="#00b0ee" fill="none"/>
<path d="M1140 222h3v3h-3zM1468 250h3v3h-3zM1464 248h3v3h-3z" fill="#00b0ee"/>
<path d="M904.5 275V300M905.5 262V300M906.5 262V300M907.5 262V300M908.5 262V300M909.5 262V300M910.5 262V300M911.5 262V300M912.5 262V300M913.5 262V300M914.5 262V300M915.5 262V300M916.5 262V300M917.5 262V300M918.5 262V300M919.5 262V300M920.5 262V300M921.5 262V300M922.5 262V300M923.5 262V300M924.5 262V300M925.5 262V300M926.5 262V300M927.5 262V300M928.5 262V300M929.5 262V300M930.5 262V300M931.5 262V300M932.5 262V300M933.5 262V300M934.5 262V300M935.5 262V300M936.5 262V300M937.5 275V300M938.5 262V300M939.5 262V300M940.5 262V300M941.5 262V300M942.5 262V300M943.5 262V300M944.5 262V300M945.5 262V300M946.5 262V300M947.5 262V300M948.5 262V300M949.5 262V300M950.5 262V300M951.5 262V300M952.5 262V300M953.5 278V300M954.5 262V300M955.5 262V300M956.5 262V300M957.5 262V300M958.5 262V300M959.5 262V300M960.5 262V300M961.5 262V300M962.5 262V300M963.5 262V300M964.5 262V300M965.5 262V300M966.5 262V300M967.5 262V300M968.5 262V300M969.5 262V300M970.5 272V300M971.5 262V300M972.5 262V300M973.5 262V300M974.5 262V300M975.5 262V300M976.5 262V300M977.5 262V300M978.5 262V300M979.5 262V300M980.5 262V300M981.5 262V300M982.5 262V300M983.5 262V300M984.5 262V300M985.5 262V300M986.5 262V300M987.5 262V300M988.5 262V300M989.5 262V300M990.5 262V300M991.5 288V300M992.5 262V300M993.5 262V300M994.5 262V300M995.5 262V300M996.5 262V300M997.5 262V300M998.5 272V300M999.5 262V300M1000.5 262V300M1001.5 262V300M1002.5 262V300M1003.5 280V300M1004.5 273V300M1005.5 262V300M1006.5 262V300M1007.5 262V300M1008.5 262V300M1009.5 262V300M1010.5 262V300M1011.5 262V300M1012.5 262V300M1013.5 262V300M1014.5 262V300M1015.5 262V300M1016.5 269V300M1017.5 262V300M1018.5 262V300M1019.5 262V300M1020.5 262V300M1021.5 262V300M1022.5 262V300M1023.5 262V300M1024.5 262V300M1025.5 274V300M1026.5 262V300M1027.5 262V300M1028.5 262V300M1029.5 262V300M1030.5 262V300M1031.5 262V300M1032.5 262V300M1033.5 262V300M1034.5 262V300M1035.5 262V300M1036.5 262V300M1037.5 262V300M1038.5 262V300M1039.5 262V300M1040.5 262V300M1041.5 262V300M1042.5 262V300M1043.5 262V300M1044.5 262V300M1045.5 262V300M1046.5 262V300M1047.5 262V300M1048.5 262V300M1049.5 262V300M1050.5 262V300M1051.5 262V300M1052.5 262V300M1053.5 262V300M1054.5 262V300M1055.5 262V300M1056.5 262V300M1057.5 262V300M1058.5 262V300M1059.5 262V300M1060.5 262V300M1061.5 262V300M1062.5 262V300M1063.5 262V300M1064.5 276V300M1065.5 262V300M1066.5 262V300M1067.5 262V300M1068.5 262V300M1069.5 262V300M1070.5 262V300M1071.5 262V300M1072.5 262V300M1073.5 262V300M1074.5 262V300M1075.5 262V300M1076.5 274V300M1077.5 262V300M1078.5 262V300M1079.5 262V300M1080.5 270V300M1081.5 262V300M1082.5 262V300M1083.5 262V300M1084.5 262V300M1085.5 262V300M1086.5 262V300M1087.5 262V300" stroke="#0000ff" fill="none"/>
<path d="M904.5 284V307M905.5 293V307M906.5 288V307M907.5 292V310M908.5 293V310M909.5 293V310M910.5 292V309M911.5 292V309M912.5 292V309M913.5 293V306M914.5 293V306M915.5 293V306M916.5 293V305M917.5 293V305M918.5 290V305M919.5 293V307M920.5 293V304M921.5 293V307M922.5 290V307M923.5 290V307M924.5 290V307M925.5 293V308M926.5 288V308M927.5 293V308M928.5 293V307M929.5 293V307M930.5 285V307M931.5 292V302M932.5 292V307M933.5 292V307M934.5 292V307M935.5 281V307M936.5 292V307M937.5 292V307M938.5 292V307M939.5 292V307M940.5 280V305M941.5 293V305M942.5 293V305M943.5 292V306M944.5 281V306M945.5 292V306M946.5 282V304M947.5 282V304M948.5 294V304M949.5 284V308M950.5 295V308M951.5 290V308M952.5 293V305M953.5 293V305M954.5 293V305M955.5 293V307M956.5 283V307M957.5 292V307M958.5 292V308M959.5 287V308M960.5 292V308M961.5 279V305M962.5 292V305M963.5 285V305M964.5 279V306M965.5 290V306M966.5 290V303M967.5 292V307M968.5 292V307M969.5 292V307M970.5 291V310M971.5 291V310M972.5 282V310M973.5 297V306M974.5 297V306M975.5 297V306M976.5 292V305M977.5 285V305M978.5 292V305M979.5 293V306M980.5 292V306M981.5 280V306M982.5 291V303M983.5 291V303M984.5 282V303M985.5 291V309M986.5 291V309M987.5 284V309M988.5 292V305M989.5 292V305M990.5 281V305M991.5 285V305M992.5 292V305M993.5 292V305M994.5 292V307M995.5 292V307M996.5 292V302M997.5 293V306M998.5 293V306M999.5 287V306M1000.5 292V306M1001.5 292V306M1002.5 292V306M1003.5 291V308M1004.5 291V308M1005.5 291V308M1006.5 295V307M1007.5 295V307M1008.5 287V307M1009.5 294V304M1010.5 289V304M1011.5 283V304M1012.5 289V305M1013.5 289V308M1014.5 280V308M1015.5 288V307M1016.5 278V307M1017.5 291V307M1018.5 291V306M1019.5 291V306M1020.5 288V306M1021.5 290V307M1022.5 279V307M1023.5 290V307M1024.5 293V307M1025.5 293V307M1026.5 293V307M1027.5 281V308M1028.5 290V308M1029.5 286V308M1030.5 293V306M1031.5 293V306M1032.5 293V306M1033.5 282V307M1034.5 287V307M1035.5 291V307M1036.5 290V307M1037.5 282V307M1038.5 278V307M1039.5 290V307M1040.5 290V307M1041.5 279V307M1042.5 294V306M1043.5 284V306M1044.5 294V302M1045.5 291V307M1046.5 291V307M1047.5 291V307M1048.5 281V307M1049.5 288V307M1050.5 277V307M1051.5 290V307M1052.5 282V307M1053.5 285V307M1054.5 289V306M1055.5 283V306M1056.5 289V306M1057.5 290V305M1058.5 290V308M1059.5 286V308M1060.5 293V305M1061.5 293V305M1062.5 280V305M1063.5 285V309M1064.5 293V309M1065.5 293V309M1066.5 291V308M1067.5 284V308M1068.5 290V308M1069.5 289V306M1070.5 289V303M1071.5 281V306M1072.5 293V304M1073.5 293V306M1074.5 285V306M1075.5 293V307M1076.5 283V307M1077.5 280V307M1078.5 287V306M1079.5 287V306M1080.5 287V306M1081.5 285V302M1082.5 290V307M1083.5 283V307M1084.5 290V308M1085.5 290V308M1086.5 290V308M1087.5 292V306" stroke="#ff0000" fill="none"/>
<path d="M935 266h3v26h-3z M938 270h5v22h-5z M943 264h4v25h-4z M947 272h3v18h-3z M1062 268h3v18h-3z M1066 264h3v14h-3z M1072 270h4v14h-4z M1078 266h3v22h-3z M1083 264h2v12h-2z" fill="#fff"/>
<path d="M1088.5 262V312" stroke="#0000ff" fill="none"/>
<path d="M1089.5 307V313M1090.5 312V313M1091.5 310V313M1092.5 312V313M1093.5 312V313M1094.5 312V313M1095.5 307V313M1096.5 312V313M1097.5 312V313M1098.5 312V313M1099.5 312V313M1100.5 312V313M1101.5 312V313M1102.5 308V313M1103.5 312V313M1104.5 312V313M1105.5 312V313M1106.5 312V313M1107.5 312V313M1108.5 312V313M1109.5 312V313M1110.5 312V313M1111.5 312V313M1112.5 312V313M1113.5 312V313M1114.5 309V313M1115.5 308V313M1116.5 309V313M1117.5 312V313M1118.5 309V313M1119.5 312V313M1120.5 307V313M1121.5 312V313M1122.5 312V313M1123.5 307V313M1124.5 312V313M1125.5 308V313M1126.5 308V313M1127.5 312V313M1128.5 312V313M1129.5 309V313M1130.5 308V313M1131.5 312V313M1132.5 312V313M1133.5 312V313M1134.5 312V313M1135.5 312V313M1136.5 312V313" stroke="#0000ff" fill="none"/>
<path d="M1137.5 310V312M1138.5 307V312M1139.5 303V312M1140.5 300V312M1141.5 297V312M1142.5 293V312M1143.5 287V312M1144.5 277V312M1145.5 268V312M1146.5 262V312M1147.5 262V312M1148.5 262V312M1149.5 262V312" stroke="#0000ff" fill="none"/>
<path d="M1137.5 302V312M1138.5 301V312M1139.5 300V312M1140.5 299V312M1141.5 299V312M1142.5 298V312M1143.5 299V312M1144.5 299V312M1145.5 298V312M1146.5 298V312M1147.5 297V312M1148.5 297V312M1149.5 295V312" stroke="#ff0000" fill="none"/>
<path d="M1150.5 262V312M1151.5 262V312M1152.5 262V312M1153.5 262V312M1154.5 262V312M1155.5 262V312M1156.5 262V312M1157.5 262V312M1158.5 262V312M1159.5 262V312M1160.5 298V312M1161.5 300V312" stroke="#0000ff" fill="none"/>
<path d="M1162.5 262V296M1163.5 288V296M1164.5 262V297M1165.5 262V297M1166.5 262V297M1167.5 262V298M1168.5 272V298M1169.5 262V298M1170.5 262V299M1171.5 262V299M1172.5 283V299M1173.5 262V300M1174.5 274V300M1175.5 262V300M1176.5 262V300M1177.5 275V300M1178.5 262V300M1179.5 262V300M1180.5 262V299M1181.5 262V299M1182.5 262V299M1183.5 262V299M1184.5 262V299M1185.5 262V299M1186.5 262V299M1187.5 288V299M1188.5 262V299M1189.5 262V299M1190.5 262V298M1191.5 262V298M1192.5 262V298M1193.5 262V298M1194.5 262V298" stroke="#0000ff" fill="none"/>
<path d="M1162.5 294V307M1163.5 294V307M1164.5 294V307M1165.5 294V306M1166.5 294V306M1167.5 294V306M1168.5 297V306M1169.5 294V302M1170.5 297V306M1171.5 296V306M1172.5 287V306M1173.5 296V306M1174.5 292V308M1175.5 292V308M1176.5 293V300M1177.5 290V304M1178.5 293V304M1179.5 293V296M1180.5 289V305M1181.5 298V305M1182.5 298V305M1183.5 297V300M1184.5 297V302M1185.5 297V306M1186.5 294V298M1187.5 294V303M1188.5 294V303M1189.5 294V302M1190.5 294V302M1191.5 294V302M1192.5 297V304M1193.5 293V304M1194.5 298V302" stroke="#ff0000" fill="none"/>
<path d="M1195.5 266V312M1196.5 269V312M1197.5 262V312M1198.5 262V312M1199.5 262V312M1200.5 262V312M1201.5 262V312M1202.5 262V312M1203.5 262V312M1204.5 262V312M1205.5 262V312M1206.5 262V312M1207.5 262V312M1208.5 262V312M1209.5 262V312M1210.5 262V312M1211.5 262V312M1212.5 265V312M1213.5 262V312M1214.5 265V312M1215.5 262V312M1216.5 262V312M1217.5 262V312M1218.5 262V312M1219.5 262V312M1220.5 262V312M1221.5 262V312M1222.5 262V312M1223.5 262V312M1224.5 262V312M1225.5 262V312M1226.5 262V312M1227.5 262V312M1228.5 262V312M1229.5 262V312M1230.5 262V312M1231.5 262V312M1232.5 262V312M1233.5 262V312M1234.5 262V312M1235.5 265V312M1236.5 262V312M1237.5 262V312M1238.5 262V312M1239.5 262V312M1240.5 262V312M1241.5 262V312M1242.5 262V312M1243.5 262V312M1244.5 262V312M1245.5 262V312M1246.5 262V312M1247.5 262V312M1248.5 262V312M1249.5 262V312M1250.5 262V312M1251.5 262V312M1252.5 262V312M1253.5 262V312M1254.5 262V312M1255.5 264V312M1256.5 262V312M1257.5 267V312M1258.5 262V312M1259.5 262V312M1260.5 262V312M1261.5 262V312M1262.5 262V312M1263.5 262V312M1264.5 269V312M1265.5 262V312M1266.5 262V312M1267.5 262V312M1268.5 262V312M1269.5 262V312M1270.5 262V312M1271.5 269V312M1272.5 262V312M1273.5 262V312" stroke="#0000ff" fill="none"/>
<path d="M1150.5 262V267M1151.5 262V267M1152.5 262V267M1153.5 262V268M1154.5 262V269M1155.5 262V263M1156.5 263V267M1157.5 263V271M1158.5 263V268M1159.5 263V269" stroke="#ff0000" fill="none"/>
<path d="M1240 292h3v21h-3z" fill="#fff"/><path d="M1240 288h3v5h-3z" fill="#f00"/>
<path d="M1274.5 262V305M1275.5 262V305M1276.5 262V305M1277.5 262V305M1278.5 262V305M1279.5 262V305M1280.5 262V305M1281.5 262V305M1282.5 262V305M1283.5 262V305M1284.5 262V305M1285.5 262V305M1286.5 262V305M1287.5 262V305M1288.5 262V305M1289.5 262V305M1290.5 262V305M1291.5 262V305M1292.5 262V305M1293.5 262V305M1294.5 262V305M1295.5 262V305M1296.5 262V305M1297.5 262V305M1298.5 262V305M1299.5 262V305M1300.5 262V305M1301.5 262V305M1302.5 262V305M1303.5 262V305M1304.5 262V305M1305.5 262V305M1306.5 262V305M1307.5 262V305M1308.5 262V305M1309.5 262V305M1310.5 262V305M1311.5 262V305M1312.5 262V305M1313.5 262V305M1314.5 262V305M1315.5 262V305M1316.5 262V305M1317.5 262V305M1318.5 262V305M1319.5 293V305M1320.5 262V305M1321.5 262V305M1322.5 262V305M1323.5 262V305M1324.5 262V305M1325.5 262V305M1326.5 262V305M1327.5 262V305M1328.5 262V305M1329.5 262V305M1330.5 262V305M1331.5 262V305M1332.5 262V305M1333.5 262V305M1334.5 262V305M1335.5 262V305M1336.5 262V305M1337.5 262V305M1338.5 262V305M1339.5 262V305M1340.5 262V305M1341.5 262V305M1342.5 262V305M1343.5 262V305M1344.5 262V305M1345.5 262V305M1346.5 262V305M1347.5 262V305M1348.5 262V305M1349.5 262V305M1350.5 262V305M1351.5 262V305M1352.5 262V305M1353.5 262V305M1354.5 262V305M1355.5 262V305M1356.5 262V305M1357.5 262V305M1358.5 262V305M1359.5 262V305M1360.5 262V305M1361.5 262V305M1362.5 262V306M1363.5 262V306M1364.5 262V306M1365.5 262V306M1366.5 262V306M1367.5 262V306M1368.5 262V306M1369.5 262V306M1370.5 262V306M1371.5 262V306M1372.5 262V306M1373.5 262V306M1374.5 262V306M1375.5 262V306M1376.5 293V306M1377.5 262V306M1378.5 262V306M1379.5 262V306M1380.5 262V306M1381.5 262V306M1382.5 262V306M1383.5 262V306M1384.5 262V306M1385.5 262V306M1386.5 262V306M1387.5 262V306M1388.5 262V306M1389.5 262V306M1390.5 262V306M1391.5 262V306M1392.5 262V306M1393.5 262V306M1394.5 262V306M1395.5 262V306M1396.5 262V306M1397.5 262V306M1398.5 262V306M1399.5 262V306M1400.5 262V306M1401.5 262V306M1402.5 262V306M1403.5 262V306M1404.5 262V306M1405.5 262V306M1406.5 262V306M1407.5 262V306M1408.5 262V306M1409.5 262V306M1410.5 262V306M1411.5 262V306M1412.5 262V306M1413.5 262V306M1414.5 262V306M1415.5 262V306M1416.5 262V306M1417.5 262V306M1418.5 262V306M1419.5 262V306M1420.5 262V306M1421.5 262V306M1422.5 262V306M1423.5 262V306M1424.5 262V306M1425.5 262V306M1426.5 262V306M1427.5 262V306M1428.5 262V306M1429.5 262V306M1430.5 262V306M1431.5 262V306M1432.5 262V306M1433.5 262V306M1434.5 262V306M1435.5 262V306M1436.5 262V306M1437.5 262V306M1438.5 262V306M1439.5 262V306M1440.5 262V306M1441.5 262V306M1442.5 262V306M1443.5 262V306M1444.5 292V306M1445.5 262V306M1446.5 262V306M1447.5 262V306M1448.5 262V306M1449.5 262V306M1450.5 262V306" stroke="#0000ff" fill="none"/>
<path d="M1274.5 290V306M1275.5 290V303M1276.5 286V306M1277.5 290V305M1278.5 290V305M1279.5 290V305M1280.5 291V306M1281.5 281V306M1282.5 291V306M1283.5 287V307M1284.5 291V307M1285.5 283V307M1286.5 291V307M1287.5 282V307M1288.5 281V307M1289.5 292V307M1290.5 292V307M1291.5 287V307M1292.5 290V305M1293.5 291V303M1294.5 291V305M1295.5 291V308M1296.5 291V308M1297.5 291V308M1298.5 285V306M1299.5 289V306M1300.5 290V306M1301.5 294V306M1302.5 295V306M1303.5 292V306M1304.5 296V307M1305.5 297V303M1306.5 298V307M1307.5 290V307M1308.5 299V307M1309.5 296V307M1310.5 296V306M1311.5 301V303M1312.5 292V306M1313.5 290V305M1314.5 291V305M1315.5 296V305M1316.5 301V307M1317.5 297V307M1318.5 296V307M1319.5 301V306M1320.5 296V306M1321.5 301V306M1322.5 299V307M1323.5 299V307M1324.5 292V307M1325.5 293V305M1326.5 295V305M1327.5 299V305M1328.5 298V308M1329.5 298V308M1330.5 298V308M1331.5 300V305M1332.5 295V305M1333.5 300V305M1334.5 296V307M1335.5 293V307M1336.5 300V307M1337.5 293V304M1338.5 300V304M1339.5 300V304M1340.5 300V307M1341.5 300V307M1342.5 300V307M1343.5 301V304M1344.5 297V304M1345.5 301V304M1346.5 301V307M1347.5 294V307M1348.5 301V307M1349.5 301V307M1350.5 301V307M1351.5 293V307M1352.5 298V305M1353.5 298V305M1354.5 291V305M1355.5 300V307M1356.5 300V307M1357.5 296V307M1358.5 301V306M1359.5 301V306M1360.5 297V306M1361.5 300V305M1362.5 300V305M1363.5 300V305M1364.5 295V307M1365.5 302V307M1366.5 302V307M1367.5 298V308M1368.5 301V308M1369.5 301V308M1370.5 301V307M1371.5 301V307M1372.5 301V307M1373.5 299V307M1374.5 292V307M1375.5 299V307M1376.5 295V308M1377.5 294V308M1378.5 295V308M1379.5 299V307M1380.5 297V307M1381.5 293V307M1382.5 292V307M1383.5 301V307M1384.5 298V307M1385.5 298V307M1386.5 298V307M1387.5 293V307M1388.5 297V306M1389.5 299V306M1390.5 302V306M1391.5 294V304M1392.5 294V304M1393.5 300V304M1394.5 298V306M1395.5 301V306M1396.5 301V306M1397.5 301V306M1398.5 301V306M1399.5 301V306M1400.5 291V306M1401.5 297V306M1402.5 296V306M1403.5 300V308M1404.5 300V308M1405.5 300V308M1406.5 300V304M1407.5 300V307M1408.5 292V307M1409.5 300V307M1410.5 300V307M1411.5 297V307M1412.5 296V307M1413.5 298V307M1414.5 289V307M1415.5 300V307M1416.5 298V307M1417.5 300V307M1418.5 300V306M1419.5 300V306M1420.5 300V306M1421.5 296V307M1422.5 294V307M1423.5 300V307M1424.5 299V306M1425.5 299V303M1426.5 299V306M1427.5 291V305M1428.5 299V305M1429.5 299V305M1430.5 301V306M1431.5 301V306M1432.5 301V306M1433.5 301V306M1434.5 301V306M1435.5 301V306M1436.5 301V307M1437.5 296V307M1438.5 301V307M1439.5 293V306M1440.5 300V306M1441.5 300V306M1442.5 298V307M1443.5 298V307M1444.5 298V307M1445.5 301V307M1446.5 296V307M1447.5 295V307M1448.5 301V306M1449.5 301V306M1450.5 301V306" stroke="#ff0000" fill="none"/>
<path d="M1451.0 312.5 1463.0 312.5" stroke="#ff0000" stroke-width="1" fill="none"/>
<path d="M1463.5 309V312M1464.5 303V312M1465.5 296V312M1466.5 289V312M1467.5 286V312M1468.5 283V312M1469.5 282V312M1470.5 278V312M1471.5 274V312" stroke="#0000ff" fill="none"/>
<path d="M1471.5 262.0 1471.5 300.0" stroke="#ff0000" stroke-width="1" fill="none"/>
<path d="M904.5 337V347M905.5 337V347M906.5 337V347M907.5 337V347M908.5 338V346M909.5 338V346M910.5 338V346M911.5 338V346M912.5 336V348M913.5 336V348M914.5 336V348M915.5 336V348M916.5 340V347M917.5 340V347M918.5 340V347M919.5 340V347M920.5 339V347M921.5 339V347M922.5 339V347M923.5 339V347M924.5 338V346M925.5 338V346M926.5 338V346M927.5 338V346M928.5 338V349M929.5 338V349M930.5 338V348M931.5 336V347M932.5 332V345M933.5 331V344M934.5 330V343M935.5 329V342M936.5 328V340M937.5 327V339M938.5 326V338M939.5 325V337M940.5 326V337M941.5 326V337M942.5 326V337M943.5 325V336M944.5 323V337M945.5 322V336M946.5 322V336M947.5 322V336M948.5 322V335M949.5 322V335M950.5 322V335M951.5 321V334M952.5 323V335M953.5 322V335M954.5 322V335M955.5 322V335M956.5 320V332M957.5 320V332M958.5 319V332M959.5 319V332M960.5 315V333M961.5 315V334M962.5 315V334M963.5 315V334M964.5 318V332M965.5 318V333M966.5 318V333M967.5 318V333M968.5 317V334M969.5 317V334M970.5 317V334M971.5 317V334M972.5 316V334M973.5 316V334M974.5 316V334M975.5 316V334M976.5 316V332M977.5 317V332M978.5 317V332M979.5 317V332M980.5 317V335M981.5 317V335M982.5 317V335M983.5 317V335M984.5 319V336M985.5 319V336M986.5 319V336M987.5 319V336M988.5 320V335M989.5 320V335M990.5 320V335M991.5 320V335M992.5 316V333M993.5 316V333M994.5 316V333M995.5 316V333M996.5 320V334M997.5 320V335M998.5 320V335M999.5 320V335M1000.5 322V336M1001.5 322V336M1002.5 322V336M1003.5 322V336M1004.5 318V337M1005.5 318V337M1006.5 318V337M1007.5 318V337M1008.5 319V334M1009.5 319V334M1010.5 319V334M1011.5 319V334M1012.5 320V335M1013.5 320V335M1014.5 320V335M1015.5 320V335M1016.5 321V334M1017.5 321V334M1018.5 320V334M1019.5 320V334M1020.5 318V334M1021.5 318V334M1022.5 318V334M1023.5 318V334M1024.5 319V338M1025.5 318V338M1026.5 318V338M1027.5 318V338M1028.5 321V337M1029.5 321V337M1030.5 321V337M1031.5 321V337M1032.5 319V337M1033.5 319V337M1034.5 319V337M1035.5 319V337M1036.5 320V337M1037.5 320V337M1038.5 320V337M1039.5 320V337M1040.5 318V337M1041.5 318V337M1042.5 318V337M1043.5 318V337M1044.5 319V336M1045.5 319V336M1046.5 319V336M1047.5 319V336M1048.5 316V331M1049.5 316V331M1050.5 316V331M1051.5 316V330M1052.5 319V336M1053.5 319V336M1054.5 319V336M1055.5 319V336M1056.5 317V335M1057.5 316V334M1058.5 316V334M1059.5 316V334M1060.5 319V335M1061.5 319V335M1062.5 319V335M1063.5 319V335M1064.5 316V334M1065.5 316V334M1066.5 316V334M1067.5 316V334M1068.5 318V334M1069.5 318V334M1070.5 318V334M1071.5 318V334M1072.5 315V335M1073.5 315V335M1074.5 315V335M1075.5 315V334M1076.5 314V334M1077.5 314V334M1078.5 314V334M1079.5 314V334M1080.5 314V334M1081.5 314V334M1082.5 314V334M1083.5 314V334M1084.5 318V334M1085.5 318V334M1086.5 318V334M1087.5 318V334" stroke="#ff1493" fill="none"/>
<path d="M1001 313h3v3h-3zM949 335h3v3h-3zM1023 314h3v3h-3zM983 313h3v3h-3zM920 348h3v3h-3zM1045 337h3v3h-3zM925 348h3v3h-3zM907 351h3v3h-3zM1076 336h3v3h-3zM1028 339h3v3h-3zM1075 308h3v3h-3zM968 314h3v3h-3zM1086 336h3v3h-3zM943 342h3v3h-3zM1048 309h3v3h-3zM1084 336h3v3h-3zM973 333h3v3h-3zM1055 336h3v3h-3zM963 336h3v3h-3zM909 335h3v3h-3zM1004 315h3v3h-3zM1080 311h3v3h-3zM1011 334h3v3h-3zM1022 339h3v3h-3zM912 331h3v3h-3zM985 337h3v3h-3zM1057 311h3v3h-3zM1017 338h3v3h-3zM1050 332h3v3h-3zM927 346h3v3h-3zM1013 334h3v3h-3zM911 348h3v3h-3zM959 316h3v3h-3zM934 343h3v3h-3zM956 317h3v3h-3zM1045 316h3v3h-3zM909 332h3v3h-3zM1081 338h3v3h-3zM1027 314h3v3h-3zM949 317h3v3h-3zM940 339h3v3h-3zM1023 334h3v3h-3zM1081 335h3v3h-3zM940 337h3v3h-3zM980 337h3v3h-3zM935 324h3v3h-3zM1058 334h3v3h-3zM904 348h3v3h-3zM1037 315h3v3h-3zM910 335h3v3h-3z" fill="#ff1493"/>
<path d="M904.5 357V360M905.5 357V360M906.5 357V360M907.5 357V360M908.5 352V363M909.5 352V363M910.5 352V363M911.5 352V363M912.5 353V362M913.5 353V362M914.5 353V362M915.5 353V362M916.5 353V361M917.5 353V361M918.5 353V361M919.5 353V361M920.5 355V361M921.5 355V361M922.5 355V361M923.5 355V361M924.5 355V361M925.5 355V361M926.5 355V361M927.5 355V361M928.5 355V359M929.5 355V359M930.5 355V359M931.5 355V359M932.5 355V362M933.5 355V362M934.5 355V362M935.5 355V362M936.5 355V361M937.5 355V361M938.5 355V361M939.5 355V361M940.5 354V360M941.5 354V360M942.5 354V360M943.5 354V360M944.5 355V360M945.5 355V360M946.5 355V360M947.5 355V360M948.5 356V359M949.5 356V359M950.5 356V359M951.5 356V359M952.5 354V359M953.5 354V359M954.5 354V359M955.5 354V359M956.5 356V361M957.5 356V361M958.5 356V361M959.5 356V361M960.5 355V359M961.5 355V359M962.5 355V359M963.5 355V359M964.5 355V359M965.5 355V359M966.5 355V359M967.5 355V359M968.5 352V361M969.5 352V361M970.5 352V361M971.5 352V361M972.5 355V362M973.5 355V362M974.5 355V362M975.5 355V362M976.5 356V364M977.5 356V364M978.5 356V364M979.5 356V364M980.5 354V360M981.5 354V360M982.5 354V360M983.5 354V360M984.5 358V360M985.5 358V360M986.5 358V360M987.5 358V360M988.5 353V362M989.5 353V362M990.5 353V362M991.5 353V362M992.5 352V359M993.5 352V359M994.5 352V359M995.5 352V359M996.5 354V362M997.5 354V362M998.5 354V362M999.5 354V362M1000.5 353V360M1001.5 353V360M1002.5 353V360M1003.5 353V360M1004.5 351V361M1005.5 351V361M1006.5 351V361M1007.5 351V361M1008.5 357V360M1009.5 357V360M1010.5 357V360M1011.5 357V360M1012.5 357V359M1013.5 357V359M1014.5 357V359M1015.5 357V359M1016.5 354V360M1017.5 354V360M1018.5 354V360M1019.5 354V360M1020.5 356V362M1021.5 356V362M1022.5 356V362M1023.5 356V362M1024.5 354V365M1025.5 354V365M1026.5 354V365M1027.5 354V365M1028.5 355V360M1029.5 355V360M1030.5 355V360M1031.5 355V360M1032.5 354V362M1033.5 354V362M1034.5 354V362M1035.5 354V362M1036.5 355V361M1037.5 355V361M1038.5 355V361M1039.5 355V361M1040.5 356V363M1041.5 356V363M1042.5 356V363M1043.5 356V363M1044.5 354V362M1045.5 354V362M1046.5 354V362M1047.5 354V362M1048.5 356V362M1049.5 356V362M1050.5 356V362M1051.5 356V362M1052.5 355V364M1053.5 355V364M1054.5 355V364M1055.5 355V364M1056.5 358V361M1057.5 358V361M1058.5 358V361M1059.5 358V361M1060.5 355V362M1061.5 355V362M1062.5 355V362M1063.5 355V362M1064.5 353V362M1065.5 353V362M1066.5 353V362M1067.5 353V362M1068.5 355V359M1069.5 355V359M1070.5 355V359M1071.5 355V359M1072.5 355V361M1073.5 355V361M1074.5 355V361M1075.5 355V361M1076.5 354V361M1077.5 354V361M1078.5 354V361M1079.5 354V361M1080.5 355V362M1081.5 355V362M1082.5 355V362M1083.5 355V362M1084.5 354V361M1085.5 354V361M1086.5 354V361M1087.5 354V361" stroke="#ff1493" fill="none"/>
<path d="M1040 350h3v3h-3zM961 338h3v3h-3zM987 354h3v3h-3zM903 346h3v3h-3zM1018 349h3v3h-3zM975 343h3v3h-3zM1067 346h3v3h-3zM971 337h3v3h-3zM1057 349h3v3h-3zM996 354h3v3h-3zM1041 340h3v3h-3zM1015 353h3v3h-3zM989 349h3v3h-3zM934 354h3v3h-3zM960 350h3v3h-3zM987 357h3v3h-3zM975 348h3v3h-3zM1009 348h3v3h-3zM932 340h3v3h-3zM905 343h3v3h-3zM916 356h3v3h-3zM944 350h3v3h-3zM904 339h3v3h-3zM991 340h3v3h-3zM1000 350h3v3h-3zM1058 343h3v3h-3zM1069 347h3v3h-3zM908 348h3v3h-3zM1065 351h3v3h-3zM1020 341h3v3h-3zM907 356h3v3h-3zM951 337h3v3h-3zM1061 356h3v3h-3zM1035 338h3v3h-3zM911 338h3v3h-3zM1034 345h3v3h-3zM916 336h3v3h-3zM1074 343h3v3h-3zM1026 354h3v3h-3zM1058 354h3v3h-3zM960 345h3v3h-3zM920 346h3v3h-3zM1019 355h3v3h-3zM1042 346h3v3h-3zM909 345h3v3h-3zM954 354h3v3h-3zM1077 337h3v3h-3zM913 337h3v3h-3zM1043 346h3v3h-3zM1013 348h3v3h-3zM941 338h3v3h-3zM1002 353h3v3h-3zM919 337h3v3h-3zM1005 337h3v3h-3zM1078 344h3v3h-3zM993 338h3v3h-3zM1036 348h3v3h-3zM953 342h3v3h-3zM1066 340h3v3h-3zM961 357h3v3h-3zM905 356h3v3h-3zM1009 345h3v3h-3zM1023 348h3v3h-3zM1060 339h3v3h-3zM993 340h3v3h-3zM982 344h3v3h-3zM925 350h3v3h-3zM1054 347h3v3h-3zM1047 353h3v3h-3zM945 356h3v3h-3zM1077 357h3v3h-3zM928 355h3v3h-3zM1075 355h3v3h-3zM1064 339h3v3h-3zM940 340h3v3h-3zM956 350h3v3h-3zM1079 348h3v3h-3zM922 349h3v3h-3zM956 357h3v3h-3zM1002 356h3v3h-3zM1049 347h3v3h-3zM1044 343h3v3h-3zM924 343h3v3h-3zM962 339h3v3h-3zM972 340h3v3h-3zM999 339h3v3h-3zM922 348h3v3h-3zM1016 357h3v3h-3zM934 354h3v3h-3zM924 345h3v3h-3zM1019 344h3v3h-3zM948 353h3v3h-3zM971 352h3v3h-3zM946 350h3v3h-3zM1069 355h3v3h-3zM960 348h3v3h-3zM932 353h3v3h-3zM1049 347h3v3h-3zM1038 352h3v3h-3zM1016 345h3v3h-3zM1034 356h3v3h-3zM1015 357h3v3h-3zM972 337h3v3h-3zM1084 349h3v3h-3zM1022 355h3v3h-3zM969 339h3v3h-3zM1017 344h3v3h-3zM958 347h3v3h-3zM957 336h3v3h-3zM1033 345h3v3h-3zM1042 348h3v3h-3zM956 350h3v3h-3zM953 350h3v3h-3zM1029 343h3v3h-3zM942 352h3v3h-3zM913 354h3v3h-3zM1085 346h3v3h-3zM945 344h3v3h-3zM968 351h3v3h-3zM1065 346h3v3h-3zM915 336h3v3h-3zM1012 338h3v3h-3zM916 357h3v3h-3zM965 337h3v3h-3zM1060 357h3v3h-3zM987 346h3v3h-3zM1064 341h3v3h-3zM1017 357h3v3h-3zM1021 336h3v3h-3zM1047 352h3v3h-3zM950 354h3v3h-3zM1074 353h3v3h-3zM923 357h3v3h-3zM1007 343h3v3h-3zM1080 336h3v3h-3zM1072 338h3v3h-3zM1017 340h3v3h-3zM965 337h3v3h-3zM1031 347h3v3h-3zM1077 353h3v3h-3zM1043 343h3v3h-3zM1046 356h3v3h-3zM951 346h3v3h-3zM964 356h3v3h-3zM1086 347h3v3h-3zM956 340h3v3h-3zM969 348h3v3h-3zM984 354h3v3h-3zM1050 347h3v3h-3zM975 342h3v3h-3zM921 346h3v3h-3zM928 351h3v3h-3zM916 342h3v3h-3zM966 344h3v3h-3zM1036 343h3v3h-3zM903 347h3v3h-3zM947 348h3v3h-3zM948 343h3v3h-3zM1008 341h3v3h-3zM936 340h3v3h-3zM1012 343h3v3h-3zM936 342h3v3h-3zM954 340h3v3h-3zM984 352h3v3h-3zM983 337h3v3h-3zM1024 337h3v3h-3zM1063 336h3v3h-3zM908 341h3v3h-3zM1056 353h3v3h-3zM1081 336h3v3h-3zM951 339h3v3h-3zM1084 345h3v3h-3zM912 345h3v3h-3zM1013 352h3v3h-3zM1076 355h3v3h-3zM970 355h3v3h-3zM905 340h3v3h-3zM1030 349h3v3h-3zM994 336h3v3h-3zM1078 340h3v3h-3zM1084 344h3v3h-3zM943 350h3v3h-3zM1010 336h3v3h-3zM1067 345h3v3h-3zM985 341h3v3h-3zM1063 342h3v3h-3zM1031 345h3v3h-3zM978 356h3v3h-3zM989 339h3v3h-3zM1064 356h3v3h-3zM1046 345h3v3h-3zM1014 354h3v3h-3zM930 338h3v3h-3zM1046 355h3v3h-3zM966 357h3v3h-3zM1080 351h3v3h-3zM1054 337h3v3h-3zM920 339h3v3h-3zM1053 350h3v3h-3zM908 336h3v3h-3zM963 340h3v3h-3zM1075 350h3v3h-3zM971 354h3v3h-3zM978 347h3v3h-3zM909 345h3v3h-3zM958 348h3v3h-3zM966 344h3v3h-3zM984 349h3v3h-3zM925 343h3v3h-3zM983 355h3v3h-3zM1039 356h3v3h-3zM1064 337h3v3h-3zM963 336h3v3h-3zM1042 352h3v3h-3zM914 343h3v3h-3zM1070 351h3v3h-3zM966 342h3v3h-3zM1027 344h3v3h-3zM1002 342h3v3h-3zM945 336h3v3h-3zM913 338h3v3h-3zM939 342h3v3h-3zM985 354h3v3h-3zM983 353h3v3h-3zM1049 343h3v3h-3zM1070 338h3v3h-3zM1026 357h3v3h-3zM935 353h3v3h-3zM906 338h3v3h-3zM1037 354h3v3h-3zM1004 351h3v3h-3zM991 347h3v3h-3zM990 348h3v3h-3zM1008 336h3v3h-3zM962 343h3v3h-3zM942 342h3v3h-3zM959 346h3v3h-3zM955 345h3v3h-3zM1045 349h3v3h-3zM948 349h3v3h-3zM930 347h3v3h-3zM1022 348h3v3h-3zM1045 338h3v3h-3zM971 348h3v3h-3zM1056 352h3v3h-3zM965 347h3v3h-3zM957 348h3v3h-3zM1044 345h3v3h-3zM1071 354h3v3h-3zM929 345h3v3h-3zM1050 342h3v3h-3zM1011 355h3v3h-3zM998 338h3v3h-3zM1056 342h3v3h-3zM1044 353h3v3h-3zM1025 340h3v3h-3zM975 341h3v3h-3zM993 339h3v3h-3zM1038 357h3v3h-3zM1070 354h3v3h-3z" fill="#ff1493"/>
<path d="M1088.5 358V363M1089.5 358V363M1090.5 358V363M1091.5 358V363M1092.5 358V363M1093.5 358V363M1094.5 358V363M1095.5 358V363M1096.5 358V363M1097.5 358V363M1098.5 358V363M1099.5 358V363M1100.5 358V363M1101.5 358V363M1102.5 358V363M1103.5 358V363M1104.5 358V363M1105.5 358V363M1106.5 358V363M1107.5 358V363M1108.5 358V363M1109.5 358V363M1110.5 358V363M1111.5 358V363M1112.5 358V363M1113.5 358V363M1114.5 358V363M1115.5 358V363M1116.5 358V363M1117.5 358V363M1118.5 358V363M1119.5 358V363M1120.5 358V363M1121.5 358V363M1122.5 358V363M1123.5 358V363M1124.5 358V363M1125.5 358V363M1126.5 358V363M1127.5 358V363M1128.5 358V363M1129.5 358V363M1130.5 358V363M1131.5 358V363M1132.5 358V363M1133.5 358V363M1134.5 358V363M1135.5 358V363M1136.5 357V364M1137.5 357V364M1138.5 357V364M1139.5 357V364M1140.5 358V363M1141.5 358V363M1142.5 358V363M1143.5 358V363M1144.5 358V363M1145.5 358V363M1146.5 358V363M1147.5 358V363M1148.5 358V364M1149.5 358V364M1150.5 358V364M1151.5 358V364M1152.5 359V363M1153.5 359V363M1154.5 359V363M1155.5 359V363M1156.5 358V364M1157.5 358V364M1158.5 358V364M1159.5 358V364" stroke="#ff1493" fill="none"/>
<path d="M1160.5 351V360M1161.5 351V360M1162.5 351V360M1163.5 351V360M1164.5 352V359M1165.5 352V359M1166.5 352V359M1167.5 352V359M1168.5 349V358M1169.5 348V358M1170.5 348V358M1171.5 348V358M1172.5 350V360M1173.5 350V360M1174.5 350V360M1175.5 350V360M1176.5 350V359M1177.5 350V359M1178.5 350V359M1179.5 349V359M1180.5 350V362M1181.5 350V362M1182.5 350V362M1183.5 350V362M1184.5 353V361M1185.5 353V361M1186.5 353V361M1187.5 353V361M1188.5 350V362M1189.5 350V362M1190.5 350V362M1191.5 349V362M1192.5 350V361M1193.5 349V361M1194.5 348V361M1195.5 347V361M1196.5 347V365M1197.5 346V365M1198.5 345V365M1199.5 344V365" stroke="#ff1493" fill="none"/>
<path d="M1188 346h3v3h-3zM1194 341h3v3h-3zM1178 346h3v3h-3zM1162 348h3v3h-3zM1186 350h3v3h-3zM1161 361h3v3h-3zM1174 343h3v3h-3zM1194 361h3v3h-3zM1199 340h3v3h-3zM1161 347h3v3h-3zM1186 350h3v3h-3zM1168 359h3v3h-3zM1169 345h3v3h-3zM1181 347h3v3h-3zM1166 350h3v3h-3zM1168 359h3v3h-3zM1195 362h3v3h-3zM1196 343h3v3h-3zM1168 344h3v3h-3zM1163 360h3v3h-3z" fill="#ff1493"/>
<path d="M1195.5 324V361M1196.5 327V361M1197.5 330V361M1198.5 333V361M1199.5 335V361" stroke="#ff1493" fill="none"/>
<path d="M1200.5 332V347M1201.5 332V347M1202.5 332V347M1203.5 332V347M1204.5 333V346M1205.5 333V346M1206.5 333V346M1207.5 332V346M1208.5 334V345M1209.5 333V345M1210.5 333V345M1211.5 333V345M1212.5 336V346M1213.5 336V346M1214.5 335V346M1215.5 335V346M1216.5 334V345M1217.5 334V345M1218.5 334V345M1219.5 334V345M1220.5 335V348M1221.5 335V348M1222.5 335V348M1223.5 335V348M1224.5 332V345M1225.5 331V345M1226.5 331V345M1227.5 331V345M1228.5 334V349M1229.5 334V349M1230.5 334V349M1231.5 334V349M1232.5 332V346M1233.5 332V346M1234.5 332V346M1235.5 332V346M1236.5 331V345M1237.5 331V345M1238.5 331V345M1239.5 331V345M1240.5 331V347M1241.5 331V346M1242.5 330V346M1243.5 330V346M1244.5 331V344M1245.5 331V344M1246.5 331V344M1247.5 331V343M1248.5 333V344M1249.5 333V344M1250.5 333V344M1251.5 332V344M1252.5 331V343M1253.5 331V343M1254.5 330V343M1255.5 330V342M1256.5 325V345M1257.5 325V344M1258.5 325V344M1259.5 324V344M1260.5 330V339M1261.5 330V339M1262.5 330V339M1263.5 330V339M1264.5 328V341M1265.5 328V341M1266.5 328V341M1267.5 328V341M1268.5 330V342M1269.5 330V342M1270.5 330V342M1271.5 330V342M1272.5 327V343M1273.5 327V343M1274.5 327V343M1275.5 327V343M1276.5 328V343M1277.5 328V343M1278.5 328V343M1279.5 329V343M1280.5 327V340M1281.5 327V340M1282.5 327V340M1283.5 327V340M1284.5 329V342M1285.5 329V342M1286.5 329V342M1287.5 329V342M1288.5 328V341M1289.5 328V341M1290.5 328V341M1291.5 328V341M1292.5 331V344M1293.5 331V344M1294.5 331V344M1295.5 331V344M1296.5 329V340M1297.5 329V340M1298.5 329V340M1299.5 329V340M1300.5 330V340M1301.5 330V340M1302.5 330V340M1303.5 330V340M1304.5 328V344M1305.5 328V344M1306.5 328V344M1307.5 328V344M1308.5 332V341M1309.5 332V341M1310.5 332V341M1311.5 332V341M1312.5 329V342M1313.5 329V342M1314.5 329V342M1315.5 329V342M1316.5 328V342M1317.5 328V342M1318.5 328V342M1319.5 328V342M1320.5 328V341M1321.5 328V341M1322.5 328V340M1323.5 328V340M1324.5 333V339M1325.5 333V339M1326.5 333V339M1327.5 333V339M1328.5 329V342M1329.5 329V342M1330.5 329V342M1331.5 329V342M1332.5 328V342M1333.5 328V342M1334.5 328V342M1335.5 328V342M1336.5 328V341M1337.5 328V341M1338.5 328V341M1339.5 328V341M1340.5 331V343M1341.5 331V343M1342.5 331V342M1343.5 331V342M1344.5 327V340M1345.5 327V340M1346.5 327V340M1347.5 327V340M1348.5 326V340M1349.5 326V340M1350.5 326V340M1351.5 326V340M1352.5 332V340M1353.5 332V340M1354.5 332V340M1355.5 332V340M1356.5 326V340M1357.5 326V340M1358.5 326V340M1359.5 325V340M1360.5 327V339M1361.5 327V339M1362.5 327V339M1363.5 327V339M1364.5 328V340M1365.5 328V340M1366.5 328V340M1367.5 328V340M1368.5 328V338M1369.5 328V338M1370.5 328V338M1371.5 328V338M1372.5 327V341M1373.5 327V341M1374.5 327V341M1375.5 327V341M1376.5 327V338M1377.5 327V338M1378.5 327V338M1379.5 327V338M1380.5 329V340M1381.5 329V340M1382.5 329V340M1383.5 329V340M1384.5 327V341M1385.5 327V341M1386.5 327V341M1387.5 327V341M1388.5 326V339M1389.5 326V339M1390.5 326V339M1391.5 326V339M1392.5 326V337M1393.5 326V337M1394.5 326V337M1395.5 326V337M1396.5 329V341M1397.5 329V341M1398.5 329V341M1399.5 329V341M1400.5 329V341M1401.5 329V341M1402.5 329V341M1403.5 329V341M1404.5 329V342M1405.5 330V342M1406.5 330V342M1407.5 330V342M1408.5 328V339M1409.5 328V339M1410.5 328V339M1411.5 328V339M1412.5 327V341M1413.5 327V341M1414.5 327V341M1415.5 327V341M1416.5 328V339M1417.5 328V339M1418.5 328V339M1419.5 328V339M1420.5 328V340M1421.5 328V340M1422.5 328V340M1423.5 328V340M1424.5 326V339M1425.5 326V339M1426.5 326V339M1427.5 326V339M1428.5 327V340M1429.5 327V340M1430.5 327V340M1431.5 327V340M1432.5 328V340M1433.5 328V340M1434.5 328V340M1435.5 328V340M1436.5 329V341M1437.5 329V341M1438.5 329V341M1439.5 329V341M1440.5 331V339M1441.5 331V339M1442.5 331V339M1443.5 331V339M1444.5 328V337M1445.5 328V337M1446.5 328V337M1447.5 328V337M1448.5 328V338M1449.5 328V338M1450.5 328V338" stroke="#ff1493" fill="none"/>
<path d="M1366 339h3v3h-3zM1239 345h3v3h-3zM1350 342h3v3h-3zM1423 343h3v3h-3zM1351 323h3v3h-3zM1379 324h3v3h-3zM1241 349h3v3h-3zM1410 339h3v3h-3zM1228 331h3v3h-3zM1275 343h3v3h-3zM1434 343h3v3h-3zM1418 339h3v3h-3zM1226 347h3v3h-3zM1279 320h3v3h-3zM1207 348h3v3h-3zM1442 339h3v3h-3zM1210 348h3v3h-3zM1431 339h3v3h-3zM1321 340h3v3h-3zM1260 325h3v3h-3zM1243 347h3v3h-3zM1329 344h3v3h-3zM1221 347h3v3h-3zM1251 347h3v3h-3zM1409 325h3v3h-3zM1430 323h3v3h-3zM1375 340h3v3h-3zM1311 340h3v3h-3zM1283 324h3v3h-3zM1314 325h3v3h-3zM1361 345h3v3h-3zM1208 345h3v3h-3zM1321 326h3v3h-3zM1318 343h3v3h-3zM1343 343h3v3h-3zM1352 328h3v3h-3zM1288 341h3v3h-3zM1323 341h3v3h-3zM1291 346h3v3h-3zM1381 323h3v3h-3zM1244 329h3v3h-3zM1386 341h3v3h-3zM1261 340h3v3h-3zM1367 325h3v3h-3zM1420 340h3v3h-3zM1262 340h3v3h-3zM1414 320h3v3h-3zM1305 348h3v3h-3zM1329 326h3v3h-3zM1306 345h3v3h-3z" fill="#ff1493"/>
<path d="M1200.5 355V362M1201.5 355V362M1202.5 355V362M1203.5 355V362M1204.5 355V360M1205.5 355V360M1206.5 355V360M1207.5 355V360M1208.5 355V359M1209.5 355V359M1210.5 355V359M1211.5 355V359M1212.5 354V360M1213.5 354V360M1214.5 354V360M1215.5 354V360M1216.5 356V360M1217.5 356V360M1218.5 356V360M1219.5 356V360M1220.5 357V362M1221.5 357V362M1222.5 357V362M1223.5 357V362M1224.5 354V365M1225.5 354V365M1226.5 354V365M1227.5 354V365M1228.5 354V360M1229.5 354V360M1230.5 354V360M1231.5 354V360M1232.5 354V363M1233.5 354V363M1234.5 354V363M1235.5 354V363M1236.5 352V360M1237.5 352V360M1238.5 352V360M1239.5 352V360M1240.5 355V362M1241.5 355V362M1242.5 355V362M1243.5 355V362M1244.5 354V362M1245.5 354V362M1246.5 354V362M1247.5 354V362M1248.5 356V360M1249.5 356V360M1250.5 356V360M1251.5 356V360M1252.5 353V360M1253.5 353V360M1254.5 353V360M1255.5 353V360M1256.5 354V358M1257.5 354V358M1258.5 354V358M1259.5 354V358M1260.5 353V361M1261.5 353V361M1262.5 353V361M1263.5 353V361M1264.5 354V360M1265.5 354V360M1266.5 354V360M1267.5 354V360M1268.5 355V361M1269.5 355V361M1270.5 355V361M1271.5 355V361M1272.5 355V364M1273.5 355V364M1274.5 355V364M1275.5 355V364M1276.5 352V359M1277.5 352V359M1278.5 352V359M1279.5 352V359M1280.5 354V357M1281.5 354V357M1282.5 354V357M1283.5 354V357M1284.5 355V362M1285.5 355V362M1286.5 355V362M1287.5 355V362M1288.5 353V363M1289.5 353V363M1290.5 353V363M1291.5 353V363M1292.5 352V360M1293.5 352V360M1294.5 352V360M1295.5 352V360M1296.5 353V361M1297.5 353V361M1298.5 353V361M1299.5 353V361M1300.5 355V360M1301.5 355V360M1302.5 355V360M1303.5 355V360M1304.5 350V360M1305.5 350V360M1306.5 350V360M1307.5 350V360M1308.5 355V362M1309.5 355V362M1310.5 355V362M1311.5 355V362M1312.5 355V361M1313.5 355V361M1314.5 355V361M1315.5 355V361M1316.5 354V362M1317.5 354V362M1318.5 354V362M1319.5 354V362M1320.5 354V362M1321.5 354V362M1322.5 354V362M1323.5 354V362M1324.5 355V359M1325.5 355V359M1326.5 355V359M1327.5 355V359M1328.5 354V359M1329.5 354V359M1330.5 354V359M1331.5 354V359M1332.5 354V362M1333.5 354V362M1334.5 354V362M1335.5 354V362M1336.5 353V362M1337.5 353V362M1338.5 353V362M1339.5 353V362M1340.5 353V360M1341.5 353V360M1342.5 353V360M1343.5 353V360M1344.5 353V360M1345.5 353V360M1346.5 353V360M1347.5 353V360M1348.5 352V360M1349.5 352V360M1350.5 352V360M1351.5 352V360M1352.5 354V362M1353.5 354V362M1354.5 354V362M1355.5 354V362M1356.5 357V360M1357.5 357V360M1358.5 357V360M1359.5 357V360M1360.5 355V361M1361.5 355V361M1362.5 355V361M1363.5 355V361M1364.5 354V361M1365.5 354V361M1366.5 354V361M1367.5 354V361M1368.5 354V360M1369.5 354V360M1370.5 354V360M1371.5 354V360M1372.5 353V362M1373.5 353V362M1374.5 353V362M1375.5 353V362M1376.5 355V360M1377.5 355V360M1378.5 355V360M1379.5 355V360M1380.5 354V361M1381.5 354V361M1382.5 354V361M1383.5 354V361M1384.5 354V360M1385.5 354V360M1386.5 354V360M1387.5 354V360M1388.5 356V361M1389.5 356V361M1390.5 356V361M1391.5 356V361M1392.5 358V360M1393.5 358V360M1394.5 358V360M1395.5 358V360M1396.5 355V359M1397.5 355V359M1398.5 355V359M1399.5 355V359M1400.5 353V363M1401.5 353V363M1402.5 353V363M1403.5 353V363M1404.5 353V364M1405.5 353V364M1406.5 353V364M1407.5 353V364M1408.5 353V359M1409.5 353V359M1410.5 353V359M1411.5 353V359M1412.5 353V361M1413.5 353V361M1414.5 353V361M1415.5 353V361M1416.5 355V359M1417.5 355V359M1418.5 355V359M1419.5 355V359M1420.5 355V359M1421.5 355V359M1422.5 355V359M1423.5 355V359M1424.5 352V361M1425.5 352V361M1426.5 352V361M1427.5 352V361M1428.5 354V362M1429.5 354V362M1430.5 354V362M1431.5 354V362M1432.5 355V361M1433.5 355V361M1434.5 355V361M1435.5 355V361M1436.5 358V360M1437.5 358V360M1438.5 358V360M1439.5 358V360M1440.5 355V362M1441.5 355V362M1442.5 355V362M1443.5 355V362M1444.5 350V360M1445.5 350V360M1446.5 350V360M1447.5 350V360M1448.5 352V361M1449.5 352V361M1450.5 352V361" stroke="#ff1493" fill="none"/>
<path d="M1282 357h3v3h-3zM1354 345h3v3h-3zM1239 352h3v3h-3zM1276 349h3v3h-3zM1292 342h3v3h-3zM1368 343h3v3h-3zM1433 353h3v3h-3zM1320 347h3v3h-3zM1378 350h3v3h-3zM1318 345h3v3h-3zM1339 341h3v3h-3zM1278 354h3v3h-3zM1273 354h3v3h-3zM1227 346h3v3h-3zM1383 341h3v3h-3zM1363 350h3v3h-3zM1252 344h3v3h-3zM1293 344h3v3h-3zM1232 355h3v3h-3zM1273 345h3v3h-3zM1200 351h3v3h-3zM1294 350h3v3h-3zM1373 355h3v3h-3zM1315 356h3v3h-3zM1444 341h3v3h-3zM1251 348h3v3h-3zM1342 342h3v3h-3zM1419 345h3v3h-3zM1398 341h3v3h-3zM1298 341h3v3h-3zM1277 342h3v3h-3zM1262 343h3v3h-3zM1353 357h3v3h-3zM1443 354h3v3h-3zM1228 354h3v3h-3zM1285 357h3v3h-3zM1356 356h3v3h-3zM1417 352h3v3h-3zM1206 351h3v3h-3zM1353 345h3v3h-3zM1297 341h3v3h-3zM1388 351h3v3h-3zM1237 344h3v3h-3zM1252 347h3v3h-3zM1221 347h3v3h-3zM1338 345h3v3h-3zM1311 356h3v3h-3zM1389 354h3v3h-3zM1353 357h3v3h-3zM1281 341h3v3h-3zM1345 349h3v3h-3zM1322 357h3v3h-3zM1385 350h3v3h-3zM1401 357h3v3h-3zM1430 357h3v3h-3zM1323 353h3v3h-3zM1416 357h3v3h-3zM1261 354h3v3h-3zM1334 343h3v3h-3zM1402 349h3v3h-3zM1262 356h3v3h-3zM1344 352h3v3h-3zM1229 357h3v3h-3zM1233 348h3v3h-3zM1352 342h3v3h-3zM1349 351h3v3h-3zM1424 342h3v3h-3zM1320 351h3v3h-3zM1395 348h3v3h-3zM1372 356h3v3h-3zM1270 344h3v3h-3zM1319 354h3v3h-3zM1215 349h3v3h-3zM1328 356h3v3h-3zM1345 352h3v3h-3zM1312 354h3v3h-3zM1408 348h3v3h-3zM1224 346h3v3h-3zM1380 351h3v3h-3zM1422 348h3v3h-3zM1271 350h3v3h-3zM1412 356h3v3h-3zM1361 349h3v3h-3zM1447 357h3v3h-3zM1218 349h3v3h-3zM1340 355h3v3h-3zM1317 344h3v3h-3zM1414 350h3v3h-3zM1425 353h3v3h-3zM1294 353h3v3h-3zM1389 342h3v3h-3zM1220 354h3v3h-3zM1423 344h3v3h-3zM1359 348h3v3h-3zM1225 351h3v3h-3zM1443 355h3v3h-3zM1402 343h3v3h-3zM1297 351h3v3h-3zM1259 355h3v3h-3zM1369 352h3v3h-3zM1411 344h3v3h-3zM1436 356h3v3h-3zM1263 355h3v3h-3zM1357 354h3v3h-3zM1298 356h3v3h-3zM1277 349h3v3h-3zM1390 349h3v3h-3zM1201 350h3v3h-3zM1351 346h3v3h-3zM1314 356h3v3h-3zM1412 341h3v3h-3zM1393 342h3v3h-3zM1353 349h3v3h-3zM1324 353h3v3h-3zM1309 348h3v3h-3zM1335 356h3v3h-3zM1269 345h3v3h-3zM1413 352h3v3h-3zM1255 351h3v3h-3zM1280 350h3v3h-3zM1199 346h3v3h-3zM1296 350h3v3h-3zM1211 354h3v3h-3zM1279 354h3v3h-3zM1262 352h3v3h-3zM1334 350h3v3h-3zM1264 341h3v3h-3zM1405 346h3v3h-3zM1386 344h3v3h-3zM1391 344h3v3h-3zM1311 357h3v3h-3zM1427 357h3v3h-3zM1350 343h3v3h-3zM1245 357h3v3h-3zM1255 345h3v3h-3zM1445 343h3v3h-3zM1225 356h3v3h-3zM1211 352h3v3h-3zM1243 342h3v3h-3zM1363 347h3v3h-3zM1236 345h3v3h-3zM1436 354h3v3h-3zM1356 347h3v3h-3zM1445 354h3v3h-3zM1422 350h3v3h-3zM1257 346h3v3h-3zM1347 356h3v3h-3zM1373 348h3v3h-3zM1266 346h3v3h-3zM1396 356h3v3h-3zM1377 349h3v3h-3zM1434 352h3v3h-3zM1404 341h3v3h-3zM1342 347h3v3h-3zM1240 342h3v3h-3zM1353 349h3v3h-3zM1264 341h3v3h-3zM1248 355h3v3h-3zM1312 351h3v3h-3zM1355 347h3v3h-3zM1319 351h3v3h-3zM1378 350h3v3h-3zM1205 344h3v3h-3zM1220 350h3v3h-3zM1278 344h3v3h-3zM1291 352h3v3h-3zM1416 342h3v3h-3zM1216 352h3v3h-3zM1321 348h3v3h-3zM1419 341h3v3h-3zM1220 350h3v3h-3zM1280 345h3v3h-3zM1317 355h3v3h-3zM1284 355h3v3h-3zM1424 341h3v3h-3zM1333 356h3v3h-3zM1256 352h3v3h-3zM1335 353h3v3h-3zM1334 347h3v3h-3zM1436 351h3v3h-3zM1326 357h3v3h-3zM1305 345h3v3h-3zM1209 355h3v3h-3zM1387 355h3v3h-3zM1399 342h3v3h-3zM1278 346h3v3h-3zM1417 342h3v3h-3zM1233 344h3v3h-3zM1246 349h3v3h-3zM1362 343h3v3h-3zM1276 345h3v3h-3zM1266 345h3v3h-3zM1366 341h3v3h-3zM1290 354h3v3h-3zM1270 352h3v3h-3zM1344 341h3v3h-3zM1291 351h3v3h-3zM1331 349h3v3h-3zM1371 342h3v3h-3zM1249 348h3v3h-3zM1279 357h3v3h-3zM1206 351h3v3h-3zM1295 350h3v3h-3zM1447 344h3v3h-3zM1262 357h3v3h-3zM1367 346h3v3h-3zM1253 356h3v3h-3zM1206 341h3v3h-3zM1226 342h3v3h-3zM1363 356h3v3h-3zM1276 353h3v3h-3zM1227 354h3v3h-3zM1323 348h3v3h-3zM1325 344h3v3h-3zM1366 348h3v3h-3zM1290 342h3v3h-3zM1310 346h3v3h-3zM1324 357h3v3h-3zM1433 341h3v3h-3zM1444 349h3v3h-3zM1307 344h3v3h-3zM1388 349h3v3h-3zM1363 341h3v3h-3zM1413 356h3v3h-3zM1338 350h3v3h-3zM1271 344h3v3h-3zM1202 348h3v3h-3zM1377 345h3v3h-3zM1349 348h3v3h-3zM1379 343h3v3h-3zM1270 348h3v3h-3zM1210 354h3v3h-3zM1446 345h3v3h-3zM1328 343h3v3h-3zM1268 352h3v3h-3zM1281 343h3v3h-3zM1237 348h3v3h-3zM1303 346h3v3h-3zM1378 356h3v3h-3zM1427 348h3v3h-3zM1278 342h3v3h-3zM1406 353h3v3h-3zM1414 352h3v3h-3zM1428 344h3v3h-3zM1234 341h3v3h-3zM1262 343h3v3h-3zM1231 351h3v3h-3zM1281 350h3v3h-3zM1412 347h3v3h-3zM1330 349h3v3h-3zM1249 353h3v3h-3zM1417 352h3v3h-3zM1312 347h3v3h-3zM1276 348h3v3h-3zM1407 342h3v3h-3zM1329 354h3v3h-3zM1438 344h3v3h-3zM1311 351h3v3h-3zM1346 348h3v3h-3zM1308 350h3v3h-3zM1229 351h3v3h-3zM1395 342h3v3h-3zM1351 344h3v3h-3zM1275 353h3v3h-3zM1399 343h3v3h-3zM1359 343h3v3h-3zM1207 348h3v3h-3zM1413 349h3v3h-3zM1253 350h3v3h-3zM1439 352h3v3h-3zM1242 349h3v3h-3zM1386 348h3v3h-3zM1446 348h3v3h-3zM1407 355h3v3h-3zM1325 353h3v3h-3zM1365 341h3v3h-3zM1255 348h3v3h-3zM1200 356h3v3h-3zM1444 352h3v3h-3zM1402 356h3v3h-3zM1207 349h3v3h-3zM1418 351h3v3h-3zM1260 352h3v3h-3zM1370 354h3v3h-3zM1263 345h3v3h-3zM1245 354h3v3h-3zM1416 341h3v3h-3zM1207 355h3v3h-3zM1423 345h3v3h-3zM1389 344h3v3h-3zM1419 349h3v3h-3zM1345 344h3v3h-3zM1325 346h3v3h-3zM1445 342h3v3h-3zM1248 345h3v3h-3zM1330 345h3v3h-3zM1362 352h3v3h-3zM1364 349h3v3h-3zM1212 357h3v3h-3zM1219 346h3v3h-3z" fill="#ff1493"/>
<path d="M1242.5 315.0 1242.5 335.0" stroke="#ff1493" stroke-width="2" fill="none"/>
<path d="M1361.0 312.0 1361.0 330.0" stroke="#ff1493" stroke-width="3" fill="none"/>
<path d="M1195.0 322.0 1195.0 335.0" stroke="#ff1493" stroke-width="2" fill="none"/>
<path d="M1451.5 357V361M1452.5 357V361M1453.5 357V361M1454.5 357V361M1455.5 358V361M1456.5 358V361M1457.5 358V361M1458.5 358V361M1459.5 357V361M1460.5 357V361M1461.5 357V361M1462.5 357V361M1463.5 357V362M1464.5 357V362M1465.5 357V362M1466.5 356V362M1467.5 356V361M1468.5 355V361M1469.5 354V361M1470.5 353V361M1471.5 352V361" stroke="#ff1493" fill="none"/>
<path d="M904.5 401V412M905.5 401V412M906.5 401V412M907.5 401V412M908.5 399V410M909.5 399V410M910.5 399V410M911.5 399V410M912.5 405V412M913.5 405V412M914.5 405V412M915.5 405V412M916.5 400V412M917.5 400V412M918.5 400V412M919.5 400V412M920.5 401V409M921.5 401V409M922.5 401V409M923.5 401V409M924.5 403V409M925.5 403V409M926.5 403V409M927.5 403V409M928.5 404V411M929.5 404V411M930.5 404V411M931.5 404V411M932.5 403V411M933.5 403V411M934.5 403V411M935.5 403V411M936.5 401V412M937.5 401V412M938.5 400V412M939.5 399V412M940.5 400V414M941.5 399V414M942.5 398V414M943.5 398V414M944.5 395V410M945.5 395V410M946.5 395V410M947.5 395V410M948.5 397V410M949.5 397V410M950.5 397V410M951.5 397V410M952.5 397V411M953.5 397V411M954.5 397V411M955.5 397V411M956.5 399V413M957.5 399V413M958.5 399V413M959.5 399V413M960.5 397V410M961.5 397V410M962.5 397V410M963.5 397V410M964.5 396V414M965.5 396V414M966.5 396V414M967.5 396V414M968.5 395V406M969.5 395V406M970.5 395V406M971.5 395V406M972.5 396V409M973.5 396V409M974.5 396V409M975.5 396V409M976.5 400V409M977.5 400V409M978.5 400V409M979.5 400V409M980.5 397V411M981.5 397V411M982.5 397V411M983.5 397V411M984.5 399V411M985.5 399V411M986.5 399V411M987.5 399V411M988.5 399V407M989.5 399V407M990.5 399V407M991.5 399V407M992.5 397V412M993.5 397V412M994.5 397V412M995.5 397V412M996.5 397V411M997.5 397V411M998.5 397V411M999.5 397V411M1000.5 396V413M1001.5 396V413M1002.5 396V413M1003.5 396V413M1004.5 394V411M1005.5 394V411M1006.5 394V411M1007.5 394V411M1008.5 397V413M1009.5 397V413M1010.5 397V413M1011.5 397V413M1012.5 395V411M1013.5 395V411M1014.5 395V411M1015.5 395V411M1016.5 397V413M1017.5 397V413M1018.5 397V413M1019.5 397V413M1020.5 397V408M1021.5 397V408M1022.5 397V408M1023.5 397V408M1024.5 396V412M1025.5 396V412M1026.5 396V412M1027.5 396V412M1028.5 396V409M1029.5 396V409M1030.5 396V409M1031.5 396V409M1032.5 400V410M1033.5 400V410M1034.5 400V410M1035.5 400V410M1036.5 393V409M1037.5 393V409M1038.5 393V409M1039.5 393V409M1040.5 397V410M1041.5 397V410M1042.5 397V410M1043.5 397V410M1044.5 394V410M1045.5 394V410M1046.5 394V410M1047.5 394V410M1048.5 396V411M1049.5 396V411M1050.5 396V411M1051.5 395V411M1052.5 394V410M1053.5 394V410M1054.5 393V410M1055.5 393V410M1056.5 395V410M1057.5 395V410M1058.5 395V410M1059.5 394V410M1060.5 393V410M1061.5 393V410M1062.5 393V410M1063.5 393V410M1064.5 394V409M1065.5 394V409M1066.5 394V409M1067.5 394V409M1068.5 396V410M1069.5 396V410M1070.5 396V410M1071.5 396V410M1072.5 394V411M1073.5 394V411M1074.5 394V411M1075.5 394V411M1076.5 393V409M1077.5 393V409M1078.5 393V409M1079.5 393V409M1080.5 394V410M1081.5 394V410M1082.5 394V410M1083.5 394V410M1084.5 394V413M1085.5 394V413M1086.5 394V413M1087.5 394V413" stroke="#00c800" fill="none"/>
<path d="M1046 411h3v3h-3zM1062 390h3v3h-3zM1038 409h3v3h-3zM1076 413h3v3h-3zM933 400h3v3h-3zM1062 391h3v3h-3zM938 413h3v3h-3zM1029 394h3v3h-3zM904 397h3v3h-3zM1018 415h3v3h-3zM934 414h3v3h-3zM944 392h3v3h-3zM1031 413h3v3h-3zM986 411h3v3h-3zM1065 390h3v3h-3zM1019 393h3v3h-3zM1084 413h3v3h-3zM1054 415h3v3h-3zM911 397h3v3h-3zM996 414h3v3h-3zM1072 412h3v3h-3zM914 402h3v3h-3zM1061 390h3v3h-3zM966 393h3v3h-3zM1062 389h3v3h-3zM1032 409h3v3h-3zM1035 411h3v3h-3zM969 392h3v3h-3zM957 396h3v3h-3zM910 396h3v3h-3z" fill="#00c800"/>
<path d="M1088.5 407V411M1089.5 407V411M1090.5 407V411M1091.5 407V411M1092.5 405V410M1093.5 405V410M1094.5 405V410M1095.5 405V410M1096.5 406V410M1097.5 406V410M1098.5 406V410M1099.5 406V410M1100.5 407V412M1101.5 407V412M1102.5 407V412M1103.5 407V412M1104.5 407V410M1105.5 407V410M1106.5 407V410M1107.5 407V410M1108.5 407V410M1109.5 407V410M1110.5 407V410M1111.5 407V410M1112.5 408V411M1113.5 408V411M1114.5 408V411M1115.5 408V411M1116.5 408V410M1117.5 408V410M1118.5 408V410M1119.5 408V410M1120.5 408V409M1121.5 408V409M1122.5 408V409M1123.5 408V409M1124.5 408V412M1125.5 408V412M1126.5 408V412M1127.5 408V412M1128.5 408V412M1129.5 408V412M1130.5 408V412M1131.5 408V412M1132.5 408V410M1133.5 408V410M1134.5 408V410M1135.5 408V410M1136.5 406V411M1137.5 406V411M1138.5 406V411M1139.5 406V411M1140.5 408V411M1141.5 408V411M1142.5 408V411M1143.5 408V411M1144.5 406V411M1145.5 406V411M1146.5 406V411M1147.5 406V411M1148.5 407V410M1149.5 407V410M1150.5 407V410M1151.5 407V410M1152.5 406V412M1153.5 406V412M1154.5 406V412M1155.5 406V412M1156.5 405V410M1157.5 405V410M1158.5 405V410M1159.5 405V410M1160.5 406V409M1161.5 406V409M1162.5 406V409M1163.5 406V409M1164.5 407V411M1165.5 407V411M1166.5 407V411M1167.5 407V411M1168.5 407V412M1169.5 407V412M1170.5 407V412M1171.5 407V412M1172.5 408V411M1173.5 408V411M1174.5 407V411M1175.5 407V411M1176.5 405V411M1177.5 405V411M1178.5 405V411M1179.5 405V411M1180.5 405V411M1181.5 405V411M1182.5 405V411M1183.5 405V411M1184.5 406V412M1185.5 406V412M1186.5 406V412M1187.5 405V412M1188.5 405V412M1189.5 405V412M1190.5 405V412M1191.5 404V412M1192.5 403V410M1193.5 403V410M1194.5 403V410M1195.5 403V410M1196.5 403V410M1197.5 403V410M1198.5 403V410M1199.5 403V410M1200.5 404V412M1201.5 404V412M1202.5 404V412M1203.5 404V412M1204.5 402V411M1205.5 402V411M1206.5 402V411M1207.5 402V411M1208.5 405V411M1209.5 405V411M1210.5 405V411M1211.5 405V411M1212.5 404V411M1213.5 404V411M1214.5 404V411M1215.5 404V411M1216.5 404V411M1217.5 404V411M1218.5 404V411M1219.5 404V411M1220.5 406V411M1221.5 406V411M1222.5 406V411M1223.5 406V411M1224.5 405V411M1225.5 405V411M1226.5 405V411M1227.5 405V411M1228.5 403V412M1229.5 403V412M1230.5 403V412M1231.5 403V412M1232.5 403V411M1233.5 403V411M1234.5 403V411M1235.5 403V411M1236.5 402V412M1237.5 402V412M1238.5 402V412M1239.5 402V412M1240.5 404V409M1241.5 404V409M1242.5 404V409M1243.5 404V409M1244.5 405V411M1245.5 405V411M1246.5 405V411M1247.5 405V411M1248.5 401V411M1249.5 401V411M1250.5 401V411M1251.5 401V411M1252.5 403V411M1253.5 403V411M1254.5 403V411M1255.5 403V411M1256.5 403V411M1257.5 403V411M1258.5 403V411M1259.5 403V411M1260.5 401V412M1261.5 401V412M1262.5 401V412M1263.5 401V412M1264.5 403V411M1265.5 403V411M1266.5 403V411M1267.5 403V411M1268.5 402V410M1269.5 402V410M1270.5 402V410M1271.5 402V410M1272.5 404V412M1273.5 404V412M1274.5 404V412M1275.5 404V412M1276.5 402V409M1277.5 402V409M1278.5 402V409M1279.5 402V409M1280.5 403V411M1281.5 403V411M1282.5 403V411M1283.5 403V411M1284.5 402V409M1285.5 402V409M1286.5 402V409M1287.5 402V409M1288.5 401V410M1289.5 401V410M1290.5 401V410M1291.5 401V410M1292.5 405V413M1293.5 405V413M1294.5 405V413M1295.5 405V413M1296.5 402V411M1297.5 402V411M1298.5 402V411M1299.5 402V411M1300.5 403V410M1301.5 403V410M1302.5 403V410M1303.5 403V410M1304.5 403V411M1305.5 403V411M1306.5 403V411M1307.5 403V411M1308.5 403V412M1309.5 403V412M1310.5 403V412M1311.5 403V412M1312.5 403V410M1313.5 403V410M1314.5 403V410M1315.5 403V410M1316.5 403V410M1317.5 403V410M1318.5 403V410M1319.5 403V410M1320.5 404V412M1321.5 404V412M1322.5 404V412M1323.5 404V412M1324.5 405V410M1325.5 405V410M1326.5 404V410M1327.5 404V410M1328.5 404V413M1329.5 404V413M1330.5 404V413M1331.5 404V413M1332.5 401V410M1333.5 401V410M1334.5 401V410M1335.5 401V410M1336.5 404V410M1337.5 404V410M1338.5 404V410M1339.5 404V410M1340.5 403V413M1341.5 403V413M1342.5 403V413M1343.5 403V413M1344.5 403V411M1345.5 403V411M1346.5 403V411M1347.5 403V411M1348.5 404V412M1349.5 404V412M1350.5 404V412M1351.5 404V412M1352.5 402V411M1353.5 402V411M1354.5 402V411M1355.5 402V411M1356.5 403V410M1357.5 403V410M1358.5 403V410M1359.5 403V410M1360.5 403V412M1361.5 403V412M1362.5 403V412M1363.5 403V412M1364.5 402V410M1365.5 402V410M1366.5 402V410M1367.5 402V410M1368.5 402V411M1369.5 402V411M1370.5 402V411M1371.5 402V411M1372.5 403V412M1373.5 403V412M1374.5 403V412M1375.5 403V412M1376.5 403V412M1377.5 403V412M1378.5 403V412M1379.5 403V412M1380.5 403V411M1381.5 403V411M1382.5 403V411M1383.5 403V411M1384.5 402V410M1385.5 402V410M1386.5 402V410M1387.5 402V410M1388.5 404V412M1389.5 404V412M1390.5 404V412M1391.5 404V412M1392.5 402V413M1393.5 402V413M1394.5 402V413M1395.5 402V413M1396.5 404V410M1397.5 404V410M1398.5 404V410M1399.5 404V410M1400.5 405V412M1401.5 405V412M1402.5 405V412M1403.5 405V412M1404.5 402V411M1405.5 402V411M1406.5 402V411M1407.5 402V411M1408.5 403V412M1409.5 403V412M1410.5 403V412M1411.5 403V412M1412.5 404V412M1413.5 404V412M1414.5 404V412M1415.5 404V412M1416.5 403V413M1417.5 403V413M1418.5 403V413M1419.5 403V413M1420.5 403V411M1421.5 403V411M1422.5 403V411M1423.5 403V411M1424.5 401V412M1425.5 401V412M1426.5 401V412M1427.5 400V412M1428.5 404V412M1429.5 404V412M1430.5 404V412M1431.5 404V412M1432.5 403V412M1433.5 403V412M1434.5 403V412M1435.5 403V413M1436.5 402V412M1437.5 402V412M1438.5 402V412M1439.5 402V412M1440.5 401V411M1441.5 401V411M1442.5 401V411M1443.5 401V411M1444.5 403V412M1445.5 403V412M1446.5 403V412M1447.5 403V412M1448.5 401V413M1449.5 401V413M1450.5 401V413" stroke="#00c800" fill="none"/>
<path d="M1180 403h3v3h-3zM1407 400h3v3h-3zM1448 412h3v3h-3zM1401 401h3v3h-3zM1387 399h3v3h-3zM1241 410h3v3h-3zM1183 411h3v3h-3zM1145 411h3v3h-3zM1181 411h3v3h-3zM1157 410h3v3h-3zM1258 410h3v3h-3zM1243 398h3v3h-3zM1134 405h3v3h-3zM1281 401h3v3h-3zM1447 399h3v3h-3zM1324 411h3v3h-3zM1345 412h3v3h-3zM1391 412h3v3h-3zM1338 400h3v3h-3zM1416 412h3v3h-3zM1239 413h3v3h-3zM1373 413h3v3h-3zM1303 409h3v3h-3zM1384 400h3v3h-3zM1208 411h3v3h-3zM1281 411h3v3h-3zM1246 411h3v3h-3zM1217 412h3v3h-3zM1330 402h3v3h-3zM1361 412h3v3h-3z" fill="#00c800"/>
<path d="M1451.5 406V411M1452.5 406V411M1453.5 405V411M1454.5 405V411M1455.5 405V411M1456.5 405V411M1457.5 405V411M1458.5 405V411M1459.5 405V411M1460.5 405V411M1461.5 405V411M1462.5 405V411M1463.5 405V412M1464.5 405V412M1465.5 405V412M1466.5 405V412M1467.5 404V410M1468.5 404V410M1469.5 404V410M1470.5 404V410M1471.5 404V412" stroke="#00c800" fill="none"/>
<path d="M1047.5 386.0 1047.5 397.0" stroke="#00c800" stroke-width="2" fill="none"/>
<path d="M1242.5 393.0 1242.5 401.0" stroke="#00c800" stroke-width="2" fill="none"/>
<path d="M1361.5 393.0 1361.5 401.0" stroke="#00c800" stroke-width="2" fill="none"/>
<path d="M904.0 418.5 920.0 418.0 940.0 417.0 980.0 416.0 1060.0 415.0 1086.0 414.0 1090.0 414.0 1100.0 417.0 1120.0 425.0 1140.0 431.0 1165.3 436.0 1180.0 433.6 1200.0 428.5 1240.0 423.5 1280.0 420.5 1340.0 418.6 1453.0 418.5 1463.0 424.0 1472.0 429.8" stroke="#ff0000" stroke-width="1" fill="none"/>
<path d="M904.0 449.5 1088.0 449.5 1100.0 451.0 1140.0 452.5 1180.0 452.5 1190.0 450.5 1340.0 450.5 1345.0 452.5 1472.0 452.5" stroke="#000" stroke-width="1" fill="none"/>
<path d="M904.0 451.0 1000.0 451.5 1100.0 452.5 1200.0 453.5 1472.0 454.5" stroke="#0000ff" stroke-width="1" fill="none"/>
<path d="M904.5 477V488M905.5 477V488M906.5 477V488M907.5 477V488M908.5 474V487M909.5 474V487M910.5 474V487M911.5 474V487M912.5 473V490M913.5 473V490M914.5 473V490M915.5 473V490M916.5 474V489M917.5 474V489M918.5 474V489M919.5 474V489M920.5 476V486M921.5 476V486M922.5 476V486M923.5 476V486M924.5 473V486M925.5 473V486M926.5 473V486M927.5 473V486M928.5 477V489M929.5 477V489M930.5 477V489M931.5 477V489M932.5 475V488M933.5 475V488M934.5 475V488M935.5 475V488M936.5 476V490M937.5 476V490M938.5 476V490M939.5 476V490M940.5 475V490M941.5 475V490M942.5 475V490M943.5 475V490M944.5 475V488M945.5 475V488M946.5 475V488M947.5 475V488M948.5 476V486M949.5 476V486M950.5 476V486M951.5 476V486M952.5 471V488M953.5 471V488M954.5 471V488M955.5 471V488M956.5 477V488M957.5 477V488M958.5 477V488M959.5 477V488M960.5 476V489M961.5 476V489M962.5 476V489M963.5 476V489M964.5 475V486M965.5 475V486M966.5 475V486M967.5 475V486M968.5 478V487M969.5 478V487M970.5 478V487M971.5 478V487M972.5 477V489M973.5 477V489M974.5 477V489M975.5 477V489M976.5 477V489M977.5 477V489M978.5 477V489M979.5 477V489M980.5 475V490M981.5 475V490M982.5 475V490M983.5 475V490M984.5 477V485M985.5 477V485M986.5 477V485M987.5 477V485M988.5 476V486M989.5 476V486M990.5 476V486M991.5 476V486M992.5 475V487M993.5 475V487M994.5 475V487M995.5 475V487M996.5 477V484M997.5 477V484M998.5 477V484M999.5 477V484M1000.5 476V487M1001.5 476V487M1002.5 476V487M1003.5 476V487M1004.5 473V487M1005.5 473V487M1006.5 473V487M1007.5 473V487M1008.5 476V486M1009.5 476V486M1010.5 476V486M1011.5 476V486M1012.5 476V486M1013.5 476V486M1014.5 476V486M1015.5 476V486M1016.5 478V487M1017.5 478V487M1018.5 478V487M1019.5 478V487M1020.5 478V489M1021.5 478V489M1022.5 478V489M1023.5 478V489M1024.5 474V488M1025.5 474V488M1026.5 474V488M1027.5 474V488M1028.5 477V486M1029.5 477V486M1030.5 477V486M1031.5 477V486M1032.5 473V488M1033.5 473V488M1034.5 473V488M1035.5 473V488M1036.5 475V486M1037.5 475V486M1038.5 475V486M1039.5 475V486M1040.5 477V487M1041.5 477V487M1042.5 477V487M1043.5 477V487M1044.5 476V486M1045.5 476V486M1046.5 476V486M1047.5 476V486M1048.5 473V488M1049.5 473V488M1050.5 473V488M1051.5 473V488M1052.5 477V487M1053.5 477V487M1054.5 477V487M1055.5 477V487M1056.5 476V484M1057.5 476V484M1058.5 476V484M1059.5 476V484M1060.5 476V486M1061.5 476V486M1062.5 476V486M1063.5 476V486M1064.5 477V486M1065.5 477V486M1066.5 477V486M1067.5 477V486M1068.5 477V485M1069.5 477V485M1070.5 477V485M1071.5 477V485M1072.5 476V488M1073.5 476V488M1074.5 476V488M1075.5 476V488M1076.5 477V488M1077.5 477V488M1078.5 477V488M1079.5 477V488M1080.5 475V487M1081.5 475V487M1082.5 475V487M1083.5 475V487M1084.5 476V490M1085.5 476V490M1086.5 476V490M1087.5 476V490" stroke="#ff0000" fill="none"/>
<path d="M1013 487h3v3h-3zM965 487h3v3h-3zM908 469h3v3h-3zM1021 494h3v3h-3zM1024 487h3v3h-3zM974 491h3v3h-3zM1029 486h3v3h-3zM974 491h3v3h-3zM964 486h3v3h-3zM991 471h3v3h-3zM924 469h3v3h-3zM1038 470h3v3h-3zM968 488h3v3h-3zM1019 474h3v3h-3zM1068 486h3v3h-3zM1082 468h3v3h-3zM985 473h3v3h-3zM963 490h3v3h-3zM995 471h3v3h-3zM956 475h3v3h-3zM968 489h3v3h-3zM1047 473h3v3h-3zM1055 487h3v3h-3zM1020 476h3v3h-3zM983 492h3v3h-3zM921 473h3v3h-3zM1081 472h3v3h-3zM937 489h3v3h-3zM1014 473h3v3h-3zM1055 473h3v3h-3z" fill="#ff0000"/>
<path d="M904.5 479V502M905.5 479V502M906.5 479V502M907.5 479V502M908.5 478V503M909.5 478V503M910.5 478V503M911.5 478V503M912.5 475V506M913.5 475V506M914.5 475V506M915.5 475V506M916.5 479V505M917.5 479V505M918.5 479V505M919.5 479V505M920.5 478V504M921.5 478V504M922.5 478V504M923.5 478V504M924.5 482V503M925.5 482V503M926.5 482V503M927.5 482V503M928.5 481V503M929.5 481V503M930.5 481V503M931.5 481V503M932.5 480V502M933.5 480V502M934.5 480V502M935.5 480V502M936.5 483V505M937.5 483V505M938.5 483V505M939.5 483V505M940.5 481V505M941.5 481V505M942.5 481V505M943.5 481V505M944.5 480V504M945.5 480V504M946.5 480V504M947.5 480V504M948.5 476V506M949.5 476V506M950.5 476V506M951.5 476V506M952.5 478V505M953.5 478V505M954.5 478V505M955.5 478V505M956.5 479V504M957.5 479V504M958.5 479V504M959.5 479V504M960.5 477V503M961.5 477V503M962.5 477V503M963.5 477V503M964.5 481V505M965.5 481V505M966.5 481V505M967.5 481V505M968.5 479V504M969.5 479V504M970.5 479V504M971.5 479V504M972.5 479V507M973.5 479V507M974.5 479V507M975.5 479V507M976.5 478V504M977.5 478V504M978.5 478V504M979.5 478V504M980.5 481V502M981.5 481V502M982.5 481V502M983.5 481V502M984.5 478V505M985.5 478V505M986.5 478V505M987.5 478V505M988.5 480V504M989.5 480V504M990.5 480V504M991.5 480V504M992.5 481V503M993.5 481V503M994.5 481V503M995.5 481V503M996.5 480V506M997.5 480V506M998.5 480V506M999.5 480V506M1000.5 477V503M1001.5 477V503M1002.5 477V503M1003.5 477V503M1004.5 480V504M1005.5 480V504M1006.5 480V504M1007.5 480V504M1008.5 477V504M1009.5 477V504M1010.5 477V504M1011.5 477V504M1012.5 481V504M1013.5 481V504M1014.5 481V504M1015.5 481V504M1016.5 479V506M1017.5 479V506M1018.5 479V506M1019.5 479V506M1020.5 478V507M1021.5 478V507M1022.5 478V507M1023.5 478V507M1024.5 479V505M1025.5 479V505M1026.5 479V505M1027.5 479V505M1028.5 480V506M1029.5 480V506M1030.5 480V506M1031.5 480V506M1032.5 479V504M1033.5 479V504M1034.5 479V504M1035.5 479V504M1036.5 478V503M1037.5 478V503M1038.5 478V503M1039.5 478V503M1040.5 479V503M1041.5 479V503M1042.5 479V503M1043.5 479V503M1044.5 480V507M1045.5 480V507M1046.5 480V507M1047.5 480V507M1048.5 479V505M1049.5 479V505M1050.5 479V505M1051.5 479V505M1052.5 481V505M1053.5 481V505M1054.5 481V505M1055.5 481V505M1056.5 477V504M1057.5 477V504M1058.5 477V504M1059.5 477V504M1060.5 479V506M1061.5 479V506M1062.5 479V506M1063.5 479V506M1064.5 479V505M1065.5 479V505M1066.5 479V505M1067.5 479V505M1068.5 479V505M1069.5 479V505M1070.5 479V505M1071.5 479V505M1072.5 480V505M1073.5 480V505M1074.5 480V505M1075.5 480V505M1076.5 477V503M1077.5 477V503M1078.5 477V503M1079.5 477V503M1080.5 479V507M1081.5 479V507M1082.5 479V507M1083.5 479V507M1084.5 479V506M1085.5 479V506M1086.5 479V506M1087.5 479V506" stroke="#0000ff" fill="none"/>
<path d="M1067 476h3v3h-3zM931 502h3v3h-3zM1044 477h3v3h-3zM914 507h3v3h-3zM991 475h3v3h-3zM1071 505h3v3h-3zM1030 476h3v3h-3zM933 476h3v3h-3zM1039 503h3v3h-3zM1069 476h3v3h-3zM935 502h3v3h-3zM1050 505h3v3h-3zM928 477h3v3h-3zM938 507h3v3h-3zM1045 506h3v3h-3zM1045 506h3v3h-3zM914 472h3v3h-3zM983 502h3v3h-3zM1044 474h3v3h-3zM919 473h3v3h-3zM1022 474h3v3h-3zM927 502h3v3h-3zM1058 475h3v3h-3zM944 475h3v3h-3zM1046 478h3v3h-3zM908 472h3v3h-3zM1025 475h3v3h-3zM904 502h3v3h-3zM1052 479h3v3h-3zM954 473h3v3h-3zM1030 478h3v3h-3zM978 476h3v3h-3zM1085 507h3v3h-3zM914 473h3v3h-3zM1004 477h3v3h-3zM1065 476h3v3h-3zM1040 476h3v3h-3zM1000 502h3v3h-3zM906 476h3v3h-3zM1015 505h3v3h-3zM1009 472h3v3h-3zM961 473h3v3h-3zM982 503h3v3h-3zM1018 474h3v3h-3zM1032 475h3v3h-3zM917 506h3v3h-3zM957 476h3v3h-3zM1025 477h3v3h-3zM915 506h3v3h-3zM1014 474h3v3h-3z" fill="#0000ff"/>
<path d="M1088.5 489V492M1089.5 489V492M1090.5 489V492M1091.5 489V492M1092.5 489V491M1093.5 489V491M1094.5 489V491M1095.5 489V491M1096.5 489V491M1097.5 489V491M1098.5 489V491M1099.5 489V491M1100.5 489V492M1101.5 489V492M1102.5 489V492M1103.5 489V492M1104.5 489V492M1105.5 489V492M1106.5 489V492M1107.5 489V492M1108.5 489V491M1109.5 489V491M1110.5 489V491M1111.5 489V491M1112.5 489V492M1113.5 489V492M1114.5 489V492M1115.5 489V492M1116.5 489V492M1117.5 489V492M1118.5 489V492M1119.5 489V492M1120.5 489V491M1121.5 489V491M1122.5 489V491M1123.5 489V491M1124.5 489V491M1125.5 489V491M1126.5 489V491M1127.5 489V491M1128.5 489V492M1129.5 489V492M1130.5 489V492M1131.5 489V492M1132.5 489V491M1133.5 489V491M1134.5 489V491M1135.5 489V491M1136.5 489V491" stroke="#ff0000" fill="none"/>
<path d="M1088.5 498V500M1089.5 498V500M1090.5 498V500M1091.5 498V500M1092.5 498V500M1093.5 498V500M1094.5 498V500M1095.5 498V500M1096.5 498V501M1097.5 498V501M1098.5 498V501M1099.5 498V501M1100.5 498V501M1101.5 498V501M1102.5 498V501M1103.5 498V501M1104.5 498V500M1105.5 498V500M1106.5 498V500M1107.5 498V500M1108.5 498V500M1109.5 498V500M1110.5 498V500M1111.5 498V500M1112.5 498V501M1113.5 498V501M1114.5 498V501M1115.5 498V501M1116.5 498V501M1117.5 498V501M1118.5 498V501M1119.5 498V501M1120.5 498V501M1121.5 498V501M1122.5 498V501M1123.5 498V501M1124.5 498V500M1125.5 498V500M1126.5 498V500M1127.5 498V500M1128.5 498V500M1129.5 498V500M1130.5 498V500M1131.5 498V500M1132.5 498V501M1133.5 498V501M1134.5 498V501M1135.5 498V501M1136.5 498V501" stroke="#0000ff" fill="none"/>
<path d="M1137.5 479V501M1138.5 479V501M1139.5 479V501M1140.5 479V500M1141.5 475V498M1142.5 475V498M1143.5 475V498M1144.5 475V498M1145.5 478V500M1146.5 478V500M1147.5 478V500M1148.5 478V500M1149.5 476V496M1150.5 476V496M1151.5 476V495M1152.5 476V495M1153.5 477V494M1154.5 477V494M1155.5 477V494M1156.5 477V494M1157.5 474V496M1158.5 474V495M1159.5 474V495M1160.5 474V495M1161.5 475V498M1162.5 475V498M1163.5 475V498M1164.5 475V498M1165.5 477V496M1166.5 477V496M1167.5 477V495M1168.5 477V495M1169.5 478V497M1170.5 478V497M1171.5 478V497M1172.5 478V497M1173.5 476V494M1174.5 476V494M1175.5 476V493M1176.5 476V493M1177.5 477V493M1178.5 477V493M1179.5 477V493M1180.5 477V493M1181.5 477V493M1182.5 477V492M1183.5 477V492M1184.5 477V492M1185.5 477V493M1186.5 477V493M1187.5 477V493M1188.5 477V493M1189.5 477V493M1190.5 477V493M1191.5 477V493M1192.5 477V493M1193.5 477V494M1194.5 477V494M1195.5 477V494M1196.5 477V494M1197.5 477V490M1198.5 477V489M1199.5 477V489M1200.5 477V489M1201.5 477V493M1202.5 477V493M1203.5 476V493M1204.5 476V493M1205.5 476V490M1206.5 476V490M1207.5 476V490M1208.5 476V490M1209.5 477V490M1210.5 477V490M1211.5 477V490M1212.5 477V490M1213.5 476V490M1214.5 476V489M1215.5 476V489M1216.5 476V489M1217.5 479V488M1218.5 479V488M1219.5 479V488M1220.5 479V488M1221.5 477V491M1222.5 477V491M1223.5 477V491M1224.5 477V491M1225.5 475V489M1226.5 475V489M1227.5 475V489M1228.5 475V489M1229.5 480V490M1230.5 480V490M1231.5 480V490M1232.5 480V490M1233.5 477V489M1234.5 477V489M1235.5 477V489M1236.5 477V489M1237.5 474V487M1238.5 474V487M1239.5 474V487M1240.5 474V487M1241.5 475V491M1242.5 475V491M1243.5 475V491M1244.5 475V491M1245.5 477V489M1246.5 477V489M1247.5 477V489M1248.5 477V489M1249.5 476V490M1250.5 476V490M1251.5 476V490M1252.5 476V490M1253.5 478V490M1254.5 478V490M1255.5 478V490M1256.5 478V490M1257.5 475V489M1258.5 475V489M1259.5 475V489M1260.5 475V489M1261.5 478V489M1262.5 478V489M1263.5 478V489M1264.5 478V489M1265.5 475V490M1266.5 475V490M1267.5 475V490M1268.5 475V490M1269.5 479V491M1270.5 479V491M1271.5 479V491M1272.5 479V491M1273.5 478V490M1274.5 478V490M1275.5 478V490M1276.5 478V490M1277.5 477V489M1278.5 477V489M1279.5 477V489M1280.5 477V489M1281.5 477V489M1282.5 477V489M1283.5 477V489M1284.5 477V489M1285.5 477V490M1286.5 477V490M1287.5 477V490M1288.5 477V490M1289.5 478V490M1290.5 478V490M1291.5 478V490M1292.5 478V490M1293.5 474V492M1294.5 474V492M1295.5 474V492M1296.5 474V492M1297.5 477V489M1298.5 477V489M1299.5 477V489M1300.5 477V489M1301.5 477V486M1302.5 477V486M1303.5 477V486M1304.5 477V486M1305.5 478V487M1306.5 478V487M1307.5 478V487M1308.5 478V487M1309.5 478V489M1310.5 478V489M1311.5 478V489M1312.5 478V489M1313.5 475V488M1314.5 475V488M1315.5 475V488M1316.5 475V488M1317.5 477V490M1318.5 477V490M1319.5 477V490M1320.5 477V490M1321.5 475V487M1322.5 475V487M1323.5 475V487M1324.5 475V487M1325.5 477V489M1326.5 477V489M1327.5 477V489M1328.5 477V489M1329.5 476V490M1330.5 476V490M1331.5 476V490M1332.5 476V490M1333.5 478V486M1334.5 478V486M1335.5 478V486M1336.5 478V486M1337.5 476V490M1338.5 476V490M1339.5 476V490M1340.5 476V490M1341.5 477V489M1342.5 477V489M1343.5 477V489M1344.5 477V489M1345.5 475V488M1346.5 475V488M1347.5 475V488M1348.5 475V488M1349.5 476V488M1350.5 476V488M1351.5 476V488M1352.5 476V488M1353.5 478V488M1354.5 478V488M1355.5 478V488M1356.5 478V488M1357.5 478V491M1358.5 478V491M1359.5 478V491M1360.5 478V491M1361.5 475V489M1362.5 475V489M1363.5 475V489M1364.5 475V489M1365.5 477V491M1366.5 477V491M1367.5 477V491M1368.5 477V491M1369.5 475V488M1370.5 475V488M1371.5 475V488M1372.5 475V488M1373.5 475V486M1374.5 475V486M1375.5 475V486M1376.5 475V486M1377.5 477V488M1378.5 477V488M1379.5 477V488M1380.5 477V488M1381.5 479V489M1382.5 479V489M1383.5 479V489M1384.5 479V489M1385.5 476V488M1386.5 476V488M1387.5 476V488M1388.5 476V488M1389.5 475V491M1390.5 475V491M1391.5 475V491M1392.5 475V491M1393.5 479V488M1394.5 479V488M1395.5 479V488M1396.5 479V488M1397.5 477V487M1398.5 477V487M1399.5 477V487M1400.5 477V487M1401.5 476V488M1402.5 476V488M1403.5 476V488M1404.5 476V488M1405.5 478V486M1406.5 478V486M1407.5 478V486M1408.5 478V486M1409.5 476V488M1410.5 476V488M1411.5 476V488M1412.5 476V488M1413.5 474V487M1414.5 474V487M1415.5 474V487M1416.5 474V487M1417.5 475V487M1418.5 475V487M1419.5 475V487M1420.5 475V487M1421.5 476V489M1422.5 476V489M1423.5 476V489M1424.5 476V489M1425.5 478V486M1426.5 478V486M1427.5 478V486M1428.5 478V486M1429.5 476V486M1430.5 476V486M1431.5 476V486M1432.5 476V486M1433.5 476V486M1434.5 476V486M1435.5 476V486M1436.5 476V486M1437.5 475V489M1438.5 475V489M1439.5 475V489M1440.5 475V489M1441.5 475V486M1442.5 475V486M1443.5 475V486M1444.5 475V486M1445.5 476V487M1446.5 476V487M1447.5 476V487M1448.5 476V487M1449.5 477V489M1450.5 477V489" stroke="#ff0000" fill="none"/>
<path d="M1352 488h3v3h-3zM1323 489h3v3h-3zM1375 491h3v3h-3zM1405 486h3v3h-3zM1297 490h3v3h-3zM1266 472h3v3h-3zM1436 486h3v3h-3zM1212 474h3v3h-3zM1385 487h3v3h-3zM1150 498h3v3h-3zM1324 472h3v3h-3zM1383 489h3v3h-3zM1363 488h3v3h-3zM1188 493h3v3h-3zM1185 493h3v3h-3zM1332 470h3v3h-3zM1448 470h3v3h-3zM1145 501h3v3h-3zM1384 488h3v3h-3zM1240 470h3v3h-3zM1191 495h3v3h-3zM1294 491h3v3h-3zM1283 490h3v3h-3zM1267 472h3v3h-3zM1239 472h3v3h-3zM1355 490h3v3h-3zM1213 491h3v3h-3zM1406 485h3v3h-3zM1418 486h3v3h-3zM1342 474h3v3h-3z" fill="#ff0000"/>
<path d="M1137.5 474V505M1138.5 474V505M1139.5 474V505M1140.5 474V505M1141.5 474V506M1142.5 474V506M1143.5 474V506M1144.5 474V506M1145.5 475V507M1146.5 475V507M1147.5 475V507M1148.5 475V507M1149.5 472V505M1150.5 472V505M1151.5 472V505M1152.5 472V505M1153.5 479V506M1154.5 479V506M1155.5 479V506M1156.5 479V506M1157.5 474V506M1158.5 474V506M1159.5 474V506M1160.5 474V506M1161.5 478V506M1162.5 478V506M1163.5 478V506M1164.5 478V506M1165.5 477V505M1166.5 477V505M1167.5 477V505M1168.5 477V505M1169.5 476V505M1170.5 476V505M1171.5 476V505M1172.5 476V505M1173.5 477V504M1174.5 477V504M1175.5 477V504M1176.5 477V504M1177.5 476V507M1178.5 476V507M1179.5 476V507M1180.5 476V507M1181.5 476V504M1182.5 476V504M1183.5 476V504M1184.5 476V504M1185.5 476V504M1186.5 476V504M1187.5 476V504M1188.5 476V504M1189.5 481V505M1190.5 481V505M1191.5 481V505M1192.5 481V505M1193.5 477V507M1194.5 477V507M1195.5 477V507M1196.5 477V507M1197.5 479V503M1198.5 479V503M1199.5 479V503M1200.5 479V503M1201.5 480V503M1202.5 480V503M1203.5 480V503M1204.5 480V503M1205.5 480V504M1206.5 480V504M1207.5 480V504M1208.5 480V504M1209.5 478V504M1210.5 478V504M1211.5 478V504M1212.5 478V504M1213.5 480V504M1214.5 480V504M1215.5 480V504M1216.5 480V504M1217.5 477V504M1218.5 477V504M1219.5 477V504M1220.5 477V504M1221.5 477V507M1222.5 477V507M1223.5 477V507M1224.5 477V507M1225.5 480V504M1226.5 480V504M1227.5 480V504M1228.5 480V504M1229.5 478V503M1230.5 478V503M1231.5 478V503M1232.5 478V503M1233.5 478V503M1234.5 478V503M1235.5 478V503M1236.5 478V503M1237.5 480V505M1238.5 480V505M1239.5 480V505M1240.5 480V505M1241.5 479V507M1242.5 479V507M1243.5 479V507M1244.5 479V507M1245.5 479V503M1246.5 479V503M1247.5 479V503M1248.5 479V503M1249.5 479V504M1250.5 479V504M1251.5 479V504M1252.5 479V504M1253.5 480V506M1254.5 480V506M1255.5 480V506M1256.5 480V506M1257.5 481V506M1258.5 481V506M1259.5 481V506M1260.5 481V506M1261.5 481V508M1262.5 481V508M1263.5 481V508M1264.5 481V508M1265.5 481V504M1266.5 481V504M1267.5 481V504M1268.5 481V504M1269.5 477V505M1270.5 477V505M1271.5 477V505M1272.5 477V505M1273.5 480V507M1274.5 480V507M1275.5 480V507M1276.5 480V507M1277.5 481V504M1278.5 481V504M1279.5 481V504M1280.5 481V504M1281.5 479V507M1282.5 479V507M1283.5 479V507M1284.5 479V507M1285.5 479V504M1286.5 479V504M1287.5 479V504M1288.5 479V504M1289.5 479V505M1290.5 479V505M1291.5 479V505M1292.5 479V505M1293.5 478V504M1294.5 478V504M1295.5 478V504M1296.5 478V504M1297.5 479V504M1298.5 479V504M1299.5 479V504M1300.5 479V504M1301.5 479V504M1302.5 479V504M1303.5 479V504M1304.5 479V504M1305.5 481V506M1306.5 481V506M1307.5 481V506M1308.5 481V506M1309.5 479V506M1310.5 479V506M1311.5 479V506M1312.5 479V506M1313.5 480V506M1314.5 480V506M1315.5 480V506M1316.5 480V506M1317.5 480V504M1318.5 480V504M1319.5 480V504M1320.5 480V504M1321.5 478V505M1322.5 478V505M1323.5 478V505M1324.5 478V505M1325.5 482V502M1326.5 482V502M1327.5 482V502M1328.5 482V502M1329.5 480V506M1330.5 480V506M1331.5 480V506M1332.5 480V506M1333.5 479V508M1334.5 479V508M1335.5 479V508M1336.5 479V508M1337.5 478V504M1338.5 478V504M1339.5 478V504M1340.5 478V504M1341.5 481V505M1342.5 481V505M1343.5 481V505M1344.5 481V505M1345.5 480V503M1346.5 480V503M1347.5 480V503M1348.5 480V503M1349.5 480V504M1350.5 480V504M1351.5 480V504M1352.5 480V504M1353.5 480V506M1354.5 480V506M1355.5 480V506M1356.5 480V506M1357.5 478V505M1358.5 478V505M1359.5 478V505M1360.5 478V505M1361.5 479V509M1362.5 479V509M1363.5 479V509M1364.5 479V509M1365.5 479V505M1366.5 479V505M1367.5 479V505M1368.5 479V505M1369.5 482V504M1370.5 482V504M1371.5 482V504M1372.5 482V504M1373.5 479V504M1374.5 479V504M1375.5 479V504M1376.5 479V504M1377.5 479V506M1378.5 479V506M1379.5 479V506M1380.5 479V506M1381.5 482V505M1382.5 482V505M1383.5 482V505M1384.5 482V505M1385.5 481V505M1386.5 481V505M1387.5 481V505M1388.5 481V505M1389.5 479V505M1390.5 479V505M1391.5 479V505M1392.5 479V505M1393.5 480V504M1394.5 480V504M1395.5 480V504M1396.5 480V504M1397.5 483V504M1398.5 483V504M1399.5 483V504M1400.5 483V504M1401.5 478V504M1402.5 478V504M1403.5 478V504M1404.5 478V504M1405.5 479V506M1406.5 479V506M1407.5 479V506M1408.5 479V506M1409.5 478V506M1410.5 478V506M1411.5 478V506M1412.5 478V506M1413.5 477V508M1414.5 477V508M1415.5 477V508M1416.5 477V508M1417.5 476V506M1418.5 476V506M1419.5 476V506M1420.5 476V506M1421.5 479V506M1422.5 479V506M1423.5 479V506M1424.5 479V506M1425.5 478V504M1426.5 478V504M1427.5 478V504M1428.5 478V504M1429.5 481V504M1430.5 481V504M1431.5 481V504M1432.5 481V504M1433.5 479V505M1434.5 479V505M1435.5 479V505M1436.5 479V505M1437.5 479V507M1438.5 479V507M1439.5 479V507M1440.5 479V507M1441.5 479V503M1442.5 479V503M1443.5 479V503M1444.5 479V503M1445.5 478V504M1446.5 478V504M1447.5 478V504M1448.5 478V504M1449.5 480V505M1450.5 480V505" stroke="#0000ff" fill="none"/>
<path d="M1247 504h3v3h-3zM1218 474h3v3h-3zM1375 504h3v3h-3zM1437 477h3v3h-3zM1142 470h3v3h-3zM1338 503h3v3h-3zM1436 505h3v3h-3zM1158 470h3v3h-3zM1258 506h3v3h-3zM1195 508h3v3h-3zM1275 509h3v3h-3zM1349 477h3v3h-3zM1277 477h3v3h-3zM1205 478h3v3h-3zM1303 503h3v3h-3zM1314 505h3v3h-3zM1163 476h3v3h-3zM1179 471h3v3h-3zM1221 508h3v3h-3zM1297 474h3v3h-3zM1232 504h3v3h-3zM1218 475h3v3h-3zM1417 474h3v3h-3zM1222 473h3v3h-3zM1157 471h3v3h-3zM1313 506h3v3h-3zM1156 476h3v3h-3zM1230 503h3v3h-3zM1186 472h3v3h-3zM1342 505h3v3h-3zM1436 474h3v3h-3zM1449 476h3v3h-3zM1324 475h3v3h-3zM1391 476h3v3h-3zM1325 505h3v3h-3zM1342 479h3v3h-3zM1318 477h3v3h-3zM1285 476h3v3h-3zM1161 506h3v3h-3zM1350 505h3v3h-3zM1254 508h3v3h-3zM1395 507h3v3h-3zM1199 477h3v3h-3zM1212 506h3v3h-3zM1300 505h3v3h-3zM1182 507h3v3h-3zM1204 504h3v3h-3zM1138 505h3v3h-3zM1405 476h3v3h-3zM1421 506h3v3h-3zM1397 506h3v3h-3zM1212 505h3v3h-3zM1360 475h3v3h-3zM1224 508h3v3h-3zM1172 472h3v3h-3zM1405 507h3v3h-3zM1246 505h3v3h-3zM1320 506h3v3h-3zM1151 466h3v3h-3zM1420 508h3v3h-3z" fill="#0000ff"/>
<path d="M1451.5 486V489M1452.5 486V489M1453.5 486V489M1454.5 486V489M1455.5 486V489M1456.5 486V489M1457.5 486V489M1458.5 486V489M1459.5 486V489" stroke="#ff0000" fill="none"/>
<path d="M1459.5 480V508M1460.5 480V509M1461.5 480V509M1462.5 480V509M1463.5 478V507M1464.5 478V507M1465.5 478V507M1466.5 477V507M1467.5 474V509M1468.5 474V509M1469.5 473V509M1470.5 473V509M1471.5 476V507" stroke="#0000ff" fill="none"/>
<path d="M904.5 556V560M905.5 556V560M906.5 556V560M907.5 556V560M908.5 556V559M909.5 556V559M910.5 556V559M911.5 556V559M912.5 556V559M913.5 556V559M914.5 556V559M915.5 556V559M916.5 556V559M917.5 556V559M918.5 556V559M919.5 556V559M920.5 556V560M921.5 556V560M922.5 556V560M923.5 556V560M924.5 556V559M925.5 556V559M926.5 556V559M927.5 556V559M928.5 557V559M929.5 557V559M930.5 557V559M931.5 557V559M932.5 556V560M933.5 556V560M934.5 556V560M935.5 556V560M936.5 556V560M937.5 556V560M938.5 556V560M939.5 556V560M940.5 556V559M941.5 556V559M942.5 556V559M943.5 556V559M944.5 556V560M945.5 556V560M946.5 556V560M947.5 556V560M948.5 557V559M949.5 557V559M950.5 557V559M951.5 557V559M952.5 556V560M953.5 556V560M954.5 556V560M955.5 556V560M956.5 556V561M957.5 556V561M958.5 556V561M959.5 556V561M960.5 556V559M961.5 556V559M962.5 556V559M963.5 556V559M964.5 556V559M965.5 556V559M966.5 556V559M967.5 556V559M968.5 556V560M969.5 556V560M970.5 556V560M971.5 556V560M972.5 555V560M973.5 555V560M974.5 555V560M975.5 555V560M976.5 556V559M977.5 556V559M978.5 556V559M979.5 556V559M980.5 556V559M981.5 556V559M982.5 556V559M983.5 556V559M984.5 555V560M985.5 555V560M986.5 555V560M987.5 555V560M988.5 556V559M989.5 556V559M990.5 556V559M991.5 556V559M992.5 557V559M993.5 557V559M994.5 557V559M995.5 557V559M996.5 556V559M997.5 556V559M998.5 556V559M999.5 556V559M1000.5 556V560M1001.5 556V560M1002.5 556V560M1003.5 556V560M1004.5 557V560M1005.5 557V560M1006.5 557V560M1007.5 557V560M1008.5 556V559M1009.5 556V559M1010.5 556V559M1011.5 556V559M1012.5 556V559M1013.5 556V559M1014.5 556V559M1015.5 556V559M1016.5 556V560M1017.5 556V560M1018.5 556V560M1019.5 556V560M1020.5 556V558M1021.5 556V558M1022.5 556V558M1023.5 556V558M1024.5 557V559M1025.5 557V559M1026.5 557V559M1027.5 557V559M1028.5 556V560M1029.5 556V560M1030.5 556V560M1031.5 556V560M1032.5 556V559M1033.5 556V559M1034.5 556V559M1035.5 556V559M1036.5 556V560M1037.5 556V560M1038.5 556V560M1039.5 556V560M1040.5 556V559M1041.5 556V559M1042.5 556V559M1043.5 556V559M1044.5 556V560M1045.5 556V560M1046.5 556V560M1047.5 556V560M1048.5 557V559M1049.5 557V559M1050.5 557V559M1051.5 557V559M1052.5 556V559M1053.5 556V559M1054.5 556V559M1055.5 556V559M1056.5 556V559M1057.5 556V559M1058.5 556V559M1059.5 556V559M1060.5 556V560M1061.5 556V560M1062.5 556V560M1063.5 556V560M1064.5 556V559M1065.5 556V559M1066.5 556V559M1067.5 556V559M1068.5 556V560M1069.5 556V560M1070.5 556V560M1071.5 556V560M1072.5 556V559M1073.5 556V559M1074.5 556V559M1075.5 556V559M1076.5 556V560M1077.5 556V560M1078.5 556V560M1079.5 556V560M1080.5 556V560M1081.5 556V560M1082.5 556V560M1083.5 556V560M1084.5 557V559M1085.5 557V559M1086.5 557V559M1087.5 557V559M1088.5 556V560M1089.5 556V560M1090.5 556V560M1091.5 556V560M1092.5 556V559M1093.5 556V559M1094.5 556V559M1095.5 556V559M1096.5 556V560M1097.5 556V560M1098.5 556V560M1099.5 556V560M1100.5 556V558M1101.5 556V558M1102.5 556V558M1103.5 556V558M1104.5 556V560M1105.5 556V560M1106.5 556V560M1107.5 556V560M1108.5 556V560M1109.5 556V560M1110.5 556V560M1111.5 556V560M1112.5 556V560M1113.5 556V560M1114.5 556V560M1115.5 556V560M1116.5 557V560M1117.5 557V560M1118.5 557V560M1119.5 557V560M1120.5 556V559M1121.5 556V559M1122.5 556V559M1123.5 556V559M1124.5 557V560M1125.5 557V560M1126.5 557V560M1127.5 557V560M1128.5 555V559M1129.5 555V559M1130.5 555V559M1131.5 555V559M1132.5 557V560M1133.5 557V560M1134.5 557V560M1135.5 557V560M1136.5 556V559M1137.5 556V559M1138.5 556V559M1139.5 556V559M1140.5 556V560M1141.5 556V560M1142.5 556V560M1143.5 556V560M1144.5 556V559M1145.5 556V559M1146.5 556V559M1147.5 556V559M1148.5 556V560M1149.5 556V560M1150.5 556V560M1151.5 556V560M1152.5 555V559M1153.5 555V559M1154.5 555V559M1155.5 555V559M1156.5 556V559M1157.5 556V559M1158.5 556V559M1159.5 556V559M1160.5 557V560M1161.5 557V560M1162.5 557V560M1163.5 557V560M1164.5 556V559M1165.5 556V559M1166.5 556V559M1167.5 556V559M1168.5 556V559M1169.5 556V559M1170.5 556V559M1171.5 556V559M1172.5 555V559M1173.5 555V559M1174.5 555V559M1175.5 555V559M1176.5 556V560M1177.5 556V560M1178.5 556V560M1179.5 556V560M1180.5 556V560M1181.5 556V560M1182.5 556V560M1183.5 556V560M1184.5 555V560M1185.5 555V560M1186.5 555V560M1187.5 555V560M1188.5 557V560M1189.5 557V560M1190.5 557V560M1191.5 557V560M1192.5 556V560M1193.5 556V560M1194.5 556V560M1195.5 556V560M1196.5 556V559M1197.5 556V559M1198.5 556V559M1199.5 556V559M1200.5 556V560M1201.5 556V560M1202.5 556V560M1203.5 556V560M1204.5 556V559M1205.5 556V559M1206.5 556V559M1207.5 556V559M1208.5 557V559M1209.5 557V559M1210.5 557V559M1211.5 557V559M1212.5 556V559M1213.5 556V559M1214.5 556V559M1215.5 556V559M1216.5 556V559M1217.5 556V559M1218.5 556V559M1219.5 556V559M1220.5 556V560M1221.5 556V560M1222.5 556V560M1223.5 556V560M1224.5 556V559M1225.5 556V559M1226.5 556V559M1227.5 556V559M1228.5 556V559M1229.5 556V559M1230.5 556V559M1231.5 556V559M1232.5 556V559M1233.5 556V559M1234.5 556V559M1235.5 556V559M1236.5 556V559M1237.5 556V559M1238.5 556V559M1239.5 556V559M1240.5 556V559M1241.5 556V559M1242.5 556V559M1243.5 556V559M1244.5 555V559M1245.5 555V559M1246.5 555V559M1247.5 555V559M1248.5 556V559M1249.5 556V559M1250.5 556V559M1251.5 556V559M1252.5 557V560M1253.5 557V560M1254.5 557V560M1255.5 557V560M1256.5 556V560M1257.5 556V560M1258.5 556V560M1259.5 556V560M1260.5 556V560M1261.5 556V560M1262.5 556V560M1263.5 556V560M1264.5 555V560M1265.5 555V560M1266.5 555V560M1267.5 555V560M1268.5 556V560M1269.5 556V560M1270.5 556V560M1271.5 556V560M1272.5 557V559M1273.5 557V559M1274.5 557V559M1275.5 557V559M1276.5 556V559M1277.5 556V559M1278.5 556V559M1279.5 556V559M1280.5 557V560M1281.5 557V560M1282.5 557V560M1283.5 557V560M1284.5 556V560M1285.5 556V560M1286.5 556V560M1287.5 556V560M1288.5 556V560M1289.5 556V560M1290.5 556V560M1291.5 556V560M1292.5 555V559M1293.5 555V559M1294.5 555V559M1295.5 555V559M1296.5 557V559M1297.5 557V559M1298.5 557V559M1299.5 557V559M1300.5 557V559M1301.5 557V559M1302.5 557V559M1303.5 557V559M1304.5 556V559M1305.5 556V559M1306.5 556V559M1307.5 556V559M1308.5 556V559M1309.5 556V559M1310.5 556V559M1311.5 556V559M1312.5 556V560M1313.5 556V560M1314.5 556V560M1315.5 556V560M1316.5 557V560M1317.5 557V560M1318.5 557V560M1319.5 557V560M1320.5 556V560M1321.5 556V560M1322.5 556V560M1323.5 556V560M1324.5 556V559M1325.5 556V559M1326.5 556V559M1327.5 556V559M1328.5 556V560M1329.5 556V560M1330.5 556V560M1331.5 556V560M1332.5 556V559M1333.5 556V559M1334.5 556V559M1335.5 556V559M1336.5 556V560M1337.5 556V560M1338.5 556V560M1339.5 556V560M1340.5 557V558M1341.5 557V558M1342.5 557V558M1343.5 557V558M1344.5 556V560M1345.5 556V560M1346.5 556V560M1347.5 556V560M1348.5 555V560M1349.5 555V560M1350.5 555V560M1351.5 555V560M1352.5 556V559M1353.5 556V559M1354.5 556V559M1355.5 556V559M1356.5 556V560M1357.5 556V560M1358.5 556V560M1359.5 556V560M1360.5 557V560M1361.5 557V560M1362.5 557V560M1363.5 557V560M1364.5 557V560M1365.5 557V560M1366.5 557V560M1367.5 557V560M1368.5 555V559M1369.5 555V559M1370.5 555V559M1371.5 555V559M1372.5 555V559M1373.5 555V559M1374.5 555V559M1375.5 555V559M1376.5 556V559M1377.5 556V559M1378.5 556V559M1379.5 556V559M1380.5 557V559M1381.5 557V559M1382.5 557V559M1383.5 557V559M1384.5 555V561M1385.5 555V561M1386.5 555V561M1387.5 555V561M1388.5 555V559M1389.5 555V559M1390.5 555V559M1391.5 555V559M1392.5 556V559M1393.5 556V559M1394.5 556V559M1395.5 556V559M1396.5 556V559M1397.5 556V559M1398.5 556V559M1399.5 556V559M1400.5 555V560M1401.5 555V560M1402.5 555V560M1403.5 555V560M1404.5 556V559M1405.5 556V559M1406.5 556V559M1407.5 556V559M1408.5 556V560M1409.5 556V560M1410.5 556V560M1411.5 556V560M1412.5 557V558M1413.5 557V558M1414.5 557V558M1415.5 557V558M1416.5 556V559M1417.5 556V559M1418.5 556V559M1419.5 556V559M1420.5 556V559M1421.5 556V559M1422.5 556V559M1423.5 556V559M1424.5 557V559M1425.5 557V559M1426.5 557V559M1427.5 557V559M1428.5 555V559M1429.5 555V559M1430.5 555V559M1431.5 555V559M1432.5 555V559M1433.5 555V559M1434.5 555V559M1435.5 555V559M1436.5 556V559M1437.5 556V559M1438.5 556V559M1439.5 556V559M1440.5 556V561M1441.5 556V561M1442.5 556V561M1443.5 556V561M1444.5 556V559M1445.5 556V559M1446.5 556V559M1447.5 556V559M1448.5 556V559M1449.5 556V559M1450.5 556V559M1451.5 556V559M1452.5 556V560M1453.5 556V560M1454.5 556V560M1455.5 556V560M1456.5 556V559M1457.5 556V559M1458.5 556V559M1459.5 556V559M1460.5 556V560M1461.5 556V560M1462.5 556V560M1463.5 556V560M1464.5 555V559M1465.5 555V559M1466.5 555V559M1467.5 555V559M1468.5 556V560M1469.5 556V560M1470.5 556V560M1471.5 556V560" stroke="#ffa500" fill="none"/>
<path d="M904.0 586.5 1472.0 586.5" stroke="#0000ff" stroke-width="1" fill="none"/>
<path d="M904.0 628.5 968.2 628.5 968.2 638.5 969.5 638.5 969.5 622.5 1041.0 622.5 1041.0 619.5 1041.0 622.5 1048.5 622.5 1048.5 618.5 1052.3 618.5 1052.3 617.5 1140.4 617.5 1140.4 649.5 1143.0 649.5 1143.0 655.0 1147.0 655.0 1147.0 649.5 1151.0 649.5 1151.0 645.5 1155.0 645.5 1155.0 649.5 1160.0 649.5 1160.0 644.5 1168.0 644.5 1168.0 641.5 1177.0 641.5 1177.0 638.5 1187.5 638.5 1187.5 633.5 1193.5 633.5 1193.5 630.5 1461.2 630.5 1461.2 641.5 1464.6 641.5 1464.6 652.5 1466.0 652.5 1466.0 657.0 1466.0 652.5 1467.3 652.5 1467.3 636.5 1469.0 636.5 1469.0 641.0 1471.0 641.0 1471.0 636.5 1472.0 636.5" stroke="#0000ff" stroke-width="1" fill="none"/>
<path d="M944.5 617.5 944.5 633.5" stroke="#0000ff" stroke-width="1" fill="none"/>
<path d="M943.5 622.0 943.5 628.0" stroke="#0000ff" stroke-width="1" fill="none"/>
<path d="M1052.5 614.0 1052.5 618.0" stroke="#0000ff" stroke-width="1" fill="none"/>
<path d="M1064.5 614.0 1064.5 617.5" stroke="#0000ff" stroke-width="1" fill="none"/>
<path d="M904.0 663.5 964.5 663.5 964.5 692.0 965.5 692.0 965.5 707.5 1472.0 707.5" stroke="#008c00" stroke-width="1" fill="none"/>
<path d="M943.5 663.5 943.5 707.5" stroke="#008c00" stroke-width="1" fill="none"/>
<path d="M942.5 663.5 942.5 688.0" stroke="#008c00" stroke-width="1" fill="none"/>
<path d="M904.0 734.5 1472.0 734.5" stroke="#008c00" stroke-width="1" fill="none"/>
<path d="M904.0 779.5 1472.0 779.5" stroke="#ff0000" stroke-width="1" fill="none"/>
<path d="M904.0 820.5 1472.0 820.5" stroke="#ff0000" stroke-width="1" fill="none"/>
<path d="M904.0 860.5 1472.0 860.5" stroke="#ff00ff" stroke-width="1" fill="none"/>
<path d="M670 423.5h-19M670 421.5h-5M670 419.5h-5M670 417.5h-5M670 415.5h-5M670 413.5h-9M670 411.5h-5M670 410.5h-5M670 408.5h-5M670 406.5h-5M670 404.5h-9M670 402.5h-5M670 400.5h-5M670 398.5h-5M670 396.5h-5M670 394.5h-9M670 392.5h-5M670 390.5h-5M670 388.5h-5M670 386.5h-5M670 384.5h-19" stroke="#000" fill="none"/>
<text x="671.4" y="389.6" font-family="'DejaVu Sans Mono','Liberation Mono',monospace" font-size="13.3" text-anchor="start">0.4</text>
<text x="671.4" y="399.2" font-family="'DejaVu Sans Mono','Liberation Mono',monospace" font-size="13.3" text-anchor="start">0.3</text>
<text x="671.4" y="408.9" font-family="'DejaVu Sans Mono','Liberation Mono',monospace" font-size="13.3" text-anchor="start">0.2</text>
<text x="671.4" y="418.5" font-family="'DejaVu Sans Mono','Liberation Mono',monospace" font-size="13.3" text-anchor="start">0.1</text>
<text x="671.4" y="428.1" font-family="'DejaVu Sans Mono','Liberation Mono',monospace" font-size="13.3" text-anchor="start">0</text>
<text transform="translate(700 405.5) rotate(90)" font-family="'DejaVu Sans Mono','Liberation Mono',monospace" font-size="11" text-anchor="middle">Y[mm]</text>
<rect x="697.5" y="30.5" width="100" height="66" fill="none" stroke="#000"/>
<path d="M798.5 31V97.5H698" stroke="#000" fill="none"/>
<path d="M704.0 49.5H744.0" stroke="#ff0000" fill="none"/>
<path d="M704.0 77.5H744.0" stroke="#0000ff" fill="none"/>
<text x="791.5" y="57.3" font-family="'DejaVu Sans Mono','Liberation Mono',monospace" font-size="24" text-anchor="end" style="stroke-width:0">LER</text>
<text x="791.5" y="85.0" font-family="'DejaVu Sans Mono','Liberation Mono',monospace" font-size="24" text-anchor="end" style="stroke-width:0">HER</text>
<rect x="726.5" y="87.5" width="71" height="27" fill="none" stroke="#000"/>
<path d="M798.5 88V115.5H727" stroke="#000" fill="none"/>
<circle cx="734.3" cy="100.5" r="2.5" fill="#ff6347"/>
<text x="758.6" y="105.0" font-family="'DejaVu Sans Mono','Liberation Mono',monospace" font-size="13.3" text-anchor="start">Ave.</text>
<rect x="662.5" y="128.5" width="135" height="45" fill="none" stroke="#000"/>
<path d="M798.5 129V174.5H663" stroke="#000" fill="none"/>
<circle cx="670.4" cy="142.0" r="2.5" fill="#3f60d0"/>
<text x="694.3" y="146.5" font-family="'DejaVu Sans Mono','Liberation Mono',monospace" font-size="13.3" text-anchor="start">QMD7P_1(nC)</text>
<circle cx="670.4" cy="159.6" r="2.5" fill="#00c800"/>
<text x="694.3" y="164.1" font-family="'DejaVu Sans Mono','Liberation Mono',monospace" font-size="13.3" text-anchor="start">QMF10P_2(nC)</text>
<rect x="694.5" y="180.5" width="103" height="27" fill="none" stroke="#000"/>
<path d="M798.5 181V208.5H695" stroke="#000" fill="none"/>
<circle cx="702.2" cy="193.7" r="2.5" fill="#a020f0"/>
<text x="726.6" y="198.2" font-family="'DejaVu Sans Mono','Liberation Mono',monospace" font-size="13.3" text-anchor="start">Inj.Rate</text>
<rect x="691.5" y="290.5" width="106" height="45" fill="none" stroke="#000"/>
<path d="M798.5 291V336.5H692" stroke="#000" fill="none"/>
<path d="M698.0 303.5H737.5" stroke="#ff0000" fill="none"/>
<path d="M698.0 321.5H737.5" stroke="#0000ff" fill="none"/>
<text x="742.7" y="308.0" font-family="'DejaVu Sans Mono','Liberation Mono',monospace" font-size="13.3" text-anchor="start">FW_225</text>
<text x="742.7" y="326.0" font-family="'DejaVu Sans Mono','Liberation Mono',monospace" font-size="13.3" text-anchor="start">FW_135</text>
<rect x="726.5" y="232.5" width="71" height="62" fill="#fff" stroke="#000"/>
<path d="M798.5 233V295.5H727" stroke="#000" fill="none"/>
<circle cx="734.5" cy="245.6" r="2.5" fill="#00b0ee"/>
<text x="758.8" y="250.1" font-family="'DejaVu Sans Mono','Liberation Mono',monospace" font-size="13.3" text-anchor="start">DCCT</text>
<circle cx="734.5" cy="264.0" r="2.5" fill="#000"/>
<text x="758.8" y="268.5" font-family="'DejaVu Sans Mono','Liberation Mono',monospace" font-size="13.3" text-anchor="start">BCM1</text>
<text x="758.8" y="285.8" font-family="'DejaVu Sans Mono','Liberation Mono',monospace" font-size="13.3" text-anchor="start">BCM2</text>
<rect x="750.5" y="397.5" width="47" height="27" fill="none" stroke="#000"/>
<path d="M798.5 398V425.5H751" stroke="#000" fill="none"/>
<circle cx="758.4" cy="410.8" r="2.5" fill="#0000ff"/>
<text x="782.0" y="415.3" font-family="'DejaVu Sans Mono','Liberation Mono',monospace" font-size="13.3" text-anchor="start">X</text>
<rect x="1499.5" y="30.5" width="100" height="66" fill="none" stroke="#000"/>
<path d="M1600.5 31V97.5H1500" stroke="#000" fill="none"/>
<path d="M1506.0 49.5H1546.0" stroke="#0000ff" fill="none"/>
<path d="M1506.0 77.5H1546.0" stroke="#ff0000" fill="none"/>
<text x="1593.5" y="57.3" font-family="'DejaVu Sans Mono','Liberation Mono',monospace" font-size="24" text-anchor="end" style="stroke-width:0">HER</text>
<text x="1593.5" y="84.6" font-family="'DejaVu Sans Mono','Liberation Mono',monospace" font-size="24" text-anchor="end" style="stroke-width:0">LER</text>
<rect x="1528.5" y="85.5" width="71" height="27" fill="none" stroke="#000"/>
<path d="M1600.5 86V113.5H1529" stroke="#000" fill="none"/>
<circle cx="1536.1" cy="98.3" r="2.5" fill="#ff6347"/>
<text x="1560.0" y="102.8" font-family="'DejaVu Sans Mono','Liberation Mono',monospace" font-size="13.3" text-anchor="start">Ave.</text>
<rect x="1472.5" y="124.5" width="127" height="45" fill="none" stroke="#000"/>
<path d="M1600.5 125V170.5H1473" stroke="#000" fill="none"/>
<circle cx="1480.4" cy="137.3" r="2.5" fill="#00c800"/>
<text x="1504.3" y="141.8" font-family="'DejaVu Sans Mono','Liberation Mono',monospace" font-size="13.3" text-anchor="start">QMD8E_2(nC)</text>
<circle cx="1480.4" cy="155.4" r="2.5" fill="#3f60d0"/>
<text x="1504.3" y="159.9" font-family="'DejaVu Sans Mono','Liberation Mono',monospace" font-size="13.3" text-anchor="start">QMD8E_1(nC)</text>
<rect x="1496.5" y="175.5" width="103" height="27" fill="none" stroke="#000"/>
<path d="M1600.5 176V203.5H1497" stroke="#000" fill="none"/>
<circle cx="1504.6" cy="187.6" r="2.5" fill="#a020f0"/>
<text x="1528.5" y="192.1" font-family="'DejaVu Sans Mono','Liberation Mono',monospace" font-size="13.3" text-anchor="start">Inj.Rate</text>
<rect x="1493.5" y="279.5" width="106" height="46" fill="none" stroke="#000"/>
<path d="M1600.5 280V326.5H1494" stroke="#000" fill="none"/>
<path d="M1500.0 292.5H1540.0" stroke="#ff0000" fill="none"/>
<path d="M1500.0 310.5H1540.0" stroke="#0000ff" fill="none"/>
<text x="1544.8" y="297.0" font-family="'DejaVu Sans Mono','Liberation Mono',monospace" font-size="13.3" text-anchor="start">BW_180</text>
<text x="1544.8" y="314.7" font-family="'DejaVu Sans Mono','Liberation Mono',monospace" font-size="13.3" text-anchor="start">BW_270</text>
<rect x="1528.5" y="223.5" width="71" height="62" fill="#fff" stroke="#000"/>
<path d="M1600.5 224V286.5H1529" stroke="#000" fill="none"/>
<circle cx="1536.7" cy="236.4" r="2.5" fill="#00b0ee"/>
<text x="1560.5" y="240.9" font-family="'DejaVu Sans Mono','Liberation Mono',monospace" font-size="13.3" text-anchor="start">DCCT</text>
<circle cx="1536.7" cy="254.5" r="2.5" fill="#000"/>
<text x="1560.5" y="259.0" font-family="'DejaVu Sans Mono','Liberation Mono',monospace" font-size="13.3" text-anchor="start">BCM1</text>
<text x="1560.5" y="276.2" font-family="'DejaVu Sans Mono','Liberation Mono',monospace" font-size="13.3" text-anchor="start">BCM2</text>
<rect x="1480.5" y="329.5" width="119" height="27" fill="none" stroke="#000"/>
<path d="M1600.5 330V357.5H1481" stroke="#000" fill="none"/>
<circle cx="1488.2" cy="342.0" r="2.5" fill="#ff1493"/>
<text x="1512.5" y="346.5" font-family="'DejaVu Sans Mono','Liberation Mono',monospace" font-size="13.3" text-anchor="start">InjP BPM_d</text>
<rect x="1512.5" y="378.5" width="87" height="27" fill="none" stroke="#000"/>
<path d="M1600.5 379V406.5H1513" stroke="#000" fill="none"/>
<circle cx="1520.7" cy="391.3" r="2.5" fill="#00c800"/>
<text x="1544.3" y="395.8" font-family="'DejaVu Sans Mono','Liberation Mono',monospace" font-size="13.3" text-anchor="start">QI4E_d</text>
<path d="M1453.5 427V463M1453 427.5H1600M1599.5 427V491M1600.5 428V492M1474 490.5H1600M1474 491.5H1601" stroke="#000" fill="none"/>
<path d="M1460.0 440.5H1500.0" stroke="#ff0000" fill="none"/>
<path d="M1460.0 458.5H1500.0" stroke="#0000ff" fill="none"/>
<path d="M1460.0 476.5H1500.0" stroke="#000" fill="none"/>
<text x="1504.4" y="444.7" font-family="'DejaVu Sans Mono','Liberation Mono',monospace" font-size="13.3" text-anchor="start">SE1 middle</text>
<text x="1504.4" y="462.7" font-family="'DejaVu Sans Mono','Liberation Mono',monospace" font-size="13.3" text-anchor="start">D8 room</text>
<text x="1504.4" y="480.6" font-family="'DejaVu Sans Mono','Liberation Mono',monospace" font-size="13.3" text-anchor="start">SE1 P.cable</text>
<path d="M1472 510.5h-5M1472 508.5h-5M1472 506.5h-5M1472 504.5h-19M1472 503.5h-5M1472 501.5h-5M1472 499.5h-5M1472 497.5h-5M1472 495.5h-9M1472 493.5h-5M1472 492.5h-5M1472 490.5h-5M1472 488.5h-5M1472 486.5h-9M1472 484.5h-5M1472 483.5h-5M1472 481.5h-5M1472 479.5h-5M1472 477.5h-9M1472 475.5h-5M1472 473.5h-5M1472 472.5h-5M1472 470.5h-5M1472 468.5h-19M1472 466.5h-5M1472 464.5h-5M1472 463.5h-5" stroke="#000" fill="none"/>
<text x="1473.8" y="473.1" font-family="'DejaVu Sans Mono','Liberation Mono',monospace" font-size="13.3" text-anchor="start">0.4</text>
<text x="1473.8" y="482.2" font-family="'DejaVu Sans Mono','Liberation Mono',monospace" font-size="13.3" text-anchor="start">0.2</text>
<text x="1473.8" y="491.3" font-family="'DejaVu Sans Mono','Liberation Mono',monospace" font-size="13.3" text-anchor="start">0</text>
<text x="1473.8" y="500.4" font-family="'DejaVu Sans Mono','Liberation Mono',monospace" font-size="13.3" text-anchor="start">-0.2</text>
<text x="1473.8" y="509.5" font-family="'DejaVu Sans Mono','Liberation Mono',monospace" font-size="13.3" text-anchor="start">-0.4</text>
<text transform="translate(1510 488) rotate(90)" font-family="'DejaVu Sans Mono','Liberation Mono',monospace" font-size="11" text-anchor="middle">Y[mm]</text>
<rect x="1552.5" y="480.5" width="47" height="27" fill="none" stroke="#000"/>
<path d="M1600.5 481V508.5H1553" stroke="#000" fill="none"/>
<circle cx="1560.2" cy="493.2" r="2.5" fill="#0000ff"/>
<text x="1584.0" y="497.7" font-family="'DejaVu Sans Mono','Liberation Mono',monospace" font-size="13.3" text-anchor="start">X</text>
<text x="143.7" y="854.9" font-family="'DejaVu Sans Mono','Liberation Mono',monospace" font-size="19" style="stroke-width:0.12px">16<tspan font-size="15.2" dy="-9">h</tspan><tspan dy="9">0</tspan><tspan font-size="15.2" dy="-9">m</tspan><tspan dy="9">0</tspan><tspan font-size="15.2" dy="-9">s</tspan></text><text x="226.9" y="854.9" font-family="'DejaVu Sans Mono','Liberation Mono',monospace" font-size="19" style="stroke-width:0.12px" text-anchor="middle">17<tspan font-size="15.2" dy="-9">h</tspan></text><text x="289.9" y="854.9" font-family="'DejaVu Sans Mono','Liberation Mono',monospace" font-size="19" style="stroke-width:0.12px" text-anchor="middle">18<tspan font-size="15.2" dy="-9">h</tspan></text><text x="353.9" y="854.9" font-family="'DejaVu Sans Mono','Liberation Mono',monospace" font-size="19" style="stroke-width:0.12px" text-anchor="middle">19<tspan font-size="15.2" dy="-9">h</tspan></text><text x="416.9" y="854.9" font-family="'DejaVu Sans Mono','Liberation Mono',monospace" font-size="19" style="stroke-width:0.12px" text-anchor="middle">20<tspan font-size="15.2" dy="-9">h</tspan></text><text x="479.9" y="854.9" font-family="'DejaVu Sans Mono','Liberation Mono',monospace" font-size="19" style="stroke-width:0.12px" text-anchor="middle">21<tspan font-size="15.2" dy="-9">h</tspan></text><text x="542.9" y="854.9" font-family="'DejaVu Sans Mono','Liberation Mono',monospace" font-size="19" style="stroke-width:0.12px" text-anchor="middle">22<tspan font-size="15.2" dy="-9">h</tspan></text><text x="605.9" y="854.9" font-family="'DejaVu Sans Mono','Liberation Mono',monospace" font-size="19" style="stroke-width:0.12px" text-anchor="middle">23<tspan font-size="15.2" dy="-9">h</tspan></text><text x="653.6" y="854.9" font-family="'DejaVu Sans Mono','Liberation Mono',monospace" font-size="19" style="stroke-width:0.12px">0<tspan font-size="15.2" dy="-9">h</tspan><tspan dy="9">0</tspan><tspan font-size="15.2" dy="-9">m</tspan></text>
<text x="110.3" y="878" font-family="'DejaVu Sans Mono','Liberation Mono',monospace" font-size="18.4">2/20/2026</text>
<text x="643.2" y="877.5" font-family="'DejaVu Sans Mono','Liberation Mono',monospace" font-size="18.4">2/21</text>
<text x="945.7" y="905.7" font-family="'DejaVu Sans Mono','Liberation Mono',monospace" font-size="19" style="stroke-width:0.12px">16<tspan font-size="15.2" dy="-9">h</tspan><tspan dy="9">0</tspan><tspan font-size="15.2" dy="-9">m</tspan><tspan dy="9">0</tspan><tspan font-size="15.2" dy="-9">s</tspan></text><text x="1029.9" y="905.7" font-family="'DejaVu Sans Mono','Liberation Mono',monospace" font-size="19" style="stroke-width:0.12px" text-anchor="middle">17<tspan font-size="15.2" dy="-9">h</tspan></text><text x="1092.9" y="905.7" font-family="'DejaVu Sans Mono','Liberation Mono',monospace" font-size="19" style="stroke-width:0.12px" text-anchor="middle">18<tspan font-size="15.2" dy="-9">h</tspan></text><text x="1155.9" y="905.7" font-family="'DejaVu Sans Mono','Liberation Mono',monospace" font-size="19" style="stroke-width:0.12px" text-anchor="middle">19<tspan font-size="15.2" dy="-9">h</tspan></text><text x="1218.9" y="905.7" font-family="'DejaVu Sans Mono','Liberation Mono',monospace" font-size="19" style="stroke-width:0.12px" text-anchor="middle">20<tspan font-size="15.2" dy="-9">h</tspan></text><text x="1281.9" y="905.7" font-family="'DejaVu Sans Mono','Liberation Mono',monospace" font-size="19" style="stroke-width:0.12px" text-anchor="middle">21<tspan font-size="15.2" dy="-9">h</tspan></text><text x="1344.9" y="905.7" font-family="'DejaVu Sans Mono','Liberation Mono',monospace" font-size="19" style="stroke-width:0.12px" text-anchor="middle">22<tspan font-size="15.2" dy="-9">h</tspan></text><text x="1408.9" y="905.7" font-family="'DejaVu Sans Mono','Liberation Mono',monospace" font-size="19" style="stroke-width:0.12px" text-anchor="middle">23<tspan font-size="15.2" dy="-9">h</tspan></text><text x="1455.6" y="905.7" font-family="'DejaVu Sans Mono','Liberation Mono',monospace" font-size="19" style="stroke-width:0.12px">0<tspan font-size="15.2" dy="-9">h</tspan><tspan dy="9">0</tspan><tspan font-size="15.2" dy="-9">m</tspan></text>
<text x="44.4" y="447.3" font-family="'DejaVu Sans Mono','Liberation Mono',monospace" font-size="13">&#215;10<tspan font-size="10.5" dy="-6.6">6</tspan></text>
<text x="830.6" y="528.6" font-family="'DejaVu Sans Mono','Liberation Mono',monospace" font-size="13">&#215;10<tspan font-size="10.5" dy="-6.6">7</tspan></text>
<path d="M0 .5H1606M.5 0V912" stroke="#808080" fill="none"/>
<path d="M0 1.5H1606M1.5 1V912" stroke="#f4f4f4" fill="none"/>
<path d="M802 2V912h2V2z" fill="#e4e4e4"/>
<path d="M1604 2V912h1V2z" fill="#e6e6e6"/></svg></body></html>
